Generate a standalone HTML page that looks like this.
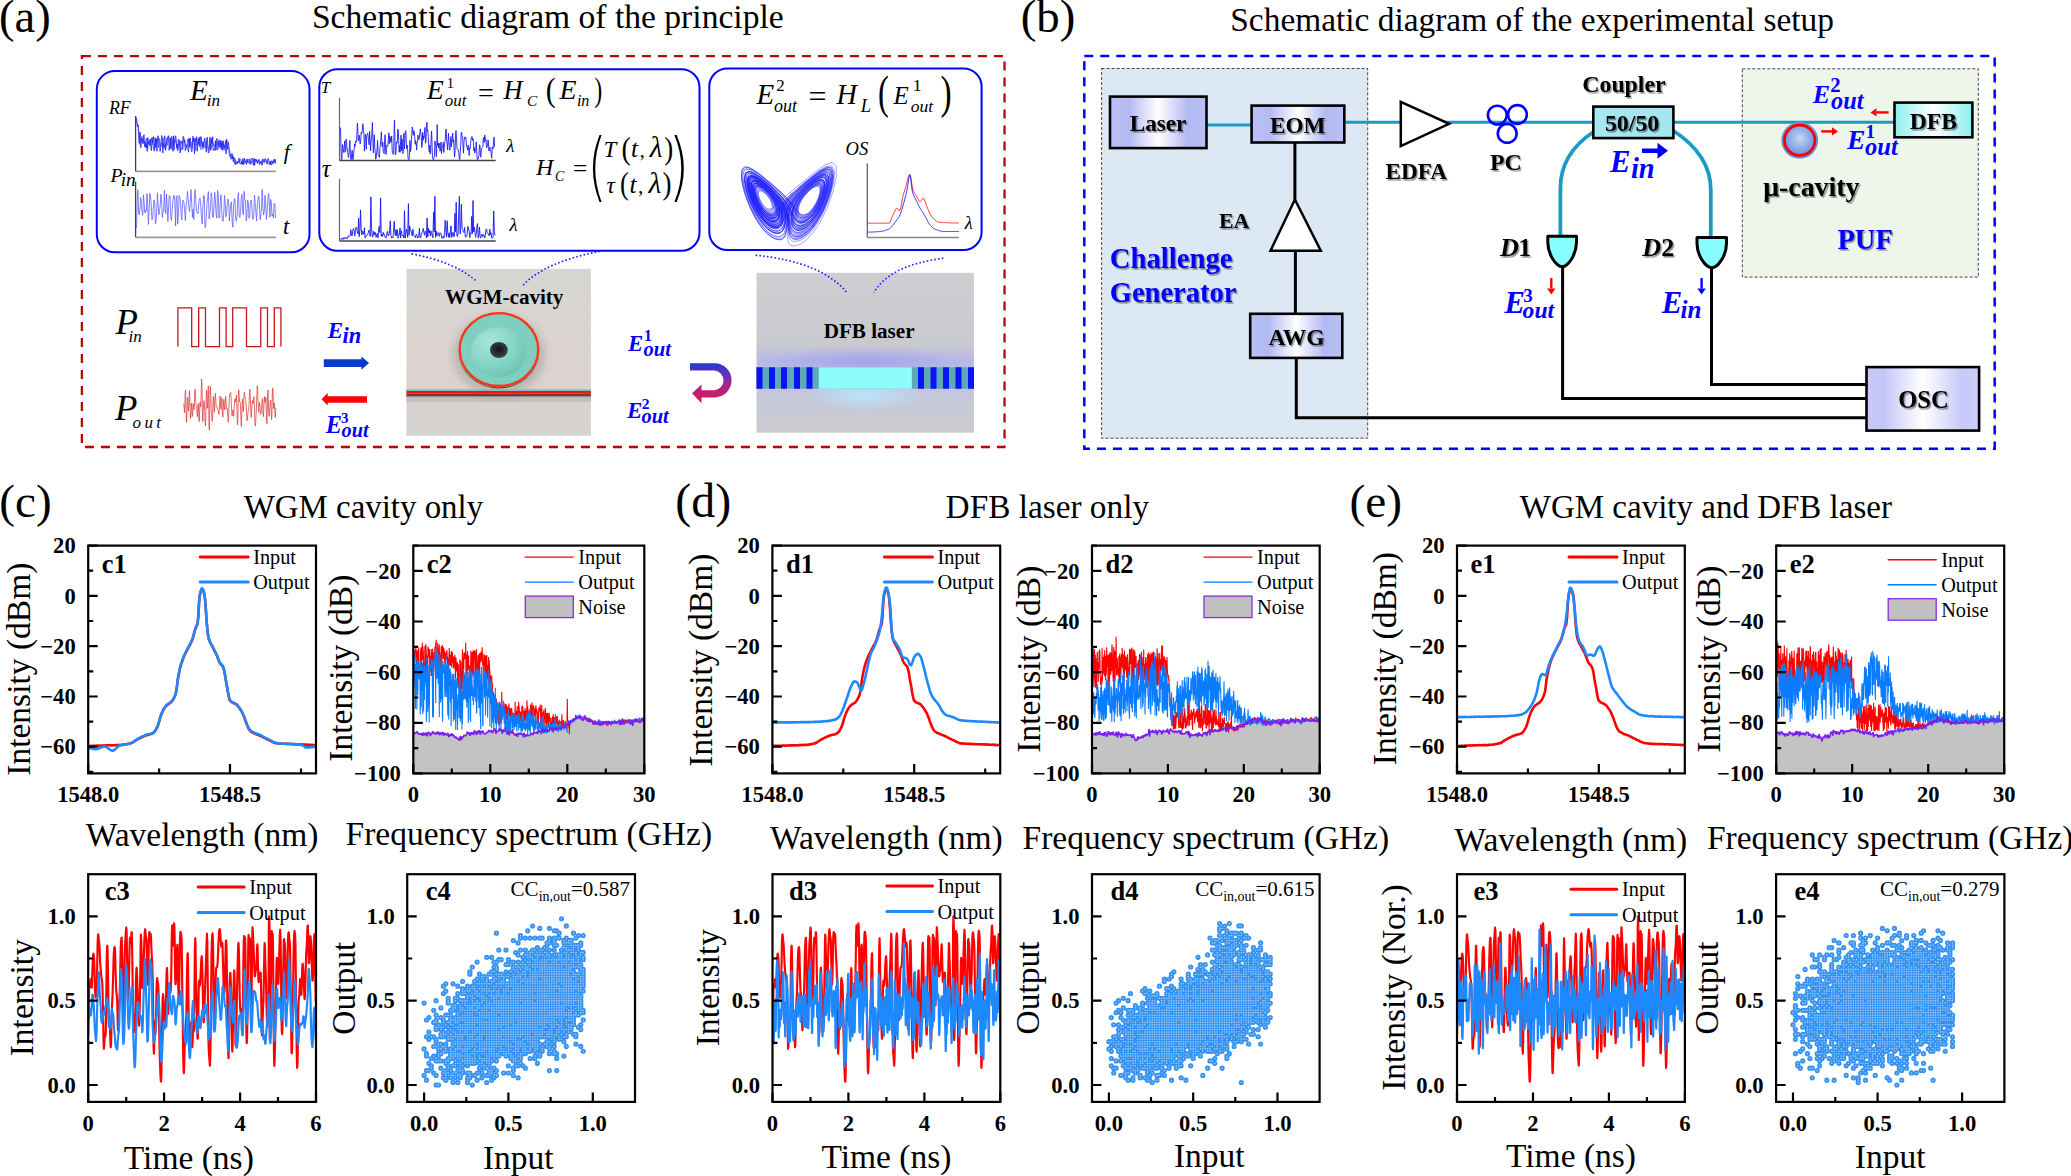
<!DOCTYPE html>
<html><head><meta charset="utf-8"><title>figure</title>
<style>html,body{margin:0;padding:0;background:#fff;}svg{display:block;}</style></head>
<body><svg width="2071" height="1176" viewBox="0 0 2071 1176" font-family='"Liberation Serif", serif'>
<defs><clipPath id="clc1"><rect x="88.2" y="545.6" width="227.8" height="227.8"/></clipPath>
<clipPath id="cld1"><rect x="772.4" y="545.6" width="227.8" height="227.8"/></clipPath>
<clipPath id="cle1"><rect x="1457" y="545.6" width="227.8" height="227.8"/></clipPath>
<clipPath id="clc2"><rect x="413.3" y="545.6" width="231" height="227.8"/></clipPath>
<clipPath id="cld2"><rect x="1092" y="545.6" width="227.7" height="227.8"/></clipPath>
<clipPath id="cle2"><rect x="1776.2" y="545.6" width="228" height="227.8"/></clipPath>
<clipPath id="clc3"><rect x="88.2" y="874.2" width="227.8" height="227.7"/></clipPath>
<clipPath id="cld3"><rect x="772.5" y="874.2" width="227.8" height="227.7"/></clipPath>
<clipPath id="cle3"><rect x="1457" y="874.2" width="227.9" height="227.7"/></clipPath>
<path id="spc4" d="M424.1 1075.4h0m0-26.5h0m0-45.8h0m2.4 77.1h0m0-9.6h0m0-14.5h0m0-2.4h0m0-16.9h0m0-16.8h0m2.4 50.6h0m0-7.3h0m0-24h0m0-7.3h0m0-14.4h0m2.4 50.6h0m0-2.4h0m0-7.3h0m0-21.7h0m2.4 36.2h0m0-16.9h0m0-9.6h0m0-9.7h0m0-14.4h0m0-12.1h0m2.4 74.7h0m0-9.6h0m0-14.5h0m0-19.2h0m0-2.4h0m0-9.7h0m0-2.4h0m0-4.8h0m0-2.4h0m0-4.8h0m0-14.5h0m2.4 84.3h0m0-24.1h0m0-4.8h0m0-2.4h0m0-4.8h0m0-4.8h0m0-16.9h0m0-2.4h0m2.4 43.4h0m0-7.3h0m0-7.2h0m0-4.8h0m0-4.8h0m0-7.3h0m0-2.4h0m0-4.8h0m0-2.4h0m0-9.6h0m0-9.7h0m2.5 69.9h0m0-4.8h0m0-36.2h0m0-2.4h0m0-2.4h0m0-4.8h0m0-4.8h0m0-2.4h0m0-26.5h0m0-7.3h0m2.4 94h0m0-2.4h0m0-2.4h0m0-2.4h0m0-2.4h0m0-7.3h0m0-2.4h0m0-9.6h0m0-2.4h0m0-2.4h0m0-2.4h0m0-9.7h0m0-9.6h0m0-9.6h0m0-24.1h0m0-7.3h0m2.4 89.2h0m0-4.8h0m0-2.4h0m0-4.9h0m0-2.4h0m0-19.2h0m0-2.5h0m0-4.8h0m0-4.8h0m0-4.8h0m0-7.2h0m0-12.1h0m0-2.4h0m0-2.4h0m2.4 79.5h0m0-7.2h0m0-12.1h0m0-2.4h0m0-2.4h0m0-2.4h0m0-2.4h0m0-9.6h0m0-2.5h0m0-2.4h0m0-4.8h0m0-4.8h0m0-2.4h0m0-2.4h0m0-2.4h0m0-2.4h0m0-4.9h0m2.4 72.3h0m0-9.6h0m0-7.2h0m0-7.3h0m0-2.4h0m0-2.4h0m0-2.4h0m0-7.2h0m0-4.8h0m0-2.5h0m0-4.8h0m0-7.2h0m0-4.8h0m0-9.7h0m0-2.4h0m0-2.4h0m0-21.7h0m2.4 94h0m0-12h0m0-2.5h0m0-7.2h0m0-2.4h0m0-2.4h0m0-2.4h0m0-4.8h0m0-2.4h0m0-4.9h0m0-2.4h0m0-2.4h0m0-4.8h0m0-4.8h0m0-2.4h0m0-2.4h0m0-9.7h0m0-2.4h0m0-4.8h0m0-2.4h0m2.4 84.3h0m0-7.2h0m0-4.8h0m0-7.3h0m0-4.8h0m0-2.4h0m0-2.4h0m0-4.8h0m0-2.4h0m0-2.4h0m0-2.4h0m0-2.4h0m0-2.5h0m0-2.4h0m0-4.8h0m0-2.4h0m0-4.8h0m0-2.4h0m0-2.4h0m0-2.4h0m0-2.5h0m0-14.4h0m0-4.8h0m0-7.3h0m2.4 91.6h0m0-2.4h0m0-4.8h0m0-2.4h0m0-2.4h0m0-2.5h0m0-7.2h0m0-2.4h0m0-4.8h0m0-2.4h0m0-2.4h0m0-2.4h0m0-2.4h0m0-2.5h0m0-2.4h0m0-2.4h0m0-2.4h0m0-2.4h0m0-2.4h0m0-4.8h0m0-2.4h0m0-7.3h0m0-2.4h0m0-2.4h0m0-4.8h0m2.4 72.3h0m0-2.4h0m0-4.8h0m0-4.9h0m0-4.8h0m0-4.8h0m0-2.4h0m0-4.8h0m0-2.4h0m0-2.4h0m0-2.5h0m0-2.4h0m0-4.8h0m0-2.4h0m0-2.4h0m0-4.8h0m0-2.4h0m0-2.4h0m0-4.9h0m0-2.4h0m0-7.2h0m0-7.2h0m0-2.4h0m0-2.4h0m0-7.3h0m2.5 81.9h0m0-2.4h0m0-2.4h0m0-2.4h0m0-2.4h0m0-2.4h0m0-2.4h0m0-2.4h0m0-2.4h0m0-2.4h0m0-7.3h0m0-2.4h0m0-2.4h0m0-2.4h0m0-2.4h0m0-2.4h0m0-2.4h0m0-2.4h0m0-2.4h0m0-2.5h0m0-2.4h0m0-4.8h0m0-2.4h0m0-2.4h0m0-7.2h0m0-2.4h0m2.4 91.5h0m0-2.4h0m0-2.4h0m0-4.8h0m0-7.2h0m0-2.5h0m0-2.4h0m0-2.4h0m0-2.4h0m0-2.4h0m0-2.4h0m0-2.4h0m0-2.4h0m0-2.4h0m0-2.4h0m0-2.4h0m0-2.5h0m0-2.4h0m0-2.4h0m0-2.4h0m0-2.4h0m0-2.4h0m0-2.4h0m0-2.4h0m0-2.4h0m0-2.4h0m0-2.5h0m0-2.4h0m0-2.4h0m0-2.4h0m0-4.8h0m0-2.4h0m0-2.4h0m0-4.8h0m0-2.4h0m0-2.5h0m2.4 91.6h0m0-2.4h0m0-2.4h0m0-9.7h0m0-2.4h0m0-2.4h0m0-2.4h0m0-2.4h0m0-4.8h0m0-2.4h0m0-2.4h0m0-2.4h0m0-2.4h0m0-2.5h0m0-2.4h0m0-4.8h0m0-2.4h0m0-2.4h0m0-2.4h0m0-2.4h0m0-2.4h0m0-2.4h0m0-2.5h0m0-2.4h0m0-2.4h0m0-2.4h0m0-9.6h0m0-4.8h0m0-2.4h0m0-14.5h0m0-2.4h0m2.4 113.2h0m0-21.7h0m0-2.4h0m0-2.4h0m0-4.8h0m0-2.4h0m0-4.8h0m0-2.4h0m0-2.4h0m0-2.4h0m0-2.5h0m0-2.4h0m0-2.4h0m0-2.4h0m0-2.4h0m0-2.4h0m0-2.4h0m0-2.4h0m0-2.4h0m0-2.4h0m0-2.5h0m0-2.4h0m0-2.4h0m0-2.4h0m0-2.4h0m0-2.4h0m0-2.4h0m0-2.4h0m0-7.2h0m0-2.5h0m0-19.2h0m2.4 108.4h0m0-12.1h0m0-2.4h0m0-2.4h0m0-2.4h0m0-2.4h0m0-2.4h0m0-2.4h0m0-4.8h0m0-2.4h0m0-2.4h0m0-4.9h0m0-2.4h0m0-2.4h0m0-2.4h0m0-2.4h0m0-2.4h0m0-2.4h0m0-2.4h0m0-7.3h0m0-4.8h0m0-2.4h0m0-4.8h0m0-4.8h0m0-2.4h0m0-2.4h0m0-2.5h0m0-4.8h0m2.4 98.8h0m0-7.2h0m0-21.7h0m0-9.6h0m0-2.4h0m0-2.5h0m0-4.8h0m0-2.4h0m0-2.4h0m0-4.8h0m0-2.4h0m0-2.4h0m0-4.9h0m0-2.4h0m0-2.4h0m0-2.4h0m0-2.4h0m0-2.4h0m0-4.8h0m0-2.4h0m0-2.4h0m0-7.3h0m0-4.8h0m0-16.9h0m2.4 110.9h0m0-4.8h0m0-4.9h0m0-4.8h0m0-2.4h0m0-4.8h0m0-2.4h0m0-2.4h0m0-2.4h0m0-2.4h0m0-2.4h0m0-2.5h0m0-2.4h0m0-2.4h0m0-2.4h0m0-2.4h0m0-2.4h0m0-2.4h0m0-2.4h0m0-2.4h0m0-2.4h0m0-2.5h0m0-4.8h0m0-2.4h0m0-2.4h0m0-7.2h0m0-2.4h0m0-4.8h0m0-4.9h0m0-9.6h0m2.4 103.6h0m0-4.8h0m0-9.7h0m0-2.4h0m0-2.4h0m0-4.8h0m0-2.4h0m0-2.4h0m0-2.4h0m0-2.4h0m0-2.4h0m0-2.4h0m0-2.5h0m0-2.4h0m0-2.4h0m0-2.4h0m0-2.4h0m0-2.4h0m0-2.4h0m0-2.4h0m0-2.4h0m0-2.4h0m0-2.5h0m0-2.4h0m0-2.4h0m0-4.8h0m0-2.4h0m0-2.4h0m0-2.4h0m0-2.4h0m0-2.4h0m0-2.4h0m0-2.5h0m0-2.4h0m0-4.8h0m0-2.4h0m2.4 91.6h0m0-7.3h0m0-2.4h0m0-7.2h0m0-2.4h0m0-2.4h0m0-2.4h0m0-2.4h0m0-7.3h0m0-2.4h0m0-2.4h0m0-2.4h0m0-2.4h0m0-2.4h0m0-4.8h0m0-2.4h0m0-2.5h0m0-2.4h0m0-2.4h0m0-2.4h0m0-4.8h0m0-2.4h0m0-2.4h0m0-4.8h0m0-2.4h0m0-4.9h0m0-7.2h0m2.4 106h0m0-7.2h0m0-12.1h0m0-2.4h0m0-2.4h0m0-2.4h0m0-7.2h0m0-2.4h0m0-2.4h0m0-2.4h0m0-2.4h0m0-2.5h0m0-2.4h0m0-2.4h0m0-2.4h0m0-2.4h0m0-2.4h0m0-2.4h0m0-4.8h0m0-2.4h0m0-2.5h0m0-2.4h0m0-2.4h0m0-2.4h0m0-2.4h0m0-2.4h0m0-2.4h0m0-4.8h0m0-2.4h0m0-2.4h0m0-2.5h0m0-2.4h0m0-2.4h0m0-2.4h0m0-21.7h0m2.5 118.1h0m0-2.4h0m0-2.4h0m0-4.8h0m0-2.5h0m0-2.4h0m0-2.4h0m0-2.4h0m0-2.4h0m0-2.4h0m0-2.4h0m0-2.4h0m0-2.4h0m0-2.4h0m0-2.4h0m0-2.5h0m0-2.4h0m0-2.4h0m0-2.4h0m0-2.4h0m0-2.4h0m0-2.4h0m0-2.4h0m0-2.4h0m0-2.4h0m0-2.5h0m0-4.8h0m0-2.4h0m0-2.4h0m0-7.2h0m0-4.8h0m0-2.4h0m0-4.9h0m0-9.6h0m2.4 106h0m0-7.2h0m0-2.4h0m0-9.7h0m0-4.8h0m0-2.4h0m0-2.4h0m0-2.4h0m0-2.4h0m0-2.4h0m0-2.4h0m0-2.4h0m0-2.5h0m0-2.4h0m0-2.4h0m0-2.4h0m0-2.4h0m0-2.4h0m0-2.4h0m0-2.4h0m0-2.4h0m0-2.4h0m0-2.5h0m0-2.4h0m0-2.4h0m0-2.4h0m0-2.4h0m0-4.8h0m0-2.4h0m0-2.4h0m0-2.4h0m0-7.3h0m0-2.4h0m0-7.2h0m0-2.4h0m0-14.5h0m2.4 120.5h0m0-2.4h0m0-7.2h0m0-9.7h0m0-2.4h0m0-2.4h0m0-2.4h0m0-2.4h0m0-2.4h0m0-2.4h0m0-2.4h0m0-2.4h0m0-2.5h0m0-2.4h0m0-2.4h0m0-2.4h0m0-2.4h0m0-2.4h0m0-2.4h0m0-2.4h0m0-2.4h0m0-2.4h0m0-2.5h0m0-2.4h0m0-2.4h0m0-2.4h0m0-2.4h0m0-2.4h0m0-2.4h0m0-2.4h0m0-4.8h0m0-2.4h0m0-2.5h0m0-4.8h0m0-2.4h0m0-7.2h0m0-4.8h0m0-4.9h0m2.4 113.3h0m0-4.8h0m0-9.7h0m0-4.8h0m0-2.4h0m0-7.2h0m0-2.4h0m0-2.4h0m0-2.4h0m0-2.5h0m0-2.4h0m0-2.4h0m0-2.4h0m0-2.4h0m0-2.4h0m0-2.4h0m0-2.4h0m0-2.4h0m0-2.4h0m0-2.5h0m0-2.4h0m0-2.4h0m0-2.4h0m0-2.4h0m0-2.4h0m0-2.4h0m0-2.4h0m0-2.4h0m0-2.4h0m0-4.9h0m0-2.4h0m0-4.8h0m0-4.8h0m0-4.8h0m0-2.4h0m0-4.9h0m0-28.9h0m2.4 122.9h0m0-2.4h0m0-2.4h0m0-4.8h0m0-2.4h0m0-2.4h0m0-2.4h0m0-2.5h0m0-2.4h0m0-2.4h0m0-4.8h0m0-2.4h0m0-2.4h0m0-2.4h0m0-2.4h0m0-4.9h0m0-2.4h0m0-2.4h0m0-2.4h0m0-2.4h0m0-2.4h0m0-4.8h0m0-2.4h0m0-2.4h0m0-2.4h0m0-4.9h0m0-7.2h0m0-2.4h0m0-14.5h0m0-9.6h0m2.4 101.2h0m0-2.4h0m0-2.4h0m0-2.4h0m0-2.4h0m0-2.4h0m0-2.5h0m0-2.4h0m0-2.4h0m0-2.4h0m0-2.4h0m0-2.4h0m0-2.4h0m0-2.4h0m0-2.4h0m0-2.4h0m0-2.5h0m0-2.4h0m0-2.4h0m0-2.4h0m0-2.4h0m0-2.4h0m0-2.4h0m0-2.4h0m0-12.1h0m0-2.4h0m0-4.8h0m0-2.4h0m0-14.5h0m2.4 113.3h0m0-19.3h0m0-2.4h0m0-7.2h0m0-2.4h0m0-2.4h0m0-4.9h0m0-2.4h0m0-2.4h0m0-4.8h0m0-2.4h0m0-2.4h0m0-2.4h0m0-2.4h0m0-2.5h0m0-2.4h0m0-2.4h0m0-2.4h0m0-2.4h0m0-2.4h0m0-2.4h0m0-2.4h0m0-2.4h0m0-2.4h0m0-2.4h0m0-4.9h0m0-2.4h0m0-2.4h0m0-2.4h0m2.4 79.5h0m0-2.4h0m0-2.4h0m0-4.8h0m0-2.4h0m0-2.4h0m0-2.4h0m0-2.5h0m0-2.4h0m0-2.4h0m0-2.4h0m0-2.4h0m0-2.4h0m0-2.4h0m0-2.4h0m0-2.4h0m0-2.4h0m0-2.5h0m0-2.4h0m0-2.4h0m0-2.4h0m0-2.4h0m0-2.4h0m0-2.4h0m0-2.4h0m0-2.4h0m0-2.4h0m0-2.4h0m0-2.5h0m0-2.4h0m0-7.2h0m0-4.8h0m0-7.2h0m0-14.5h0m2.4 122.9h0m0-7.2h0m0-12.1h0m0-2.4h0m0-2.4h0m0-2.4h0m0-2.4h0m0-2.4h0m0-2.4h0m0-2.5h0m0-2.4h0m0-2.4h0m0-2.4h0m0-2.4h0m0-2.4h0m0-2.4h0m0-2.4h0m0-2.4h0m0-2.4h0m0-2.5h0m0-2.4h0m0-2.4h0m0-2.4h0m0-2.4h0m0-2.4h0m0-2.4h0m0-2.4h0m0-4.8h0m0-2.4h0m0-2.5h0m0-2.4h0m0-7.2h0m0-2.4h0m0-9.6h0m0-4.9h0m2.5 98.8h0m0-2.4h0m0-2.4h0m0-7.2h0m0-2.4h0m0-4.8h0m0-2.5h0m0-2.4h0m0-2.4h0m0-2.4h0m0-2.4h0m0-4.8h0m0-2.4h0m0-2.4h0m0-2.4h0m0-2.5h0m0-2.4h0m0-2.4h0m0-2.4h0m0-2.4h0m0-2.4h0m0-2.4h0m0-2.4h0m0-2.4h0m0-2.4h0m0-4.9h0m0-2.4h0m0-2.4h0m0-2.4h0m0-7.2h0m0-9.7h0m2.4 113.3h0m0-4.8h0m0-2.4h0m0-7.3h0m0-2.4h0m0-2.4h0m0-4.8h0m0-4.8h0m0-4.8h0m0-2.4h0m0-2.5h0m0-2.4h0m0-2.4h0m0-2.4h0m0-2.4h0m0-2.4h0m0-2.4h0m0-2.4h0m0-2.4h0m0-2.4h0m0-2.5h0m0-2.4h0m0-2.4h0m0-2.4h0m0-2.4h0m0-2.4h0m0-2.4h0m0-2.4h0m0-2.4h0m0-2.4h0m0-2.4h0m0-2.5h0m0-2.4h0m0-2.4h0m0-2.4h0m0-2.4h0m0-2.4h0m0-4.8h0m0-2.4h0m0-4.9h0m0-21.6h0m2.4 125.3h0m0-4.9h0m0-2.4h0m0-4.8h0m0-2.4h0m0-2.4h0m0-2.4h0m0-2.4h0m0-2.4h0m0-2.4h0m0-2.5h0m0-2.4h0m0-2.4h0m0-2.4h0m0-2.4h0m0-2.4h0m0-4.8h0m0-2.4h0m0-2.4h0m0-2.5h0m0-2.4h0m0-2.4h0m0-2.4h0m0-2.4h0m0-2.4h0m0-2.4h0m0-2.4h0m0-2.4h0m0-2.4h0m0-2.4h0m0-2.5h0m0-2.4h0m0-2.4h0m0-2.4h0m0-2.4h0m0-9.6h0m0-14.5h0m2.4 125.3h0m0-12h0m0-9.7h0m0-4.8h0m0-2.4h0m0-2.4h0m0-2.4h0m0-2.4h0m0-4.9h0m0-2.4h0m0-2.4h0m0-2.4h0m0-2.4h0m0-2.4h0m0-2.4h0m0-2.4h0m0-2.4h0m0-2.4h0m0-2.5h0m0-2.4h0m0-2.4h0m0-2.4h0m0-2.4h0m0-2.4h0m0-2.4h0m0-2.4h0m0-2.4h0m0-2.4h0m0-2.4h0m0-2.5h0m0-2.4h0m0-4.8h0m0-2.4h0m0-2.4h0m0-2.4h0m0-9.7h0m0-7.2h0m0-12h0m2.4 120.4h0m0-4.8h0m0-2.4h0m0-2.4h0m0-7.2h0m0-2.4h0m0-2.4h0m0-4.9h0m0-2.4h0m0-2.4h0m0-2.4h0m0-2.4h0m0-2.4h0m0-2.4h0m0-2.4h0m0-2.4h0m0-2.4h0m0-2.5h0m0-2.4h0m0-2.4h0m0-2.4h0m0-4.8h0m0-2.4h0m0-2.4h0m0-2.4h0m0-2.4h0m0-2.4h0m0-2.5h0m0-2.4h0m0-2.4h0m0-2.4h0m0-2.4h0m0-2.4h0m0-4.8h0m0-4.8h0m0-14.5h0m0-12h0m0-2.5h0m2.4 130.2h0m0-12.1h0m0-2.4h0m0-2.4h0m0-2.4h0m0-2.4h0m0-2.4h0m0-2.4h0m0-4.9h0m0-2.4h0m0-2.4h0m0-2.4h0m0-2.4h0m0-2.4h0m0-2.4h0m0-2.4h0m0-2.4h0m0-2.5h0m0-2.4h0m0-2.4h0m0-2.4h0m0-2.4h0m0-2.4h0m0-2.4h0m0-2.4h0m0-2.4h0m0-2.4h0m0-2.4h0m0-2.5h0m0-4.8h0m0-2.4h0m0-4.8h0m0-2.4h0m0-7.2h0m0-2.5h0m0-4.8h0m2.4 110.9h0m0-14.5h0m0-2.4h0m0-2.4h0m0-2.4h0m0-2.4h0m0-4.8h0m0-2.5h0m0-2.4h0m0-2.4h0m0-2.4h0m0-2.4h0m0-2.4h0m0-2.4h0m0-2.4h0m0-2.4h0m0-2.4h0m0-2.5h0m0-2.4h0m0-2.4h0m0-2.4h0m0-2.4h0m0-2.4h0m0-2.4h0m0-2.4h0m0-2.4h0m0-2.4h0m0-2.4h0m0-2.5h0m0-2.4h0m0-2.4h0m0-2.4h0m0-2.4h0m0-2.4h0m0-2.4h0m0-2.4h0m0-2.4h0m0-2.4h0m0-4.9h0m0-4.8h0m0-4.8h0m0-12h0m2.4 113.2h0m0-4.8h0m0-4.8h0m0-2.4h0m0-2.5h0m0-2.4h0m0-2.4h0m0-2.4h0m0-2.4h0m0-2.4h0m0-2.4h0m0-2.4h0m0-2.4h0m0-2.4h0m0-2.5h0m0-2.4h0m0-2.4h0m0-2.4h0m0-2.4h0m0-2.4h0m0-2.4h0m0-2.4h0m0-2.4h0m0-2.4h0m0-2.4h0m0-2.5h0m0-2.4h0m0-2.4h0m0-2.4h0m0-9.6h0m0-2.4h0m0-4.9h0m0-4.8h0m0-2.4h0m0-24.1h0m2.4 127.7h0m0-7.2h0m0-2.4h0m0-2.4h0m0-2.4h0m0-2.4h0m0-2.4h0m0-2.5h0m0-2.4h0m0-2.4h0m0-2.4h0m0-2.4h0m0-2.4h0m0-2.4h0m0-2.4h0m0-2.4h0m0-2.4h0m0-2.5h0m0-2.4h0m0-2.4h0m0-2.4h0m0-2.4h0m0-2.4h0m0-2.4h0m0-2.4h0m0-2.4h0m0-2.4h0m0-2.4h0m0-2.5h0m0-2.4h0m0-2.4h0m0-2.4h0m0-2.4h0m0-2.4h0m0-2.4h0m0-2.4h0m0-7.3h0m0-4.8h0m0-2.4h0m0-2.4h0m0-14.4h0m2.5 108.4h0m0-2.4h0m0-2.4h0m0-2.4h0m0-2.5h0m0-4.8h0m0-2.4h0m0-2.4h0m0-2.4h0m0-2.4h0m0-2.4h0m0-2.4h0m0-2.4h0m0-2.5h0m0-2.4h0m0-2.4h0m0-2.4h0m0-2.4h0m0-2.4h0m0-2.4h0m0-2.4h0m0-2.4h0m0-2.4h0m0-2.4h0m0-2.5h0m0-2.4h0m0-2.4h0m0-2.4h0m0-2.4h0m0-2.4h0m0-2.4h0m0-4.8h0m0-2.4h0m0-4.9h0m0-2.4h0m0-4.8h0m0-2.4h0m0-24.1h0m2.4 132.5h0m0-2.4h0m0-4.8h0m0-2.4h0m0-2.4h0m0-2.4h0m0-2.4h0m0-2.4h0m0-2.5h0m0-2.4h0m0-2.4h0m0-2.4h0m0-2.4h0m0-2.4h0m0-2.4h0m0-2.4h0m0-2.4h0m0-2.4h0m0-2.5h0m0-2.4h0m0-2.4h0m0-2.4h0m0-2.4h0m0-4.8h0m0-2.4h0m0-4.8h0m0-2.4h0m0-2.5h0m0-2.4h0m0-2.4h0m0-2.4h0m0-2.4h0m0-2.4h0m0-2.4h0m0-2.4h0m0-2.4h0m0-2.4h0m0-2.5h0m0-2.4h0m0-4.8h0m0-4.8h0m0-12h0m2.4 125.2h0m0-9.6h0m0-4.8h0m0-2.4h0m0-2.4h0m0-2.4h0m0-2.4h0m0-2.5h0m0-2.4h0m0-2.4h0m0-2.4h0m0-2.4h0m0-2.4h0m0-2.4h0m0-2.4h0m0-2.4h0m0-2.4h0m0-2.5h0m0-2.4h0m0-2.4h0m0-2.4h0m0-2.4h0m0-2.4h0m0-2.4h0m0-2.4h0m0-2.4h0m0-2.4h0m0-2.4h0m0-2.5h0m0-2.4h0m0-2.4h0m0-2.4h0m0-2.4h0m0-2.4h0m0-2.4h0m0-4.8h0m0-2.4h0m0-2.5h0m0-2.4h0m0-2.4h0m0-2.4h0m0-7.2h0m2.4 108.4h0m0-2.4h0m0-9.6h0m0-7.3h0m0-2.4h0m0-2.4h0m0-2.4h0m0-4.8h0m0-2.4h0m0-2.4h0m0-2.4h0m0-2.4h0m0-2.5h0m0-2.4h0m0-2.4h0m0-2.4h0m0-2.4h0m0-2.4h0m0-2.4h0m0-2.4h0m0-2.4h0m0-2.4h0m0-2.4h0m0-2.5h0m0-2.4h0m0-2.4h0m0-4.8h0m0-2.4h0m0-2.4h0m0-2.4h0m0-2.4h0m0-2.4h0m0-2.5h0m0-7.2h0m0-4.8h0m0-12h0m0-9.7h0m2.4 122.9h0m0-2.4h0m0-2.4h0m0-9.7h0m0-2.4h0m0-2.4h0m0-2.4h0m0-2.4h0m0-2.4h0m0-2.4h0m0-2.4h0m0-2.4h0m0-2.4h0m0-2.5h0m0-2.4h0m0-2.4h0m0-2.4h0m0-2.4h0m0-2.4h0m0-2.4h0m0-2.4h0m0-2.4h0m0-2.4h0m0-2.4h0m0-2.5h0m0-2.4h0m0-2.4h0m0-2.4h0m0-2.4h0m0-2.4h0m0-2.4h0m0-2.4h0m0-2.4h0m0-2.4h0m0-2.5h0m0-2.4h0m0-9.6h0m0-12h0m2.4 106h0m0-7.3h0m0-4.8h0m0-4.8h0m0-2.4h0m0-2.4h0m0-2.4h0m0-2.4h0m0-2.4h0m0-2.5h0m0-2.4h0m0-2.4h0m0-2.4h0m0-2.4h0m0-2.4h0m0-2.4h0m0-2.4h0m0-2.4h0m0-2.4h0m0-2.4h0m0-2.5h0m0-2.4h0m0-2.4h0m0-2.4h0m0-2.4h0m0-2.4h0m0-2.4h0m0-2.4h0m0-2.4h0m0-2.4h0m0-2.5h0m0-2.4h0m0-2.4h0m0-4.8h0m0-4.8h0m2.4 98.8h0m0-2.4h0m0-2.4h0m0-4.9h0m0-2.4h0m0-2.4h0m0-4.8h0m0-4.8h0m0-2.4h0m0-2.4h0m0-2.4h0m0-2.5h0m0-2.4h0m0-2.4h0m0-2.4h0m0-2.4h0m0-2.4h0m0-2.4h0m0-2.4h0m0-2.4h0m0-2.4h0m0-2.4h0m0-2.5h0m0-2.4h0m0-2.4h0m0-2.4h0m0-2.4h0m0-2.4h0m0-2.4h0m0-2.4h0m0-2.4h0m0-2.4h0m0-2.5h0m0-2.4h0m0-4.8h0m0-2.4h0m0-7.2h0m0-2.4h0m2.4 127.7h0m0-16.9h0m0-4.8h0m0-2.4h0m0-4.8h0m0-4.9h0m0-2.4h0m0-2.4h0m0-2.4h0m0-4.8h0m0-2.4h0m0-2.4h0m0-2.4h0m0-2.4h0m0-2.5h0m0-2.4h0m0-2.4h0m0-2.4h0m0-2.4h0m0-2.4h0m0-2.4h0m0-2.4h0m0-2.4h0m0-2.4h0m0-2.4h0m0-2.5h0m0-2.4h0m0-2.4h0m0-2.4h0m0-2.4h0m0-2.4h0m0-2.4h0m0-2.4h0m0-2.4h0m0-2.4h0m0-4.9h0m0-2.4h0m0-2.4h0m0-4.8h0m0-7.2h0m0-2.4h0m0-2.4h0m0-9.7h0m2.4 115.7h0m0-7.3h0m0-2.4h0m0-2.4h0m0-2.4h0m0-2.4h0m0-2.4h0m0-2.4h0m0-2.4h0m0-2.4h0m0-2.4h0m0-2.5h0m0-2.4h0m0-2.4h0m0-2.4h0m0-2.4h0m0-2.4h0m0-2.4h0m0-2.4h0m0-2.4h0m0-2.4h0m0-2.4h0m0-2.5h0m0-2.4h0m0-2.4h0m0-2.4h0m0-2.4h0m0-2.4h0m0-2.4h0m0-2.4h0m0-2.4h0m0-2.4h0m0-2.5h0m0-2.4h0m2.4 94h0m0-2.4h0m0-4.8h0m0-4.8h0m0-2.4h0m0-2.5h0m0-9.6h0m0-2.4h0m0-2.4h0m0-2.4h0m0-2.4h0m0-2.4h0m0-2.5h0m0-2.4h0m0-2.4h0m0-2.4h0m0-2.4h0m0-2.4h0m0-2.4h0m0-2.4h0m0-2.4h0m0-2.4h0m0-2.4h0m0-2.5h0m0-2.4h0m0-2.4h0m0-2.4h0m0-2.4h0m0-2.4h0m0-2.4h0m0-2.4h0m0-2.4h0m0-2.4h0m0-2.5h0m0-2.4h0m0-4.8h0m0-4.8h0m0-4.8h0m0-2.4h0m0-2.4h0m0-2.4h0m0-7.3h0m2.5 139.8h0m0-12.1h0m0-4.8h0m0-21.7h0m0-2.4h0m0-4.8h0m0-2.4h0m0-4.8h0m0-2.4h0m0-2.5h0m0-2.4h0m0-2.4h0m0-2.4h0m0-2.4h0m0-2.4h0m0-2.4h0m0-2.4h0m0-2.4h0m0-4.8h0m0-2.5h0m0-2.4h0m0-2.4h0m0-2.4h0m0-2.4h0m0-2.4h0m0-2.4h0m0-2.4h0m0-2.4h0m0-2.4h0m0-2.5h0m0-2.4h0m0-4.8h0m0-9.6h0m0-7.2h0m0-7.3h0m2.4 108.5h0m0-2.5h0m0-4.8h0m0-2.4h0m0-2.4h0m0-2.4h0m0-4.8h0m0-2.4h0m0-2.4h0m0-2.5h0m0-2.4h0m0-2.4h0m0-2.4h0m0-2.4h0m0-2.4h0m0-2.4h0m0-2.4h0m0-2.4h0m0-2.4h0m0-2.4h0m0-2.5h0m0-4.8h0m0-2.4h0m0-2.4h0m0-2.4h0m0-2.4h0m0-2.4h0m0-2.4h0m0-2.4h0m0-4.9h0m0-2.4h0m0-2.4h0m0-16.8h0m0-4.9h0m2.4 106.1h0m0-4.9h0m0-4.8h0m0-2.4h0m0-2.4h0m0-2.4h0m0-2.4h0m0-2.4h0m0-2.4h0m0-2.5h0m0-2.4h0m0-2.4h0m0-2.4h0m0-4.8h0m0-2.4h0m0-2.4h0m0-2.4h0m0-2.4h0m0-2.4h0m0-4.9h0m0-2.4h0m0-2.4h0m0-2.4h0m0-2.4h0m0-2.4h0m0-2.4h0m0-2.4h0m0-2.4h0m0-2.5h0m0-2.4h0m0-2.4h0m0-2.4h0m0-4.8h0m0-31.3h0m2.4 137.3h0m0-14.4h0m0-4.9h0m0-4.8h0m0-2.4h0m0-12h0m0-2.4h0m0-2.5h0m0-2.4h0m0-2.4h0m0-2.4h0m0-2.4h0m0-2.4h0m0-2.4h0m0-2.4h0m0-2.4h0m0-2.4h0m0-2.4h0m0-2.5h0m0-2.4h0m0-2.4h0m0-2.4h0m0-2.4h0m0-2.4h0m0-2.4h0m0-2.4h0m0-4.8h0m0-2.5h0m0-2.4h0m0-7.2h0m0-4.8h0m0-4.8h0m0-2.4h0m2.4 106h0m0-9.7h0m0-7.2h0m0-4.8h0m0-2.4h0m0-2.4h0m0-4.8h0m0-2.5h0m0-7.2h0m0-2.4h0m0-2.4h0m0-2.4h0m0-2.4h0m0-2.4h0m0-2.4h0m0-2.4h0m0-2.5h0m0-2.4h0m0-2.4h0m0-2.4h0m0-2.4h0m0-2.4h0m0-2.4h0m0-2.4h0m0-2.4h0m0-2.4h0m0-2.5h0m0-2.4h0m0-2.4h0m0-2.4h0m0-2.4h0m0-2.4h0m0-2.4h0m0-4.8h0m0-4.8h0m0-12.1h0m2.4 106h0m0-2.4h0m0-2.4h0m0-2.4h0m0-4.8h0m0-2.4h0m0-2.4h0m0-2.5h0m0-2.4h0m0-4.8h0m0-2.4h0m0-2.4h0m0-2.4h0m0-2.4h0m0-2.4h0m0-2.4h0m0-2.4h0m0-2.5h0m0-2.4h0m0-2.4h0m0-2.4h0m0-2.4h0m0-2.4h0m0-2.4h0m0-2.4h0m0-2.4h0m0-2.4h0m0-4.9h0m0-2.4h0m0-2.4h0m0-4.8h0m0-7.2h0m0-2.4h0m2.4 89.1h0m0-2.4h0m0-2.4h0m0-4.8h0m0-2.4h0m0-2.4h0m0-2.5h0m0-2.4h0m0-2.4h0m0-2.4h0m0-2.4h0m0-2.4h0m0-2.4h0m0-2.4h0m0-2.4h0m0-2.4h0m0-2.4h0m0-2.5h0m0-2.4h0m0-2.4h0m0-2.4h0m0-2.4h0m0-4.8h0m0-2.4h0m0-2.4h0m0-2.4h0m0-2.5h0m0-2.4h0m0-7.2h0m0-2.4h0m0-4.8h0m0-2.4h0m0-2.4h0m2.4 93.9h0m0-9.6h0m0-2.4h0m0-2.4h0m0-2.4h0m0-2.4h0m0-4.9h0m0-4.8h0m0-2.4h0m0-2.4h0m0-2.4h0m0-2.4h0m0-2.4h0m0-2.4h0m0-2.4h0m0-2.5h0m0-2.4h0m0-2.4h0m0-4.8h0m0-2.4h0m0-2.4h0m0-4.8h0m0-2.4h0m0-2.5h0m0-2.4h0m0-2.4h0m0-4.8h0m0-2.4h0m0-2.4h0m0-2.4h0m0-12.1h0m2.4 110.9h0m0-7.3h0m0-2.4h0m0-19.2h0m0-2.5h0m0-7.2h0m0-4.8h0m0-2.4h0m0-2.4h0m0-2.4h0m0-4.8h0m0-2.5h0m0-2.4h0m0-2.4h0m0-2.4h0m0-2.4h0m0-2.4h0m0-7.2h0m0-4.9h0m0-7.2h0m0-2.4h0m0-7.2h0m0-7.2h0m2.5 89.1h0m0-12h0m0-4.9h0m0-2.4h0m0-2.4h0m0-2.4h0m0-2.4h0m0-2.4h0m0-2.4h0m0-2.4h0m0-2.4h0m0-2.4h0m0-2.5h0m0-2.4h0m0-4.8h0m0-12h0m0-2.4h0m0-2.5h0m0-2.4h0m0-9.6h0m0-2.4h0m0-2.4h0m0-9.7h0m2.4 110.9h0m0-16.9h0m0-4.8h0m0-12.1h0m0-2.4h0m0-2.4h0m0-2.4h0m0-2.4h0m0-2.4h0m0-2.4h0m0-2.4h0m0-4.8h0m0-2.4h0m0-2.5h0m0-2.4h0m0-2.4h0m0-2.4h0m0-2.4h0m0-4.8h0m0-2.4h0m0-2.4h0m0-2.4h0m0-9.7h0m0-2.4h0m0-7.2h0m0-2.4h0m2.4 108.4h0m0-31.3h0m0-7.3h0m0-2.4h0m0-19.2h0m0-4.9h0m0-2.4h0m0-2.4h0m0-2.4h0m0-2.4h0m0-2.4h0m0-2.4h0m0-2.4h0m0-9.7h0m0-2.4h0m0-4.8h0m0-16.9h0"/>
<path id="spd4" d="M1108.9 1048.9h0m0-7.2h0m2.4 24.1h0m0-7.3h0m0-7.2h0m0-4.8h0m0-4.8h0m0-24.1h0m2.4 55.4h0m0-4.8h0m0-26.5h0m0-4.9h0m0-12h0m2.4 43.4h0m0-7.3h0m0-14.4h0m0-2.4h0m0-4.8h0m0-2.5h0m0-24.1h0m0-9.6h0m2.4 48.2h0m0-2.4h0m0-4.8h0m0-9.7h0m0-4.8h0m0-4.8h0m0-14.5h0m0-9.6h0m2.4 74.7h0m0-14.5h0m0-4.8h0m0-9.6h0m0-2.4h0m0-4.8h0m0-12.1h0m0-9.6h0m0-4.9h0m2.4 53.1h0m0-9.7h0m0-2.4h0m0-2.4h0m0-2.4h0m0-7.2h0m0-2.4h0m0-7.3h0m0-4.8h0m0-7.2h0m0-12.1h0m0-9.6h0m2.4 79.5h0m0-2.4h0m0-2.4h0m0-4.8h0m0-2.4h0m0-4.9h0m0-4.8h0m0-2.4h0m0-4.8h0m0-2.4h0m0-4.8h0m0-7.3h0m0-2.4h0m0-2.4h0m0-7.2h0m2.4 57.8h0m0-7.2h0m0-4.8h0m0-7.3h0m0-4.8h0m0-2.4h0m0-2.4h0m0-2.4h0m0-2.4h0m0-2.4h0m0-2.4h0m0-2.4h0m0-2.5h0m0-2.4h0m0-2.4h0m0-4.8h0m0-4.8h0m0-2.4h0m0-4.8h0m0-4.9h0m0-9.6h0m2.4 67.5h0m0-2.4h0m0-4.9h0m0-4.8h0m0-2.4h0m0-4.8h0m0-2.4h0m0-4.8h0m0-2.4h0m0-2.5h0m0-2.4h0m0-2.4h0m0-2.4h0m0-2.4h0m0-7.2h0m0-9.7h0m0-16.8h0m2.4 86.7h0m0-2.4h0m0-7.2h0m0-4.8h0m0-2.5h0m0-2.4h0m0-2.4h0m0-2.4h0m0-2.4h0m0-2.4h0m0-4.8h0m0-2.4h0m0-2.4h0m0-2.4h0m0-2.5h0m0-2.4h0m0-2.4h0m0-2.4h0m0-2.4h0m0-2.4h0m0-7.2h0m0-4.9h0m0-2.4h0m2.5 62.7h0m0-2.4h0m0-4.8h0m0-2.5h0m0-2.4h0m0-2.4h0m0-2.4h0m0-2.4h0m0-2.4h0m0-7.2h0m0-7.3h0m0-7.2h0m0-4.8h0m0-2.4h0m0-4.8h0m0-2.4h0m0-7.3h0m0-2.4h0m2.4 65.1h0m0-2.4h0m0-9.7h0m0-2.4h0m0-2.4h0m0-4.8h0m0-2.4h0m0-2.4h0m0-2.4h0m0-2.4h0m0-4.9h0m0-2.4h0m0-2.4h0m0-2.4h0m0-2.4h0m0-4.8h0m0-4.8h0m2.4 62.6h0m0-2.4h0m0-9.6h0m0-2.5h0m0-2.4h0m0-4.8h0m0-4.8h0m0-2.4h0m0-2.4h0m0-2.4h0m0-2.4h0m0-2.4h0m0-2.5h0m0-2.4h0m0-4.8h0m0-2.4h0m0-2.4h0m0-7.2h0m0-2.4h0m0-2.5h0m0-2.4h0m0-2.4h0m2.4 60.3h0m0-4.9h0m0-2.4h0m0-2.4h0m0-2.4h0m0-2.4h0m0-2.4h0m0-2.4h0m0-2.4h0m0-2.4h0m0-2.4h0m0-2.4h0m0-2.5h0m0-2.4h0m0-4.8h0m0-2.4h0m0-2.4h0m0-2.4h0m0-2.4h0m0-2.4h0m0-2.4h0m0-2.5h0m0-7.2h0m0-2.4h0m0-12h0m2.4 86.7h0m0-9.6h0m0-2.4h0m0-4.9h0m0-4.8h0m0-4.8h0m0-2.4h0m0-2.4h0m0-2.4h0m0-2.4h0m0-2.4h0m0-2.5h0m0-2.4h0m0-2.4h0m0-2.4h0m0-4.8h0m0-2.4h0m0-7.2h0m0-2.5h0m0-2.4h0m0-16.8h0m0-4.8h0m2.4 91.5h0m0-2.4h0m0-4.8h0m0-2.4h0m0-2.4h0m0-2.4h0m0-2.5h0m0-2.4h0m0-2.4h0m0-2.4h0m0-4.8h0m0-2.4h0m0-2.4h0m0-2.4h0m0-2.4h0m0-2.4h0m0-2.5h0m0-2.4h0m0-2.4h0m0-2.4h0m0-2.4h0m0-4.8h0m0-2.4h0m0-2.4h0m0-2.4h0m0-2.5h0m0-2.4h0m0-7.2h0m0-4.8h0m0-4.8h0m2.4 86.7h0m0-4.8h0m0-7.2h0m0-2.4h0m0-2.5h0m0-7.2h0m0-2.4h0m0-2.4h0m0-4.8h0m0-2.4h0m0-2.4h0m0-2.4h0m0-2.5h0m0-2.4h0m0-2.4h0m0-2.4h0m0-2.4h0m0-2.4h0m0-2.4h0m0-2.4h0m0-2.4h0m0-2.4h0m0-4.9h0m0-2.4h0m0-2.4h0m0-2.4h0m0-12h0m2.4 91.5h0m0-9.6h0m0-7.2h0m0-2.5h0m0-4.8h0m0-7.2h0m0-2.4h0m0-2.4h0m0-4.8h0m0-2.4h0m0-2.5h0m0-2.4h0m0-2.4h0m0-2.4h0m0-2.4h0m0-2.4h0m0-2.4h0m0-2.4h0m0-2.4h0m0-2.4h0m0-2.5h0m0-2.4h0m0-2.4h0m0-2.4h0m0-2.4h0m0-2.4h0m0-4.8h0m2.4 72.3h0m0-4.9h0m0-2.4h0m0-4.8h0m0-2.4h0m0-2.4h0m0-4.8h0m0-2.4h0m0-2.4h0m0-2.4h0m0-2.5h0m0-2.4h0m0-2.4h0m0-2.4h0m0-2.4h0m0-2.4h0m0-2.4h0m0-2.4h0m0-2.4h0m0-2.4h0m0-4.9h0m0-2.4h0m0-2.4h0m0-2.4h0m0-2.4h0m0-4.8h0m2.4 84.3h0m0-4.8h0m0-7.2h0m0-7.3h0m0-2.4h0m0-2.4h0m0-2.4h0m0-2.4h0m0-2.4h0m0-2.4h0m0-2.4h0m0-2.4h0m0-2.4h0m0-2.5h0m0-2.4h0m0-2.4h0m0-2.4h0m0-2.4h0m0-2.4h0m0-2.4h0m0-2.4h0m0-2.4h0m0-2.4h0m0-2.5h0m0-2.4h0m0-2.4h0m0-2.4h0m0-9.6h0m0-2.4h0m2.4 81.9h0m0-12.1h0m0-4.8h0m0-2.4h0m0-2.4h0m0-4.8h0m0-2.4h0m0-2.4h0m0-2.4h0m0-2.4h0m0-2.5h0m0-2.4h0m0-2.4h0m0-2.4h0m0-2.4h0m0-2.4h0m0-2.4h0m0-2.4h0m0-2.4h0m0-2.4h0m0-2.5h0m0-2.4h0m0-2.4h0m0-9.6h0m0-12.1h0m2.4 86.8h0m0-4.8h0m0-2.4h0m0-2.5h0m0-2.4h0m0-2.4h0m0-2.4h0m0-2.4h0m0-2.4h0m0-2.4h0m0-2.4h0m0-2.4h0m0-2.4h0m0-2.4h0m0-2.5h0m0-2.4h0m0-2.4h0m0-2.4h0m0-2.4h0m0-2.4h0m0-2.4h0m0-2.4h0m0-2.4h0m0-2.4h0m0-2.5h0m0-2.4h0m0-4.8h0m0-2.4h0m0-2.4h0m0-2.4h0m2.5 77.1h0m0-4.8h0m0-9.7h0m0-2.4h0m0-2.4h0m0-2.4h0m0-2.4h0m0-2.4h0m0-2.4h0m0-2.4h0m0-2.4h0m0-2.4h0m0-2.5h0m0-2.4h0m0-2.4h0m0-2.4h0m0-2.4h0m0-2.4h0m0-2.4h0m0-2.4h0m0-2.4h0m0-2.4h0m0-2.5h0m0-2.4h0m0-4.8h0m0-2.4h0m0-2.4h0m0-2.4h0m0-16.9h0m0-2.4h0m2.4 84.3h0m0-2.4h0m0-2.4h0m0-2.4h0m0-2.4h0m0-2.4h0m0-2.4h0m0-2.4h0m0-2.4h0m0-2.4h0m0-2.4h0m0-2.5h0m0-2.4h0m0-2.4h0m0-2.4h0m0-2.4h0m0-2.4h0m0-2.4h0m0-2.4h0m0-2.4h0m0-2.4h0m0-2.5h0m0-2.4h0m0-2.4h0m0-2.4h0m0-7.2h0m0-4.8h0m0-4.8h0m2.4 79.5h0m0-2.4h0m0-7.3h0m0-2.4h0m0-2.4h0m0-2.4h0m0-2.4h0m0-2.4h0m0-2.4h0m0-2.4h0m0-2.4h0m0-2.5h0m0-2.4h0m0-2.4h0m0-2.4h0m0-2.4h0m0-2.4h0m0-2.4h0m0-2.4h0m0-2.4h0m0-2.4h0m0-2.5h0m0-2.4h0m0-2.4h0m0-2.4h0m0-2.4h0m0-2.4h0m0-2.4h0m0-2.4h0m0-2.4h0m0-4.8h0m0-9.7h0m2.4 101.2h0m0-16.9h0m0-4.8h0m0-2.4h0m0-2.4h0m0-7.2h0m0-2.4h0m0-2.4h0m0-2.4h0m0-2.5h0m0-2.4h0m0-2.4h0m0-2.4h0m0-2.4h0m0-2.4h0m0-2.4h0m0-2.4h0m0-2.4h0m0-2.4h0m0-4.9h0m0-2.4h0m0-2.4h0m0-2.4h0m0-2.4h0m0-2.4h0m0-2.4h0m0-4.8h0m0-4.9h0m0-9.6h0m0-2.4h0m2.4 89.1h0m0-2.4h0m0-4.8h0m0-2.4h0m0-2.4h0m0-2.4h0m0-2.4h0m0-2.4h0m0-2.4h0m0-2.4h0m0-2.5h0m0-2.4h0m0-2.4h0m0-2.4h0m0-2.4h0m0-2.4h0m0-2.4h0m0-2.4h0m0-2.4h0m0-2.4h0m0-2.5h0m0-2.4h0m0-2.4h0m0-2.4h0m0-2.4h0m0-2.4h0m0-4.8h0m0-2.4h0m0-4.8h0m0-16.9h0m2.4 96.4h0m0-2.4h0m0-2.5h0m0-9.6h0m0-2.4h0m0-2.4h0m0-2.4h0m0-4.8h0m0-2.4h0m0-2.5h0m0-2.4h0m0-2.4h0m0-2.4h0m0-2.4h0m0-2.4h0m0-2.4h0m0-2.4h0m0-2.4h0m0-2.4h0m0-2.5h0m0-2.4h0m0-2.4h0m0-2.4h0m0-2.4h0m0-2.4h0m0-2.4h0m0-2.4h0m2.4 69.9h0m0-2.5h0m0-2.4h0m0-4.8h0m0-2.4h0m0-4.8h0m0-2.4h0m0-2.4h0m0-2.4h0m0-2.4h0m0-2.5h0m0-2.4h0m0-2.4h0m0-2.4h0m0-2.4h0m0-2.4h0m0-4.8h0m0-2.4h0m0-2.4h0m0-2.5h0m0-2.4h0m0-2.4h0m0-4.8h0m0-2.4h0m0-2.4h0m0-2.4h0m0-2.4h0m0-2.4h0m2.4 86.7h0m0-12h0m0-4.9h0m0-4.8h0m0-4.8h0m0-2.4h0m0-2.4h0m0-2.4h0m0-2.4h0m0-2.4h0m0-2.5h0m0-2.4h0m0-2.4h0m0-2.4h0m0-2.4h0m0-2.4h0m0-2.4h0m0-2.4h0m0-2.4h0m0-2.4h0m0-2.5h0m0-2.4h0m0-2.4h0m0-2.4h0m0-2.4h0m0-2.4h0m0-2.4h0m0-2.4h0m0-2.4h0m0-2.4h0m0-2.4h0m0-2.5h0m0-2.4h0m0-4.8h0m2.4 79.5h0m0-7.2h0m0-2.4h0m0-2.4h0m0-2.4h0m0-2.4h0m0-2.4h0m0-2.5h0m0-2.4h0m0-2.4h0m0-2.4h0m0-2.4h0m0-2.4h0m0-2.4h0m0-2.4h0m0-2.4h0m0-2.4h0m0-2.5h0m0-2.4h0m0-2.4h0m0-2.4h0m0-2.4h0m0-2.4h0m0-2.4h0m0-2.4h0m0-4.8h0m0-2.4h0m0-4.9h0m2.4 96.4h0m0-26.5h0m0-7.2h0m0-2.4h0m0-2.4h0m0-2.4h0m0-2.5h0m0-2.4h0m0-2.4h0m0-2.4h0m0-2.4h0m0-2.4h0m0-2.4h0m0-2.4h0m0-2.4h0m0-2.4h0m0-2.5h0m0-2.4h0m0-2.4h0m0-2.4h0m0-2.4h0m0-2.4h0m0-2.4h0m0-2.4h0m0-2.4h0m0-2.4h0m0-4.9h0m2.4 69.9h0m0-2.4h0m0-12h0m0-2.4h0m0-2.5h0m0-2.4h0m0-2.4h0m0-2.4h0m0-2.4h0m0-2.4h0m0-2.4h0m0-2.4h0m0-2.4h0m0-2.4h0m0-2.5h0m0-2.4h0m0-2.4h0m0-2.4h0m0-2.4h0m0-4.8h0m0-2.4h0m0-2.4h0m0-2.4h0m0-2.4h0m0-2.5h0m0-2.4h0m0-4.8h0m0-2.4h0m0-2.4h0m2.4 91.6h0m0-16.9h0m0-2.4h0m0-2.4h0m0-2.4h0m0-2.4h0m0-2.5h0m0-2.4h0m0-2.4h0m0-2.4h0m0-2.4h0m0-2.4h0m0-2.4h0m0-2.4h0m0-2.4h0m0-2.4h0m0-2.5h0m0-4.8h0m0-2.4h0m0-2.4h0m0-2.4h0m0-4.8h0m0-4.8h0m0-7.3h0m0-2.4h0m0-2.4h0m0-12h0m2.5 91.5h0m0-2.4h0m0-2.4h0m0-2.4h0m0-2.4h0m0-2.4h0m0-2.4h0m0-2.4h0m0-2.4h0m0-2.5h0m0-2.4h0m0-2.4h0m0-2.4h0m0-2.4h0m0-2.4h0m0-2.4h0m0-2.4h0m0-2.4h0m0-2.4h0m0-2.5h0m0-2.4h0m0-2.4h0m0-2.4h0m0-2.4h0m0-4.8h0m0-2.4h0m0-2.4h0m0-2.4h0m0-2.4h0m0-2.5h0m0-4.8h0m2.4 72.3h0m0-2.4h0m0-2.4h0m0-2.4h0m0-2.4h0m0-2.4h0m0-2.4h0m0-2.5h0m0-2.4h0m0-4.8h0m0-2.4h0m0-2.4h0m0-2.4h0m0-4.8h0m0-2.4h0m0-2.5h0m0-2.4h0m0-2.4h0m0-2.4h0m0-2.4h0m0-2.4h0m0-2.4h0m0-2.4h0m0-2.4h0m0-2.4h0m0-2.4h0m0-2.5h0m0-4.8h0m0-2.4h0m0-4.8h0m2.4 77.1h0m0-4.8h0m0-2.4h0m0-2.4h0m0-2.4h0m0-2.5h0m0-2.4h0m0-2.4h0m0-2.4h0m0-2.4h0m0-2.4h0m0-2.4h0m0-2.4h0m0-2.4h0m0-2.4h0m0-2.5h0m0-2.4h0m0-2.4h0m0-2.4h0m0-2.4h0m0-2.4h0m0-2.4h0m0-2.4h0m0-7.2h0m0-9.7h0m0-4.8h0m0-4.8h0m0-12.1h0m2.4 98.8h0m0-7.2h0m0-2.4h0m0-4.8h0m0-2.4h0m0-2.5h0m0-2.4h0m0-2.4h0m0-2.4h0m0-2.4h0m0-2.4h0m0-2.4h0m0-2.4h0m0-2.4h0m0-2.4h0m0-2.5h0m0-2.4h0m0-2.4h0m0-2.4h0m0-2.4h0m0-2.4h0m0-2.4h0m0-2.4h0m0-2.4h0m0-2.4h0m0-2.4h0m0-2.5h0m0-2.4h0m0-2.4h0m0-2.4h0m0-4.8h0m0-9.6h0m2.4 110.8h0m0-24.1h0m0-2.4h0m0-2.4h0m0-2.4h0m0-4.8h0m0-2.5h0m0-2.4h0m0-2.4h0m0-2.4h0m0-2.4h0m0-2.4h0m0-2.4h0m0-2.4h0m0-2.4h0m0-2.4h0m0-2.5h0m0-2.4h0m0-2.4h0m0-2.4h0m0-2.4h0m0-4.8h0m0-2.4h0m0-2.4h0m0-2.4h0m0-2.4h0m0-2.5h0m0-4.8h0m0-2.4h0m0-4.8h0m0-2.4h0m0-2.4h0m2.4 79.5h0m0-2.4h0m0-2.4h0m0-2.4h0m0-2.4h0m0-2.5h0m0-2.4h0m0-2.4h0m0-2.4h0m0-2.4h0m0-2.4h0m0-2.4h0m0-2.4h0m0-2.4h0m0-2.4h0m0-2.5h0m0-2.4h0m0-2.4h0m0-2.4h0m0-2.4h0m0-2.4h0m0-2.4h0m0-2.4h0m0-2.4h0m0-2.4h0m0-2.4h0m0-2.5h0m0-2.4h0m0-2.4h0m0-9.6h0m0-7.2h0m2.4 103.6h0m0-16.9h0m0-2.4h0m0-4.8h0m0-2.4h0m0-7.3h0m0-2.4h0m0-2.4h0m0-2.4h0m0-2.4h0m0-2.4h0m0-2.4h0m0-2.4h0m0-2.4h0m0-2.5h0m0-2.4h0m0-2.4h0m0-2.4h0m0-2.4h0m0-2.4h0m0-2.4h0m0-2.4h0m0-2.4h0m0-2.4h0m0-2.4h0m0-2.5h0m0-2.4h0m0-2.4h0m0-7.2h0m0-19.3h0m2.4 106h0m0-9.6h0m0-2.4h0m0-2.4h0m0-4.8h0m0-2.4h0m0-2.5h0m0-2.4h0m0-2.4h0m0-2.4h0m0-2.4h0m0-2.4h0m0-2.4h0m0-2.4h0m0-2.4h0m0-2.4h0m0-2.5h0m0-2.4h0m0-2.4h0m0-2.4h0m0-2.4h0m0-2.4h0m0-2.4h0m0-2.4h0m0-2.4h0m0-2.4h0m0-2.4h0m0-2.5h0m0-2.4h0m0-4.8h0m0-2.4h0m0-2.4h0m0-36.1h0m2.4 122.8h0m0-9.6h0m0-4.8h0m0-4.8h0m0-2.4h0m0-2.5h0m0-2.4h0m0-2.4h0m0-2.4h0m0-2.4h0m0-2.4h0m0-2.4h0m0-2.4h0m0-2.4h0m0-2.4h0m0-2.5h0m0-2.4h0m0-2.4h0m0-2.4h0m0-2.4h0m0-2.4h0m0-2.4h0m0-2.4h0m0-2.4h0m0-4.8h0m0-2.5h0m0-2.4h0m0-2.4h0m0-4.8h0m0-7.2h0m0-7.3h0m0 19.3h0m0-31.3h0m0-7.2h0m2.4 120.4h0m0-4.8h0m0-9.6h0m0-4.8h0m0-2.4h0m0-2.4h0m0-4.9h0m0-2.4h0m0-2.4h0m0-2.4h0m0-2.4h0m0-2.4h0m0-2.4h0m0-2.4h0m0-2.4h0m0-2.5h0m0-2.4h0m0-2.4h0m0-2.4h0m0-2.4h0m0-2.4h0m0-2.4h0m0-2.4h0m0-2.4h0m0-2.4h0m0-2.4h0m0-2.5h0m0-2.4h0m0-2.4h0m0-7.2h0m0-2.4h0m0-2.4h0m0-2.4h0m0-12.1h0m0-4.8h0m0-7.2h0m0-2.4h0m2.4 113.2h0m0-4.8h0m0-2.4h0m0-2.4h0m0-2.4h0m0-2.4h0m0-2.5h0m0-2.4h0m0-2.4h0m0-2.4h0m0-2.4h0m0-2.4h0m0-2.4h0m0-2.4h0m0-2.4h0m0-2.4h0m0-2.5h0m0-2.4h0m0-2.4h0m0-2.4h0m0-2.4h0m0-2.4h0m0-2.4h0m0-2.4h0m0-2.4h0m0-2.4h0m0-2.4h0m0-2.5h0m0-2.4h0m0-2.4h0m0-2.4h0m0-2.4h0m0-4.8h0m0-2.4h0m0-14.5h0m0 14.5h0m0-7.3h0m0-2.4h0m0-2.4h0m0-4.8h0m0-7.2h0m0-4.8h0m2.4 110.8h0m0-7.2h0m0-7.3h0m0-2.4h0m0-4.8h0m0-2.4h0m0-2.4h0m0-2.4h0m0-2.4h0m0-2.4h0m0-2.4h0m0-2.5h0m0-2.4h0m0-2.4h0m0-2.4h0m0-2.4h0m0-2.4h0m0-2.4h0m0-2.4h0m0-2.4h0m0-2.4h0m0-2.4h0m0-2.5h0m0-2.4h0m0-2.4h0m0-2.4h0m0-4.8h0m0-2.4h0m0-7.2h0m0-2.5h0m0-2.4h0m0-9.6h0m0-2.4h0m0-2.4h0m0-9.7h0m0-4.8h0m0-2.4h0m0-4.8h0m2.5 144.6h0m0-16.9h0m0-4.8h0m0-2.4h0m0-2.4h0m0-2.4h0m0-2.5h0m0-2.4h0m0-2.4h0m0-2.4h0m0-2.4h0m0-2.4h0m0-2.4h0m0-2.4h0m0-2.4h0m0-2.4h0m0-2.5h0m0-2.4h0m0-2.4h0m0-2.4h0m0-2.4h0m0-2.4h0m0-2.4h0m0-2.4h0m0-2.4h0m0-2.4h0m0-2.4h0m0-2.5h0m0-4.8h0m0-2.4h0m0-2.4h0m0-2.4h0m0-4.8h0m0-4.8h0m0-2.5h0m0-2.4h0m0-2.4h0m0-4.8h0m0-4.8h0m0-7.2h0m0-12.1h0m2.4 118.1h0m0-9.7h0m0-4.8h0m0-2.4h0m0-2.4h0m0-2.4h0m0-2.4h0m0-2.4h0m0-2.4h0m0-2.4h0m0-2.5h0m0-2.4h0m0-2.4h0m0-2.4h0m0-2.4h0m0-2.4h0m0-2.4h0m0-2.4h0m0-2.4h0m0-2.4h0m0-2.4h0m0-2.5h0m0-2.4h0m0-2.4h0m0-2.4h0m0-2.4h0m0 0h0m0-2.4h0m0-2.4h0m0-2.4h0m0-2.4h0m0-2.4h0m0-4.9h0m0-2.4h0m0-4.8h0m0-4.8h0m0-9.6h0m0-2.5h0m0-9.6h0m2.4 132.5h0m0-2.4h0m0-7.2h0m0-2.4h0m0-4.8h0m0-2.4h0m0-2.5h0m0-4.8h0m0-2.4h0m0-2.4h0m0-2.4h0m0-2.4h0m0-2.4h0m0-2.4h0m0-2.4h0m0-2.5h0m0-2.4h0m0-2.4h0m0-2.4h0m0-2.4h0m0-2.4h0m0-2.4h0m0-2.4h0m0-2.4h0m0-2.4h0m0-2.4h0m0-2.5h0m0-2.4h0m0-7.2h0m0-2.4h0m0-2.4h0m0-2.4h0m0-2.4h0m0-2.4h0m0-4.9h0m0-2.4h0m0-2.4h0m0-2.4h0m0-4.8h0m0-4.8h0m0-2.4h0m0-2.4h0m0-4.9h0m0-2.4h0m2.4 122.9h0m0-19.3h0m0-2.4h0m0-2.4h0m0-2.4h0m0-2.4h0m0-2.4h0m0-2.4h0m0-2.4h0m0-2.4h0m0-2.5h0m0-2.4h0m0-2.4h0m0-2.4h0m0-2.4h0m0-2.4h0m0-2.4h0m0-2.4h0m0-2.4h0m0-2.4h0m0-2.4h0m0-2.5h0m0-2.4h0m0-2.4h0m0 0h0m0-2.4h0m0-4.8h0m0-2.4h0m0-2.4h0m0-2.4h0m0-2.4h0m0-2.5h0m0-2.4h0m0-2.4h0m0-4.8h0m0-2.4h0m0-2.4h0m0-4.8h0m0-2.4h0m0-2.4h0m0-2.5h0m0-12h0m2.4 115.7h0m0-2.5h0m0-4.8h0m0-2.4h0m0-2.4h0m0-4.8h0m0-2.4h0m0-2.4h0m0-2.4h0m0-2.5h0m0-2.4h0m0-2.4h0m0-2.4h0m0-2.4h0m0-2.4h0m0-2.4h0m0-2.4h0m0-2.4h0m0-2.4h0m0-2.4h0m0-2.5h0m0-2.4h0m0-2.4h0m0-2.4h0m0-2.4h0m0-2.4h0m0-2.4h0m0-2.4h0m0-2.4h0m0-2.4h0m0-2.5h0m0-4.8h0m0-2.4h0m0 0h0m0-2.4h0m0-2.4h0m0-2.4h0m0-2.4h0m0-4.8h0m0-4.9h0m0-2.4h0m2.4 113.3h0m0-4.8h0m0-9.7h0m0-2.4h0m0-2.4h0m0-2.4h0m0-2.4h0m0-2.4h0m0-2.4h0m0-2.4h0m0-2.5h0m0-2.4h0m0-2.4h0m0-2.4h0m0-2.4h0m0-2.4h0m0-2.4h0m0-2.4h0m0-2.4h0m0-2.4h0m0-2.4h0m0-2.5h0m0-2.4h0m0-2.4h0m0-2.4h0m0-2.4h0m0-2.4h0m0-2.4h0m0-2.4h0m0-2.4h0m0-12.1h0m0-2.4h0m0-4.8h0m0-2.4h0m0 0h0m0-2.4h0m0-2.4h0m0-7.3h0m2.4 108.5h0m0-4.9h0m0-4.8h0m0-4.8h0m0-2.4h0m0-2.4h0m0-4.8h0m0-4.9h0m0-2.4h0m0-2.4h0m0-2.4h0m0-2.4h0m0-2.4h0m0-2.4h0m0-2.4h0m0-2.4h0m0-2.4h0m0-2.4h0m0-2.5h0m0-2.4h0m0-4.8h0m0-2.4h0m0-2.4h0m0-2.4h0m0-2.4h0m0-4.8h0m0-19.3h0m0-2.4h0m0-2.4h0m0-7.3h0m2.4 103.6h0m0-2.4h0m0-7.2h0m0-2.4h0m0-2.4h0m0-2.4h0m0-2.4h0m0-2.4h0m0-2.5h0m0-2.4h0m0-2.4h0m0-2.4h0m0-2.4h0m0-2.4h0m0-2.4h0m0-2.4h0m0-2.4h0m0-2.4h0m0-2.4h0m0-2.5h0m0-2.4h0m0-2.4h0m0-2.4h0m0-2.4h0m0-2.4h0m0-2.4h0m0-2.4h0m0-4.8h0m0-4.9h0m0-4.8h0m0-2.4h0m0 14.5h0m0-7.3h0m0-4.8h0m0-2.4h0m0-16.9h0m0-9.6h0m2.4 156.6h0m0-40.9h0m0-2.4h0m0-2.5h0m0-2.4h0m0-4.8h0m0-2.4h0m0-4.8h0m0-2.4h0m0-2.4h0m0-4.9h0m0-2.4h0m0-2.4h0m0-2.4h0m0-2.4h0m0-2.4h0m0-2.4h0m0-2.4h0m0-2.4h0m0-2.4h0m0-2.4h0m0-2.5h0m0-2.4h0m0-2.4h0m0-2.4h0m0-2.4h0m0-2.4h0m0-7.2h0m0-7.3h0m0-2.4h0m0-4.8h0m0-2.4h0m0-2.4h0m0-2.4h0m0-4.8h0m0-4.9h0m0-2.4h0m0-7.2h0m2.4 113.3h0m0-4.9h0m0-7.2h0m0-7.2h0m0-2.4h0m0-2.4h0m0-2.5h0m0-2.4h0m0-2.4h0m0-2.4h0m0-2.4h0m0-2.4h0m0-2.4h0m0-2.4h0m0-2.4h0m0-2.4h0m0-2.4h0m0-2.5h0m0-2.4h0m0-2.4h0m0-4.8h0m0-2.4h0m0-2.4h0m0-2.4h0m0-12.1h0m0-4.8h0m0-2.4h0m0-12h0m2.4 101.2h0m0-7.3h0m0-2.4h0m0-4.8h0m0-2.4h0m0-2.4h0m0-2.4h0m0-2.4h0m0-2.5h0m0-2.4h0m0-2.4h0m0-2.4h0m0-2.4h0m0-2.4h0m0-2.4h0m0-2.4h0m0-2.4h0m0-2.4h0m0-2.4h0m0-2.5h0m0-2.4h0m0-2.4h0m0-4.8h0m0-2.4h0m0-2.4h0m0-2.4h0m0-4.8h0m0-2.5h0m0-16.8h0m0-7.2h0m0-2.5h0m2.5 108.5h0m0-16.9h0m0-4.8h0m0-2.4h0m0-2.4h0m0-2.4h0m0-2.5h0m0-2.4h0m0-2.4h0m0-2.4h0m0-2.4h0m0-2.4h0m0-2.4h0m0-2.4h0m0-2.4h0m0-2.4h0m0-2.4h0m0-2.5h0m0-2.4h0m0-2.4h0m0-2.4h0m0-7.2h0m0-2.4h0m0-2.4h0m0-2.4h0m0-2.5h0m0-2.4h0m0-2.4h0m0-2.4h0m0-16.8h0m0 38.5h0m2.4 57.8h0m0-12h0m0-2.4h0m0-2.4h0m0-2.4h0m0-2.5h0m0-2.4h0m0-2.4h0m0-2.4h0m0-2.4h0m0-2.4h0m0-2.4h0m0-2.4h0m0-2.4h0m0-2.4h0m0-2.4h0m0-2.5h0m0-2.4h0m0-2.4h0m0-2.4h0m0-4.8h0m0-2.4h0m0-2.4h0m0-2.4h0m0-12.1h0m2.4 79.5h0m0-4.8h0m0-7.2h0m0-7.2h0m0-2.5h0m0-2.4h0m0-4.8h0m0-2.4h0m0-2.4h0m0-4.8h0m0-2.4h0m0-2.4h0m0-4.9h0m0-2.4h0m0-2.4h0m0-2.4h0m0-4.8h0m0-2.4h0m0-2.4h0m0-2.4h0m0-2.4h0m0-2.5h0m0-2.4h0m0-2.4h0m0-4.8h0m0-4.8h0m2.4 69.9h0m0-4.9h0m0-2.4h0m0-4.8h0m0-2.4h0m0-2.4h0m0-2.4h0m0-2.4h0m0-2.4h0m0-2.4h0m0-2.4h0m0-2.5h0m0-2.4h0m0-2.4h0m0-4.8h0m0-2.4h0m0-2.4h0m0-2.4h0m0-2.4h0m0-4.9h0m0-2.4h0m2.4 77.1h0m0-7.2h0m0-7.2h0m0-4.8h0m0-2.4h0m0-2.5h0m0-2.4h0m0-2.4h0m0-7.2h0m0-2.4h0m0-2.4h0m0-2.4h0m0-2.4h0m0-2.4h0m0-2.5h0m0-2.4h0m0-2.4h0m0-2.4h0m0-2.4h0m0-2.4h0m0-2.4h0m0-2.4h0m0-4.8h0m0-2.5h0m0-4.8h0m0-2.4h0m0-4.8h0m2.4 94h0m0-19.3h0m0-7.2h0m0-2.4h0m0-2.5h0m0-9.6h0m0-4.8h0m0-2.4h0m0-4.8h0m0-2.4h0m0-2.5h0m0-2.4h0m0-4.8h0m0-2.4h0m0-2.4h0m0-2.4h0m0-12.1h0m0-9.6h0m0-2.4h0m0-4.8h0m2.4 79.5h0m0-2.4h0m0-2.4h0m0-2.4h0m0-7.3h0m0-2.4h0m0-2.4h0m0-2.4h0m0-4.8h0m0-2.4h0m0-2.4h0m0-2.4h0m0-2.5h0m0-2.4h0m0-7.2h0m0-7.2h0m0-2.4h0m0-7.3h0m2.4 67.5h0m0-4.8h0m0-4.8h0m0-4.9h0m0-4.8h0m0-2.4h0m0-2.4h0m0-2.4h0m0-2.4h0m0-2.4h0m0-2.4h0m0-2.4h0m0-4.9h0m0-2.4h0m0-2.4h0m0-2.4h0m0-4.8h0m0-2.4h0m0-7.2h0m0-4.9h0m0-2.4h0m0-2.4h0m2.4 67.5h0m0-2.4h0m0-9.7h0m0-4.8h0m0-2.4h0m0-4.8h0m0-2.4h0m0-4.8h0m0-2.4h0m0-2.5h0m0-2.4h0m0-9.6h0m0-2.4h0m0-7.2h0m0-4.9h0m2.4 57.9h0m0-14.5h0m0-7.2h0m0-2.4h0m0-9.7h0m0-4.8h0m0-4.8h0m0-9.6h0m0-2.5h0m0-2.4h0m0-2.4h0"/>
<path id="spe4" d="M1793 1024.8h0m0-12.1h0m2.4 41h0m0-14.4h0m0-4.9h0m0-4.8h0m0-9.6h0m0-4.8h0m0-4.9h0m0-2.4h0m0-2.4h0m0-7.2h0m0-4.8h0m2.4 72.3h0m0-2.5h0m0-28.9h0m0-16.8h0m0-7.3h0m0-21.6h0m0-4.9h0m0-7.2h0m2.5 91.6h0m0-16.9h0m0-55.4h0m0-9.7h0m2.4 74.7h0m0-12h0m0-7.2h0m0-4.9h0m0-2.4h0m0-7.2h0m0-7.2h0m0-2.4h0m0-7.3h0m0-7.2h0m0-4.8h0m0-12.1h0m2.4 48.2h0m0-12h0m0-12.1h0m0-7.2h0m0-7.2h0m0-9.7h0m0-2.4h0m0-14.4h0m2.4 84.3h0m0-9.6h0m0-12.1h0m0-2.4h0m0-2.4h0m0-4.8h0m0-2.4h0m0-9.7h0m0-12h0m0-2.4h0m0-2.4h0m0-2.4h0m0-7.3h0m0-2.4h0m0-2.4h0m2.4 89.2h0m0-9.7h0m0-12h0m0-7.2h0m0-2.5h0m0-4.8h0m0-2.4h0m0-7.2h0m0-4.8h0m0-2.4h0m0-2.5h0m0-2.4h0m0-2.4h0m0-14.4h0m0-9.7h0m2.4 94h0m0-9.6h0m0-28.9h0m0-2.5h0m0-4.8h0m0-2.4h0m0-4.8h0m0-2.4h0m0-4.8h0m0-4.9h0m0-2.4h0m0-9.6h0m0-4.8h0m0-2.4h0m0-2.4h0m0-4.9h0m0-7.2h0m0-12h0m0-12.1h0m2.5 84.4h0m0-7.3h0m0-4.8h0m0-7.2h0m0-2.4h0m0-2.4h0m0-2.5h0m0-4.8h0m0-4.8h0m0-7.2h0m0-2.4h0m0-2.4h0m0-4.9h0m0-4.8h0m0-14.4h0m0-7.3h0m2.4 110.9h0m0-12.1h0m0-4.8h0m0-9.6h0m0-7.3h0m0-2.4h0m0-2.4h0m0-2.4h0m0-2.4h0m0-4.8h0m0-2.4h0m0-2.4h0m0-2.4h0m0-29h0m0-4.8h0m0-2.4h0m0-19.3h0m2.4 106.1h0m0-4.9h0m0-7.2h0m0-4.8h0m0-2.4h0m0-7.2h0m0-9.7h0m0-2.4h0m0-2.4h0m0-2.4h0m0-2.4h0m0-2.4h0m0-2.4h0m0-7.3h0m0-4.8h0m0-2.4h0m0-4.8h0m0-4.8h0m0-2.4h0m0-2.5h0m0-2.4h0m0-2.4h0m0-9.6h0m0-4.8h0m0-2.4h0m0-9.7h0m2.4 103.6h0m0-4.8h0m0-7.2h0m0-2.4h0m0-2.4h0m0-2.4h0m0-7.3h0m0-2.4h0m0-2.4h0m0-4.8h0m0-2.4h0m0-2.4h0m0-2.4h0m0-4.9h0m0-4.8h0m0-2.4h0m0-2.4h0m0-2.4h0m0-4.8h0m0-4.8h0m0-2.5h0m0-2.4h0m0-7.2h0m0-2.4h0m0-2.4h0m2.4 84.3h0m0-7.2h0m0-7.2h0m0-2.4h0m0-4.9h0m0-2.4h0m0-2.4h0m0-2.4h0m0-2.4h0m0-2.4h0m0-2.4h0m0-2.4h0m0-2.4h0m0-4.9h0m0-2.4h0m0-4.8h0m0-2.4h0m0-2.4h0m0-4.8h0m0-2.4h0m0-4.9h0m0-9.6h0m0-2.4h0m0-2.4h0m0-12.1h0m0-2.4h0m2.4 122.9h0m0-28.9h0m0-2.4h0m0-2.4h0m0-19.3h0m0-7.2h0m0-2.4h0m0-2.4h0m0-2.5h0m0-2.4h0m0-4.8h0m0-7.2h0m0-4.8h0m0-2.4h0m0-2.4h0m0-2.5h0m0-4.8h0m0-2.4h0m0-4.8h0m0-19.3h0m2.4 103.6h0m0-21.7h0m0-2.4h0m0-2.4h0m0-2.4h0m0-7.2h0m0-2.4h0m0-2.4h0m0-2.4h0m0-2.5h0m0-2.4h0m0-2.4h0m0-4.8h0m0-2.4h0m0-2.4h0m0-7.2h0m0-2.4h0m0-7.3h0m0-7.2h0m0-26.5h0m2.5 115.6h0m0-12h0m0-7.2h0m0-2.4h0m0-4.9h0m0-7.2h0m0-4.8h0m0-2.4h0m0-2.4h0m0-2.4h0m0-2.4h0m0-2.5h0m0-7.2h0m0-2.4h0m0-2.4h0m0-2.4h0m0-2.4h0m0-2.4h0m0-2.4h0m0-2.4h0m0-9.7h0m0-2.4h0m0-4.8h0m0-2.4h0m0-2.4h0m0-2.4h0m0-9.7h0m0-7.2h0m2.4 132.5h0m0-19.3h0m0-2.4h0m0-2.4h0m0-4.8h0m0-2.4h0m0-14.5h0m0-2.4h0m0-2.4h0m0-2.4h0m0-2.4h0m0-4.8h0m0-2.4h0m0-2.4h0m0-2.5h0m0-2.4h0m0-2.4h0m0-2.4h0m0-2.4h0m0-4.8h0m0-2.4h0m0-2.4h0m0-2.4h0m0-2.4h0m0-2.5h0m0-2.4h0m0-4.8h0m0-2.4h0m0-4.8h0m0-12.1h0m0-19.2h0m2.4 118h0m0-9.6h0m0-2.4h0m0-7.2h0m0-4.9h0m0-2.4h0m0-2.4h0m0-2.4h0m0-2.4h0m0-2.4h0m0-4.8h0m0-2.4h0m0-2.5h0m0-2.4h0m0-2.4h0m0-2.4h0m0-2.4h0m0-2.4h0m0-2.4h0m0-2.4h0m0-7.2h0m0-4.9h0m0-2.4h0m0-2.4h0m0-2.4h0m0-2.4h0m0-2.4h0m0-12.1h0m2.4 103.6h0m0-9.6h0m0-2.4h0m0-4.8h0m0-2.4h0m0-2.4h0m0-4.9h0m0-2.4h0m0-2.4h0m0-2.4h0m0-2.4h0m0-2.4h0m0-2.4h0m0-2.4h0m0-2.4h0m0-2.4h0m0-2.5h0m0-2.4h0m0-2.4h0m0-2.4h0m0-4.8h0m0-2.4h0m0-2.4h0m0-4.8h0m0-4.9h0m0-2.4h0m0-2.4h0m0-2.4h0m0-2.4h0m0-7.2h0m0-2.4h0m0-9.7h0m0-4.8h0m0-2.4h0m0-7.2h0m2.4 115.6h0m0-2.4h0m0-4.8h0m0-2.4h0m0-7.2h0m0-4.9h0m0-2.4h0m0-2.4h0m0-2.4h0m0-4.8h0m0-2.4h0m0-2.4h0m0-2.4h0m0-2.4h0m0-2.5h0m0-2.4h0m0-2.4h0m0-2.4h0m0-2.4h0m0-4.8h0m0-4.8h0m0-2.4h0m0-2.4h0m0-2.5h0m0-2.4h0m0-2.4h0m0-2.4h0m0-2.4h0m0-2.4h0m0-4.8h0m2.4 89.1h0m0-2.4h0m0-2.4h0m0-2.4h0m0-4.8h0m0-2.4h0m0-7.3h0m0-2.4h0m0-7.2h0m0-2.4h0m0-2.4h0m0-2.4h0m0-2.4h0m0-2.4h0m0-2.5h0m0-2.4h0m0-2.4h0m0-2.4h0m0-2.4h0m0-2.4h0m0-2.4h0m0-2.4h0m0-2.4h0m0-4.8h0m0-2.5h0m0-2.4h0m0-2.4h0m0-4.8h0m0-2.4h0m0-2.4h0m0-2.4h0m0-2.4h0m0-2.4h0m0-2.5h0m0-14.4h0m2.5 127.7h0m0-9.6h0m0-14.5h0m0-4.8h0m0-4.8h0m0-2.4h0m0-2.5h0m0-2.4h0m0-2.4h0m0-2.4h0m0-2.4h0m0-2.4h0m0-2.4h0m0-4.8h0m0-2.4h0m0-2.5h0m0-2.4h0m0-2.4h0m0-2.4h0m0-2.4h0m0-2.4h0m0-2.4h0m0-2.4h0m0-2.4h0m0-2.4h0m0-2.4h0m0-2.5h0m0-2.4h0m0-4.8h0m0-2.4h0m0-2.4h0m0-4.8h0m0-4.8h0m0-7.3h0m0-21.7h0m2.4 127.7h0m0-9.6h0m0-12h0m0-2.4h0m0-2.5h0m0-2.4h0m0-2.4h0m0-2.4h0m0-2.4h0m0-2.4h0m0-2.4h0m0-2.4h0m0-2.4h0m0-2.4h0m0-2.5h0m0-2.4h0m0-2.4h0m0-2.4h0m0-2.4h0m0-2.4h0m0-2.4h0m0-2.4h0m0-2.4h0m0-2.4h0m0-2.4h0m0-2.5h0m0-2.4h0m0-2.4h0m0-4.8h0m0-4.8h0m0-2.4h0m0-7.3h0m0-2.4h0m0-2.4h0m0-2.4h0m2.4 103.6h0m0-2.4h0m0-12h0m0-2.4h0m0-2.4h0m0-4.9h0m0-2.4h0m0-2.4h0m0-2.4h0m0-2.4h0m0-4.8h0m0-2.4h0m0-2.4h0m0-2.5h0m0-2.4h0m0-2.4h0m0-2.4h0m0-2.4h0m0-2.4h0m0-2.4h0m0-2.4h0m0-2.4h0m0-2.4h0m0-2.4h0m0-2.5h0m0-2.4h0m0-2.4h0m0-2.4h0m0-7.2h0m0-2.4h0m0-4.8h0m0-2.5h0m0-9.6h0m0-9.6h0m2.4 134.9h0m0-9.6h0m0-7.3h0m0-4.8h0m0-2.4h0m0-2.4h0m0-2.4h0m0-7.2h0m0-2.4h0m0-2.5h0m0-2.4h0m0-2.4h0m0-2.4h0m0-2.4h0m0-2.4h0m0-2.4h0m0-2.4h0m0-2.4h0m0-2.4h0m0-2.5h0m0-2.4h0m0-2.4h0m0-2.4h0m0-2.4h0m0-2.4h0m0-2.4h0m0-4.8h0m0-2.4h0m0-2.4h0m0-2.5h0m0-2.4h0m0-2.4h0m0-2.4h0m0-2.4h0m0-2.4h0m0-2.4h0m0-2.4h0m0-2.4h0m0-7.3h0m0-14.4h0m0-2.4h0m0-7.3h0m2.4 130.2h0m0-7.3h0m0-2.4h0m0-2.4h0m0-7.2h0m0-2.4h0m0-2.4h0m0-2.4h0m0-4.9h0m0-4.8h0m0-2.4h0m0-2.4h0m0-2.4h0m0-2.4h0m0-2.4h0m0-2.4h0m0-2.5h0m0-2.4h0m0-2.4h0m0-2.4h0m0-2.4h0m0-2.4h0m0-2.4h0m0-2.4h0m0-2.4h0m0-2.4h0m0-2.4h0m0-2.5h0m0-2.4h0m0-4.8h0m0-2.4h0m0-2.4h0m0-4.8h0m0-4.8h0m0-9.7h0m0-2.4h0m0-2.4h0m2.4 132.5h0m0-2.4h0m0-2.4h0m0-19.3h0m0-12h0m0-2.4h0m0-4.8h0m0-2.5h0m0-2.4h0m0-2.4h0m0-2.4h0m0-2.4h0m0-2.4h0m0-2.4h0m0-2.4h0m0-2.4h0m0-2.4h0m0-2.5h0m0-2.4h0m0-2.4h0m0-2.4h0m0-2.4h0m0-2.4h0m0-2.4h0m0-2.4h0m0-2.4h0m0-2.4h0m0-2.4h0m0-2.5h0m0-2.4h0m0-2.4h0m0-2.4h0m0-2.4h0m0-7.2h0m0-4.8h0m0-2.5h0m0-4.8h0m0-2.4h0m0-2.4h0m2.5 120.5h0m0-9.7h0m0-4.8h0m0-2.4h0m0-4.8h0m0-4.8h0m0-2.4h0m0-2.4h0m0-2.4h0m0-2.5h0m0-2.4h0m0-2.4h0m0-2.4h0m0-2.4h0m0-4.8h0m0-2.4h0m0-2.4h0m0-2.4h0m0-2.5h0m0-2.4h0m0-2.4h0m0-2.4h0m0-2.4h0m0-2.4h0m0-2.4h0m0-2.4h0m0-2.4h0m0-2.4h0m0-2.4h0m0-2.5h0m0-2.4h0m0-2.4h0m0-2.4h0m0-2.4h0m0-2.4h0m0-2.4h0m0-4.8h0m0-4.9h0m0-2.4h0m0-2.4h0m0-2.4h0m0-4.8h0m0-4.8h0m0-7.2h0m0-4.9h0m2.4 137.4h0m0-7.3h0m0-4.8h0m0-2.4h0m0-4.8h0m0-4.8h0m0-2.4h0m0-4.8h0m0-2.5h0m0-2.4h0m0-2.4h0m0-2.4h0m0-2.4h0m0-2.4h0m0-4.8h0m0-2.4h0m0-2.4h0m0-2.5h0m0-2.4h0m0-2.4h0m0-2.4h0m0-2.4h0m0-2.4h0m0-2.4h0m0-2.4h0m0-2.4h0m0-2.4h0m0-2.4h0m0-2.5h0m0-2.4h0m0-2.4h0m0-2.4h0m0-2.4h0m0-2.4h0m0-2.4h0m0-2.4h0m0-7.3h0m0-9.6h0m0-2.4h0m0-4.8h0m0-2.4h0m0-2.4h0m2.4 139.7h0m0-7.2h0m0-4.8h0m0-4.9h0m0-7.2h0m0-2.4h0m0-4.8h0m0-2.4h0m0-2.4h0m0-2.4h0m0-2.4h0m0-2.5h0m0-2.4h0m0-2.4h0m0-2.4h0m0-2.4h0m0-2.4h0m0-2.4h0m0-2.4h0m0-2.4h0m0-2.4h0m0-2.5h0m0-2.4h0m0-2.4h0m0-2.4h0m0-2.4h0m0-4.8h0m0-2.4h0m0-2.4h0m0-2.4h0m0-2.4h0m0-2.5h0m0-2.4h0m0-2.4h0m0-2.4h0m0-2.4h0m0-2.4h0m0-2.4h0m0-2.4h0m0-9.7h0m0-16.8h0m0-4.8h0m2.4 130.1h0m0-2.4h0m0-2.5h0m0-7.2h0m0-2.4h0m0-2.4h0m0-2.4h0m0-2.4h0m0-4.8h0m0-2.4h0m0-2.5h0m0-2.4h0m0-2.4h0m0-2.4h0m0-2.4h0m0-2.4h0m0-2.4h0m0-2.4h0m0-2.4h0m0-2.4h0m0-2.5h0m0-2.4h0m0-2.4h0m0-2.4h0m0-2.4h0m0-2.4h0m0-2.4h0m0-2.4h0m0-2.4h0m0-2.4h0m0-2.4h0m0-2.5h0m0-2.4h0m0-2.4h0m0-2.4h0m0-2.4h0m0-2.4h0m0-7.2h0m0-4.9h0m0-2.4h0m0-4.8h0m2.4 113.3h0m0-7.3h0m0-9.6h0m0-2.4h0m0-4.8h0m0-2.4h0m0-2.4h0m0-2.5h0m0-2.4h0m0-2.4h0m0-2.4h0m0-2.4h0m0-4.8h0m0-2.4h0m0-2.4h0m0-2.4h0m0-2.5h0m0-2.4h0m0-2.4h0m0-2.4h0m0-2.4h0m0-2.4h0m0-2.4h0m0-2.4h0m0-2.4h0m0-2.4h0m0-2.4h0m0-2.5h0m0-2.4h0m0-2.4h0m0-2.4h0m0-2.4h0m0-2.4h0m0-2.4h0m0-4.8h0m0-2.4h0m0-2.5h0m0-2.4h0m0-24.1h0m2.4 127.7h0m0-4.8h0m0-2.4h0m0-2.4h0m0-2.4h0m0-12h0m0-2.5h0m0-2.4h0m0-4.8h0m0-2.4h0m0-2.4h0m0-2.4h0m0-2.4h0m0-2.4h0m0-2.4h0m0-2.5h0m0-2.4h0m0-2.4h0m0-2.4h0m0-2.4h0m0-2.4h0m0-2.4h0m0-2.4h0m0-2.4h0m0-2.4h0m0-2.4h0m0-2.5h0m0-2.4h0m0-4.8h0m0-2.4h0m0-2.4h0m0-4.8h0m0-2.4h0m0-4.9h0m0-2.4h0m0-2.4h0m0-2.4h0m0-4.8h0m2.5 125.3h0m0-12.1h0m0-2.4h0m0-7.2h0m0-2.4h0m0-2.4h0m0-7.2h0m0-2.4h0m0-4.9h0m0-2.4h0m0-2.4h0m0-4.8h0m0-2.4h0m0-2.4h0m0-2.4h0m0-2.4h0m0-2.5h0m0-2.4h0m0-2.4h0m0-2.4h0m0-2.4h0m0-2.4h0m0-2.4h0m0-2.4h0m0-2.4h0m0-2.4h0m0-2.4h0m0-2.5h0m0-2.4h0m0-2.4h0m0-2.4h0m0-2.4h0m0-2.4h0m0-2.4h0m0-7.2h0m0-2.5h0m0-2.4h0m0-2.4h0m0-2.4h0m0-2.4h0m0-9.6h0m2.4 120.4h0m0-4.8h0m0-2.4h0m0-4.8h0m0-4.8h0m0-2.4h0m0-2.4h0m0-2.4h0m0-2.5h0m0-2.4h0m0-2.4h0m0-2.4h0m0-2.4h0m0-2.4h0m0-2.4h0m0-2.4h0m0-2.4h0m0-2.4h0m0-2.5h0m0-2.4h0m0-2.4h0m0-2.4h0m0-2.4h0m0-2.4h0m0-2.4h0m0-2.4h0m0-2.4h0m0-2.4h0m0-2.4h0m0-2.5h0m0-2.4h0m0-2.4h0m0-2.4h0m0-2.4h0m0-2.4h0m0-14.5h0m0-2.4h0m0-2.4h0m0-4.8h0m0-2.4h0m0-9.6h0m2.4 108.4h0m0-2.4h0m0-2.4h0m0-2.4h0m0-2.5h0m0-4.8h0m0-2.4h0m0-2.4h0m0-2.4h0m0-2.4h0m0-2.4h0m0-2.4h0m0-2.4h0m0-2.5h0m0-2.4h0m0-2.4h0m0-2.4h0m0-2.4h0m0-2.4h0m0-2.4h0m0-2.4h0m0-2.4h0m0-2.4h0m0-2.4h0m0-2.5h0m0-2.4h0m0-2.4h0m0-2.4h0m0-4.8h0m0-2.4h0m0-2.4h0m0-2.4h0m0-2.4h0m0-2.5h0m0-2.4h0m0-2.4h0m0-4.8h0m2.4 113.3h0m0-4.9h0m0-2.4h0m0-4.8h0m0-4.8h0m0-4.8h0m0-2.4h0m0-2.4h0m0-2.5h0m0-2.4h0m0-2.4h0m0-4.8h0m0-2.4h0m0-2.4h0m0-2.4h0m0-2.4h0m0-2.4h0m0-2.5h0m0-2.4h0m0-2.4h0m0-2.4h0m0-2.4h0m0-2.4h0m0-2.4h0m0-2.4h0m0-2.4h0m0-2.4h0m0-2.4h0m0-2.5h0m0-2.4h0m0-2.4h0m0-2.4h0m0-2.4h0m0-2.4h0m0-4.8h0m0-7.3h0m0-2.4h0m0-2.4h0m0-4.8h0m0-7.2h0m0-16.9h0m2.4 122.9h0m0-2.4h0m0-2.4h0m0-2.4h0m0-2.4h0m0-4.9h0m0-2.4h0m0-2.4h0m0-2.4h0m0-2.4h0m0-2.4h0m0-2.4h0m0-2.4h0m0-2.4h0m0-2.4h0m0-2.5h0m0-2.4h0m0-2.4h0m0-2.4h0m0-2.4h0m0-2.4h0m0-2.4h0m0-2.4h0m0-2.4h0m0-2.4h0m0-2.4h0m0-2.5h0m0-2.4h0m0-4.8h0m0-7.2h0m0-2.4h0m0-2.4h0m0-2.4h0m0-4.9h0m0-2.4h0m0-2.4h0m0-2.4h0m2.4 125.3h0m0-26.5h0m0-4.8h0m0-2.4h0m0-2.4h0m0-2.4h0m0-2.5h0m0-2.4h0m0-2.4h0m0-4.8h0m0-2.4h0m0-2.4h0m0-2.4h0m0-2.4h0m0-2.4h0m0-2.5h0m0-2.4h0m0-2.4h0m0-2.4h0m0-2.4h0m0-2.4h0m0-2.4h0m0-2.4h0m0-2.4h0m0-2.4h0m0-2.4h0m0-2.5h0m0-2.4h0m0-2.4h0m0-2.4h0m0-2.4h0m0-2.4h0m0-2.4h0m0-2.4h0m0-2.4h0m0-4.9h0m0-2.4h0m0-2.4h0m0-2.4h0m0-2.4h0m0-2.4h0m0-7.2h0m0-12.1h0m2.4 149.4h0m0-19.3h0m0-2.4h0m0-2.4h0m0-7.2h0m0-4.8h0m0-2.4h0m0-4.9h0m0-2.4h0m0-2.4h0m0-2.4h0m0-2.4h0m0-2.4h0m0-2.4h0m0-2.4h0m0-2.4h0m0-2.4h0m0-2.5h0m0-2.4h0m0-2.4h0m0-2.4h0m0-2.4h0m0-2.4h0m0-2.4h0m0-2.4h0m0-2.4h0m0-2.4h0m0-2.4h0m0-2.5h0m0-2.4h0m0-2.4h0m0-2.4h0m0-2.4h0m0-2.4h0m0-2.4h0m0-2.4h0m0-2.4h0m0-2.4h0m0-9.7h0m0-2.4h0m0-9.6h0m2.5 120.4h0m0-4.8h0m0-2.4h0m0-7.2h0m0-4.8h0m0-2.4h0m0-2.4h0m0-2.5h0m0-2.4h0m0-2.4h0m0-4.8h0m0-2.4h0m0-2.4h0m0-2.4h0m0-2.4h0m0-2.4h0m0-2.5h0m0-2.4h0m0-2.4h0m0-2.4h0m0-2.4h0m0-2.4h0m0-2.4h0m0-2.4h0m0-2.4h0m0-2.4h0m0-2.4h0m0-2.5h0m0-2.4h0m0-2.4h0m0-2.4h0m0-2.4h0m0-4.8h0m0-2.4h0m0-2.4h0m0-12.1h0m0-2.4h0m0-7.2h0m0-7.2h0m2.4 113.2h0m0-2.4h0m0-2.4h0m0-2.4h0m0-2.4h0m0-2.4h0m0-2.5h0m0-2.4h0m0-2.4h0m0-2.4h0m0-2.4h0m0-2.4h0m0-2.4h0m0-2.4h0m0-2.4h0m0-2.4h0m0-2.5h0m0-2.4h0m0-2.4h0m0-2.4h0m0-2.4h0m0-2.4h0m0-2.4h0m0-2.4h0m0-2.4h0m0-2.4h0m0-2.4h0m0-2.5h0m0-2.4h0m0-2.4h0m0-2.4h0m0-2.4h0m0-2.4h0m0-2.4h0m0-2.4h0m0-2.4h0m0-2.4h0m0-2.5h0m0-4.8h0m0-2.4h0m0-9.6h0m0-9.7h0m0-7.2h0m2.4 156.6h0m0-12h0m0-9.7h0m0-4.8h0m0-9.6h0m0-2.4h0m0-4.8h0m0-4.9h0m0-2.4h0m0-2.4h0m0-2.4h0m0-2.4h0m0-2.4h0m0-4.8h0m0-2.4h0m0-2.4h0m0-2.5h0m0-2.4h0m0-2.4h0m0-2.4h0m0-2.4h0m0-2.4h0m0-2.4h0m0-2.4h0m0-2.4h0m0-2.4h0m0-2.4h0m0-2.5h0m0-2.4h0m0-4.8h0m0-2.4h0m0-2.4h0m0-2.4h0m0-2.4h0m0-4.8h0m0-2.5h0m0-2.4h0m0-2.4h0m0-7.2h0m2.4 118.1h0m0-2.4h0m0-4.9h0m0-14.4h0m0-2.4h0m0-2.4h0m0-2.4h0m0-2.5h0m0-2.4h0m0-2.4h0m0-2.4h0m0-2.4h0m0-2.4h0m0-2.4h0m0-2.4h0m0-2.4h0m0-2.4h0m0-2.5h0m0-2.4h0m0-2.4h0m0-2.4h0m0-2.4h0m0-2.4h0m0-2.4h0m0-2.4h0m0-2.4h0m0-2.4h0m0-2.4h0m0-2.5h0m0-2.4h0m0-2.4h0m0-2.4h0m0-2.4h0m0-2.4h0m0-2.4h0m0-2.4h0m0-2.4h0m0-2.4h0m0-2.5h0m0-2.4h0m0-9.6h0m0-4.8h0m0-9.7h0m0-2.4h0m2.4 147h0m0-9.6h0m0-2.4h0m0-4.9h0m0-9.6h0m0-2.4h0m0-2.4h0m0-4.8h0m0-2.4h0m0-2.4h0m0-2.5h0m0-2.4h0m0-2.4h0m0-2.4h0m0-2.4h0m0-2.4h0m0-4.8h0m0-2.4h0m0-2.4h0m0-2.5h0m0-2.4h0m0-2.4h0m0-2.4h0m0-2.4h0m0-2.4h0m0-2.4h0m0-2.4h0m0-2.4h0m0-2.4h0m0-2.4h0m0-2.5h0m0-2.4h0m0-2.4h0m0-2.4h0m0-2.4h0m0-2.4h0m0-2.4h0m0-2.4h0m0-2.4h0m0-2.4h0m0-2.5h0m0-2.4h0m0-4.8h0m0-7.2h0m0-7.2h0m2.4 118h0m0-4.8h0m0-4.8h0m0-2.4h0m0-2.4h0m0-2.4h0m0-2.4h0m0-2.5h0m0-2.4h0m0-2.4h0m0-2.4h0m0-2.4h0m0-2.4h0m0-2.4h0m0-2.4h0m0-2.4h0m0-2.4h0m0-2.5h0m0-2.4h0m0-2.4h0m0-2.4h0m0-2.4h0m0-2.4h0m0-2.4h0m0-2.4h0m0-2.4h0m0-2.4h0m0-2.4h0m0-2.5h0m0-2.4h0m0-2.4h0m0-2.4h0m0-4.8h0m0-2.4h0m0-2.4h0m0-2.4h0m0-4.9h0m0-9.6h0m2.5 115.7h0m0-4.9h0m0-4.8h0m0-4.8h0m0-2.4h0m0-2.4h0m0-2.4h0m0-2.4h0m0-4.8h0m0-4.9h0m0-2.4h0m0-4.8h0m0-2.4h0m0-2.4h0m0-2.4h0m0-2.4h0m0-2.4h0m0-2.5h0m0-2.4h0m0-2.4h0m0-2.4h0m0-2.4h0m0-2.4h0m0-2.4h0m0-2.4h0m0-2.4h0m0-2.4h0m0-2.4h0m0-2.5h0m0-2.4h0m0-2.4h0m0-2.4h0m0-2.4h0m0-2.4h0m0-2.4h0m0-2.4h0m0-4.8h0m0-4.9h0m0-2.4h0m0-4.8h0m0-14.4h0m0-2.5h0m2.4 118.1h0m0-2.4h0m0-2.4h0m0-4.8h0m0-4.8h0m0-2.5h0m0-2.4h0m0-2.4h0m0-2.4h0m0-2.4h0m0-2.4h0m0-2.4h0m0-2.4h0m0-2.4h0m0-2.4h0m0-2.5h0m0-2.4h0m0-2.4h0m0-2.4h0m0-2.4h0m0-2.4h0m0-2.4h0m0-2.4h0m0-2.4h0m0-2.4h0m0-2.4h0m0-2.5h0m0-2.4h0m0-2.4h0m0-2.4h0m0-2.4h0m0-2.4h0m0-2.4h0m0-2.4h0m0-2.4h0m0-2.4h0m0-2.5h0m0-2.4h0m0-2.4h0m0-4.8h0m0-2.4h0m2.4 122.9h0m0-21.7h0m0-4.8h0m0-4.8h0m0-2.4h0m0-2.5h0m0-2.4h0m0-2.4h0m0-2.4h0m0-2.4h0m0-2.4h0m0-2.4h0m0-2.4h0m0-2.4h0m0-2.4h0m0-2.5h0m0-2.4h0m0-2.4h0m0-2.4h0m0-2.4h0m0-2.4h0m0-2.4h0m0-2.4h0m0-2.4h0m0-4.8h0m0-2.5h0m0-4.8h0m0-2.4h0m0-2.4h0m0-2.4h0m0-2.4h0m0-2.4h0m0-2.4h0m0-9.7h0m0-2.4h0m0-2.4h0m0-7.2h0m0-2.4h0m2.4 115.6h0m0-12h0m0-2.4h0m0-4.8h0m0-4.9h0m0-2.4h0m0-2.4h0m0-2.4h0m0-2.4h0m0-2.4h0m0-2.4h0m0-2.4h0m0-2.4h0m0-2.5h0m0-2.4h0m0-2.4h0m0-2.4h0m0-2.4h0m0-2.4h0m0-2.4h0m0-2.4h0m0-2.4h0m0-2.4h0m0-2.4h0m0-2.5h0m0-2.4h0m0-2.4h0m0-2.4h0m0-2.4h0m0-2.4h0m0-2.4h0m0-2.4h0m0-2.4h0m0-2.4h0m0-2.5h0m0-4.8h0m0-2.4h0m0-4.8h0m0-4.8h0m0-2.4h0m0-7.3h0m2.4 137.4h0m0-9.7h0m0-9.6h0m0-2.4h0m0-2.4h0m0-19.3h0m0-2.4h0m0-2.4h0m0-2.4h0m0-2.4h0m0-2.4h0m0-2.4h0m0-2.5h0m0-2.4h0m0-4.8h0m0-2.4h0m0-2.4h0m0-2.4h0m0-2.4h0m0-2.4h0m0-2.4h0m0-2.4h0m0-2.5h0m0-2.4h0m0-2.4h0m0-2.4h0m0-2.4h0m0-2.4h0m0-2.4h0m0-2.4h0m0-2.4h0m0-4.9h0m0-4.8h0m0-2.4h0m0-2.4h0m0-2.4h0m0-2.4h0m0-4.8h0m0-2.4h0m2.4 110.8h0m0-7.2h0m0-7.3h0m0-2.4h0m0-4.8h0m0-4.8h0m0-2.4h0m0-2.4h0m0-2.4h0m0-2.4h0m0-2.5h0m0-2.4h0m0-4.8h0m0-2.4h0m0-2.4h0m0-2.4h0m0-2.4h0m0-2.4h0m0-2.4h0m0-2.4h0m0-2.5h0m0-2.4h0m0-2.4h0m0-2.4h0m0-2.4h0m0-2.4h0m0-2.4h0m0-2.4h0m0-4.8h0m0-2.5h0m0-4.8h0m0-2.4h0m0-2.4h0m0-2.4h0m2.5 120.5h0m0-26.5h0m0-2.4h0m0-2.4h0m0-7.3h0m0-2.4h0m0-2.4h0m0-2.4h0m0-2.4h0m0-2.4h0m0-2.4h0m0-2.4h0m0-2.5h0m0-2.4h0m0-2.4h0m0-2.4h0m0-2.4h0m0-2.4h0m0-2.4h0m0-2.4h0m0-2.4h0m0-2.4h0m0-2.4h0m0-4.9h0m0-2.4h0m0-2.4h0m0-2.4h0m0-2.4h0m0-4.8h0m0-2.4h0m0-2.4h0m0-2.5h0m0-2.4h0m0-2.4h0m0-2.4h0m0-2.4h0m0-2.4h0m0-2.4h0m0-7.2h0m0-7.3h0m2.4 137.4h0m0-7.3h0m0-9.6h0m0-12h0m0-7.3h0m0-4.8h0m0-2.4h0m0-2.4h0m0-4.8h0m0-2.4h0m0-4.9h0m0-2.4h0m0-2.4h0m0-2.4h0m0-2.4h0m0-2.4h0m0-2.4h0m0-2.4h0m0-2.4h0m0-2.4h0m0-2.4h0m0-2.5h0m0-2.4h0m0-4.8h0m0-2.4h0m0-2.4h0m0-2.4h0m0-4.8h0m0-2.4h0m0-2.5h0m0-2.4h0m0-2.4h0m0-2.4h0m0-2.4h0m0-21.7h0m2.4 106h0m0-2.4h0m0-2.4h0m0-2.4h0m0-2.4h0m0-2.4h0m0-2.4h0m0-2.4h0m0-2.4h0m0-2.4h0m0-2.5h0m0-4.8h0m0-4.8h0m0-2.4h0m0-2.4h0m0-4.8h0m0-2.4h0m0-2.4h0m0-2.5h0m0-2.4h0m0-2.4h0m0-2.4h0m0-2.4h0m0-2.4h0m0-2.4h0m0-2.4h0m0-4.8h0m0-2.5h0m0-2.4h0m0-2.4h0m0-4.8h0m0-2.4h0m0-7.2h0m2.4 106h0m0-7.2h0m0-2.4h0m0-4.9h0m0-2.4h0m0-2.4h0m0-2.4h0m0-4.8h0m0-2.4h0m0-2.4h0m0-2.4h0m0-2.5h0m0-2.4h0m0-2.4h0m0-2.4h0m0-2.4h0m0-2.4h0m0-2.4h0m0-2.4h0m0-2.4h0m0-2.4h0m0-2.4h0m0-2.5h0m0-2.4h0m0-4.8h0m0-2.4h0m0-2.4h0m0-7.2h0m0-2.4h0m0-2.5h0m0-4.8h0m0-12h0m2.4 122.9h0m0-16.9h0m0-4.8h0m0-2.4h0m0-2.4h0m0-2.4h0m0-2.5h0m0-2.4h0m0-2.4h0m0-2.4h0m0-2.4h0m0-2.4h0m0-2.4h0m0-2.4h0m0-2.4h0m0-2.4h0m0-2.5h0m0-2.4h0m0-4.8h0m0-2.4h0m0-2.4h0m0-2.4h0m0-2.4h0m0-2.4h0m0-2.4h0m0-2.4h0m0-4.9h0m0-2.4h0m0-2.4h0m0-2.4h0m0-2.4h0m0-2.4h0m0-2.4h0m0-2.4h0m0-2.4h0m0-4.9h0m0-7.2h0m0-7.2h0m2.4 134.9h0m0-28.9h0m0-9.6h0m0-7.3h0m0-2.4h0m0-2.4h0m0-7.2h0m0-2.4h0m0-2.4h0m0-2.4h0m0-2.5h0m0-2.4h0m0-4.8h0m0-2.4h0m0-2.4h0m0-2.4h0m0-2.4h0m0-2.4h0m0-2.4h0m0-2.4h0m0-2.5h0m0-2.4h0m0-2.4h0m0-2.4h0m0-2.4h0m0-2.4h0m0-2.4h0m0-2.4h0m0-2.4h0m0-2.4h0m0-4.9h0m0-4.8h0m0-4.8h0m0-4.8h0m0-4.8h0m2.4 106h0m0-2.4h0m0-4.8h0m0-4.9h0m0-4.8h0m0-4.8h0m0-2.4h0m0-2.4h0m0-2.4h0m0-2.4h0m0-2.5h0m0-2.4h0m0-4.8h0m0-2.4h0m0-2.4h0m0-2.4h0m0-2.4h0m0-2.4h0m0-2.4h0m0-2.4h0m0-2.5h0m0-2.4h0m0-2.4h0m0-2.4h0m0-4.8h0m0-9.6h0m0-7.3h0m0-2.4h0m0-4.8h0m2.5 98.8h0m0-9.6h0m0-9.7h0m0-2.4h0m0-2.4h0m0-2.4h0m0-4.8h0m0-2.4h0m0-2.5h0m0-2.4h0m0-2.4h0m0-2.4h0m0-2.4h0m0-2.4h0m0-2.4h0m0-2.4h0m0-2.4h0m0-4.8h0m0-7.3h0m0-2.4h0m0-2.4h0m0-2.4h0m0-2.4h0m0-4.8h0m0-7.3h0m0-4.8h0m0-2.4h0m0-4.8h0m0-2.4h0m0-7.2h0m0-7.3h0m2.4 113.3h0m0-2.4h0m0-2.4h0m0-7.3h0m0-2.4h0m0-2.4h0m0-2.4h0m0-4.8h0m0-2.4h0m0-2.4h0m0-2.5h0m0-2.4h0m0-2.4h0m0-2.4h0m0-2.4h0m0-7.2h0m0-2.4h0m0-2.4h0m0-2.4h0m0-4.9h0m0-2.4h0m0-4.8h0m0-7.2h0m0-2.4h0m0-2.4h0m0-4.9h0m0-12h0m0-7.2h0m2.4 103.6h0m0-9.7h0m0-2.4h0m0-7.2h0m0-4.8h0m0-2.4h0m0-2.4h0m0-4.9h0m0-2.4h0m0-2.4h0m0-2.4h0m0-2.4h0m0-7.2h0m0-4.8h0m0-2.5h0m0-2.4h0m0-2.4h0m0-2.4h0m0-2.4h0m0-2.4h0m0-2.4h0m0-4.8h0m0-16.9h0m0-16.9h0m2.4 118.1h0m0-7.2h0m0-4.8h0m0-7.3h0m0-7.2h0m0-4.8h0m0-2.4h0m0-2.4h0m0-4.9h0m0-2.4h0m0-4.8h0m0-12h0m0-2.4h0m0-2.5h0m0-2.4h0m0-2.4h0m0-2.4h0m0-2.4h0m0-2.4h0m0-2.4h0m0-2.4h0m0-2.4h0m0-4.9h0m0-4.8h0m2.4 77.1h0m0-4.8h0m0-4.8h0m0-4.8h0m0-2.4h0m0-4.9h0m0-2.4h0m0-2.4h0m0-7.2h0m0-2.4h0m0-2.4h0m0-4.8h0m0-7.3h0m0-4.8h0m0-2.4h0m0-4.8h0m0-7.2h0m0-2.5h0m0-2.4h0m0-9.6h0m0-2.4h0m0-4.8h0m2.4 86.7h0m0-4.8h0m0-4.8h0m0-2.4h0m0-4.9h0m0-7.2h0m0-4.8h0m0-2.4h0m0-2.4h0m0-4.8h0m0-2.4h0m0-4.9h0m0-2.4h0m0-2.4h0m0-7.2h0m0-2.4h0m0-7.3h0m0-7.2h0m0-2.4h0m0-2.4h0m2.5 96.4h0m0-4.8h0m0-4.9h0m0-12h0m0-4.8h0m0-2.4h0m0-2.4h0m0-14.5h0m0-2.4h0m0-2.4h0m0-2.4h0m0-4.8h0m0-2.5h0m0-2.4h0m0-2.4h0m0-2.4h0m0-4.8h0m0-4.8h0m0-9.7h0m0-12h0m0-2.4h0m0-2.4h0"/>
<linearGradient id="gBox" x1="0" x2="1" y1="0" y2="0"><stop offset="0" stop-color="#b9c0f5"/><stop offset="0.2" stop-color="#b3baf3"/><stop offset="0.5" stop-color="#ffffff"/><stop offset="0.8" stop-color="#b3baf3"/><stop offset="1" stop-color="#b9c0f5"/></linearGradient>
<linearGradient id="gOsc" x1="0" x2="1" y1="0" y2="0"><stop offset="0" stop-color="#c9c9f9"/><stop offset="0.15" stop-color="#c4c6f8"/><stop offset="0.5" stop-color="#ffffff"/><stop offset="0.85" stop-color="#c6c8f9"/><stop offset="1" stop-color="#cfcffa"/></linearGradient>
<linearGradient id="gDfb" x1="0" x2="1" y1="0" y2="0"><stop offset="0" stop-color="#8ceeee"/><stop offset="0.5" stop-color="#ffffff"/><stop offset="1" stop-color="#8ceeee"/></linearGradient>
<radialGradient id="gCav" cx="0.5" cy="0.45" r="0.55"><stop offset="0" stop-color="#c5d6f4"/><stop offset="1" stop-color="#5b84d6"/></radialGradient>
<filter id="sh" x="-10%" y="-20%" width="130%" height="150%"><feDropShadow dx="1.4" dy="1.6" stdDeviation="0.7" flood-color="#000" flood-opacity="0.45"/></filter>
<linearGradient id="gU" x1="0" x2="0" y1="0" y2="1"><stop offset="0" stop-color="#1f3ad6"/><stop offset="0.5" stop-color="#9a2a9a"/><stop offset="1" stop-color="#f0104a"/></linearGradient>
<linearGradient id="gWgm" x1="0" x2="0" y1="0" y2="1"><stop offset="0" stop-color="#d6d6d2"/><stop offset="0.6" stop-color="#dcd3d1"/><stop offset="1" stop-color="#d4d3d0"/></linearGradient>
<radialGradient id="gDisk" cx="0.45" cy="0.4" r="0.6"><stop offset="0" stop-color="#a8e8dc"/><stop offset="0.7" stop-color="#6cc6b8"/><stop offset="1" stop-color="#4aa898"/></radialGradient>
<radialGradient id="gDisk2" cx="0.35" cy="0.3" r="0.75"><stop offset="0" stop-color="#a8e6da"/><stop offset="0.6" stop-color="#86d4c6"/><stop offset="1" stop-color="#6cc4b4"/></radialGradient>
<radialGradient id="gHole" cx="0.5" cy="0.45" r="0.55"><stop offset="0" stop-color="#111"/><stop offset="1" stop-color="#3a4a48"/></radialGradient>
<linearGradient id="gDfbImg" x1="0" x2="0" y1="0" y2="1"><stop offset="0" stop-color="#cfcfd2"/><stop offset="0.45" stop-color="#c9c9d0"/><stop offset="0.55" stop-color="#b9b9e6"/><stop offset="0.7" stop-color="#c2c6dc"/><stop offset="1" stop-color="#cccccf"/></linearGradient>
<radialGradient id="gGlow" cx="0.5" cy="0.5" r="0.5"><stop offset="0" stop-color="#b8e8ff" stop-opacity="0.9"/><stop offset="1" stop-color="#b8e8ff" stop-opacity="0"/></radialGradient>
<radialGradient id="gGlowP" cx="0.5" cy="0.5" r="0.5"><stop offset="0" stop-color="#9d9df0" stop-opacity="0.75"/><stop offset="1" stop-color="#9d9df0" stop-opacity="0"/></radialGradient>
<filter id="blur2"><feGaussianBlur stdDeviation="2"/></filter>
<filter id="blur3" x="-30%" y="-30%" width="160%" height="160%"><feGaussianBlur stdDeviation="4"/></filter></defs>
<rect width="2071" height="1176" fill="#fff"/>
<text x="-1.0" y="31.8" font-size="46.6">(a)</text>
<text x="311.9" y="27.9" font-size="33.6">Schematic diagram of the principle</text>
<rect x="81.9" y="56.2" width="922.6" height="390.8" fill="none" stroke="#c00000" stroke-width="2.3" stroke-dasharray="9 7"/>
<rect x="96.8" y="71.1" width="212.7" height="181.1" rx="18" fill="none" stroke="#0000ff" stroke-width="2"/>
<rect x="319.3" y="69.3" width="380.2" height="181.5" rx="18" fill="none" stroke="#0000ff" stroke-width="2"/>
<rect x="709.3" y="68.4" width="272.3" height="181.6" rx="18" fill="none" stroke="#0000ff" stroke-width="2"/>
<text x="189.9" y="100.0" font-size="29.3" font-style="italic">E</text>
<text x="206.7" y="105.9" font-size="17.1" font-style="italic">in</text>
<text x="108.9" y="114.4" font-size="17.8" font-style="italic">RF</text>
<path d="M135.6 116V171.4" stroke="#444" stroke-width="1.3"/><path d="M135.6 171.4H275.8" stroke="#999" stroke-width="1.8"/>
<path d="M136.5 117.5l0.5 5.1 0.6 4.4 0.5-2.2 0.5 4.1 0.6 14.3 0.5-11.3 0.6 0.8 0.5 15 0.5-5.6 0.6-4.3 0.5 2.8 0.5 3 0.6-6.8 0.5-2.2 0.6 12 0.5-1.9 0.5-2.6 0.6 5.8 0.5-4.6 0.5 8 0.6-13.7 0.5 6.6 0.5-1 0.6-2.1 0.5 4.5 0.6-6.4 0.5 10.3 0.5 1.1 0.6-13.3 0.5 6.1 0.5-3.4 0.6-3.5 0.5 14.7 0.5-8.4 0.6-5.1 0.5 9.5 0.6-8.5 0.5 12.6 0.5-12.3 0.6-3.3 0.5 3 0.5 2.6 0.6 2.3 0.5 7.8 0.6-3.7 0.5-6.4 0.5-5.8 0.6 2.5 0.5 15.1 0.5-9.6 0.6 4.1 0.5-11.4 0.5-0.4 0.6 14.6 0.5-4.6 0.6-5 0.5 0.1 0.5-4.1 0.6 1.5 0.5-2.6 0.5 14.7 0.6-6.7 0.5-6.1 0.5 11 0.6-9.8 0.5-2.4 0.6 9.7 0.5 5.3 0.5-15.6 0.6 14 0.5-11.1 0.5-1.7 0.6-1.3 0.5 4.9 0.6 7.8 0.5-4.2 0.5 6.5 0.6-11.4 0.5 1.8 0.5-1.1 0.6 13 0.5-0.7 0.5-10.8 0.6 1.8 0.5-2.2 0.6 7.8 0.5-12.7 0.5 0.5 0.6 6 0.5-2.8 0.5 10.8 0.6-1.9 0.5-3.5 0.5 2.1 0.6 0.6 0.5 1.6 0.6 2.6 0.5-14 0.5 8.6 0.6-8.7 0.5 5.4 0.5 6.2 0.6 2 0.5-2.5 0.6-13 0.5 5.8 0.5-3.5 0.6 15.1 0.5-15.4 0.5 1.8 0.6 2 0.5-5.3 0.5 14.6 0.6-4.2 0.5-8.6 0.6 6.1 0.5-7.5 0.5 9.6 0.6-6.9 0.5-3.4 0.5 1.4 0.6 7.9 0.5 1.5 0.5-5.7 0.6 5.8 0.5-5.3 0.6-3.9 0.5 3.3 0.5 1.4 0.6 9.4 0.5-14.4 0.5-0.5 0.6 8.6 0.5 7.2 0.6-1 0.5-3.7 0.5-11.4 0.6 13.3 0.5-2.2 0.5-9.7 0.6 5.8 0.5-7.5 0.5 13.6 0.6-1.5 0.5 1.5 0.6-0.8 0.5-8.8 0.5 9.4 0.6-9.7 0.5-2 0.5 4.5 0.6 2 0.5-3.9 0.5 5.8 0.6 0 0.5-6.6 0.6 6.9 0.5-4.7 0.5 6.8 0.6-8 0.5 9.1 0.5-6.9 0.6 2.5 0.5 2.2 0.6-2.8 0.5-4.7 0.5 13.2 0.6-14.6 0.5 5.1 0.5 4.7 0.6-7.2 0.5 3.1 0.5 10.6 0.6 0.6 0.5-1.1 0.6 4.3 0.5-1 0.5-4.7 0.6 5.1 0.5-2.4 0.5 5.3 0.6-2.7 0.5-1.1 0.5 7 0.6-1.7 0.5 0.4 0.6-1.5 0.5 1.8 0.5-2.7 0.6 1 0.5-4 0.5 3.9 0.6 2 0.5-0.8 0.6 0.8 0.5-2.4 0.5 3 0.6-6.1 0.5 6 0.5-3.9 0.6-2.2 0.5 4.2 0.5-1.3 0.6-0.2 0.5 3.3 0.6-5.5 0.5 3.7 0.5-1.6 0.6 0.9 0.5-0.2 0.5-2.8 0.6 2.9 0.5 2.7 0.5-5.3 0.6-1.2 0.5 0.4 0.6 3 0.5 3.9 0.5-7 0.6 7.1 0.5-3.4 0.5-3.1 0.6 2.3 0.5-1.6 0.6 3.8 0.5-1.3 0.5-1.9 0.6-0.2 0.5 4.5 0.5-0.7 0.6-2.5 0.5-0.2 0.5 2.5 0.6 1.7 0.5-6.5 0.6 0.6 0.5 1.4 0.5 1.1 0.6-3.1 0.5-0.2 0.5 1.2 0.6 1.3 0.5 2.5 0.5-0.9 0.6-4.2 0.5 0.1 0.6 3 0.5 3 0.5 0.3 0.6-3.9 0.5 3.7 0.5 0.3 0.6-3.7 0.5 2.4 0.6-2.7 0.5-1.5 0.5 3 0.6-3.4 0.5 4" fill="none" stroke="#1a1af5" stroke-width="0.9" stroke-opacity="0.9"/>
<path d="M136.5 119.9l0.5 4.5 0.6 1.5 0.5 1 0.5 10 0.6 3.8 0.5 3.9 0.6-4.1 0.5 1.3 0.5-3.5 0.6-2.2 0.5 1.7 0.5 5.6 0.6-4.7 0.5 4.9 0.6-2.2 0.5-0.4 0.5 6.8 0.6-9.8 0.5 4.3 0.5-3.9 0.6 10.1 0.5-5.4 0.5-1.8 0.6-1.8 0.5 5.6 0.6-2.4 0.5-3.4 0.5-1.2 0.6 4.6 0.5 2.4 0.5-0.8 0.6 4.8 0.5 0.1 0.5 0.4 0.6-1.8 0.5-4 0.6 0.6 0.5-1.6 0.5 0 0.6-4.5 0.5 9.6 0.5-7 0.6-2.7 0.5 5.5 0.6 3.2 0.5-3.6 0.5-0.9 0.6 3.8 0.5-6.3 0.5-1.9 0.6 7.3 0.5-0.7 0.5 4.2 0.6-5.7 0.5 4.7 0.6-9.7 0.5 0.2 0.5 7.2 0.6-4.7 0.5-2 0.5 0.8 0.6 3.1 0.5-0.5 0.5 2.9 0.6 4.1 0.5-6.6 0.6-2.3 0.5 5 0.5-7.3 0.6 4.9 0.5-0.9 0.5 0.9 0.6-4.2 0.5 6.3 0.6 0.9 0.5 1.6 0.5 2.6 0.6-7.6 0.5 3.8 0.5-2.6 0.6-2.9 0.5 8.5 0.5-1.8 0.6 2.5 0.5-1.5 0.6 1.2 0.5-9.9 0.5-1.5 0.6 2.4 0.5 2.7 0.5 3.4 0.6-3.1 0.5 0.9 0.5 3.2 0.6-8.7 0.5 7.6 0.6-7.9 0.5 2.5 0.5 6 0.6-0.5 0.5-3.5 0.5-1.3 0.6 6.7 0.5-7 0.6-3 0.5 2.7 0.5-2.9 0.6 10 0.5-8.7 0.5 10.8 0.6-9.6 0.5 1.2 0.5 3.5 0.6-3.5 0.5 0.9 0.6-3.4 0.5 3.6 0.5-4.6 0.6 2.5 0.5 8.6 0.5-7.9 0.6-0.1 0.5 5.1 0.5 2.6 0.6-7.4 0.5 1.1 0.6 4.2 0.5 1 0.5-2.2 0.6-5.5 0.5 0 0.5 7.3 0.6-0.6 0.5 2.4 0.6-1.5 0.5-4.5 0.5-3.6 0.6 9.5 0.5-2.4 0.5-1.5 0.6 1.3 0.5-3.7 0.5-0.5 0.6 2.9 0.5-1.2 0.6 2.9 0.5 2.9 0.5-1.2 0.6-5.7 0.5-0.2 0.5 7 0.6-6.7 0.5 5.1 0.5-8.9 0.6 4.5 0.5 0.8 0.6 3.7 0.5 0.9 0.5-9.1 0.6 5.8 0.5 0.2 0.5-6 0.6 8.6 0.5-3.5 0.6 5.1 0.5-9.8 0.5 4.5 0.6-1.4 0.5 4.8 0.5 0.5 0.6-0.1 0.5-1 0.5 2.9 0.6-0.3 0.5 5.9 0.6-3.1 0.5 1.2 0.5-0.9 0.6 1.1 0.5 6.4 0.5-3.8 0.6 4.8 0.5-0.9 0.5 2.8 0.6-4.8 0.5 4.4 0.6-1 0.5-1.1 0.5 0.8 0.6 0.1 0.5-1.5 0.5 1 0.6-2.2 0.5-1.2 0.6 3.6 0.5-1.1 0.5 2.4 0.6-3.5 0.5 3 0.5 1 0.6-0.5 0.5 0.3 0.5-4.3 0.6 0 0.5 0.4 0.6 0.7 0.5-1.3 0.5 0.2 0.6-0.7 0.5 4.9 0.5-3.1 0.6 1.5 0.5-0.9 0.5 1.5 0.6 0.3 0.5-2.2 0.6 0.8 0.5-2.3 0.5 1 0.6-0.3 0.5 0.4 0.5 0.1 0.6 1.4 0.5-1.3 0.6 0 0.5 2.6 0.5-4.3 0.6 0 0.5 0.3 0.5 4.2 0.6-1.2 0.5 0.5 0.5 1.2 0.6-3.8 0.5 3.6 0.6-3.5 0.5 1.5 0.5 0.8 0.6 0.6 0.5-2.8 0.5 1.2 0.6-2.2 0.5 1.2 0.5 3.5 0.6-0.4 0.5-1.6 0.6 1.1 0.5 0.5 0.5-2.8 0.6 3.2 0.5-2.6 0.5-1.4 0.6 1.8 0.5 0.3 0.6 0.5 0.5-0.1 0.5-3.1 0.6 3 0.5 1.4" fill="none" stroke="#3030ff" stroke-width="0.8" stroke-opacity="0.7"/>
<text x="283.8" y="159.4" font-size="21.8" font-style="italic">f</text>
<text x="110.6" y="181.6" font-size="19.8" font-style="italic">P</text>
<text x="120.7" y="185.9" font-size="19.3" font-style="italic">in</text>
<path d="M135.6 181.6V237.3" stroke="#444" stroke-width="1.3"/><path d="M135.6 237.3H275.8" stroke="#999" stroke-width="1.8"/>
<path d="M136.5 228.2l0.7-25.8 0.7-12.7 0.7 23.5 0.7 1.6 0.7-6.9 0.7-10.5 0.7 5 0.7 10.2 0.7 2.7 0.7-20.4 0.7 8.4 0.7 9.8 0.7-3.1 0.7 1.2 0.7-17.7 0.7 10.9 0.7 20.1 0.7-13.5 0.7-17.7 0.7 2.7 0.7 7.5 0.7 16.5 0.7-1.1 0.7-11.6 0.7-7.4 0.7 3.3 0.7 20.7 0.7-3.5 0.7-12.2 0.7-15.4 0.7 13.6 0.7 8.5 0.7-4.6 0.6-5 0.7-11 0.7 5.3 0.7 17.9 0.7-6.1 0.7-0.2 0.7-21 0.7 20.7 0.7 2.7 0.7-19.6 0.7 11.2 0.7 16.3 0.7-15.1 0.7-10.9 0.7 1.1 0.7 19.8 0.7 4 0.7-7.8 0.7-10.6 0.7-6.3 0.7-0.2 0.7 6.4 0.7 24.1 0.7-29.7 0.7-0.7 0.7 28.6 0.7-10 0.7-18.7 0.7 1.8 0.7 4.9 0.7 14.9 0.7 2.8 0.7-19.2 0.7-0.5 0.7 2.6 0.7 8.9 0.7 9 0.7-14.9 0.7-5.4 0.7-9.1 0.7 7.1 0.7 9.9 0.7 3.4 0.7-9.2 0.7-13 0.7 13 0.7 14.8 0.7-8 0.7 10.2 0.7-23.9 0.7-6.1 0.7 13.8 0.7 8 0.7 1 0.7 1.5 0.7-9.6 0.7-5.5 0.7-0.5 0.7 8.4 0.7 10.9 0.7 6.5 0.7-17.7 0.7-10.9 0.7 0.6 0.7 31.7 0.7-1.9 0.6-9.5 0.7-13.2 0.7-6.4 0.7-5.1 0.7 27.4 0.7-4.5 0.7-6.8 0.7-15 0.7 4.9 0.7 19.7 0.7 0 0.7-11.1 0.7-14 0.7 8.8 0.7 13.4 0.7 3.7 0.7-27.7 0.7 2.1 0.7 25.4 0.7-0.1 0.7-16.5 0.7-6.5 0.7 15.1 0.7 10.4 0.7 1 0.7-8.4 0.7-17.4 0.7 7.2 0.7 14.1 0.7-4.2 0.7-8.8 0.7-4.8 0.7 3.7 0.7 18.5 0.7-9.2 0.7-7.6 0.7-2.6 0.7 20.8 0.7 4.7 0.7-21 0.7-7.8 0.7 2 0.7 18.3 0.7 2.4 0.7-5.7 0.7-19.2 0.7-3.8 0.7 23.1 0.7 1.9 0.7-6 0.7-13.7 0.7-3.4 0.7 16.6 0.7 4 0.7-23.6 0.7 8.5 0.7 0.1 0.7 21 0.7-4.1 0.7-16.6 0.7 1.9 0.7 16 0.7-3 0.7-11.6 0.7-3.5 0.7 4.1 0.6 13.7 0.7 1.6 0.7-5.2 0.7-19.1 0.7 8.4 0.7 8.2 0.7 9.3 0.7-15.8 0.7-5.7 0.7-3.3 0.7 6.4 0.7 17.1 0.7-6.2 0.7-4.5 0.7-19.6 0.7 17.3 0.7 8.2 0.7-4 0.7-15.7 0.7 8.5 0.7 15.7 0.7-6.6 0.7-11.8 0.7-7.5 0.7 6.7 0.7 16.9 0.7-17.9 0.7 2.6 0.7 14 0.7-1.9 0.7 3.9 0.7-14.5 0.7 0.4 0.7 14.3" fill="none" stroke="#5a5aff" stroke-width="0.9" stroke-opacity="0.85"/>
<text x="283.1" y="234.4" font-size="22.7" font-style="italic">t</text>
<text x="426.8" y="99.1" font-size="27.9" font-style="italic">E</text>
<text x="444.8" y="106.0" font-size="16.9" font-style="italic">out</text>
<text x="477.9" y="102.1" font-size="28.0">=</text>
<text x="503.4" y="99.1" font-size="26.4" font-style="italic">H</text>
<text x="527.0" y="106.4" font-size="15.4" font-style="italic">C</text>
<text x="559.4" y="99.1" font-size="27.9" font-style="italic">E</text>
<text x="576.9" y="106.0" font-size="16.1" font-style="italic">in</text>
<text x="446.8" y="87.6" font-size="14.5">1</text>
<text transform="translate(547.00 77.50) scale(0.7453 0.8571)" x="-1.60" y="27.80" font-size="40">(</text>
<text transform="translate(595.20 77.50) scale(0.5769 0.8571)" x="-1.20" y="27.80" font-size="40">)</text>
<text x="320.8" y="92.6" font-size="17.1" font-style="italic">T</text>
<path d="M339.5 97.7V160.5" stroke="#666" stroke-width="1.2"/><path d="M339.5 160.5H495.7" stroke="#444" stroke-width="1.5"/>
<path d="M340.5 127.5l0.5 20.3 0.4 11.7 0.5 0 0.5-14.9 0.4 1.2 0.5 5.3 0.5 1.4 0.5-6.9 0.4-4.7 0.5 11.3 0.5-1.1 0.4-12 0.5 4.7 0.5 5.6 0.4-0.1 0.5 4.9 0.5 3.3 0.5-3.1 0.4-7.8 0.5-6.1 0.5 13.1 0.4 5.9 0.5 0 0.5-6.8 0.4-2.4 0.5 9.2 0.5 0 0.4-5.9 0.5-3.1 0.5-6.5 0.5 2.3 0.4-5.3 0.5 1.4 0.5-0.8 0.4-7.7 0.5-10.8 0.5 8.2 0.4 9.5 0.5-3 0.5-2.5 0.5 5.9 0.4 2.7 0.5-2.8 0.5-8.8 0.4 1.4 0.5-1.3 0.5-7.1 0.4-1.6 0.5 7 0.5 3.8 0.4 16.6 0.5-8.7 0.5-8 0.5 4.5 0.4 10.4 0.5-14.1 0.5-0.9 0.4-1.2 0.5 3.7 0.5 4.1 0.4 3.9 0.5-13.6 0.5 8.2 0.5 11.5 0.4-9 0.5-2.3 0.5-8.1 0.4-9.1 0.5 17.7 0.5 12.9 0.4-10.5 0.5-7.7 0.5 12.5 0.5 5.2 0.4 6.7 0.5-1.3 0.5-6.1 0.4-3 0.5-8.3 0.5 13.8 0.4 0.9 0.5 1.8 0.5 0.4 0.4-9.8 0.5-2.7 0.5-6.6 0.5-6.5 0.4 12.1 0.5 2.9 0.5-4.6 0.4 8.7 0.5 1.8 0.5 0.9 0.4-12.8 0.5-6.1 0.5 15.4 0.5 4.4 0.4-5.2 0.5-4.2 0.5 1.2 0.4-1 0.5-6.7 0.5-5.9 0.4 11.2 0.5-7.7 0.5 1.9 0.4 3.9 0.5 0.4 0.5-6.3 0.5 14.3 0.4 2.4 0.5 1.6 0.5-0.5 0.4-18.2 0.5-15.6 0.5 21.1 0.4 13.7 0.5-1.9 0.5-11.1 0.5 1.4 0.4-0.7 0.5-13.5 0.5 1.3 0.4 10 0.5 11.8 0.5-6.6 0.4 6.7 0.5-11 0.5-6.2 0.4 15.5 0.5-11.5 0.5 7.4 0.5 7.1 0.4-15.3 0.5-5 0.5 15.9 0.4-6 0.5-11.9 0.5-0.7 0.4 9.4 0.5 8.6 0.5-3.5 0.5 5.9 0.4 8.1 0.5 0.4 0.5 0 0.4-4.1 0.5-15 0.5 11.2 0.4-2.3 0.5-7.9 0.5-9.2 0.4-5.2 0.5 3.6 0.5 4.7 0.5-4.6 0.4 0.4 0.5 5.3 0.5 7.9 0.4-3.6 0.5 1.3 0.5 8.1 0.4-6.8 0.5-0.7 0.5-7.5 0.5 3.3 0.4 1.3 0.5-1.8 0.5-5 0.4-4.1 0.5 3.8 0.5 4.7 0.4 10.2 0.5-2.4 0.5-12.7 0.5 7.8 0.4-4.1 0.5 1.6 0.5-7.1 0.4-3.2 0.5 15.8 0.5-1.7 0.4-14.2 0.5-5.1 0.5 9 0.4-1.2 0.5 6.6 0.5 11.2 0.5 4.3 0.4-7 0.5 9 0.5-1 0.4-15.1 0.5-7 0.5 15.5 0.4 9.5 0.5 3.5 0.5 0 0.5-1.8 0.4-1.2 0.5-15.3 0.5 2 0.4 2.8 0.5 10.8 0.5-12.5 0.4-19.8 0.5 21.2 0.5-2.6 0.4 5 0.5-4.9 0.5 2.7 0.5 5.3 0.4-4.5 0.5-4.7 0.5 11.5 0.4-2.9 0.5-5 0.5 0 0.4-3.3 0.5 10.2 0.5-5.4 0.5-4 0.4-3.1 0.5-9 0.5-2 0.4 9 0.5 6.1 0.5 5.8 0.4-7.2 0.5-9.3 0.5 9.3 0.4 4.8 0.5 2.7 0.5-7.5 0.5-6.2 0.4 10.3 0.5-6.7 0.5 0.4 0.4-7.4 0.5 9.6 0.5-3.1 0.4 10.4 0.5 7 0.5-6.7 0.5-16.7 0.4-3 0.5 6.6 0.5 11.4 0.4 1.1 0.5-0.3 0.5 0.4 0.4 3.2 0.5 5.1 0.5 1.4 0.4-6.7 0.5-7 0.5-13.1 0.5-0.4 0.4 4.8 0.5-0.2 0.5 10.3 0.4 5.9 0.5-10.9 0.5-4.5 0.4-0.9 0.5 1.7 0.5-0.9 0.5 6.2 0.4 3 0.5 1.2 0.5 2.1 0.4-5.1 0.5 3.2 0.5 7.3 0.4-7.7 0.5 0.9 0.5-5.5 0.5-4.1 0.4-1.9 0.5-0.7 0.5 4 0.4-2.1 0.5 2.5 0.5 10 0.4-3.2 0.5 5.4 0.5-2.1 0.4-1.3 0.5-7.9 0.5 9.5 0.5 8.2 0.4 0 0.5-0.2 0.5-3.1 0.4-0.8 0.5-10.6 0.5 0.4 0.4 10.9 0.5 1.2 0.5-8.1 0.5-1.3 0.4-0.4 0.5-0.8 0.5-8.3 0.4-1.1 0.5 5.3 0.5-7.7 0.4 1.6 0.5 4.5 0.5-0.7 0.4 7.7 0.5-1.2 0.5-0.4 0.5-6.7 0.4 2 0.5 9.3 0.5-0.9 0.4-3 0.5 3.6 0.5 0 0.4 2.2 0.5 5.3 0.5-11.2 0.5 1.4 0.4 0.6 0.5-7.9 0.5-4.1 0.4 9.7 0.5 0.4" fill="none" stroke="#1414f0" stroke-width="0.85"/>
<text x="506.3" y="152.4" font-size="18.9" font-style="italic">λ</text>
<text x="321.8" y="176.7" font-size="24.6" font-style="italic">τ</text>
<path d="M339.5 178.8V241" stroke="#666" stroke-width="1.2"/><path d="M339.5 241H495.7" stroke="#444" stroke-width="1.5"/>
<path d="M340.5 239.4l0.6-0.9 0.7 1 0.6-1 0.7-0.8 0.6 1.7 0.7-2 0.6 0.6 0.7 0.6 0.6-1.2 0.7 1.4 0.6-1 0.7-2.1 0.6 0.9 0.7-0.8 0.6 0 0.6-6.1 0.7 5.1 0.6 1.1 0.7-4.9 0.6-2.6 0.7 2 0.6 5.6 0.7-4.5 0.6-4.4 0.7 1 0.6 3.4 0.7 2.5 0.6-15.9 0.6 18.6 0.7-6.5 0.6-20.3 0.7 18.3 0.6 6.8 0.7-3.9 0.6 0.9 0.7 2.3 0.6-6.5 0.7 10.3 0.6-1.3 0.7-0.7 0.6-1.2 0.7-0.2 0.6-2.1 0.6-2.5 0.7 1.5 0.6 4.9 0.7-39.6 0.6 31.7 0.7 7.4 0.6 1.2 0.7-6.1 0.6 4.1 0.7-3.1 0.6 0.6 0.7 4.6 0.6-2.2 0.6-1.7 0.7 4.5 0.6-8.6 0.7-3.1 0.6 6.4 0.7-34.7 0.6 38.4 0.7-2.1 0.6 2.4 0.7-4.2 0.6 2.4 0.7-0.5 0.6 3.1 0.7 0 0.6 0.3 0.6-5.5 0.7-0.8 0.6 4.5 0.7-1 0.6-4.1 0.7-9.9 0.6 14.6 0.7 2.6 0.6-0.9 0.7 0.8 0.6-5.7 0.7-10.9 0.6 10.8 0.6 3.3 0.7-5.9 0.6 6 0.7-5.9 0.6 8.5 0.7-2.9 0.6-0.1 0.7-7.2 0.6 9.9 0.7-7.3 0.6 3.7 0.7 1.6 0.6-0.7 0.7 2.8 0.6-27.3 0.6 27.4 0.7-5.4 0.6-3.6 0.7 3.9 0.6 4.3 0.7-33.7 0.6 31.7 0.7-9.3 0.6 4.5 0.7 0 0.6 2.9 0.7 2.4 0.6-6.5 0.6 5.6 0.7 1 0.6 0.9 0.7 0.9 0.6-3.4 0.7 0.4 0.6 3.3 0.7-1 0.6 0.2 0.7-8.8 0.6 9.3 0.7 0.2 0.6-3.7 0.7-1.5 0.6-0.8 0.6-3.5 0.7 3.8 0.6 3 0.7-4 0.6 0 0.7 6.7 0.6-19.9 0.7 18.7 0.6-8.5 0.7 4.7 0.6-2.7 0.7 5.7 0.6-4.8 0.6 1.7 0.7 3.3 0.6 1.7 0.7-25.5 0.6 19.6 0.7-35.6 0.6 41.1 0.7-6.3 0.6 4.9 0.7-0.6 0.6-2.9 0.7 1 0.6 2.9 0.7-3.7 0.6 0.9 0.6 1.2 0.7 3.7 0.6-0.9 0.7-1.5 0.6 2 0.7-5.6 0.6-12.2 0.7 10.6 0.6 6.2 0.7-16.3 0.6 11.8 0.7 4.6 0.6-4.4 0.6 4.8 0.7-6.1 0.6-5.6 0.7 11.5 0.6-1.2 0.7-3.9 0.6 3.5 0.7 1 0.6-23.3 0.7 18.2 0.6-29.5 0.7 32.9 0.6 1.6 0.7-5 0.6-22 0.6-13.3 0.7 37.6 0.6-4.9 0.7-24.8 0.6 23 0.7 2.2 0.6 1.9 0.7 1.2 0.6-5.1 0.7 9.4 0.6 0.3 0.7-0.5 0.6-2.9 0.6-7.5 0.7 2.5 0.6 2.3 0.7 6.6 0.6-4.9 0.7 0.8 0.6-17.1 0.7 17.1 0.6-33.1 0.7 31.4 0.6-4.7 0.7 5 0.6 5.1 0.7-4.1 0.6-6.9 0.6-2.7 0.7 14.6 0.6-3 0.7-8.2 0.6 9.6 0.7 1.3 0.6-3.2 0.7-0.3 0.6 2.2 0.7-2.3 0.6 1.1 0.7 2.7 0.6-2.4 0.6-6.3 0.7-0.2 0.6 3.2 0.7 1.4 0.6 0.1 0.7 1.9 0.6-6.7 0.7 5.5 0.6-1.8 0.7 5.4 0.6 0 0.7-1.5 0.6-25.7 0.7 20.5 0.6 4" fill="none" stroke="#1414f0" stroke-width="0.9"/>
<text x="509.4" y="230.5" font-size="18.6" font-style="italic">λ</text>
<text x="536.1" y="174.7" font-size="24.1" font-style="italic">H</text>
<text x="555.0" y="180.8" font-size="13.8" font-style="italic">C</text>
<text x="573.0" y="177.3" font-size="25.5">=</text>
<text x="603.5" y="157.4" font-size="23.1" font-style="italic">T</text>
<text x="631.1" y="157.4" font-size="25.4" font-style="italic">t</text>
<text x="639.7" y="157.4" font-size="20.0">,</text>
<text x="649.7" y="157.4" font-size="29.2" font-style="italic">λ</text>
<text x="606.6" y="192.7" font-size="23.2" font-style="italic">τ</text>
<text x="629.5" y="192.7" font-size="25.4" font-style="italic">t</text>
<text x="638.0" y="192.7" font-size="21.3">,</text>
<text x="648.4" y="192.7" font-size="29.4" font-style="italic">λ</text>
<text transform="translate(592.70 135.30) scale(1.2297 1.8575)" x="-4.20" y="30.40" font-size="40" font-family="DejaVu Sans" font-weight="200">(</text>
<text transform="translate(674.00 135.30) scale(1.3378 1.8575)" x="-4.20" y="30.40" font-size="40" font-family="DejaVu Sans" font-weight="200">)</text>
<text transform="translate(622.70 137.30) scale(0.6981 0.7665)" x="-1.60" y="27.80" font-size="40">(</text>
<text transform="translate(665.00 137.30) scale(0.6731 0.7665)" x="-1.20" y="27.80" font-size="40">)</text>
<text transform="translate(621.00 173.00) scale(0.6604 0.7692)" x="-1.60" y="27.80" font-size="40">(</text>
<text transform="translate(663.30 173.00) scale(0.6731 0.7692)" x="-1.20" y="27.80" font-size="40">)</text>
<text x="756.5" y="104.0" font-size="29.0" font-style="italic">E</text>
<text x="773.9" y="111.6" font-size="18.0" font-style="italic">out</text>
<text x="808.4" y="106.9" font-size="32.0">=</text>
<text x="836.6" y="104.0" font-size="28.4" font-style="italic">H</text>
<text x="860.8" y="111.6" font-size="18.5" font-style="italic">L</text>
<text x="893.4" y="104.0" font-size="24.9" font-style="italic">E</text>
<text x="910.8" y="111.6" font-size="17.5" font-style="italic">out</text>
<text x="776.2" y="90.8" font-size="17.0">2</text>
<text x="912.8" y="90.8" font-size="17.7">1</text>
<text transform="translate(879.30 75.10) scale(0.8113 1.1703)" x="-1.60" y="27.80" font-size="40">(</text>
<text transform="translate(941.60 75.10) scale(0.8365 1.1703)" x="-1.20" y="27.80" font-size="40">)</text>
<path d="M793.1 192.5l-4.4 4.2-3.4 3.4-2.6 3-2 2.6-1.7 2.3-1.5 1.9-1.3 1.6-1.4 1.2-1.5 0.8-1.6 0.4-1.8-0.2-2-0.8-2.2-1.6-2.2-2.2-2.3-3-2.2-3.7-1.8-4-1.3-4-0.5-3.5 0.4-2.5 1.1-1.4 1.9-0.1 2.5 1 2.6 1.8 2.6 2.3 2.5 2.6 2.1 2.7 1.8 2.7 1.3 2.6 1 2.4 0.5 2.3 0.3 2.1-0.2 1.8-0.4 1.6-0.7 1.3-1 0.9-1.3 0.5-1.6 0.1-1.8-0.6-2.2-1.3-2.3-2.1-2.5-2.9-2.5-3.8-2.2-4.3-1.7-4.6-1-4.3-0.1-3.4 0.9-2.2 1.8-0.7 2.5 0.7 2.9 1.7 3 2.4 2.8 2.8 2.5 2.9 2.1 2.9 1.7 2.8 1.2 2.7 0.8 2.5 0.4 2.3 0.1 2.1-0.2 1.9-0.5 1.6-0.8 1.4-1.1 0.9-1.4 0.6-1.7 0-2.1-0.7-2.3-1.4-2.6-2.3-2.8-3.2-2.7-4.2-2.5-5-2-5.3-1.1-4.9-0.1-3.9 1.1-2.3 2.1-0.6 2.9 0.9 3.3 2.1 3.4 2.7 3.1 3.2 2.8 3.2 2.3 3.1 1.8 3 1.3 2.9 0.8 2.6 0.5 2.5 0.2 2.3-0.1 2-0.5 1.9-0.7 1.5-1 1.3-1.2 0.9-1.6 0.4-2-0.1-2.3-0.9-2.6-1.7-2.9-2.7-3.2-4-3.1-5-2.8-5.9-2.2-6.2-1-5.6 0.2-4.2 1.6-2.2 2.8-0.1 3.5 1.6 3.9 2.8 3.9 3.3 3.4 3.6 3 3.5 2.4 3.4 1.8 3.2 1.4 3 0.9 2.8 0.5 2.6 0.2 2.4 0 2.2-0.3 2-0.5 1.8-0.8 1.6-1 1.3-1.3 1-1.7 0.5-2 0.1-2.3-0.7-2.8-1.5-3.3-2.7-3.5-4.1-3.7-5.5-3.6-6.9-3-7.6-1.8-7.4-0.3-5.8 1.5-3.3 3.1-0.6 4.2 1.7 4.7 3.3 4.6 3.9 4.3 4.1 3.5 4 3 3.7 2.2 3.5 1.7 3.2 1.2 3 0.9 2.8 0.5 2.6 0.4 2.5 0.1 2.3 0 2.1-0.1 2-0.3 1.9-0.3 1.7-0.5 1.6-0.6 1.4-0.8 1.3-1 1.1-1.2 0.9-1.5 0.5-2 0.2-2.4-0.4-2.9-1.3-3.5-2.4-4.2-4-4.6-6-5-8.4-4.7-10.3-3.6-11.2-1.7-10 0.9-6.5 3.6-2 5.5 2 6.4 4.4 6.5 5.2 5.9 5.3 4.9 4.7 4 4.3 3.1 3.8 2.4 3.3 1.8 3.1 1.5 2.7 1.2 2.5 1 2.3 1.1 2 1 1.8 1.2 1.5 1.3 1.1 1.6 0.8 1.9 0.3 2.2-0.4 2.6-1.1 2.9-2.2 3.2-3.3 3.4-4.6 3.4-5.9 2.9-6.7 2.1-6.8 0.7-5.8-0.8-3.9-2.2-1.5-3.5 0.7-4.1 2.4-4.3 3.4-4 3.7-3.6 3.8-2.9 3.7-2.4 3.4-1.7 3.3-1.3 3-0.9 2.8-0.5 2.6-0.2 2.4-0.1 2.3 0.2 2.1 0.4 1.9 0.6 1.8 0.8 1.5 1 1.3 1.3 1 1.5 0.6 2 0.2 2.3-0.4 2.9-1.4 3.3-2.4 3.8-3.9 4.1-5.7 4.2-7.4 3.7-8.7 2.7-8.9 0.9-7.5-1.1-4.8-3.1-1.3-4.6 1.6-5.4 3.5-5.3 4.4-4.9 4.5-4.2 4.4-3.4 4-2.7 3.7-2 3.3-1.5 3.1-1.2 2.9-0.8 2.7-0.7 2.5-0.5 2.3-0.4 2.2-0.5 2-0.4 1.9-0.5 1.7-0.6 1.6-0.8 1.5-0.8 1.2-1.1 1.1-1.3 0.8-1.7 0.5-2.1 0-2.5-0.6-3.1-1.6-3.7-2.8-4.2-4.5-4.8-6.7-4.8-8.8-4.4-10.6-3.1-10.8-0.9-8.9 1.7-5.1 4.1-0.7 5.8 2.8 6.4 4.6 6.3 5.3 5.5 5 4.6 4.6 3.7 4.1 2.8 3.6 2.2 3.3 1.6 3 1.4 2.7 1.1 2.5 1 2.2 0.9 2 1.1 1.8 1.1 1.5 1.4 1.2 1.5 0.8 1.9 0.3 2.2-0.3 2.6-1.1 2.9-2.1 3.3-3.3 3.5-4.7 3.5-6 3.2-6.9 2.2-7.2 0.9-6.2-0.6-4.3-2.3-1.7-3.5 0.6-4.3 2.5-4.5 3.4-4.2 3.9-3.7 3.9-3.1 3.8-2.4 3.5-1.9 3.3-1.4 3-0.9 2.9-0.6 2.7-0.3 2.5-0.1 2.3 0 2.1 0.3 2 0.4 1.9 0.6 1.6 0.7 1.5 1 1.3 1.3 1 1.5 0.7 1.9 0.2 2.3-0.4 2.8-1.1 3.4-2.3 3.9-3.8 4.3-5.6 4.4-7.5 4.2-9.2 3.1-9.7 1.5-8.6-0.8-5.8-3.1-2-4.8 1.4-5.6 3.7-5.8 4.6-5.3 4.8-4.6 4.6-3.7 4.1-2.9 3.8-2.2 3.4-1.7 3.2-1.3 2.8-1 2.7-0.8 2.5-0.7 2.3-0.7 2.1-0.7 1.9-0.8 1.7-1 1.6-1.1 1.3-1.3 1-1.6 0.6-2 0.2-2.4-0.5-2.9-1.4-3.4-2.5-3.8-4-4.2-5.7-4.2-7.5-3.7-8.8-2.7-9-0.9-7.5 1.2-4.8 3.3-1.2 4.6 1.7 5.4 3.6 5.4 4.4 5 4.6 4.2 4.4 3.4 4 2.6 3.6 2 3.4 1.6 3.1 1.1 2.9 0.8 2.7 0.7 2.4 0.5 2.4 0.5 2.1 0.5 2 0.5 1.9 0.6 1.7 0.7 1.6 0.8 1.3 1 1.2 1.2 1 1.5 0.7 1.9 0.2 2.3-0.3 2.8-1.1 3.4-2.2 4-3.7 4.5-5.5 4.7-7.8 4.6-9.7 3.6-10.7 1.9-9.7-0.5-6.7-3.1-2.6-5 1.3-6.1 3.9-6.2 4.9-5.8 5.2-4.9 4.7-4 4.3-3.2 3.8-2.4 3.5-1.8 3.1-1.5 2.9-1.1 2.6-1 2.4-0.9 2.1-1 2-1 1.7-1.1 1.4-1.3 1.2-1.6 0.7-1.9 0.3-2.3-0.4-2.6-1.1-3.1-2.3-3.4-3.5-3.7-4.9-3.6-6.4-3.3-7.3-2.3-7.6-0.9-6.4 0.9-4.3 2.5-1.6 3.8 0.9 4.5 2.7 4.7 3.7 4.3 4.1 3.9 4 3.1 3.8 2.5 3.6 1.9 3.3 1.3 3.1 1 2.9 0.7 2.6 0.3 2.5 0.2 2.4 0.1 2.2-0.1 2-0.3 1.9-0.3 1.8-0.5 1.6-0.7 1.5-0.8 1.3-1 1.1-1.3 0.8-1.6 0.6-1.9 0-2.5-0.5-3-1.3-3.6-2.6-4.2-4.3-4.6-6.3-4.9-8.5-4.5-10.3-3.3-10.9-1.3-9.3 1.3-5.7 3.8-1.4 5.6 2.3 6.3 4.5 6.3 5.2 5.7 5.1 4.7 4.6 3.8 4.2 3 3.7 2.2 3.4 1.8 3 1.3 2.7 1.2 2.5 1 2.3 0.9 2.1 1 1.8 1.1 1.5 1.3 1.3 1.5 0.9 1.8 0.4 2.2-0.2 2.5-0.9 2.9-1.9 3.2-3 3.5-4.4 3.6-5.8 3.2-6.8 2.5-7.3 1.2-6.5-0.3-4.8-2-2.3-3.3 0.2-4.2 2.2-4.5 3.3-4.3 3.9-3.8 3.9-3.3 3.8-2.6 3.6-2 3.3-1.4 3.2-1 2.9-0.7 2.7-0.4 2.5-0.2 2.4 0.1 2.2 0.2 2 0.3 1.9 0.6 1.7 0.7 1.5 0.9 1.4 1.1 1.1 1.4 0.8 1.8 0.4 2.1-0.1 2.7-0.9 3.1-1.8 3.7-3.2 4.2-4.9 4.5-6.8 4.4-8.7 3.6-9.9 2.2-9.3 0.1-7.1-2.3-3.5-4.2 0.3-5.5 2.9-5.9 4.5-5.6 4.8-4.9 4.8-4 4.3-3.3 3.9-2.4 3.5-1.9 3.3-1.5 3-1.1 2.7-0.9 2.5-0.7 2.4-0.8 2.1-0.7 2-0.8 1.8-0.9 1.6-1.1 1.3-1.4 1-1.6 0.7-1.9 0.2-2.4-0.4-2.8-1.3-3.3-2.4-3.8-3.8-4.1-5.6-4.1-7.2-3.7-8.6-2.7-8.8-0.9-7.5 1-4.8 3-1.5 4.5 1.5 5.3 3.4 5.3 4.3 4.9 4.5 4.1 4.3 3.5 4 2.6 3.7 2.1 3.4 1.5 3.1 1.1 2.9 0.8 2.7 0.6 2.5 0.5 2.3 0.5 2.2 0.4 2.1 0.4 1.9 0.4 1.8 0.5 1.6 0.6 1.5 0.7 1.3 0.9 1.2 1.1 1 1.4 0.7 1.7 0.4 2.2-0.2 2.6-0.8 3.3-1.7 3.8-3.2 4.5-5 4.9-7.2 5-9.5 4.3-11.1 2.8-11.1 0.5-8.6-2.3-4.3-4.7 0.1-6.1 3.4-6.7 5.1-6.3 5.4-5.5 5-4.5 4.6-3.6 4-2.7 3.5-2.1 3.2-1.7 2.9-1.3 2.6-1.1 2.4-1.1 2.1-1 1.8-1.2 1.6-1.3 1.3-1.5 0.9-1.7 0.4-2.1-0.1-2.5-0.9-2.7-1.8-3.1-2.9-3.4-4.2-3.3-5.4-3-6.3-2.3-6.7-1.2-6.1 0.3-4.4 1.8-2.2 3.1 0.1 3.9 1.9 4.1 3 4.1 3.6 3.6 3.8 3.1 3.6 2.5 3.5 1.9 3.3 1.4 3 1 2.9 0.6 2.6 0.2 2.5 0.1 2.3-0.2 2.1-0.4 1.9-0.6 1.8-0.8 1.5-1 1.3-1.4 0.9-1.6 0.6-2 0.1-2.4-0.6-2.9-1.6-3.4-2.7-3.8-4.1-4-5.9-4-7.4-3.4-8.5-2.2-8.4-0.5-6.7 1.5-3.9 3.4-0.8 4.6 2 5.2 3.6 5.1 4.3 4.6 4.4 3.9 4.2 3.2 3.9 2.4 3.6 1.9 3.3 1.4 3 1 2.9 0.7 2.6 0.5 2.5 0.4 2.3 0.4 2.2 0.2 2 0.3 1.9 0.3 1.8 0.3 1.7 0.3 1.5 0.5 1.4 0.5 1.3 0.6 1.2 0.9 1.1 1 0.8 1.3 0.7 1.6 0.4 2-0.1 2.6-0.7 3.1-1.5 3.9-2.9 4.5-4.7 5.1-7 5.5-9.7 5-11.9 3.6-12.4 1.2-10.4-1.8-5.9-4.6-0.7-6.5 3.3-7.2 5.4-7 5.8-6.1 5.4-5 4.7-4 4.1-3 3.6-2.4 3.2-1.8 2.8-1.5 2.4-1.3 2.2-1.3 2-1.2 1.6-1.4 1.2-1.5 0.9-1.7 0.4-2-0.2-2.2-0.8-2.6-1.8-2.7-2.6-2.9-3.7-2.8-4.7-2.4-5.3-1.8-5.4-0.8-4.7 0.4-3.5 1.5-1.8 2.6 0 3.1 1.5 3.5 2.5 3.4 3 3.1 3.2 2.6 3.3 2.2 3.2 1.6 2.9 1.2 2.9 0.8 2.6 0.4 2.4 0 2.3-0.2 2-0.5 1.8-0.8 1.5-1 1.2-1.3 0.9-1.7 0.3-2-0.2-2.4-0.9-2.7-1.9-3.1-2.9-3.2-4.2-3.2-5.4-2.9-6.2-2.1-6.4-1-5.7 0.4-4.2 1.9-1.9 3 0.2 3.7 1.9 4.1 3 3.9 3.5 3.5 3.6 3 3.6 2.4 3.4 1.8 3.2 1.3 3 0.9 2.8 0.5 2.7 0.3 2.4-0.1 2.2-0.2 2.1-0.5 1.8-0.7 1.7-0.9 1.4-1.3 1.1-1.5 0.7-1.8 0.3-2.3-0.4-2.6-1.1-3.2-2.2-3.5-3.6-3.9-5.1-3.8-6.7-3.5-7.8-2.5-8.1-1.1-7 0.8-4.7 2.6-1.8 4.1 1 4.8 2.9 4.9 4 4.7 4.2 4 4.2 3.3 3.9 2.6 3.7 2 3.4 1.5 3.1 1 2.9 0.8 2.7 0.5 2.5 0.3 2.4 0.2 2.2 0.1 2.1 0 2 0 1.8 0 1.7-0.2 1.6-0.1 1.5-0.2 1.4-0.3 1.3-0.3 1.3-0.5 1.1-0.5 1-0.7 0.9-0.9 0.8-1.2 0.6-1.4 0.4-1.8 0-2.3-0.4-2.9-1.2-3.6-2.3-4.4-3.9-5.2-6.2-5.7-9-5.7-11.9-4.8-13.7-2.7-12.8 0.5-8.9 3.8-3 6.4 2.3 7.7 5.3 7.7 6.2 6.9 5.9 5.8 5.2 4.7 4.3 3.5 3.7 2.8 3.2 2.1 2.7 1.8 2.5 1.5 2 1.3 1.8 1.4 1.4 1.4 1.1 1.5 0.6 1.8 0.1 1.9-0.5 2.2-1.2 2.3-2 2.4-2.8 2.4-3.5 2.2-4.1 1.7-4.4 1-4.1 0.1-3.3-0.8-2.1-1.7-0.8-2.3 0.5-2.8 1.6-2.8 2.2-2.7 2.7-2.5 2.8-2 2.8-1.7 2.8-1.2 2.6-0.8 2.4-0.4 2.3-0.1 2.1 0.2 1.8 0.6 1.6 0.8 1.2 1.1 0.9 1.4 0.4 1.7-0.1 2.1-0.7 2.3-1.5 2.5-2.4 2.6-3.3 2.6-4.1 2.4-4.8 1.7-5 0.9-4.5-0.1-3.4-1.2-2-2.2-0.4-2.8 1.1-3.2 2-3.1 2.7-3 3-2.6 3.1-2.1 3.1-1.6 2.9-1.2 2.7-0.8 2.6-0.4 2.4-0.1 2.1 0.3 2 0.5 1.7 0.8 1.4 1.1 1 1.4 0.7 1.7 0.1 2.1-0.5 2.4-1.2 2.7-2.2 2.9-3.2 3-4.3 2.8-5.3 2.3-5.7 1.5-5.6 0.4-4.6-0.9-3-2.1-1-3.1 0.7-3.5 2.2-3.7 2.9-3.5 3.3-3 3.4-2.6 3.3-2 3.2-1.5 3-1 2.8-0.7 2.6-0.3 2.5 0 2.2 0.3 2 0.5 1.8 0.8 1.6 1.1 1.2 1.3 0.9 1.7 0.4 2-0.1 2.4-0.9 2.8-1.8 3.2-2.9 3.4-4.2 3.4-5.6 3.2-6.6 2.4-7 1.3-6.4-0.2-4.7-1.8-2.3-3.2 0-4 2-4.3 3.1-4.3 3.7-3.8 3.9-3.1 3.7-2.6 3.6-2 3.3-1.4 3.1-1.1 2.9-0.6 2.7-0.4 2.5-0.1 2.3 0.1 2.2 0.3 2 0.4 1.9 0.7 1.6 0.8 1.4 1.1 1.2 1.4 0.9 1.7 0.5 2.1 0 2.5-0.7 3-1.6 3.5-2.9 4-4.5 4.3-6.3 4.2-8 3.5-9.2 2.3-8.9 0.4-7-1.8-3.9-3.8-0.3-5 2.4-5.6 4-5.4 4.6-4.8 4.6-4 4.3-3.2 3.9-2.5 3.6-1.9 3.3-1.4 3-1.1 2.8-0.8 2.6-0.7 2.5-0.5 2.2-0.6 2.1-0.5 2-0.6 1.7-0.7 1.7-0.8 1.4-1.1 1.2-1.2 1-1.5 0.7-1.9 0.3-2.3-0.3-2.8-1.2-3.4-2.2-3.9-3.7-4.4-5.5-4.7-7.6-4.3-9.5-3.5-10.2-1.6-9.2 0.6-6.3 3-2.4 4.9 1.3 5.8 3.8 6.1 4.8 5.5 4.9 4.8 4.7 3.9 4.2 3 3.8 2.3 3.5 1.8 3.1 1.4 2.9 1.1 2.7 0.9 2.4 0.8 2.2 0.8 2.1 0.9 1.8 1 1.6 1.1 1.4 1.4 1 1.6 0.6 2 0.2 2.4-0.5 2.8-1.4 3.2-2.5 3.7-3.8 3.9-5.5 3.9-7.1 3.4-8.1 2.3-8.1 0.7-6.8-1.2-4.1-3.1-1.2-4.3 1.6-4.9 3.3-5 4.1-4.6 4.3-3.9 4.1-3.2 3.9-2.5 3.6-1.9 3.3-1.4 3.1-1 2.9-0.7 2.7-0.5 2.5-0.3 2.3-0.2 2.2-0.2 2.1-0.1 1.9 0 1.8-0.1 1.7 0 1.6 0 1.5 0 1.4 0.1 1.3 0 1.2 0 1.2 0.1 1.1 0 1 0.1 0.9 0.1 0.9 0.2 0.9 0.1 0.8 0.3 0.7 0.3 0.7 0.3 0.6 0.5 0.5 0.6 0.5 0.8 0.4 1.1 0.3 1.3 0.2 1.8-0.2 2.2-0.6 2.9-1.2 3.7-2.3 4.5-4 5.5-6.4 6.4-9.7 6.5-13.3 5.8-16 3.5-15.5-0.1-10.9-4.3-3.6-7.4 2.9-8.9 6.4-8.8 7.1-7.9 6.5-6.5 5.2-5.1 4.3-3.9 3.4-3 2.7-2.3 2.4-1.9 1.9-1.5 1.5-1.5 1.2-1.3 0.8-1.4 0.4-1.5 0-1.5-0.5-1.7-1-1.6-1.5-1.6-1.9-1.5-2.4-1.3-2.5-0.9-2.6-0.4-2.3 0.1-1.8 0.6-1.1 1-0.5 1.5 0.3 1.7 1 1.7 1.3 1.7 1.7 1.6 1.9 1.3 2 1.1 2 0.8 1.8 0.5 1.8 0.2 1.6-0.1 1.3-0.4 1.2-0.7 0.8-0.9 0.4-1.1 0.1-1.3-0.4-1.5-0.8-1.6-1.4-1.7-2-1.6-2.3-1.5-2.8-1.1-2.8-0.7-2.7-0.2-2.2 0.4-1.6 1-0.8 1.5 0.1 1.7 0.7 1.9 1.3 1.9 1.8 1.8 1.9 1.5 2.1 1.3 2.1 0.9 2.1 0.7 1.9 0.3 1.7 0 1.6-0.2 1.3-0.6 1.1-0.8 0.7-1 0.3-1.3-0.1-1.5-0.6-1.7-1.2-1.8-1.8-1.8-2.3-1.7-2.7-1.5-3.1-1-3.1-0.5-2.7 0.1-2.2 0.7-1.3 1.3-0.4 1.8 0.4 2 1.2 2.1 1.7 2 2 1.8 2.2 1.5 2.2 1.2 2.2 0.9 2.1 0.5 2 0.2 1.8-0.1 1.5-0.3 1.3-0.7 1-1 0.7-1.2 0.2-1.4-0.2-1.7-0.9-1.8-1.4-2-2-1.9-2.7-1.8-3.1-1.5-3.4-1-3.3-0.4-2.9 0.3-2.1 1-1.2 1.6-0.2 2.1 0.8 2.2 1.5 2.3 2 2.1 2.2 1.8 2.4 1.6 2.4 1.2 2.3 0.8 2.2 0.5 2.1 0.1 1.8-0.1 1.6-0.5 1.4-0.7 1-1.1 0.7-1.3 0.2-1.5-0.3-1.8-0.9-2-1.6-2.1-2.2-2.2-2.9-1.9-3.5-1.7-3.8-1.1-3.6-0.3-3.2 0.4-2.3 1.1-1.2 1.9 0 2.2 0.9 2.5 1.8 2.5 2.2 2.3 2.4 2 2.6 1.6 2.6 1.2 2.4 0.9 2.4 0.5 2.1 0.2 2-0.2 1.7-0.5 1.5-0.7 1.1-1.1 0.8-1.3 0.4-1.6-0.2-1.9-0.8-2.1-1.5-2.3-2.3-2.3-3-2.3-3.7-1.9-4.2-1.4-4.2-0.6-3.7 0.2-2.8 1.2-1.5 1.9-0.3 2.5 0.9 2.7 1.9 2.7 2.3 2.6 2.7 2.3 2.8 1.8 2.7 1.4 2.7 1 2.5 0.7 2.3 0.3 2.2-0.1 1.9-0.4 1.7-0.6 1.4-1 1-1.2 0.7-1.6 0.2-1.8-0.5-2.1-1.1-2.4-1.9-2.6-2.8-2.5-3.6-2.4-4.4-2-4.8-1.3-4.7-0.4-3.8 0.7-2.7 1.7-1.1 2.4 0.4 3 1.6 3.1 2.3 3 2.8 2.7 3 2.3 3 1.8 3 1.4 2.7 0.9 2.7 0.6 2.4 0.2 2.2-0.1 2-0.5 1.8-0.7 1.4-1 1.2-1.2 0.8-1.6 0.3-2-0.3-2.2-1-2.6-1.9-2.8-2.9-2.9-3.9-2.8-4.8-2.4-5.5-1.6-5.5-0.7-4.7 0.5-3.3 1.8-1.6 2.7 0.3 3.3 1.7 3.5 2.6 3.4 3.1 3.1 3.3 2.6 3.3 2.1 3.2 1.6 3 1.2 2.8 0.7 2.6 0.4 2.5 0 2.2-0.2 2-0.5 1.8-0.8 1.6-1.1 1.2-1.3 0.8-1.7 0.4-2-0.2-2.4-0.9-2.8-1.9-3.1-2.9-3.3-4.2-3.2-5.5-3-6.3-2.2-6.6-1.1-5.9 0.4-4.3 1.9-2.1 3 0.2 3.9 1.9 4.1 3.1 4 3.5 3.6 3.8 3.1 3.6 2.4 3.5 1.9 3.2 1.3 3 1 2.9 0.5 2.6 0.3 2.5 0 2.2-0.2 2.1-0.4 1.9-0.6 1.7-0.9 1.5-1.1 1.2-1.4 0.9-1.7 0.5-2.1 0-2.5-0.8-3-1.8-3.4-2.9-3.8-4.5-4.1-6.2-3.8-7.6-3.2-8.5-1.8-8-0.1-6.1 2-3.2 3.6-0.1 4.7 2.4 5.1 3.7 5 4.3 4.5 4.4 3.7 4.1 3 3.8 2.3 3.5 1.7 3.3 1.3 3 0.9 2.8 0.6 2.6 0.5 2.4 0.4 2.3 0.2 2.1 0.2 2.1 0.2 1.8 0.2 1.8 0.2 1.7 0.2 1.5 0.3 1.4 0.3 1.4 0.5 1.2 0.5 1.2 0.6 1 0.8 0.9 1.1 0.7 1.3 0.5 1.6 0.3 2.1-0.2 2.7-0.8 3.2-1.7 4-3.1 4.8-5.1 5.4-7.7 5.7-10.4 5.2-12.9 3.6-13.2 1-10.6-2.3-5.6-5.3 0.1-7.1 4.1-7.7 5.9-7.2 6.1-6.2 5.4-5 4.7-4 4-3 3.4-2.4 3-1.9 2.6-1.5 2.3-1.4 2-1.3 1.7-1.3 1.3-1.5 0.9-1.6 0.5-1.9-0.1-2.1-0.7-2.3-1.5-2.4-2.3-2.6-3.1-2.5-4-2.1-4.5-1.6-4.7-0.9-4.2 0.2-3.2 1.2-1.8 2-0.3 2.7 1 3 1.9 3 2.6 2.8 2.8 2.4 3 2 2.9 1.6 2.8 1.1 2.7 0.7 2.5 0.4 2.3 0 2-0.3 1.9-0.6 1.6-0.8 1.2-1.2 0.9-1.5 0.5-1.8-0.1-2.1-0.7-2.4-1.6-2.6-2.4-2.8-3.5-2.8-4.5-2.5-5.1-1.9-5.3-1-4.9 0.1-3.8 1.3-2.1 2.3-0.3 3.1 1.1 3.4 2.3 3.4 2.9 3.1 3.2 2.7 3.3 2.3 3.1 1.7 3 1.3 2.9 0.8 2.6 0.4 2.5 0.2 2.3-0.2 2-0.5 1.8-0.7 1.6-1 1.2-1.3 0.9-1.6 0.4-2-0.1-2.3-0.9-2.7-1.7-3-2.8-3.1-4-3.2-5.2-2.9-6-2.2-6.4-1.1-5.7 0.3-4.3 1.6-2.2 2.9 0 3.7 1.7 3.9 2.8 3.9 3.5 3.6 3.6 3 3.6 2.4 3.4 1.8 3.2 1.4 3 0.9 2.8 0.6 2.6 0.2 2.4 0 2.3-0.3 2-0.5 1.9-0.7 1.6-0.9 1.4-1.3 1.1-1.5 0.7-1.9 0.2-2.3-0.4-2.7-1.3-3.1-2.4-3.6-3.6-3.8-5.3-3.8-6.7-3.3-7.7-2.3-7.9-0.8-6.6 1-4.3 2.7-1.4 4.1 1.2 4.8 3 4.8 3.9 4.5 4.2 3.9 4.1 3.2 3.9 2.5 3.6 1.8 3.3 1.4 3.1 1 2.9 0.7 2.7 0.4 2.5 0.3 2.3 0.1 2.2 0.1 2.1-0.1 1.9-0.1 1.8-0.3 1.7-0.3 1.6-0.4 1.4-0.5 1.4-0.6 1.2-0.8 1-1 0.9-1.3 0.7-1.6 0.4-2.1-0.1-2.5-0.6-3.1-1.6-3.9-2.8-4.5-4.7-5.1-6.9-5.3-9.6-5-11.8-3.6-12.3-1.3-10.4 1.8-5.9 4.5-0.7 6.5 3.2 7.1 5.3 6.9 5.8 6.1 5.4 5 4.7 4 4.1 3 3.6 2.4 3.2 1.8 2.8 1.5 2.5 1.3 2.2 1.2 2 1.2 1.6 1.4 1.3 1.5 1 1.7 0.4 1.9-0.1 2.3-0.8 2.5-1.6 2.8-2.6 2.9-3.6 2.8-4.6 2.6-5.3 1.9-5.6 0.9-5-0.2-3.7-1.4-2-2.5-0.2-3.2 1.3-3.5 2.5-3.5 3-3.2 3.3-2.7 3.3-2.2 3.2-1.8 3-1.2 2.9-0.8 2.7-0.5 2.5-0.1 2.3 0.1 2 0.5 1.9 0.7 1.6 1 1.3 1.2 1 1.6 0.5 1.9 0 2.3-0.8 2.7-1.6 3-2.6 3.3-3.9 3.3-5.1 3.1-6.2 2.4-6.6 1.4-6.2 0-4.8-1.4-2.7-2.8-0.4-3.7 1.6-4.1 2.8-4.1 3.5-3.7 3.7-3.2 3.7-2.6 3.5-2 3.3-1.5 3.1-1.1 2.8-0.6 2.7-0.4 2.5 0 2.4 0.1 2.1 0.4 2 0.5 1.7 0.8 1.6 1.1 1.3 1.3 1 1.6 0.6 2 0.1 2.4-0.6 2.8-1.5 3.3-2.6 3.8-4 4-5.7 3.9-7.3 3.4-8.4 2.3-8.3 0.5-6.7-1.3-4.1-3.3-0.8-4.4 1.7-5.2 3.5-5 4.2-4.6 4.4-4 4.2-3.1 3.9-2.5 3.6-1.9 3.3-1.4 3.1-1 2.8-0.7 2.7-0.5 2.5-0.4 2.3-0.3 2.2-0.2 2-0.2 1.9-0.2 1.8-0.2 1.7-0.2 1.6-0.3 1.5-0.3 1.3-0.4 1.3-0.5 1.1-0.6 1.1-0.8 0.9-1 0.8-1.3 0.6-1.5 0.3-2.1-0.1-2.5-0.7-3.1-1.5-3.9-2.9-4.7-4.7-5.3-7.1-5.6-10-5.4-12.5-4-13.3-1.4-11.3 1.8-6.5 4.8-0.8 6.8 3.6 7.7 5.7 7.3 6.1 6.4 5.6 5.2 4.8 4.1 4.1 3.2 3.5 2.5 3 1.9 2.7 1.6 2.4 1.4 2 1.3 1.8 1.3 1.3 1.5 1.1 1.6 0.5 1.8 0.1 2-0.6 2.3-1.3 2.4-2.2 2.6-3 2.5-3.8 2.3-4.5 1.7-4.7 1-4.3 0.1-3.5-1-2.1-1.9-0.6-2.6 0.7-3 1.8-3 2.5-2.9 2.8-2.5 3-2.1 3-1.7 2.8-1.2 2.7-0.8 2.5-0.4 2.4-0.1 2.1 0.2 1.9 0.5 1.6 0.8 1.4 1.1 1 1.4 0.6 1.8 0 2-0.6 2.4-1.3 2.6-2.3 2.8-3.2 2.8-4.3 2.6-5 2.1-5.4 1.2-5.1 0.2-4.1-1-2.6-2.2-0.7-2.9 0.9-3.4 2-3.4 2.9-3.3 3.1-2.8 3.3-2.4 3.2-1.8 3.1-1.4 2.8-0.9 2.8-0.6 2.5-0.2 2.3 0.1 2.1 0.4 1.9 0.7 1.6 0.9 1.4 1.2 1 1.5 0.6 1.9 0 2.2-0.6 2.6-1.5 2.9-2.5 3.2-3.7 3.2-4.8 3.1-5.9 2.4-6.4 1.5-6.1 0.2-4.9-1.3-2.8-2.6-0.7-3.5 1.3-4 2.6-3.9 3.4-3.7 3.6-3.2 3.6-2.6 3.5-2.1 3.3-1.5 3-1 2.9-0.7 2.7-0.3 2.5-0.1 2.3 0.2 2.1 0.4 2 0.6 1.7 0.9 1.5 1.1 1.2 1.4 0.8 1.7 0.5 2.1-0.1 2.6-0.9 2.9-1.9 3.4-3 3.8-4.6 3.9-6.1 3.6-7.5 2.9-8.1 1.5-7.5-0.1-5.5-2.1-2.7-3.6 0.2-4.6 2.3-4.9 3.7-4.8 4.2-4.2 4.2-3.5 4-2.8 3.7-2.2 3.5-1.6 3.2-1.2 2.9-0.8 2.8-0.6 2.6-0.3 2.4-0.3 2.3-0.1 2.1 0 2 0 1.9 0.1 1.7 0.2 1.7 0.2 1.5 0.3 1.4 0.4 1.4 0.4 1.2 0.6 1.1 0.7 1 1 0.8 1.2 0.7 1.5 0.4 1.9 0 2.3-0.5 3-1.3 3.7-2.4 4.4-4.2 5.1-6.4 5.6-9.2 5.5-11.8 4.4-13.2 2.1-11.9-0.8-7.9-4.1-2.2-6.4 2.6-7.4 5.3-7.4 6-6.7 5.7-5.5 5-4.4 4.3-3.4 3.7-2.6 3.2-2 2.8-1.7 2.4-1.4 2.2-1.3 1.8-1.3 1.6-1.4 1.1-1.5 0.8-1.7 0.2-2-0.3-2.2-1.1-2.4-1.8-2.6-2.7-2.6-3.7-2.5-4.3-2-4.8-1.4-4.7-0.4-4 0.6-2.7 1.6-1.2 2.4 0.3 3 1.5 3.1 2.3 3 2.8 2.8 3 2.3 3 1.8 3 1.4 2.8 1 2.6 0.6 2.5 0.2 2.2-0.1 2-0.3 1.8-0.7 1.5-1 1.2-1.3 0.8-1.5 0.4-1.9-0.3-2.3-0.9-2.5-1.8-2.8-2.8-2.9-3.8-2.8-4.8-2.5-5.4-1.8-5.6-0.8-4.9 0.5-3.5 1.6-1.7 2.6 0.1 3.3 1.6 3.6 2.6 3.5 3.1 3.1 3.3 2.7 3.3 2.1 3.2 1.7 3 1.2 2.9 0.7 2.6 0.4 2.5 0.1 2.3-0.2 2-0.5 1.8-0.7 1.6-1 1.3-1.3 0.9-1.7 0.5-1.9-0.1-2.4-0.8-2.7-1.7-3-2.8-3.3-4.1-3.4-5.2-3-6.3-2.4-6.7-1.3-6.2 0.1-4.6 1.7-2.5 2.9-0.1 3.8 1.7 4.2 3 4.1 3.5 3.7 3.8 3.1 3.6 2.6 3.5 1.9 3.3 1.5 3.1 1 2.9 0.6 2.6 0.3 2.5 0.1 2.3-0.2 2.2-0.3 1.9-0.6 1.8-0.8 1.5-1 1.3-1.3 1-1.6 0.6-2 0.2-2.4-0.6-2.8-1.4-3.4-2.6-3.7-4-4.1-5.7-3.9-7.3-3.5-8.4-2.4-8.5-0.6-6.9 1.3-4.2 3.2-1 4.5 1.7 5.2 3.5 5.1 4.3 4.7 4.4 4 4.2 3.2 4 2.5 3.6 1.9 3.3 1.4 3.1 1.1 2.8 0.7 2.7 0.6 2.5 0.4 2.3 0.3 2.2 0.3 2 0.2 2 0.3 1.7 0.3 1.7 0.3 1.6 0.4 1.4 0.5 1.3 0.7 1.2 0.7 1.1 1 0.9 1.2 0.7 1.6 0.5 1.9 0 2.4-0.5 3-1.3 3.7-2.6 4.4-4.2 5.1-6.5 5.4-9.1 5.2-11.5 4-12.6 1.9-11.2-1.2-7.1-4-1.8-6.2 2.6-7.2 5.1-7.1 5.9-6.4 5.5-5.2 4.9-4.2 4.3-3.3 3.6-2.5 3.3-2 2.8-1.5 2.6-1.4 2.2-1.2 2-1.3 1.7-1.3 1.3-1.5 0.9-1.6 0.5-2 0-2.2-0.8-2.4-1.6-2.7-2.5-2.9-3.5-2.8-4.4-2.5-5.2-1.9-5.3-0.9-4.9 0.1-3.7 1.4-2.1 2.3-0.3 3.1 1.3 3.4 2.3 3.4 2.9 3.1 3.2 2.7 3.3 2.3 3.1 1.7 3 1.2 2.9 0.8 2.6 0.5 2.5 0.1 2.2-0.2 2.1-0.4 1.8-0.8 1.6-1 1.2-1.3 0.9-1.6 0.4-2-0.1-2.3-0.9-2.7-1.8-3-2.8-3.2-4-3.2-5.2-2.9-6.1-2.1-6.4-1.1-5.7 0.2-4.3 1.7-2.1 2.9 0 3.7 1.7 4 2.9 3.9 3.4 3.5 3.6 3 3.6 2.4 3.4 1.9 3.2 1.3 3 1 2.8 0.5 2.7 0.3 2.4-0.1 2.2-0.2 2.1-0.5 1.9-0.7 1.6-1 1.4-1.2 1.1-1.5 0.7-1.9 0.2-2.3-0.4-2.7-1.3-3.1-2.3-3.6-3.6-3.8-5.2-3.8-6.7-3.3-7.8-2.4-7.9-0.9-6.7 1-4.4 2.7-1.5 4.1 1.2 4.7 3 4.9 3.9 4.5 4.2 3.9 4.1 3.2 3.9 2.6 3.6 1.9 3.3 1.4 3.1 1 2.9 0.7 2.7 0.4 2.5 0.3 2.4 0.2 2.2 0 2 0 2-0.2 1.8-0.2 1.7-0.2 1.6-0.4 1.4-0.4 1.4-0.6 1.2-0.7 1.1-0.9 1-1.1 0.7-1.5 0.6-1.8 0.1-2.3-0.3-2.8-1.1-3.5-2.1-4.1-3.7-4.9-5.8-5.4-8.3-5.3-10.9-4.5-12.6-2.6-11.9 0.2-8.5 3.2-3.3 5.7 1.5 7.1 4.6 7.2 5.7 6.6 5.7 5.6 5.1 4.6 4.5 3.5 3.8 2.7 3.3 2.1 3 1.7 2.6 1.4 2.4 1.2 2 1.3 1.8 1.2 1.4 1.5 1 1.6 0.7 1.9 0 2.1-0.5 2.4-1.3 2.6-2.3 2.8-3.2 2.8-4.2 2.6-5 2.1-5.3 1.2-5.1 0.2-4-1.1-2.5-2.1-0.8-2.9 0.9-3.3 2-3.4 2.8-3.2 3.2-2.8 3.2-2.4 3.2-1.8 3-1.4 2.9-0.9 2.7-0.5 2.5-0.2 2.3 0.1 2.1 0.4 1.9 0.7 1.6 0.9 1.3 1.2 1 1.6 0.5 1.9 0 2.2-0.7 2.6-1.5 2.9-2.6 3.2-3.8 3.2-4.9 2.9-5.9 2.4-6.3 1.3-5.9 0.1-4.6-1.4-2.7-2.7-0.4-3.5 1.4-3.9 2.6-3.9 3.4-3.6 3.6-3.1 3.5-2.6 3.5-1.9 3.2-1.5 3.1-1 2.8-0.6 2.7-0.3 2.4 0 2.3 0.2 2.1 0.4 1.9 0.7 1.7 0.9 1.4 1.2 1.1 1.5 0.8 1.8 0.3 2.3-0.4 2.6-1.1 3.1-2.2 3.5-3.4 3.7-5 3.8-6.5 3.4-7.6 2.5-7.9 1-6.8-0.7-4.7-2.5-1.8-3.9 0.9-4.7 2.8-4.8 3.8-4.5 4.1-4 4.2-3.3 3.9-2.6 3.6-1.9 3.3-1.5 3.2-1 2.9-0.7 2.7-0.5 2.5-0.3 2.4-0.1 2.2 0 2.1 0.1 1.9 0.1 1.8 0.3 1.7 0.3 1.6 0.5 1.5 0.5 1.3 0.7 1.2 0.9 1 1.2 0.8 1.4 0.6 1.8 0.3 2.2-0.3 2.8-1 3.4-2 4.1-3.5 4.7-5.6 5.2-7.9 5.2-10.5 4.4-12 2.7-11.6 0-8.5-3-3.6-5.4 1.1-6.7 4.2-7 5.5-6.5 5.6-5.6 5.1-4.5 4.5-3.5 3.9-2.7 3.4-2.1 3-1.6 2.8-1.4 2.4-1.2 2.2-1.2 1.9-1.2 1.5-1.3 1.3-1.6 0.9-1.7 0.3-2.1-0.2-2.3-0.9-2.6-1.8-2.9-2.8-3-4-3-4.9-2.6-5.7-1.8-5.7-0.8-5.1 0.4-3.7 1.7-1.7 2.7 0.1 3.5 1.7 3.6 2.7 3.6 3.2 3.3 3.4 2.7 3.4 2.2 3.2 1.7 3.1 1.2 2.9 0.8 2.7 0.5 2.5 0.1 2.3-0.2 2.1-0.4 1.9-0.7 1.7-0.9 1.3-1.3 1.1-1.5 0.6-1.9 0.2-2.2-0.6-2.7-1.4-3-2.4-3.3-3.7-3.5-5-3.4-6.2-2.8-7-1.8-6.8-0.4-5.6 1.1-3.4 2.7-1 3.7 1.3 4.3 2.7 4.3 3.6 4.1 3.8 3.4 3.9 2.9 3.6 2.2 3.4 1.7 3.2 1.2 3 0.8 2.8 0.5 2.6 0.2 2.4 0 2.3-0.2 2-0.4 2-0.5 1.7-0.7 1.5-1 1.4-1.2 1-1.5 0.8-1.8 0.3-2.3-0.3-2.7-1-3.3-2.2-3.7-3.5-4.2-5.2-4.3-7.1-4.1-8.8-3.1-9.3-1.6-8.5 0.6-5.9 2.7-2.4 4.4 1 5.4 3.3 5.6 4.4 5.2 4.7 4.6 4.5 3.7 4.1 2.9 3.8 2.2 3.5 1.7 3.2 1.3 2.9 1 2.7 0.7 2.5 0.7 2.4 0.6 2.2 0.5 2 0.7 1.8 0.7 1.7 0.8 1.5 1 1.3 1.2 1.1 1.5 0.7 1.8 0.3 2.3-0.2 2.7-1 3.3-2 3.8-3.5 4.3-5.2 4.5-7.3 4.3-9 3.5-9.9 1.9-9.2-0.4-6.5-2.6-2.8-4.6 0.8-5.6 3.4-5.9 4.6-5.6 4.9-4.7 4.6-4 4.3-3 3.8-2.4 3.5-1.8 3.2-1.4 2.9-1.1 2.7-0.8 2.5-0.8 2.3-0.8 2.2-0.7 1.9-0.9 1.7-1 1.5-1.1 1.3-1.4 0.9-1.8 0.5-2 0-2.5-0.6-3-1.6-3.4-2.9-3.9-4.3-4.1-6.1-4-7.7-3.4-8.6-2.1-8.5-0.4-6.7 1.7-3.7 3.6-0.4 4.7 2.2 5.3 3.8 5.2 4.4 4.6 4.4 3.9 4.2 3.1 3.9 2.5 3.6 1.8 3.3 1.4 3 1 2.8 0.7 2.6 0.6 2.5 0.4 2.3 0.4 2.2 0.3 2 0.4 1.8 0.3 1.8 0.5 1.6 0.5 1.5 0.6 1.3 0.8 1.2 1 1.1 1.2 0.8 1.6 0.5 1.9 0.1 2.4-0.4 2.9-1.2 3.6-2.4 4.2-4 4.8-6.1 5.1-8.6 5-10.8 3.9-11.8 1.8-10.5-0.8-7-3.7-2.2-5.7 2.1-6.7 4.6-6.8 5.5-6.1 5.4-5.2 4.9-4.1 4.2-3.2 3.8-2.5 3.3-1.9 3-1.5 2.7-1.3 2.4-1.1 2.2-1.1 1.9-1.2 1.6-1.3 1.3-1.5 0.9-1.8 0.4-2-0.1-2.4-0.9-2.7-1.7-2.9-2.8-3.2-4-3.1-5.1-2.8-6-2.1-6.1-1.1-5.6 0.3-4.1 1.7-2.1 2.9 0 3.5 1.7 3.9 2.8 3.9 3.4 3.4 3.6 2.9 3.5 2.4 3.4 1.8 3.1 1.3 3 0.9 2.8 0.5 2.6 0.2 2.4 0 2.2-0.3 2-0.6 1.8-0.8 1.6-1 1.3-1.3 0.9-1.7 0.6-2 0-2.4-0.7-2.8-1.6-3.2-2.7-3.6-4.2-3.7-5.6-3.6-6.9-2.9-7.7-1.8-7.3-0.2-5.7 1.6-3.2 3.2-0.5 4.2 1.8 4.7 3.3 4.7 4 4.1 4.1 3.6 3.9 2.9 3.8 2.2 3.4 1.7 3.3 1.2 3 0.8 2.7 0.6 2.7 0.3 2.4 0.1 2.3 0 2.1-0.1 2-0.3 1.9-0.3 1.7-0.5 1.6-0.6 1.4-0.8 1.3-1 1.1-1.2 0.8-1.6 0.6-1.9 0.1-2.4-0.4-2.9-1.3-3.5-2.4-4.2-4-4.7-6.1-5-8.4-4.7-10.4-3.6-11.2-1.6-9.9 0.9-6.5 3.6-1.9 5.5 2 6.5 4.4 6.5 5.3 5.9 5.2 4.9 4.8 4 4.2 3.1 3.8 2.4 3.4 1.8 3 1.4 2.7 1.2 2.5 1.1 2.3 1 2 1.1 1.8 1.2 1.5 1.3 1.1 1.6 0.8 1.9 0.2 2.2-0.4 2.6-1.1 2.9-2.2 3.3-3.4 3.4-4.7 3.3-5.9 2.9-6.7 2-6.7 0.7-5.8-0.9-3.8-2.3-1.4-3.4 0.8-4.2 2.5-4.2 3.3-4 3.8-3.6 3.8-2.9 3.6-2.3 3.5-1.7 3.2-1.3 3-0.8 2.8-0.6 2.6-0.2 2.4 0 2.3 0.2 2.1 0.4 1.9 0.6 1.7 0.8 1.5 1 1.3 1.3 1 1.6 0.6 2 0.1 2.4-0.5 2.9-1.5 3.4-2.6 3.8-4 4.2-5.8 4.1-7.6 3.6-8.7 2.5-8.8 0.7-7.3-1.3-4.4-3.3-1-4.7 1.8-5.3 3.6-5.3 4.5-4.9 4.5-4.1 4.3-3.3 4-2.6 3.6-1.9 3.3-1.5 3.1-1.1 2.9-0.8 2.6-0.6 2.5-0.5 2.4-0.4 2.1-0.5 2-0.4 1.9-0.5 1.7-0.6 1.6-0.6 1.5-0.9 1.2-1 1.1-1.3 0.9-1.6 0.5-2 0.1-2.4-0.5-3-1.4-3.6-2.5-4.2-4.2-4.7-6.3-5-8.6-4.5-10.5-3.4-11-1.4-9.6 1.3-5.9 3.7-1.4 5.7 2.3 6.4 4.5 6.4 5.2 5.7 5.2 4.8 4.7 3.9 4.2 3 3.7 2.3 3.3 1.7 3 1.4 2.8 1.2 2.5 1 2.2 1 2 1.1 1.8 1.1 1.5 1.4 1.2 1.6 0.8 1.8 0.2 2.2-0.3 2.6-1.1 2.9-2.1 3.3-3.3 3.5-4.7 3.4-5.9 3-6.9 2.1-6.9 0.8-6-0.7-4-2.3-1.6-3.5 0.7-4.1 2.4-4.4 3.4-4.1 3.8-3.6 3.9-3 3.7-2.4 3.4-1.8 3.3-1.3 3-0.9 2.9-0.6 2.6-0.3 2.5 0 2.3 0.1 2.1 0.4 1.9 0.5 1.8 0.7 1.6 0.9 1.4 1.1 1.1 1.5 0.8 1.8 0.4 2.1-0.2 2.7-0.9 3.1-1.9 3.7-3.3 4.1-4.9 4.3-6.8 4.1-8.4 3.3-9.3 1.9-8.7-0.2-6.3-2.4-3-4.1 0.5-5.3 2.9-5.6 4.3-5.3 4.6-4.6 4.6-3.8 4.2-3.1 3.8-2.3 3.5-1.8 3.3-1.3 2.9-1 2.8-0.8 2.6-0.6 2.3-0.6 2.3-0.5 2-0.6 1.9-0.6 1.7-0.8 1.6-0.9 1.4-1.1 1.1-1.4 0.9-1.6 0.5-2.1 0.1-2.5-0.7-3-1.5-3.6-2.8-4.2-4.4-4.5-6.4-4.5-8.4-4.1-9.8-2.7-9.9-0.7-8.1 1.6-4.7 3.9-0.7 5.3 2.5 6 4.2 5.8 4.9 5.2 4.9 4.4 4.5 3.5 4 2.7 3.7 2.1 3.3 1.5 3 1.3 2.8 0.9 2.6 0.9 2.3 0.8 2.2 0.8 2 0.8 1.7 1 1.6 1.2 1.3 1.4 0.9 1.7 0.6 2.1 0 2.5-0.6 2.9-1.6 3.4-2.8 3.7-4.2 4-5.9 3.9-7.4 3.3-8.4 2.1-8.1 0.3-6.5-1.6-3.7-3.4-0.5-4.6 2-5.1 3.6-5 4.3-4.5 4.3-3.8 4.2-3.1 3.8-2.4 3.6-1.8 3.3-1.3 3-1 2.8-0.7 2.7-0.5 2.5-0.3 2.3-0.3 2.1-0.2 2.1-0.2 1.9-0.1 1.7-0.2 1.7-0.2 1.6-0.2 1.4-0.3 1.4-0.3 1.3-0.4 1.1-0.6 1.1-0.6 1-0.9 0.8-1 0.7-1.4 0.5-1.7 0.1-2.1-0.2-2.8-1-3.3-1.9-4.2-3.3-4.9-5.5-5.5-8.1-5.8-11-5.2-13.3-3.4-13.3-0.5-10.3 2.8-4.7 5.7 0.8 7.4 4.6 7.8 6.1 7.2 6.1 6.1 5.3 5 4.6 3.8 3.9 3 3.3 2.3 2.9 1.8 2.5 1.6 2.2 1.3 1.9 1.4 1.6 1.4 1.2 1.5 0.7 1.6 0.3 1.9-0.2 2.1-1 2.3-1.6 2.5-2.6 2.4-3.3 2.3-4 1.9-4.4 1.3-4.3 0.5-3.8-0.5-2.6-1.4-1.3-2.1 0.1-2.7 1.3-2.9 2-2.8 2.6-2.6 2.8-2.3 2.9-1.8 2.8-1.3 2.7-1 2.5-0.6 2.4-0.2 2.2 0.1 1.9 0.4 1.7 0.7 1.4 1 1 1.3 0.7 1.6 0.2 1.9-0.5 2.2-1.1 2.5-2 2.7-2.9 2.7-3.9 2.5-4.6 2.1-5.1 1.3-4.9 0.4-4.1-0.8-2.7-1.8-1.1-2.6 0.5-3.1 1.7-3.3 2.5-3.1 3-2.8 3.1-2.4 3.1-1.9 3-1.4 2.9-0.9 2.7-0.6 2.4-0.2 2.3 0 2.1 0.4 1.8 0.7 1.6 0.9 1.3 1.3 0.9 1.5 0.4 1.9-0.1 2.3-0.8 2.5-1.6 2.9-2.7 3-3.7 3-4.9 2.7-5.6 2.1-6 1.1-5.4-0.2-4-1.5-2.2-2.6-0.2-3.4 1.4-3.7 2.6-3.7 3.2-3.4 3.5-2.9 3.4-2.3 3.3-1.8 3.2-1.4 2.9-0.9 2.8-0.5 2.5-0.2 2.4 0.1 2.2 0.4 1.9 0.6 1.8 0.8 1.5 1.2 1.1 1.4 0.9 1.7 0.3 2.1-0.3 2.6-1 2.9-2 3.3-3.2 3.5-4.6 3.5-5.9 3.2-6.9 2.3-7.2 1.1-6.4-0.6-4.5-2.1-1.9-3.5 0.5-4.2 2.3-4.5 3.4-4.3 3.9-3.8 3.9-3.1 3.8-2.5 3.5-1.9 3.3-1.4 3.1-1 2.9-0.6 2.7-0.4 2.5-0.1 2.3 0 2.2 0.3 2 0.4 1.9 0.5 1.7 0.7 1.5 1 1.3 1.2 1 1.4 0.8 1.9 0.3 2.2-0.2 2.7-1 3.3-2.1 3.8-3.5 4.2-5.2 4.5-7.2 4.3-9 3.4-9.8 1.9-9-0.4-6.5-2.7-2.7-4.5 0.8-5.6 3.4-5.9 4.5-5.4 4.9-4.8 4.6-3.9 4.2-3 3.9-2.4 3.5-1.8 3.2-1.3 2.9-1.1 2.7-0.8 2.5-0.8 2.3-0.7 2.1-0.7 2-0.8 1.7-1 1.6-1.1 1.3-1.3 1-1.7 0.6-1.9 0.2-2.4-0.5-2.9-1.3-3.3-2.5-3.9-4-4.1-5.7-4.1-7.4-3.7-8.7-2.6-8.8-0.9-7.5 1.3-4.6 3.1-1.2 4.6 1.6 5.4 3.6 5.3 4.4 4.9 4.5 4.1 4.3 3.4 4 2.6 3.7 2 3.3 1.5 3.1 1.1 2.9 0.8 2.7 0.7 2.5 0.5 2.3 0.4 2.2 0.5 2 0.4 1.9 0.5 1.7 0.5 1.6 0.7 1.5 0.9 1.3 1 1.1 1.3 0.8 1.5 0.6 2 0.1 2.4-0.5 3-1.3 3.6-2.5 4.2-4.2 4.7-6.2 4.9-8.4 4.6-10.4 3.4-11.1 1.5-9.6-1.2-6.1-3.7-1.6-5.5 2.2-6.5 4.4-6.3 5.3-5.8 5.1-4.8 4.7-3.9 4.2-3.1 3.8-2.3 3.3-1.8 3-1.4 2.8-1.1 2.5-1.1 2.3-1 2-1 1.8-1.2 1.5-1.3 1.2-1.5 0.8-1.9 0.3-2.2-0.3-2.5-1.1-2.9-2-3.3-3.3-3.5-4.6-3.4-5.8-3-6.8-2.2-7-1-6.1 0.7-4.2 2.2-1.7 3.4 0.6 4.2 2.3 4.4 3.4 4.1 3.8 3.7 3.8 3 3.7 2.4 3.5 1.9 3.3 1.3 3.1 0.9 2.8 0.6 2.7 0.3 2.4 0.1 2.3-0.2 2.2-0.3 1.9-0.5 1.8-0.6 1.6-0.9 1.4-1.1 1.2-1.5 0.8-1.7 0.5-2.1-0.1-2.6-0.8-3.1-1.8-3.6-3.1-4.1-4.8-4.3-6.5-4.2-8.3-3.4-9.3-2.1-8.9-0.1-6.7 2.1-3.4 4 0.1 5.2 2.7 5.6 4.2 5.4 4.7 4.7 4.6 4 4.2 3.1 3.9 2.4 3.5 1.9 3.3 1.3 3 1.1 2.8 0.8 2.6 0.6 2.4 0.6 2.2 0.6 2.1 0.6 1.9 0.6 1.7 0.8 1.6 0.9 1.3 1.1 1.2 1.4 0.9 1.7 0.5 2.1 0 2.5-0.7 3.1-1.6 3.6-2.8 4.1-4.5 4.5-6.4 4.5-8.4 3.9-9.8 2.7-9.8 0.6-7.9-1.8-4.4-3.9-0.6-5.3 2.6-6 4.3-5.7 4.8-5.2 4.9-4.3 4.4-3.4 4-2.7 3.6-2 3.3-1.5 3.1-1.2 2.8-1 2.5-0.8 2.4-0.8 2.2-0.7 2-0.9 1.7-0.9 1.6-1.2 1.3-1.3 1-1.7 0.7-2 0.1-2.4-0.5-2.8-1.4-3.3-2.5-3.8-4-4-5.6-4-7.3-3.5-8.4-2.4-8.5-0.8-7.1 1.3-4.3 3.1-1.1 4.5 1.7 5.2 3.5 5.2 4.2 4.7 4.4 4 4.3 3.2 3.9 2.6 3.6 1.9 3.4 1.4 3.1 1.1 2.8 0.8 2.7 0.5 2.5 0.4 2.3 0.4 2.2 0.3 2.1 0.2 1.9 0.3 1.8 0.3 1.7 0.4 1.5 0.4 1.4 0.6 1.4 0.6 1.2 0.9 1 1 0.9 1.3 0.6 1.7 0.4 2-0.1 2.6-0.7 3.2-1.7 3.9-2.9 4.5-4.8 5.2-7.2 5.4-9.8 4.9-11.9 3.5-12.3 1-10.1-2-5.6-4.7-0.4-6.6 3.5-7.2 5.4-6.9 5.8-6 5.3-4.9 4.7-3.9 4.1-3 3.6-2.3 3.1-1.8 2.8-1.5 2.5-1.3 2.2-1.2 1.9-1.2 1.6-1.4 1.3-1.5 0.8-1.7 0.5-2-0.2-2.2-0.9-2.6-1.7-2.8-2.7-2.9-3.7-2.8-4.7-2.5-5.4-1.8-5.4-0.8-4.9 0.3-3.6 1.6-1.8 2.5 0 3.3 1.5 3.5 2.5 3.4 3.1 3.2 3.3 2.6 3.2 2.2 3.2 1.7 3 1.2 2.9 0.7 2.6 0.4 2.5 0.1 2.2-0.2 2.1-0.4 1.8-0.8 1.6-1 1.2-1.3 0.9-1.7 0.5-1.9-0.2-2.4-0.8-2.7-1.7-3-2.9-3.3-4-3.3-5.3-3-6.3-2.3-6.5-1.2-6 0.3-4.5 1.7-2.3 2.9 0 3.8 1.7 4.1 3 4 3.5 3.6 3.7 3.1 3.6 2.5 3.5 1.9 3.3 1.4 3 1 2.9 0.6 2.6 0.3 2.5 0 2.3-0.2 2.1-0.4 1.9-0.7 1.7-0.8 1.5-1.1 1.2-1.4 0.9-1.7 0.5-2.1-0.1-2.5-0.8-3-1.8-3.4-3-3.8-4.5-4-6.1-3.8-7.6-3.1-8.3-1.8-7.9 0-6 1.9-3.1 3.6-0.1 4.7 2.4 5.1 3.7 5 4.3 4.3 4.3 3.7 4.1 3 3.8 2.2 3.5 1.7 3.2 1.3 3 0.9 2.8 0.6 2.6 0.5 2.5 0.3 2.2 0.2 2.2 0.2 2 0.1 1.9 0.1 1.7 0.2 1.7 0.1 1.6 0.1 1.4 0.2 1.4 0.2 1.2 0.2 1.2 0.3 1.1 0.4 1.1 0.5 0.9 0.7 0.8 0.8 0.8 1 0.5 1.3 0.4 1.7 0.1 2.2-0.3 2.7-0.9 3.4-1.9 4.2-3.4 5-5.5 5.7-8.3 6-11.5 5.5-13.9 3.6-14.1 0.7-10.9-2.9-5-6 0.9-7.8 5-8.1 6.4-7.5 6.2-6.3 5.5-5.1 4.6-4 3.8-3.1 3.2-2.3 2.8-1.9 2.4-1.6 2-1.4 1.7-1.4 1.4-1.4 1-1.5 0.5-1.7 0.1-1.9-0.6-2-1.1-2.2-1.9-2.2-2.6-2.1-3.3-1.9-3.7-1.5-3.8-0.8-3.6 0-2.8 0.8-1.8 1.5-0.7 2.2 0.5 2.4 1.4 2.6 2.1 2.4 2.4 2.2 2.5 1.8 2.7 1.5 2.5 1.1 2.4 0.7 2.3 0.3 2.1 0 1.9-0.3 1.6-0.6 1.4-0.9 1-1.2 0.6-1.4 0.1-1.8-0.4-2-1.1-2.2-1.8-2.4-2.6-2.3-3.4-2.2-4-1.8-4.4-1.1-4.1-0.3-3.5 0.6-2.3 1.6-1.1 2.2 0.3 2.7 1.4 2.8 2.1 2.7 2.6 2.5 2.8 2.1 2.8 1.7 2.8 1.3 2.6 0.9 2.5 0.5 2.3 0.1 2.1-0.2 1.8-0.4 1.6-0.8 1.3-1.1 1-1.3 0.5-1.7 0-2-0.7-2.2-1.3-2.5-2.3-2.6-3.1-2.6-4-2.4-4.7-1.8-4.9-1.1-4.6 0-3.6 1-2.2 2.1-0.6 2.7 0.8 3.1 1.9 3.1 2.7 3 2.9 2.6 3.1 2.2 3 1.7 2.9 1.3 2.8 0.8 2.6 0.5 2.4 0.1 2.2-0.2 1.9-0.5 1.7-0.8 1.5-1 1.1-1.4 0.7-1.7 0.2-2-0.4-2.4-1.2-2.6-2.1-2.9-3.1-2.9-4.2-2.9-5.1-2.3-5.7-1.6-5.5-0.5-4.7 0.8-3.1 2-1.3 2.9 0.6 3.5 2 3.6 2.8 3.5 3.3 3.1 3.4 2.5 3.3 2.1 3.2 1.5 3 1.1 2.8 0.7 2.6 0.3 2.5 0 2.2-0.2 2-0.5 1.8-0.8 1.6-1.1 1.2-1.3 0.9-1.7 0.5-2-0.2-2.4-0.8-2.8-1.8-3.1-2.9-3.4-4.2-3.4-5.5-3.1-6.5-2.4-6.9-1.3-6.3 0.3-4.7 1.8-2.3 3.1 0 3.9 1.9 4.3 3.1 4.2 3.7 3.7 3.8 3.2 3.7 2.6 3.6 1.9 3.3 1.5 3.1 1 2.8 0.6 2.7 0.3 2.5 0.1 2.4-0.1 2.1-0.3 2-0.5 1.8-0.7 1.6-0.9 1.4-1.2 1.2-1.4 0.8-1.8 0.3-2.2-0.1-2.6-1-3.2-1.9-3.6-3.3-4-5-4.2-6.7-4-8.3-3.2-9-1.7-8.4 0.2-6 2.4-2.8 4.1 0.5 5.1 2.9 5.5 4.2 5.2 4.5 4.5 4.5 3.7 4.2 3 3.8 2.3 3.5 1.7 3.2 1.2 3 1 2.7 0.7 2.6 0.6 2.4 0.5 2.2 0.5 2.1 0.4 1.9 0.5 1.8 0.6 1.6 0.7 1.5 0.9 1.3 1 1.2 1.3 0.8 1.6 0.6 2 0 2.5-0.5 3-1.4 3.6-2.6 4.2-4.2 4.6-6.3 4.8-8.5 4.5-10.3 3.2-10.7 1.2-9.2-1.3-5.6-3.8-1.2-5.5 2.3-6.3 4.4-6.3 5.1-5.5 5.1-4.7 4.7-3.8 4.1-2.9 3.7-2.3 3.3-1.7 3.1-1.3 2.7-1.1 2.6-1 2.2-1 2.1-0.9 1.9-1.1 1.5-1.3 1.3-1.4 1-1.8 0.5-2.1-0.1-2.4-0.7-2.9-1.7-3.2-2.9-3.5-4.2-3.6-5.7-3.4-6.8-2.7-7.4-1.6-6.9 0.1-5.2 1.7-2.8 3.2-0.2 4.2 2 4.5 3.2 4.5 3.9 4 4 3.4 3.9 2.7 3.6 2.1 3.4 1.6 3.2 1.1 2.9 0.8 2.8 0.4 2.6 0.3 2.4 0 2.2-0.1 2.1-0.3 1.9-0.4 1.8-0.6 1.6-0.7 1.5-0.9 1.2-1.2 1.1-1.5 0.7-1.8 0.3-2.2-0.2-2.8-1-3.2-2-3.9-3.5-4.4-5.3-4.6-7.3-4.5-9.3-3.6-10.3-2-9.6 0.2-6.9 2.7-2.9 4.7 0.8 5.8 3.5 6.1 4.8 5.7 5 4.9 4.7 4.1 4.3 3.1 3.9 2.5 3.5 1.8 3.2 1.5 2.9 1.1 2.7 0.9 2.4 0.9 2.3 0.8 2 0.9 1.9 1 1.6 1.2 1.3 1.3 1 1.7 0.7 2 0.1 2.4-0.5 2.8-1.4 3.2-2.5 3.7-4 3.8-5.4 3.8-7 3.3-8 2.2-8 0.6-6.6-1.2-3.9-3-1.1-4.3 1.6-4.9 3.3-4.9 4-4.5 4.3-3.9 4.1-3.1 3.9-2.4 3.5-1.9 3.4-1.3 3-1 2.9-0.7 2.6-0.4 2.5-0.3 2.4-0.2 2.2-0.1 2 0 1.9 0 1.8 0.1 1.7 0.1 1.6 0.2 1.5 0.3 1.4 0.3 1.2 0.4 1.2 0.5 1.1 0.6 1 0.8 0.9 1 0.7 1.3 0.5 1.6 0.3 2-0.2 2.6-0.8 3.2-1.6 4-3 4.8-5 5.4-7.5 5.8-10.4 5.4-12.9 3.8-13.6 1.3-11.2-2.1-6-5.2-0.3-7.2 4-7.8 6-7.3 6.1-6.4 5.6-5.2 4.7-4.1 4-3.1 3.4-2.5 3-1.9 2.6-1.6 2.3-1.4 1.9-1.3 1.7-1.4 1.2-1.4 0.9-1.7 0.4-1.8-0.2-2.1-0.7-2.2-1.6-2.4-2.3-2.5-3.1-2.3-3.9-2.1-4.4-1.4-4.3-0.7-3.9 0.3-2.9 1.2-1.6 2.1-0.2 2.5 1 2.9 2 2.9 2.5 2.6 2.7 2.3 2.9 1.9 2.8 1.5 2.7 1 2.6 0.7 2.4 0.2 2.2 0 2-0.3 1.7-0.7 1.5-0.9 1.1-1.3 0.8-1.5 0.2" fill="none" stroke="#2020ff" stroke-width="0.5" stroke-opacity="0.85"/>
<text x="845.5" y="154.5" font-size="18.6" font-style="italic">OS</text>
<path d="M867.3 163.4V237.5" stroke="#555" stroke-width="1.2"/><path d="M867.3 237.5H958.9" stroke="#888" stroke-width="1.5"/>
<path d="M868 223.2l0.8 0 0.7 0 0.8 0 0.8 0 0.7 0 0.8 0 0.7 0 0.8 0 0.8 0 0.7 0 0.8 0 0.8 0 0.7 0 0.8 0 0.8 0 0.7 0 0.8 0 0.7 0 0.8 0 0.8 0 0.7 0 0.8 0 0.8 0 0.7 0 0.8 0 0.8 0 0.7 0 0.8-0.2 0.8-1 0.7-1.7 0.8-2.1 0.7-2 0.8-1.6 0.8-1.7 0.7-1.8 0.8-1.5 0.8-1.2 0.7-0.4 0.8 0.7 0.8 1.3 0.7 1 0.8-0.8 0.7-3 0.8-4.1 0.8-4.3 0.7-3.3 0.8-2.7 0.8-2.5 0.7-2.5 0.8-2.5 0.8-2.9 0.7-3.2 0.8-2.8 0.7-1.8 0.8-0.3 0.8 2.8 0.7 4.9 0.8 4.9 0.8 3.3 0.7 1.7 0.8 1.4 0.8 1.2 0.7 1.1 0.8 1.2 0.8 1.5 0.7 1.7 0.8 1.4 0.7 0.6 0.8-0.5 0.8-1.2 0.7-1.3 0.8-0.8 0.8 0.4 0.7 1.4 0.8 2.1 0.8 2.4 0.7 2.1 0.8 1.7 0.7 1.7 0.8 1.8 0.8 1.7 0.7 1.5 0.8 1.2 0.8 1 0.7 0.8 0.8 0.8 0.8 0.7 0.7 0.7 0.8 0.6 0.7 0.6 0.8 0.4 0.8 0.3 0.7 0.2 0.8 0 0.8 0.1 0.7 0 0.8 0.1 0.8 0 0.7 0.1 0.8 0 0.8 0.1 0.7 0 0.8 0 0.7 0.1 0.8 0 0.8 0 0.7 0.1 0.8 0 0.8 0 0.7 0 0.8 0 0.8 0.1 0.7 0 0.8 0 0.7 0 0.8 0 0.8 0 0.7 0 0.8 0" fill="none" stroke="#ff2020" stroke-width="0.9"/>
<path d="M868 232.1l0.8 0 0.7 0 0.8 0 0.8 0 0.7-0.1 0.8 0 0.7 0 0.8-0.1 0.8 0 0.7-0.1 0.8 0 0.8-0.1 0.7 0 0.8-0.1 0.8-0.1 0.7 0 0.8-0.1 0.7-0.1 0.8-0.2 0.8-0.1 0.7-0.2 0.8-0.2 0.8-0.3 0.7-0.2 0.8-0.3 0.8-0.3 0.7-0.3 0.8-0.4 0.8-0.5 0.7-0.7 0.8-0.9 0.7-0.9 0.8-1 0.8-1 0.7-1.1 0.8-1 0.8-1 0.7-1 0.8-1 0.8-1.1 0.7-1.3 0.8-1.5 0.7-1.9 0.8-2.3 0.8-2.6 0.7-2.8 0.8-2.8 0.8-2.8 0.7-3 0.8-3.1 0.8-3.3 0.7-4.5 0.8-5.4 0.7-4.2 0.8-0.9 0.8 4.1 0.7 6.4 0.8 5.5 0.8 2.6 0.7 1.9 0.8 1.5 0.8 1.5 0.7 1.6 0.8 1.6 0.8 1.6 0.7 1.5 0.8 1.5 0.7 1.4 0.8 1.3 0.8 1.3 0.7 1.1 0.8 1.2 0.8 1.2 0.7 1.2 0.8 1.3 0.8 1.5 0.7 1.5 0.8 1.6 0.7 1.4 0.8 1.3 0.8 1.1 0.7 0.8 0.8 0.7 0.8 0.7 0.7 0.6 0.8 0.6 0.8 0.4 0.7 0.5 0.8 0.3 0.7 0.3 0.8 0.3 0.8 0.2 0.7 0.3 0.8 0.2 0.8 0.2 0.7 0.2 0.8 0.1 0.8 0.1 0.7 0.1 0.8 0 0.8 0 0.7 0 0.8 0 0.7 0 0.8 0 0.8 0 0.7 0 0.8 0 0.8 0 0.7 0 0.8 0 0.8 0 0.7 0 0.8 0 0.7 0 0.8 0 0.8 0 0.7 0 0.8 0" fill="none" stroke="#2020ff" stroke-width="0.9"/>
<text x="964.8" y="228.6" font-size="18.4" font-style="italic">λ</text>
<rect x="406.4" y="268.8" width="184.5" height="167" fill="url(#gWgm)"/>
<ellipse cx="499" cy="355" rx="46" ry="40" fill="#a09a98" opacity="0.55" filter="url(#blur3)"/>
<ellipse cx="498.9" cy="351.2" rx="40.2" ry="37.2" fill="#3a3a3a"/>
<ellipse cx="498.9" cy="349.9" rx="40.7" ry="37.6" fill="#7fcfc0"/>
<ellipse cx="498.9" cy="349.6" rx="39.3" ry="36.4" fill="none" stroke="#ff3510" stroke-width="2.3"/>
<ellipse cx="498.5" cy="352.2" rx="27.6" ry="25" fill="url(#gDisk2)"/>
<ellipse cx="498.9" cy="350" rx="8.9" ry="8" fill="url(#gHole)"/>
<path d="M406.4 390.2H590.9" stroke="#7fbfb8" stroke-width="2"/><path d="M406.4 392.3H590.9" stroke="#ff1010" stroke-width="2.4"/><path d="M406.4 395H590.9" stroke="#8a3030" stroke-width="3"/><path d="M406.4 397H590.9" stroke="#6aa8a0" stroke-width="1"/><path d="M406.4 400H590.9" stroke="#a09898" stroke-width="4" opacity="0.35"/>
<text x="445.1" y="304.0" font-size="21.1" font-weight="bold">WGM-cavity</text>
<rect x="756.5" y="272.8" width="217.4" height="159.9" fill="url(#gDfbImg)"/>
<ellipse cx="865" cy="362" rx="110" ry="16" fill="url(#gGlowP)"/>
<ellipse cx="865" cy="395" rx="60" ry="16" fill="url(#gGlow)"/>
<rect x="756.5" y="367.3" width="217.4" height="21.4" fill="#5fa8b8"/>
<rect x="818.8" y="367.3" width="93" height="21.4" fill="#8ffcfc"/>
<path d="M756.5 367.3h6v21.4h-6zM769 367.3h6v21.4h-6zM781 367.3h6v21.4h-6zM794 367.3h6v21.4h-6zM806.5 367.3h6v21.4h-6zM918 367.3h6v21.4h-6zM930.5 367.3h6v21.4h-6zM943 367.3h6v21.4h-6zM955.5 367.3h6v21.4h-6zM968 367.3h6v21.4h-6z" fill="#0a14f5"/>
<text x="823.7" y="338.2" font-size="21.1" font-weight="bold">DFB laser</text>
<path d="M411.4 253.8Q455 262 476.7 281.4" fill="none" stroke="#1a1aff" stroke-width="1.6" stroke-dasharray="1.6 2.2"/>
<path d="M600 251.3Q545 262 523.1 285.1" fill="none" stroke="#1a1aff" stroke-width="1.6" stroke-dasharray="1.6 2.2"/>
<path d="M755.5 255.2Q822 262 846.8 292.6" fill="none" stroke="#1a1aff" stroke-width="1.6" stroke-dasharray="1.6 2.2"/>
<path d="M943.4 258.3Q890 265 873.8 292.6" fill="none" stroke="#1a1aff" stroke-width="1.6" stroke-dasharray="1.6 2.2"/>
<text x="115.5" y="333.9" font-size="36.7" font-style="italic">P</text>
<text x="128.5" y="342.3" font-size="17.0" font-style="italic">in</text>
<text x="114.9" y="419.6" font-size="36.7" font-style="italic">P</text>
<text x="132.6" y="428.0" font-size="17.0" font-style="italic" letter-spacing="3.3">out</text>
<path d="M177.9 346.6H177.9V307.8H191.7V346.6H198.7V307.8H205.5V346.6H219.5V307.8H226.1V346.6H232.7V307.8H246.5V346.6H260.8V307.8H267.5V346.6H274.3V307.8H280.9V346.6" fill="none" stroke="#c41818" stroke-width="1.3"/>
<path d="M183.8 403.4l0.4 4.8 0.3 4.3 0.4-7 0.3-12.9 0.4-2.7 0.3 13.3 0.4 16.3 0.3 3 0.4-11.5 0.4-12.3 0.3-1.3 0.4 8 0.3 5.8 0.4-4.2 0.3-10.4 0.4-5.9 0.3 5.7 0.4 13.2 0.3 8.8 0.4-3 0.4-9 0.3-3.2 0.4 6.4 0.3 6.9 0.4-1.8 0.3-7.8 0.4-3.3 0.3 4 0.4 2 0.4-7.4 0.3-10.8 0.4-2.3 0.3 7.3 0.4 7.4 0.3 1.6 0.4 0.9 0.3 5.5 0.4 4.9 0.4-3.6 0.3-8.6 0.4-0.9 0.3 9.8 0.4 8.3 0.3-4.4 0.4-11.2 0.3-3.9 0.4 4.7 0.4-0.7 0.3-13.5 0.4-13.7 0.3 3.6 0.4 19.9 0.3 17.8 0.4 1.4 0.3-10.2 0.4-9.1 0.3-1.8 0.4 3.9 0.4 7.8 0.3 9.7 0.4 3.9 0.3-9.2 0.4-17.4 0.3-9 0.4 7.3 0.3 10.8 0.4-3.3 0.4-14.7 0.3-4.6 0.4 17.3 0.3 23.1 0.4 3.8 0.3-19 0.4-21 0.3-3.8 0.4 10.9 0.4 11.3 0.3 5.7 0.4 4 0.3 3.3 0.4-3.4 0.3-11.7 0.4-10.1 0.3 1.7 0.4 9.8 0.3 4.5 0.4-6.8 0.4-9.9 0.3-2 0.4 6.1 0.3 6.1 0.4 1.4 0.3-0.5 0.4 1 0.3 1.7 0.4 0.6 0.4 1 0.3 2.6 0.4 0.8 0.3-5.2 0.4-9 0.3-4.1 0.4 5 0.3 7.7 0.4 0.7 0.4-6.9 0.3-4.8 0.4 5 0.3 10.4 0.4 4 0.3-6.6 0.4-9.3 0.3-1.9 0.4 5.9 0.3 4.7 0.4-3.2 0.4-7.4 0.3-2.9 0.4 4.4 0.3 6.3 0.4 2 0.3-0.8 0.4 2.3 0.3 6.7 0.4 4.9 0.4-3.3 0.3-10.4 0.4-9.9 0.3-4 0.4-0.3 0.3-0.9 0.4-0.9 0.3 3.4 0.4 8.7 0.4 8.6 0.3 2.5 0.4-3.3 0.3-2.5 0.4 2.5 0.3 4.1 0.4-1 0.3-7.3 0.4-7.5 0.4-1.8 0.3 2.8 0.4 0.7 0.3-4 0.4-3.1 0.3 5.5 0.4 13.6 0.3 10.5 0.4-3.3 0.3-15.2 0.4-14.1 0.4-2.5 0.3 6.6 0.4 5.6 0.3 0 0.4 0.4 0.3 7.8 0.4 11.9 0.3 4.4 0.4-8.5 0.4-13.3 0.3-5.5 0.4 5.4 0.3 6.9 0.4-1.5 0.3-9.3 0.4-8 0.3-0.6 0.4 4.2 0.4 3.1 0.3 0.7 0.4 2.1 0.3 6.5 0.4 7.9 0.3 4.3 0.4-1.5 0.3-4.3 0.4-3 0.3-1.4 0.4-2.9 0.4-6.7 0.3-8.2 0.4-3.8 0.3 4.8 0.4 11.3 0.3 10.2 0.4 2 0.3-6.1 0.4-7.9 0.4-3 0.3 1.9 0.4 1.3 0.3-2.9 0.4-4 0.3 1.5 0.4 9.5 0.3 11.9 0.4 6.5 0.4-1.6 0.3-6.7 0.4-7.9 0.3-9 0.4-9.5 0.3-5.7 0.4 3.3 0.3 11.2 0.4 10.3 0.3 1.7 0.4-5.4 0.4-4.4 0.3 1.6 0.4 5.4 0.3 4 0.4 1 0.3-1.6 0.4-4.3 0.3-6.2 0.4-3.7 0.4 3.9 0.3 9.2 0.4 4.9 0.3-5.5 0.4-10.2 0.3-4.3 0.4 3.4 0.3 2.5 0.4-3.2 0.4-1.9 0.3 8.4 0.4 13.8 0.3 4.2 0.4-12.2 0.3-16.8 0.4-4.8 0.3 9.6 0.4 12.3 0.4 4.5 0.3-2.8 0.4-4.8 0.3-4.8 0.4-4 0.3 1.5 0.4 9.1 0.3 9 0.4-3.1 0.3-15.4 0.4-13.2 0.4 1.9 0.3 12 0.4 6.9 0.3-3.1 0.4-2.7 0.3 6.1 0.4 8.6 0.3-0.6 0.4-8.9" fill="none" stroke="#d82828" stroke-width="0.8" stroke-opacity="0.85"/>
<text x="327.4" y="337.7" font-size="23.5" font-style="italic" font-weight="bold" fill="#0000ff">E</text>
<text x="342.6" y="342.6" font-size="22.4" font-style="italic" font-weight="bold" fill="#0000ff">in</text>
<text x="325.7" y="432.7" font-size="24.4" font-style="italic" font-weight="bold" fill="#0000ff">E</text>
<text x="341.5" y="437.1" font-size="20.3" font-style="italic" font-weight="bold" fill="#0000ff">out</text>
<text x="628.0" y="350.7" font-size="22.8" font-style="italic" font-weight="bold" fill="#0000ff">E</text>
<text x="643.5" y="355.9" font-size="20.5" font-style="italic" font-weight="bold" fill="#0000ff">out</text>
<text x="626.9" y="418.2" font-size="23.0" font-style="italic" font-weight="bold" fill="#0000ff">E</text>
<text x="641.5" y="423.4" font-size="20.4" font-style="italic" font-weight="bold" fill="#0000ff">out</text>
<text x="341.0" y="422.7" font-size="15.0" font-weight="bold" fill="#0000ff">3</text>
<text x="644.1" y="341.4" font-size="15.8" font-weight="bold" fill="#0000ff">1</text>
<text x="641.7" y="408.8" font-size="15.6" font-weight="bold" fill="#0000ff">2</text>
<path d="M323.8 359.2H361.4V356.4L369.1 363.1L361.4 369.7V367H323.8Z" fill="#0a3cc8"/>
<path d="M367 396.2H327.7V392.9L321.6 399.3L327.7 405.6V402.8H367Z" fill="#ff0000"/>
<path d="M690 363.2H714.5A17.1 17.1 0 0 1 714.5 397.4H701.5V403.2L692.1 393.3L701.5 384.5V390.3H714.5A10 10 0 0 0 714.5 370.4H690Z" fill="url(#gU)"/>
<text x="1020.7" y="31.6" font-size="46.8">(b)</text>
<text x="1230.3" y="31.0" font-size="33.4">Schematic diagram of the experimental setup</text>
<rect x="1101.6" y="68.5" width="266.1" height="369.7" fill="#dde8f5" stroke="#444" stroke-width="1" stroke-dasharray="3 2"/>
<rect x="1742.3" y="68.8" width="236" height="208.3" fill="#eef5ea" stroke="#444" stroke-width="1" stroke-dasharray="3 2"/>
<rect x="1084.3" y="55.9" width="910.4" height="392.8" fill="none" stroke="#0000ff" stroke-width="2.5" stroke-dasharray="9 7"/>
<path d="M1206.5 125.1H1251.6" fill="none" stroke="#1b9ac6" stroke-width="3"/>
<path d="M1344.3 122.3H1593.3" fill="none" stroke="#1b9ac6" stroke-width="3"/>
<path d="M1673.4 122.2H1894.5" fill="none" stroke="#1b9ac6" stroke-width="3"/>
<path d="M1594 131.5C1572 146 1560.4 164 1560.4 188V236.3" fill="none" stroke="#1b9ac6" stroke-width="3.8"/>
<path d="M1673 130.5C1697 146 1710.8 165 1710.8 190V237.5" fill="none" stroke="#1b9ac6" stroke-width="3.8"/>
<path d="M1294.9 142.5V199.5" fill="none" stroke="#000" stroke-width="3"/>
<path d="M1295.4 251V313.8" fill="none" stroke="#000" stroke-width="3"/>
<path d="M1296.3 357.9V417.7H1866.5" fill="none" stroke="#000" stroke-width="3"/>
<path d="M1562.6 266.7V398.4H1866.5" fill="none" stroke="#000" stroke-width="3"/>
<path d="M1711.5 267.8V384.4H1866.5" fill="none" stroke="#000" stroke-width="3"/>
<rect x="1110" y="96.6" width="96.5" height="51.5" fill="url(#gBox)" stroke="#000" stroke-width="2.6"/>
<rect x="1251.6" y="105.6" width="92.7" height="36.9" fill="url(#gBox)" stroke="#000" stroke-width="2.6"/>
<rect x="1250.2" y="313.8" width="92.1" height="44.1" fill="url(#gBox)" stroke="#000" stroke-width="2.6"/>
<rect x="1866.5" y="367.1" width="112.6" height="63.5" fill="url(#gOsc)" stroke="#000" stroke-width="2.6"/>
<rect x="1593.3" y="106.6" width="80.1" height="31.5" fill="#a6e6f0" stroke="#000" stroke-width="2.6"/>
<rect x="1894.5" y="102.6" width="77.9" height="34.7" fill="url(#gDfb)" stroke="#000" stroke-width="2.6"/>
<path d="M1294.9 199.5L1320.8 250.8H1270.5Z" fill="#fff" stroke="#000" stroke-width="2.5" stroke-linejoin="miter"/>
<path d="M1400.8 101.8L1449.1 123.8L1400.8 146.1Z" fill="#fff" stroke="#000" stroke-width="2.5"/>
<g fill="none" stroke="#0000ff" stroke-width="2.6"><circle cx="1497.3" cy="115.1" r="9.4"/><circle cx="1517.4" cy="114.5" r="9.4"/><circle cx="1507.2" cy="133.4" r="9.4"/></g>
<path d="M1547.8 236.3H1576.5V242.3C1576.5 254.3 1568.2 266.7 1562.2 266.7C1556.2 266.7 1547.8 254.3 1547.8 242.3Z" fill="#88ffff" stroke="#000" stroke-width="3" stroke-linejoin="round"/>
<path d="M1697 237.5H1726.5V243.5C1726.5 255.5 1717.8 267.8 1711.8 267.8C1705.8 267.8 1697 255.5 1697 243.5Z" fill="#88ffff" stroke="#000" stroke-width="3" stroke-linejoin="round"/>
<circle cx="1799.7" cy="140.2" r="18.4" fill="url(#gCav)"/>
<circle cx="1799.7" cy="140.2" r="15.2" fill="none" stroke="#ff0000" stroke-width="2.8"/>
<path d="M1821.2 131.4L1832 131.4" stroke="#ff0000" stroke-width="2.4"/><path d="M1838 131.4L1832 135.6L1832 127.2Z" fill="#ff0000"/>
<path d="M1888.7 112.4L1876.5 112.4" stroke="#ff0000" stroke-width="2.4"/><path d="M1870.5 112.4L1876.5 108.2L1876.5 116.6Z" fill="#ff0000"/>
<path d="M1551.3 278.1L1551.3 288.5" stroke="#ff0000" stroke-width="2.4"/><path d="M1551.3 294.5L1547.1 288.5L1555.5 288.5Z" fill="#ff0000"/>
<path d="M1701.6 278.1L1701.6 288.5" stroke="#0000ff" stroke-width="2.4"/><path d="M1701.6 294.5L1697.4 288.5L1705.8 288.5Z" fill="#0000ff"/>
<path d="M1642 148.4H1657.5V142.7L1668 150.7L1657.5 158.7V153H1642Z" fill="#0000ff"/>
<text x="1129.7" y="131.4" font-size="23.2" font-weight="bold" filter="url(#sh)">Laser</text>
<text x="1270.0" y="133.1" font-size="23.2" font-weight="bold" filter="url(#sh)">EOM</text>
<text x="1219.0" y="227.5" font-size="21.9" font-weight="bold" filter="url(#sh)">EA</text>
<text x="1268.5" y="344.5" font-size="23.5" font-weight="bold" filter="url(#sh)">AWG</text>
<text x="1109.8" y="267.7" font-size="28.7" font-weight="bold" fill="#0000ff" filter="url(#sh)">Challenge</text>
<text x="1109.8" y="301.6" font-size="28.5" font-weight="bold" fill="#0000ff" filter="url(#sh)">Generator</text>
<text x="1385.6" y="178.7" font-size="23.2" font-weight="bold" filter="url(#sh)">EDFA</text>
<text x="1490.0" y="169.5" font-size="23.8" font-weight="bold" filter="url(#sh)">PC</text>
<text x="1582.3" y="92.1" font-size="23.8" font-weight="bold" filter="url(#sh)">Coupler</text>
<text x="1604.9" y="131.2" font-size="23.9" font-weight="bold" filter="url(#sh)">50/50</text>
<text x="1909.8" y="128.5" font-size="23.6" font-weight="bold" filter="url(#sh)">DFB</text>
<text x="1763.2" y="196.0" font-size="27.9" font-weight="bold" filter="url(#sh)">μ-cavity</text>
<text x="1837.4" y="248.8" font-size="28.6" font-weight="bold" fill="#0000ff" filter="url(#sh)">PUF</text>
<text x="1898.3" y="407.7" font-size="24.5" font-weight="bold" filter="url(#sh)">OSC</text>
<text x="1499.9" y="256.3" font-size="26.0" font-style="italic" font-weight="bold" filter="url(#sh)">D</text>
<text x="1518.2" y="256.3" font-size="26.0" font-weight="bold" filter="url(#sh)">1</text>
<text x="1642.3" y="256.3" font-size="26.0" font-style="italic" font-weight="bold" filter="url(#sh)">D</text>
<text x="1661.3" y="256.3" font-size="26.0" font-weight="bold" filter="url(#sh)">2</text>
<text x="1610.1" y="171.8" font-size="30.7" font-style="italic" font-weight="bold" fill="#0000ff">E</text>
<text x="1630.9" y="177.6" font-size="28.5" font-style="italic" font-weight="bold" fill="#0000ff">in</text>
<text x="1504.5" y="312.6" font-size="30.7" font-style="italic" font-weight="bold" fill="#0000ff">E</text>
<text x="1522.6" y="318.3" font-size="23.6" font-style="italic" font-weight="bold" fill="#0000ff">out</text>
<text x="1661.8" y="312.6" font-size="30.7" font-style="italic" font-weight="bold" fill="#0000ff">E</text>
<text x="1680.6" y="318.3" font-size="25.2" font-style="italic" font-weight="bold" fill="#0000ff">in</text>
<text x="1812.7" y="103.4" font-size="26.1" font-style="italic" font-weight="bold" fill="#0000ff">E</text>
<text x="1831.1" y="108.9" font-size="24.3" font-style="italic" font-weight="bold" fill="#0000ff">out</text>
<text x="1846.9" y="149.0" font-size="27.7" font-style="italic" font-weight="bold" fill="#0000ff">E</text>
<text x="1865.1" y="154.9" font-size="24.5" font-style="italic" font-weight="bold" fill="#0000ff">out</text>
<text x="1523.2" y="302.2" font-size="19.1" font-weight="bold" fill="#0000ff">3</text>
<text x="1830.2" y="92.3" font-size="20.8" font-weight="bold" fill="#0000ff">2</text>
<text x="1865.5" y="138.2" font-size="19.2" font-weight="bold" fill="#0000ff">1</text>
<g clip-path="url(#clc1)" fill="none" stroke-width="2.6" stroke-linejoin="round">
<path d="M88 746.1l0.8 0 0.7 0 0.8-0.2 0.7 0.1 0.8 0 0.8-0.2 0.7 0.1 0.8 0 0.7-0.1 0.8 0 0.8 0 0.7-0.2 0.8 0.1 0.7-0.1 0.8 0.1 0.8-0.1 0.7-0.1 0.8 0 0.7 0 0.8 0 0.8-0.1 0.7 0.2 0.8-0.1 0.8-0.4 0.7 0.1 0.8 0.1 0.7 0 0.8 0 0.8 0 0.7 0.2 0.8-0.4 0.7 0.1 0.8 0.2 0.8-0.1 0.7-0.1 0.8-0.1 0.7-0.1 0.8 0.1 0.8 0 0.7-0.2 0.8 0.1 0.7 0 0.8-0.1 0.8 0 0.7 0 0.8-0.1 0.7-0.2 0.8 0 0.8 0 0.7-0.2 0.8-0.3 0.7 0 0.8-0.3 0.8 0 0.7-0.4 0.8 0 0.7-0.3 0.8-0.5 0.8-0.3 0.7-0.4 0.8-0.5 0.7-0.7 0.8-0.5 0.8-0.3 0.7-0.5 0.8-0.3 0.8-0.4 0.7-0.6 0.8-0.2 0.7-0.3 0.8-0.5 0.8-0.4 0.7-0.2 0.8-0.4 0.7-0.3 0.8-0.4 0.8-0.3 0.7-0.1 0.8-0.2 0.7-0.1 0.8-0.2 0.8-0.4 0.7-0.2 0.8-0.1 0.7-0.3 0.8-0.7 0.8-0.7 0.7-0.9 0.8-1.2 0.7-1.3 0.8-1.5 0.8-1.9 0.7-2.4 0.8-2.5 0.7-3 0.8-2.2 0.8-2 0.7-1.7 0.8-1.4 0.7-1.4 0.8-1 0.8-1.2 0.7-0.8 0.8-0.6 0.8-0.6 0.7-0.6 0.8-0.6 0.7-0.2 0.8-0.8 0.8-0.8 0.7-0.9 0.8-1.1 0.7-1.3 0.8-1.7 0.8-2.1 0.7-3 0.8-5.5 0.7-6.1 0.8-4.2 0.8-3.8 0.7-3.7 0.8-3.1 0.7-2.1 0.8-2 0.8-2.3 0.7-1.9 0.8-1.5 0.7-1.8 0.8-1.4 0.8-1.4 0.7-1.4 0.8-1.6 0.7-1.3 0.8-1.5 0.8-1.5 0.7-1.5 0.8-1.8 0.7-2.2 0.8-3 0.8-2.9 0.7-2.4 0.8-2.1 0.7-1.4 0.8-1.9 0.8-7.2 0.7-13.4 0.8-7.8 0.8-3.4 0.7-2.5 0.8-0.7 0.7 0.6 0.8 2 0.8 2.9 0.7 5.3 0.8 10.3 0.7 10.9 0.8 8.9 0.8 6.3 0.7 3 0.8 2.2 0.7 1.6 0.8 1.3 0.8 1.3 0.7 1.5 0.8 1.6 0.7 1.6 0.8 1.3 0.8 1.4 0.7 1.6 0.8 1.8 0.7 2.2 0.8 2.1 0.8 1.7 0.7 0.9 0.8 1.1 0.7 0.7 0.8 0.9 0.8 1.6 0.7 2.6 0.8 3.9 0.7 4.6 0.8 4.4 0.8 4.5 0.7 4.2 0.8 4.1 0.7 3.3 0.8 1.6 0.8 0.6 0.7 0.7 0.8 0.4 0.8 0.5 0.7 0.3 0.8-0.1 0.7 0.7 0.8 0.3 0.8 1 0.7 0.7 0.8 1 0.7 0.9 0.8 1.4 0.8 1.2 0.7 0.9 0.8 1.6 0.7 1.6 0.8 1.9 0.8 1.9 0.7 2.4 0.8 1.8 0.7 2.1 0.8 1.9 0.8 1.6 0.7 1.5 0.8 1 0.7 0.8 0.8 0.4 0.8 0.5 0.7 0.5 0.8 0.3 0.7 0.4 0.8 0.3 0.8 0.4 0.7 0.2 0.8 0.3 0.7 0.2 0.8 0.3 0.8 0.3 0.7 0.5 0.8 0.2 0.8 0.4 0.7 0.5 0.8 0.4 0.7 0.3 0.8 0.3 0.8 0.6 0.7 0.4 0.8 0.2 0.7 0.5 0.8 0.2 0.8 0.4 0.7 0.5 0.8 0.3 0.7 0.4 0.8 0.2 0.8 0.7 0.7 0 0.8 0.2 0.7 0.4 0.8 0 0.8 0.2 0.7 0 0.8 0.1 0.7 0.1 0.8-0.1 0.8 0.2 0.7 0 0.8 0 0.7 0.1 0.8 0.1 0.8-0.1 0.7 0 0.8 0.2 0.7-0.2 0.8 0.1 0.8 0.1 0.7-0.1 0.8 0.2 0.7 0 0.8 0.1 0.8-0.2 0.7 0.1 0.8 0.1 0.8-0.2 0.7 0.5 0.8-0.3 0.7 0 0.8 0.2 0.8-0.1 0.7-0.1 0.8 0.3 0.7 0 0.8-0.1 0.8 0.1 0.7 0.1 0.8-0.1 0.7 0.1 0.8 0.1 0.8-0.1 0.7 0 0.8 0.1 0.7 0 0.8 0.2 0.8 0 0.7 0.1 0.8-0.1 0.7 0.1 0.8-0.1 0.8 0.2 0.7 0.1 0.8-0.1" stroke="#ff0000"/>
<path d="M88 747.4l0.8 0.4 0.7 0.3 0.8 0.1 0.7 0.2 0.8 0.2 0.8 0.2 0.7 0.1 0.8 0.1 0.7-0.1 0.8 0.3 0.8-0.2 0.7 0 0.8-0.2 0.7-0.3 0.8-0.2 0.8-0.4 0.7-0.4 0.8-0.3 0.7-0.2 0.8-0.3 0.8-0.2 0.7 0.1 0.8 0.1 0.8 0.2 0.7 0.6 0.8 0.5 0.7 0.5 0.8 0.6 0.8 0.6 0.7 0.5 0.8 0.3 0.7 0.1 0.8 0.1 0.8-0.3 0.7-0.7 0.8-0.6 0.7-0.7 0.8-0.9 0.8-0.8 0.7-0.5 0.8-0.4 0.7-0.2 0.8-0.4 0.8-0.1 0.7-0.2 0.8-0.2 0.7 0 0.8-0.1 0.8-0.2 0.7 0.1 0.8-0.2 0.7-0.2 0.8-0.1 0.8-0.2 0.7-0.3 0.8-0.1 0.7-0.3 0.8-0.6 0.8-0.3 0.7-0.5 0.8-0.5 0.7-0.7 0.8-0.5 0.8-0.4 0.7-0.6 0.8-0.3 0.8-0.5 0.7-0.3 0.8-0.5 0.7-0.3 0.8-0.4 0.8-0.5 0.7-0.3 0.8-0.2 0.7-0.3 0.8-0.5 0.8-0.1 0.7-0.2 0.8-0.2 0.7-0.3 0.8 0.1 0.8-0.4 0.7-0.1 0.8-0.2 0.7-0.6 0.8-0.3 0.8-0.8 0.7-0.8 0.8-1 0.7-1.2 0.8-1.7 0.8-1.8 0.7-2.3 0.8-2.5 0.7-2.8 0.8-2.5 0.8-2 0.7-1.7 0.8-1.5 0.7-1.5 0.8-1.2 0.8-1.1 0.7-0.9 0.8-0.7 0.8-0.6 0.7-0.4 0.8-0.4 0.7-0.6 0.8-0.7 0.8-0.6 0.7-1 0.8-0.9 0.7-1.4 0.8-1.7 0.8-2 0.7-2.7 0.8-5.5 0.7-6.2 0.8-4.4 0.8-3.7 0.7-3.6 0.8-2.9 0.7-2.6 0.8-2.3 0.8-2 0.7-2 0.8-1.7 0.7-1.7 0.8-1.5 0.8-1.6 0.7-1.4 0.8-1.3 0.7-1.5 0.8-1.3 0.8-1.4 0.7-1.5 0.8-1.9 0.7-2.2 0.8-2.9 0.8-3 0.7-2.7 0.8-2 0.7-1.4 0.8-1.8 0.8-7.2 0.7-13.6 0.8-8 0.8-3.5 0.7-2.2 0.8-0.9 0.7 0.9 0.8 2 0.8 3 0.7 5.4 0.8 10.7 0.7 11.1 0.8 8.7 0.8 6.2 0.7 2.6 0.8 2.2 0.7 1.7 0.8 1.4 0.8 1.3 0.7 1.5 0.8 1.5 0.7 1.4 0.8 1.5 0.8 1.4 0.7 1.7 0.8 1.7 0.7 2.3 0.8 2.2 0.8 1.6 0.7 1.1 0.8 0.8 0.7 0.8 0.8 1 0.8 1.4 0.7 2.6 0.8 4 0.7 4.8 0.8 4.5 0.8 4.2 0.7 4.3 0.8 4.1 0.7 3.2 0.8 1.5 0.8 0.8 0.7 0.5 0.8 0.4 0.8 0.3 0.7 0.5 0.8 0.3 0.7 0.3 0.8 0.6 0.8 0.5 0.7 1.1 0.8 0.7 0.7 1.2 0.8 1.1 0.8 1 0.7 1.4 0.8 1.5 0.7 1.6 0.8 1.8 0.8 2.1 0.7 2 0.8 2 0.7 2 0.8 1.9 0.8 1.5 0.7 1.5 0.8 1 0.7 0.6 0.8 0.7 0.8 0.5 0.7 0.4 0.8 0.2 0.7 0.4 0.8 0.2 0.8 0.3 0.7 0.3 0.8 0.1 0.7 0.4 0.8 0.2 0.8 0.4 0.7 0.3 0.8 0.4 0.8 0.4 0.7 0.6 0.8 0.5 0.7 0.3 0.8 0.5 0.8 0.3 0.7 0.3 0.8 0.6 0.7 0.4 0.8 0.3 0.8 0.4 0.7 0.4 0.8 0.3 0.7 0.3 0.8 0.5 0.8 0.4 0.7 0.3 0.8 0.3 0.7 0.3 0.8 0 0.8 0.2 0.7 0.1 0.8 0.1 0.7 0.1 0.8 0 0.8 0.1 0.7 0.2 0.8 0 0.7-0.1 0.8 0.1 0.8 0.1 0.7 0 0.8 0 0.7 0.2 0.8-0.2 0.8 0.1 0.7 0 0.8 0 0.7 0.2 0.8 0 0.8-0.1 0.7 0.2 0.8-0.1 0.8 0 0.7 0.1 0.8 0.2 0.7 0 0.8 0.1 0.8 0.1 0.7 0.1 0.8 0 0.7 0.3 0.8 0 0.8 0.3 0.7 0.5 0.8 0.4 0.7 0.6 0.8 0.6 0.8 0 0.7 0 0.8 0 0.7 0 0.8 0 0.8-0.1 0.7 0 0.8-0.2 0.7 0.2 0.8-0.3 0.8-0.2 0.7 0 0.8-0.2" stroke="#1e88ff"/>
</g>
<path d="M88.2 773.4v-9.5M230 773.4v-9.5M159.1 773.4v-5M301 773.4v-5M88.2 545.6h9.5M88.2 595.9h9.5M88.2 646.2h9.5M88.2 696.5h9.5M88.2 746.7h9.5M88.2 570.7h5M88.2 621h5M88.2 671.3h5M88.2 721.6h5M88.2 771.9h5" stroke="#000" stroke-width="2.2" fill="none"/>
<rect x="88.2" y="545.6" width="227.8" height="227.8" fill="none" stroke="#000" stroke-width="2.2"/>
<text x="88.2" y="802.4" font-size="22.6" font-weight="bold" text-anchor="middle">1548.0</text>
<text x="230" y="802.4" font-size="22.6" font-weight="bold" text-anchor="middle">1548.5</text>
<text x="75.7" y="553.2" font-size="22.6" font-weight="bold" text-anchor="end">20</text>
<text x="75.7" y="603.5" font-size="22.6" font-weight="bold" text-anchor="end">0</text>
<text x="75.7" y="653.8" font-size="22.6" font-weight="bold" text-anchor="end">−20</text>
<text x="75.7" y="704.1" font-size="22.6" font-weight="bold" text-anchor="end">−40</text>
<text x="75.7" y="754.3" font-size="22.6" font-weight="bold" text-anchor="end">−60</text>
<path d="M200.2 557.1H248.2" stroke="#ff0000" stroke-width="3" stroke-linecap="round"/>
<text x="253.2" y="564.3" font-size="20.3">Input</text>
<path d="M200.2 582.1H248.2" stroke="#1e88ff" stroke-width="3" stroke-linecap="round"/>
<text x="253.2" y="589.3" font-size="20.3">Output</text>
<text x="101.7" y="572.8" font-size="26.5" font-weight="bold">c1</text>
<text x="202.1" y="845.5" font-size="33.5" text-anchor="middle">Wavelength (nm)</text>
<g clip-path="url(#cld1)" fill="none" stroke-width="2.6" stroke-linejoin="round">
<path d="M772.2 746.3l0.8-0.5 0.7 0.3 0.8-0.2 0.7 0 0.8 0 0.8-0.2 0.7 0.1 0.8-0.1 0.7 0.4 0.8-0.3 0.8-0.1 0.7 0 0.8-0.1 0.7-0.1 0.8 0.1 0.8 0 0.7-0.1 0.8 0.1 0.7-0.1 0.8 0 0.8 0.1 0.7-0.1 0.8-0.1 0.8 0 0.7 0 0.8 0.1 0.7-0.2 0.8 0 0.8 0.1 0.7-0.2 0.8 0 0.7 0.1 0.8 0 0.8-0.1 0.7 0 0.8-0.3 0.7 0.3 0.8-0.2 0.8-0.1 0.7 0.2 0.8 0 0.7-0.2 0.8-0.1 0.8 0.1 0.7-0.1 0.8 0.1 0.7-0.1 0.8-0.2 0.8 0 0.7-0.3 0.8-0.2 0.7 0 0.8-0.2 0.8-0.2 0.7-0.3 0.8 0 0.7-0.6 0.8 0 0.8-0.4 0.7-0.7 0.8-0.4 0.7-0.6 0.8-0.3 0.8-0.7 0.7-0.4 0.8-0.2 0.8-0.4 0.7-0.7 0.8-0.2 0.7-0.3 0.8-0.5 0.8-0.1 0.7-0.6 0.8-0.2 0.7-0.5 0.8 0 0.8-0.4 0.7-0.2 0.8-0.3 0.7 0.1 0.8-0.2 0.8-0.2 0.7-0.2 0.8-0.4 0.7-0.5 0.8-0.5 0.8-0.7 0.7-0.8 0.8-1.5 0.7-1.2 0.8-1.4 0.8-1.9 0.7-2.4 0.8-2.8 0.7-2.6 0.8-2.3 0.8-1.9 0.7-1.6 0.8-1.6 0.7-1.4 0.8-1.1 0.8-1.1 0.7-0.7 0.8-0.9 0.8-0.4 0.7-0.6 0.8-0.4 0.7-0.5 0.8-0.4 0.8-0.9 0.7-1 0.8-1.4 0.7-1.2 0.8-1.7 0.8-1.9 0.7-3.3 0.8-5.2 0.7-6 0.8-4.6 0.8-3.8 0.7-3.5 0.8-2.8 0.7-2.4 0.8-2.1 0.8-2.2 0.7-1.7 0.8-1.8 0.7-1.4 0.8-1.6 0.8-1.4 0.7-1.7 0.8-1.4 0.7-1.5 0.8-1.1 0.8-1.5 0.7-1.7 0.8-1.8 0.7-2.2 0.8-2.9 0.8-3 0.7-2.5 0.8-1.8 0.7-1.6 0.8-2 0.8-7.1 0.7-13.5 0.8-7.7 0.8-3.3 0.7-2.4 0.8-0.9 0.7 0.7 0.8 2 0.8 2.7 0.7 5.4 0.8 10.2 0.7 11.1 0.8 8.7 0.8 6.6 0.7 2.8 0.8 2.2 0.7 1.5 0.8 1.4 0.8 1.4 0.7 1.4 0.8 1.7 0.7 1.1 0.8 1.7 0.8 1.4 0.7 1.6 0.8 1.9 0.7 2.2 0.8 2.2 0.8 1.5 0.7 1.2 0.8 0.7 0.7 0.8 0.8 1.1 0.8 1.3 0.7 2.7 0.8 3.9 0.7 4.8 0.8 4.3 0.8 4 0.7 4.6 0.8 4.3 0.7 3.1 0.8 1.6 0.8 0.7 0.7 0.7 0.8 0.2 0.8 0.5 0.7 0.2 0.8 0.3 0.7 0.4 0.8 0.5 0.8 0.8 0.7 0.9 0.8 0.8 0.7 1.1 0.8 1.2 0.8 1.1 0.7 1.2 0.8 1.4 0.7 1.6 0.8 2.1 0.8 1.8 0.7 2.3 0.8 2 0.7 2.1 0.8 1.8 0.8 1.6 0.7 1.5 0.8 1 0.7 0.8 0.8 0.5 0.8 0.5 0.7 0.4 0.8 0.3 0.7 0.4 0.8 0.1 0.8 0.5 0.7 0.2 0.8 0.5 0.7 0.3 0.8 0 0.8 0.5 0.7 0.3 0.8 0.3 0.8 0.5 0.7 0.3 0.8 0.3 0.7 0.6 0.8 0.4 0.8 0.4 0.7 0.2 0.8 0.6 0.7 0.3 0.8 0.2 0.8 0.4 0.7 0.4 0.8 0.4 0.7 0.6 0.8 0.2 0.8 0.2 0.7 0.3 0.8 0.3 0.7 0.5 0.8-0.1 0.8 0.1 0.7 0.1 0.8 0 0.7 0.3 0.8-0.3 0.8 0.2 0.7 0 0.8 0.1 0.7-0.1 0.8 0.3 0.8-0.1 0.7 0 0.8-0.1 0.7 0.1 0.8 0.1 0.8 0.1 0.7 0 0.8 0.1 0.7 0 0.8-0.1 0.8 0.1 0.7 0 0.8 0 0.8 0.1 0.7 0.1 0.8-0.1 0.7-0.1 0.8 0.2 0.8 0.1 0.7-0.2 0.8 0.1 0.7 0 0.8 0.2 0.8-0.3 0.7 0.3 0.8 0.1 0.7-0.2 0.8 0.3 0.8-0.1 0.7 0 0.8 0.1 0.7-0.2 0.8 0.2 0.8 0.2 0.7-0.2 0.8 0.3 0.7-0.1 0.8 0.1 0.8-0.1 0.7-0.1 0.8 0.2" stroke="#ff0000"/>
<path d="M772.2 722.6l0.8-0.4 0.7 0.3 0.8 0 0.7 0.1 0.8-0.1 0.8 0.1 0.7-0.1 0.8-0.1 0.7 0.1 0.8 0 0.8-0.1 0.7 0 0.8 0.1 0.7 0 0.8-0.1 0.8 0 0.7-0.1 0.8 0.2 0.7-0.1 0.8 0.1 0.8-0.1 0.7 0.1 0.8 0 0.8-0.1 0.7 0.1 0.8-0.3 0.7 0.2 0.8-0.2 0.8 0.1 0.7 0.1 0.8-0.1 0.7-0.1 0.8 0 0.8 0 0.7 0.1 0.8 0 0.7-0.1 0.8-0.1 0.8 0.1 0.7-0.1 0.8 0 0.7 0 0.8 0.1 0.8-0.1 0.7 0 0.8 0 0.7-0.1 0.8 0.1 0.8 0 0.7-0.1 0.8 0 0.7 0 0.8 0 0.8 0 0.7-0.1 0.8 0 0.7 0 0.8-0.2 0.8 0 0.7 0 0.8 0 0.7-0.1 0.8-0.1 0.8 0.1 0.7 0 0.8-0.1 0.8-0.3 0.7 0.1 0.8-0.1 0.7-0.1 0.8 0 0.8 0.1 0.7-0.2 0.8-0.1 0.7 0 0.8-0.2 0.8-0.1 0.7-0.2 0.8-0.1 0.7-0.1 0.8-0.4 0.8-0.2 0.7 0 0.8-0.3 0.7-0.6 0.8-0.6 0.8-0.6 0.7-0.9 0.8-0.9 0.7-1.1 0.8-1.7 0.8-1.7 0.7-1.9 0.8-1.8 0.7-2.1 0.8-2.4 0.8-2.2 0.7-2.2 0.8-2.1 0.7-2.2 0.8-2.4 0.8-2.4 0.7-1.8 0.8-1.7 0.8-1.6 0.7-1.3 0.8-1.4 0.7-0.3 0.8 0.1 0.8 0.3 0.7 0.3 0.8 0.7 0.7 1.5 0.8 1.8 0.8 1.6 0.7 2 0.8 1 0.7-0.9 0.8-2.6 0.8-2.7 0.7-2.7 0.8-2.9 0.7-3.5 0.8-3.4 0.8-3.7 0.7-3.6 0.8-3.4 0.7-3.3 0.8-2.9 0.8-2.3 0.7-1.3 0.8-1.5 0.7-1.4 0.8-1.6 0.8-1.7 0.7-1.7 0.8-2 0.7-2.1 0.8-2.4 0.8-2.3 0.7-2.6 0.8-3.6 0.7-4.3 0.8-6.7 0.8-7.6 0.7-9.7 0.8-6.3 0.8-3.3 0.7-2.3 0.8-1 0.7 0.8 0.8 2.4 0.8 3.2 0.7 4.3 0.8 7.1 0.7 9.3 0.8 15.5 0.8 6.9 0.7 2.3 0.8 1.1 0.7 0.8 0.8 1.2 0.8 1.3 0.7 1.3 0.8 1.2 0.7 0.9 0.8 1.6 0.8 1.5 0.7 2.4 0.8 2.3 0.7 1.8 0.8 0.7 0.8 0.3 0.7 0.1 0.8 0.2 0.7 0.3 0.8 0.3 0.8 1 0.7 1.5 0.8 1.7 0.7 1.7 0.8 0.9 0.8-0.4 0.7-1.8 0.8-2.3 0.7-2.4 0.8-1.5 0.8-1.2 0.7-0.8 0.8-0.6 0.8-0.4 0.7 0 0.8 0.6 0.7 0.9 0.8 0.9 0.8 1.8 0.7 2.6 0.8 2.9 0.7 2.8 0.8 2.9 0.8 3.1 0.7 3.2 0.8 3.2 0.7 2.9 0.8 2.7 0.8 2.8 0.7 2.6 0.8 2.6 0.7 1.6 0.8 1.8 0.8 1.2 0.7 1.2 0.8 1 0.7 1 0.8 0.9 0.8 0.8 0.7 1 0.8 0.9 0.7 1.3 0.8 1.1 0.8 1.4 0.7 1.4 0.8 1.3 0.7 1.3 0.8 0.7 0.8 1.1 0.7 0.9 0.8 0.3 0.8 0.4 0.7 0.5 0.8 0.2 0.7 0.1 0.8 0.3 0.8 0.2 0.7 0.2 0.8 0.2 0.7 0.2 0.8 0.2 0.8 0.4 0.7 0.3 0.8 0.5 0.7 0.3 0.8 0.3 0.8 0.5 0.7 0.3 0.8 0.2 0.7 0.3 0.8 0.1 0.8 0.1 0.7 0.1 0.8 0.1 0.7 0.1 0.8-0.2 0.8 0.3 0.7-0.1 0.8 0.2 0.7 0.1 0.8 0 0.8 0.1 0.7 0 0.8-0.2 0.7 0.2 0.8 0.2 0.8 0.1 0.7-0.1 0.8-0.1 0.7 0.3 0.8-0.3 0.8 0.3 0.7 0 0.8 0 0.8 0 0.7 0.1 0.8 0.1 0.7-0.1 0.8 0 0.8 0.2 0.7 0 0.8 0 0.7 0 0.8 0.2 0.8-0.1 0.7 0 0.8 0.1 0.7 0 0.8 0.1 0.8-0.1 0.7 0.1 0.8 0.1 0.7 0.1 0.8 0 0.8 0 0.7 0.1 0.8 0 0.7 0.1 0.8-0.1 0.8 0 0.7 0.1 0.8-0.2" stroke="#1e88ff"/>
</g>
<path d="M772.4 773.4v-9.5M914.2 773.4v-9.5M843.3 773.4v-5M985.2 773.4v-5M772.4 545.6h9.5M772.4 595.9h9.5M772.4 646.2h9.5M772.4 696.5h9.5M772.4 746.7h9.5M772.4 570.7h5M772.4 621h5M772.4 671.3h5M772.4 721.6h5M772.4 771.9h5" stroke="#000" stroke-width="2.2" fill="none"/>
<rect x="772.4" y="545.6" width="227.8" height="227.8" fill="none" stroke="#000" stroke-width="2.2"/>
<text x="772.4" y="802.4" font-size="22.6" font-weight="bold" text-anchor="middle">1548.0</text>
<text x="914.2" y="802.4" font-size="22.6" font-weight="bold" text-anchor="middle">1548.5</text>
<text x="759.9" y="553.2" font-size="22.6" font-weight="bold" text-anchor="end">20</text>
<text x="759.9" y="603.5" font-size="22.6" font-weight="bold" text-anchor="end">0</text>
<text x="759.9" y="653.8" font-size="22.6" font-weight="bold" text-anchor="end">−20</text>
<text x="759.9" y="704.1" font-size="22.6" font-weight="bold" text-anchor="end">−40</text>
<text x="759.9" y="754.3" font-size="22.6" font-weight="bold" text-anchor="end">−60</text>
<path d="M884.4 557.1H932.4" stroke="#ff0000" stroke-width="3" stroke-linecap="round"/>
<text x="937.4" y="564.3" font-size="20.3">Input</text>
<path d="M884.4 582.1H932.4" stroke="#1e88ff" stroke-width="3" stroke-linecap="round"/>
<text x="937.4" y="589.3" font-size="20.3">Output</text>
<text x="785.9" y="572.8" font-size="26.5" font-weight="bold">d1</text>
<text x="886.3" y="849.3" font-size="33.5" text-anchor="middle">Wavelength (nm)</text>
<g clip-path="url(#cle1)" fill="none" stroke-width="2.6" stroke-linejoin="round">
<path d="M1456.8 746l0.8-0.1 0.7 0.1 0.8 0 0.7 0.1 0.8-0.2 0.8-0.1 0.7 0 0.8 0.1 0.7 0.1 0.8-0.2 0.8-0.2 0.7 0 0.8 0.2 0.7-0.1 0.8-0.3 0.8 0.2 0.7-0.2 0.8 0.1 0.7 0 0.8-0.1 0.8 0.1 0.7-0.1 0.8-0.1 0.8 0.1 0.7 0 0.8-0.2 0.7 0.1 0.8-0.1 0.8 0.1 0.7-0.2 0.8 0.2 0.7-0.1 0.8 0 0.8-0.1 0.7 0 0.8 0 0.7-0.1 0.8 0.1 0.8-0.1 0.7 0.2 0.8-0.1 0.7-0.3 0.8 0.2 0.8-0.2 0.7 0 0.8 0 0.7-0.3 0.8 0.1 0.8-0.2 0.7 0 0.8-0.3 0.7 0 0.8-0.3 0.8-0.1 0.7-0.3 0.8 0.1 0.7-0.4 0.8-0.1 0.8-0.6 0.7-0.5 0.8-0.5 0.7-0.6 0.8-0.5 0.8-0.3 0.7-0.6 0.8-0.3 0.8-0.5 0.7-0.3 0.8-0.5 0.7-0.3 0.8-0.4 0.8-0.4 0.7-0.4 0.8-0.2 0.7-0.5 0.8-0.3 0.8-0.2 0.7 0 0.8-0.3 0.7-0.2 0.8-0.2 0.8-0.1 0.7-0.4 0.8-0.3 0.7-0.1 0.8-0.7 0.8-0.7 0.7-1 0.8-1.2 0.7-1.3 0.8-1.3 0.8-2.1 0.7-2.4 0.8-2.7 0.7-2.5 0.8-2.4 0.8-2 0.7-1.7 0.8-1.4 0.7-1.4 0.8-1.2 0.8-1 0.7-0.9 0.8-0.6 0.8-0.4 0.7-0.6 0.8-0.7 0.7-0.2 0.8-0.8 0.8-0.9 0.7-0.7 0.8-1.2 0.7-1.4 0.8-1.7 0.8-2.1 0.7-2.8 0.8-5.5 0.7-6.1 0.8-4.3 0.8-3.7 0.7-3.8 0.8-2.8 0.7-2.5 0.8-2.3 0.8-1.9 0.7-1.8 0.8-1.6 0.7-1.7 0.8-1.5 0.8-1.3 0.7-1.5 0.8-1.5 0.7-1.4 0.8-1.4 0.8-1.3 0.7-1.7 0.8-1.8 0.7-2.2 0.8-3 0.8-2.9 0.7-2.6 0.8-2 0.7-1.2 0.8-2.1 0.8-7.3 0.7-13.1 0.8-7.9 0.8-3.6 0.7-2.1 0.8-1.1 0.7 0.6 0.8 2.1 0.8 2.9 0.7 5.5 0.8 9.9 0.7 11.2 0.8 8.7 0.8 6.6 0.7 2.8 0.8 2.2 0.7 1.7 0.8 1.3 0.8 1.1 0.7 1.5 0.8 1.7 0.7 1.3 0.8 1.5 0.8 1.3 0.7 2 0.8 1.7 0.7 2 0.8 2.3 0.8 1.7 0.7 0.7 0.8 1.1 0.7 0.8 0.8 1.1 0.8 1.3 0.7 2.5 0.8 4 0.7 4.9 0.8 4.5 0.8 3.8 0.7 4.4 0.8 4.7 0.7 2.8 0.8 1.6 0.8 0.8 0.7 0.6 0.8 0.5 0.8 0.3 0.7 0.2 0.8 0.4 0.7 0.4 0.8 0.7 0.8 0.5 0.7 0.7 0.8 0.9 0.7 1.3 0.8 0.9 0.8 1 0.7 1.4 0.8 1.5 0.7 1.8 0.8 1.7 0.8 2.2 0.7 2.1 0.8 1.9 0.7 2.1 0.8 2.1 0.8 1.6 0.7 1.4 0.8 1 0.7 0.8 0.8 0.4 0.8 0.5 0.7 0.3 0.8 0.5 0.7 0.3 0.8 0.6 0.8 0 0.7 0.4 0.8 0.3 0.7 0.1 0.8 0.5 0.8 0 0.7 0.5 0.8 0.5 0.8 0.1 0.7 0.5 0.8 0.6 0.7 0.3 0.8 0.3 0.8 0.4 0.7 0.4 0.8 0.5 0.7 0.3 0.8 0.3 0.8 0.3 0.7 0.4 0.8 0.6 0.7 0.2 0.8 0.4 0.8 0.3 0.7 0.2 0.8 0.3 0.7 0.3 0.8 0.1 0.8 0 0.7 0 0.8 0.2 0.7 0 0.8 0.1 0.8 0 0.7 0.1 0.8 0.1 0.7 0.1 0.8 0 0.8 0.1 0.7 0 0.8-0.1 0.7 0.1 0.8 0 0.8 0 0.7 0.1 0.8 0.1 0.7-0.2 0.8-0.1 0.8 0.4 0.7-0.1 0.8 0.1 0.8-0.2 0.7 0.3 0.8-0.1 0.7 0 0.8 0 0.8 0 0.7 0 0.8 0.1 0.7-0.1 0.8 0.3 0.8-0.1 0.7 0 0.8 0.1 0.7-0.2 0.8 0.3 0.8-0.1 0.7 0.1 0.8 0.1 0.7-0.1 0.8 0.2 0.8-0.1 0.7 0 0.8 0 0.7 0.2 0.8 0.1 0.8-0.1 0.7-0.1 0.8 0.3" stroke="#ff0000"/>
<path d="M1456.8 716.9l0.8 0.1 0.7 0.1 0.8-0.1 0.7 0.1 0.8 0 0.8-0.2 0.7 0.2 0.8-0.2 0.7 0.3 0.8-0.2 0.8-0.1 0.7 0.1 0.8 0 0.7 0 0.8 0 0.8 0 0.7 0 0.8 0 0.7-0.1 0.8-0.1 0.8-0.1 0.7 0.2 0.8 0 0.8 0 0.7-0.1 0.8 0 0.7-0.1 0.8 0 0.8-0.1 0.7 0.2 0.8-0.1 0.7 0 0.8 0 0.8 0 0.7-0.1 0.8 0.2 0.7-0.1 0.8 0 0.8-0.1 0.7-0.1 0.8 0 0.7 0.1 0.8 0 0.8-0.1 0.7 0.2 0.8-0.2 0.7 0.1 0.8-0.1 0.8-0.1 0.7 0.1 0.8 0 0.7-0.2 0.8 0.2 0.8 0 0.7-0.1 0.8 0 0.7-0.2 0.8 0.1 0.8-0.1 0.7 0.1 0.8-0.1 0.7 0.1 0.8-0.1 0.8-0.1 0.7 0.1 0.8 0 0.8-0.1 0.7-0.2 0.8 0 0.7 0 0.8-0.1 0.8 0 0.7-0.1 0.8 0.1 0.7-0.1 0.8-0.1 0.8-0.2 0.7 0 0.8-0.1 0.7-0.2 0.8 0.1 0.8-0.3 0.7-0.2 0.8 0 0.7-0.1 0.8-0.3 0.8-0.4 0.7-0.3 0.8-0.7 0.7-0.3 0.8-0.5 0.8-0.8 0.7-0.7 0.8-1.1 0.7-0.9 0.8-0.9 0.8-1.3 0.7-1 0.8-1.3 0.7-1.5 0.8-1.5 0.8-1.7 0.7-2.1 0.8-2.3 0.8-2.7 0.7-3.1 0.8-3.8 0.7-4.1 0.8-2.7 0.8-2 0.7-1.7 0.8-0.8 0.7 0 0.8 0.3 0.8 0.4 0.7 0.3 0.8-0.1 0.7-1.6 0.8-2.8 0.8-3 0.7-2.5 0.8-1.9 0.7-2.2 0.8-1.8 0.8-1.7 0.7-1.6 0.8-1.5 0.7-1.6 0.8-1.5 0.8-1.5 0.7-1.4 0.8-1.5 0.7-1.6 0.8-1.6 0.8-1.4 0.7-1.2 0.8-1.6 0.7-1.7 0.8-2.1 0.8-2.9 0.7-3 0.8-3.5 0.7-4.3 0.8-5.7 0.8-6.3 0.7-8.1 0.8-7.7 0.8-4 0.7-2.5 0.8 0.2 0.7 1.8 0.8 3 0.8 3.8 0.7 6.2 0.8 6.7 0.7 7.8 0.8 8.2 0.8 5.8 0.7 4.2 0.8 3.2 0.7 2.5 0.8 1.6 0.8 1.1 0.7 1 0.8 1 0.7 1.1 0.8 1.8 0.8 1.7 0.7 2 0.8 1.7 0.7 1.1 0.8 0.2 0.8-0.1 0.7-0.4 0.8-0.2 0.7-0.1 0.8 0.3 0.8 0.2 0.7 0.4 0.8 0.3 0.7-0.4 0.8-1.3 0.8-1.7 0.7-1.8 0.8-1.4 0.7-1.2 0.8-1.2 0.8-0.4 0.7 0.7 0.8 1.6 0.8 1.8 0.7 1.9 0.8 2.8 0.7 2.9 0.8 3 0.8 2.7 0.7 3.2 0.8 3.1 0.7 2.9 0.8 3.1 0.8 3 0.7 2.8 0.8 2.8 0.7 2.1 0.8 1.4 0.8 1.1 0.7 1.2 0.8 1.1 0.7 0.8 0.8 1 0.8 0.9 0.7 1.1 0.8 1.1 0.7 0.8 0.8 1.2 0.8 1 0.7 0.9 0.8 0.9 0.7 1.1 0.8 0.9 0.8 0.8 0.7 1 0.8 0.9 0.7 0.8 0.8 0.6 0.8 0.6 0.7 0.7 0.8 0.5 0.8 0.3 0.7 0.6 0.8 0.4 0.7 0.3 0.8 0.3 0.8 0.6 0.7 0.6 0.8 0.3 0.7 0.6 0.8 0.5 0.8 0.5 0.7 0.3 0.8 0.3 0.7 0.1 0.8 0.2 0.8 0.2 0.7 0.2 0.8 0 0.7 0.1 0.8 0.3 0.8 0 0.7 0 0.8 0 0.7 0.2 0.8 0.1 0.8 0.1 0.7 0 0.8-0.2 0.7 0.2 0.8 0 0.8 0 0.7 0.3 0.8-0.2 0.7 0.1 0.8 0 0.8 0.1 0.7 0 0.8 0 0.7 0 0.8 0 0.8 0 0.7 0.1 0.8 0 0.8 0 0.7 0 0.8-0.1 0.7 0.2 0.8 0 0.8 0.2 0.7-0.2 0.8 0 0.7-0.1 0.8 0.1 0.8 0.1 0.7 0 0.8-0.1 0.7 0.1 0.8 0.1 0.8 0 0.7 0 0.8 0 0.7-0.1 0.8 0 0.8 0.1 0.7 0.1 0.8 0 0.7-0.1 0.8 0.1 0.8 0 0.7 0 0.8-0.1" stroke="#1e88ff"/>
</g>
<path d="M1457 773.4v-9.5M1598.8 773.4v-9.5M1527.9 773.4v-5M1669.8 773.4v-5M1457 545.6h9.5M1457 595.9h9.5M1457 646.2h9.5M1457 696.5h9.5M1457 746.7h9.5M1457 570.7h5M1457 621h5M1457 671.3h5M1457 721.6h5M1457 771.9h5" stroke="#000" stroke-width="2.2" fill="none"/>
<rect x="1457" y="545.6" width="227.8" height="227.8" fill="none" stroke="#000" stroke-width="2.2"/>
<text x="1457" y="802.4" font-size="22.6" font-weight="bold" text-anchor="middle">1548.0</text>
<text x="1598.8" y="802.4" font-size="22.6" font-weight="bold" text-anchor="middle">1548.5</text>
<text x="1444.5" y="553.2" font-size="22.6" font-weight="bold" text-anchor="end">20</text>
<text x="1444.5" y="603.5" font-size="22.6" font-weight="bold" text-anchor="end">0</text>
<text x="1444.5" y="653.8" font-size="22.6" font-weight="bold" text-anchor="end">−20</text>
<text x="1444.5" y="704.1" font-size="22.6" font-weight="bold" text-anchor="end">−40</text>
<text x="1444.5" y="754.3" font-size="22.6" font-weight="bold" text-anchor="end">−60</text>
<path d="M1569 557.1H1617" stroke="#ff0000" stroke-width="3" stroke-linecap="round"/>
<text x="1622" y="564.3" font-size="20.3">Input</text>
<path d="M1569 582.1H1617" stroke="#1e88ff" stroke-width="3" stroke-linecap="round"/>
<text x="1622" y="589.3" font-size="20.3">Output</text>
<text x="1470.5" y="572.8" font-size="26.5" font-weight="bold">e1</text>
<text x="1570.9" y="850.5" font-size="33.5" text-anchor="middle">Wavelength (nm)</text>
<g clip-path="url(#clc2)" fill="none" stroke-linejoin="bevel">
<path d="M413.3 734.4l0.6-0.5 0.5 0.1 0.6-1.4 0.5 0.8 0.6-0.5 0.5-1 0.6 0 0.5 0.6 0.6 1.3 0.5 0.4 0.6 0.1 0.5-0.6 0.6-0.4 0.5 1.3 0.6 0.3 0.5-2 0.6 3 0.5-2.3 0.6-0.8 0.5 2 0.6 0.2 0.5-0.4 0.6-2 0.5 1.1 0.6 2.5 0.5-2 0.6-2 0.5 0.1 0.6 0.5 0.5 1.1 0.6 2.2 0.5-2.8 0.6 0.5 0.5-0.4 0.6-2.1 0.5 1.9 0.6-0.2 0.5-0.5 0.6 1.2 0.6 0.6 0.5 0 0.6-2.1 0.5 0.3 0.6 1.4 0.5-2.3 0.6 1.3 0.5 2.1 0.6-2.7 0.5 1 0.6 1.6 0.5-2.6 0.6 1.2 0.5 0 0.6-1.4 0.5 3.9 0.6-1.3 0.5-1 0.6-0.8 0.5 1.4 0.6 0.6 0.5 0.2 0.6-1.2 0.5-0.9 0.6 3.1 0.5 1 0.6-2.4 0.5 0.3 0.6 0.9 0.5-2 0.6-0.1 0.5 2 0.6-0.2 0.5-1.1 0.6 1.5 0.5 1.9 0.6-1.4 0.6 1.6 0.5-1.2 0.6 1.6 0.5 0.1 0.6-0.5 0.5 1.4 0.6 0.7 0.5 0.1 0.6-4.1 0.5 0.5 0.6 3.3 0.5-1 0.6-2.6 0.5 1.3 0.6-1.2 0.5-1.5 0.6 0.6 0.5 0.1 0.6 0.1 0.5-0.9 0.6-1 0.5-2.2 0.6 0.9 0.5 1.7 0.6-1.7 0.5 1.1 0.6 2.1 0.5-2 0.6-1.6 0.5 2.2 0.6-2.3 0.5 1.7 0.6-0.6 0.5 1.7 0.6-4.7 0.5 2.2 0.6-0.8 0.5 1.9 0.6 1.4 0.6-3.9 0.5 2.6 0.6-3.3 0.5 2.4 0.6-2.5 0.5 3.2 0.6 1.3 0.5-3.5 0.6 1 0.5-0.2 0.6-1.5 0.5 2.6 0.6 0.5 0.5-0.3 0.6 0.7 0.5 0.1 0.6-0.8 0.5-0.5 0.6-0.8 0.5 0.9 0.6-1.5 0.5-1.3 0.6 1.3 0.5-1 0.6 1.8 0.5-1.7 0.6-0.3 0.5 1.6 0.6 1.2 0.5-1.9 0.6-0.3 0.5-2 0.6 2.5 0.5-2.8 0.6 5.5 0.5-2.9 0.6 0.2 0.6-0.1 0.5 0.1 0.6-0.7 0.5-2.3 0.6 2.4 0.5-1.9 0.6 1.8 0.5-0.3 0.6 3.3 0.5-3.4 0.6-0.7 0.5 2.3 0.6-0.7 0.5 0.3 0.6-4.2 0.5 4.4 0.6-0.2 0.5 3 0.6-1.3 0.5-2.3 0.6 2.3 0.5 2.2 0.6-3.1 0.5-0.4 0.6 0 0.5 0.1 0.6 1.6 0.5-4.5 0.6 4.8 0.5-1.2 0.6 2.5 0.5-0.7 0.6 1.3 0.5-2.3 0.6 1 0.5 1 0.6 1.5 0.5-3.4 0.6-0.3 0.6 0.1 0.5 1.4 0.6-1 0.5-0.1 0.6 0.6 0.5-1.1 0.6 2.3 0.5-0.4 0.6 2.5 0.5-4.9 0.6 4 0.5-1.4 0.6-0.5 0.5 1.8 0.6-1.1 0.5-1.1 0.6 1 0.5 0.2 0.6-0.1 0.5 0.4 0.6-0.8 0.5-0.8 0.6-0.3 0.5-0.9 0.6 1.3 0.5 0.6 0.6-2 0.5 0.4 0.6-1.1 0.5 0.9 0.6-0.7 0.5 0 0.6-0.6 0.5 2.1 0.6-1.4 0.5-0.6 0.6-2.3 0.6 2.2 0.5-0.9 0.6 0.7 0.5 2.4 0.6-4.8 0.5 0.6 0.6-1 0.5 3.4 0.6-2.5 0.5 0 0.6 2.4 0.5-2.9 0.6 1.4 0.5-1.5 0.6 2.9 0.5-1.2 0.6-0.2 0.5 1 0.6-2.2 0.5-1.8 0.6 1.8 0.5-1 0.6-1.2 0.5 1.2 0.6 1.3 0.5 2 0.6-3.2 0.5 0.9 0.6 0.2 0.5-1.7 0.6 0.2 0.5 2.8 0.6-2.5 0.5 0.7 0.6-1.7 0.5 1.2 0.6-1.4 0.5 2 0.6-0.7 0.6-0.1 0.5-0.8 0.6-0.2 0.5-2.3 0.6 2.7 0.5-1.8 0.6 1.4 0.5 0.1 0.6-1.5 0.5 1 0.6-2.7 0.5 1 0.6-0.6 0.5-1.7 0.6-1.9 0.5 2.5 0.6 1.6 0.5-2.5 0.6-0.9 0.5-1.9 0.6 1.3 0.5 0.8 0.6-2.8 0.5-0.6 0.6 1.4 0.5-1 0.6-0.5 0.5-3.4 0.6 4 0.5-0.6 0.6-0.5 0.5-1.1 0.6 1.4 0.5-1 0.6-0.5 0.5-1.5 0.6 3 0.6 0.3 0.5 0.1 0.6 2.1 0.5-0.7 0.6-1.7 0.5 0.3 0.6-3.2 0.5 2.1 0.6 0.9 0.5-0.8 0.6 3.1 0.5 0.2 0.6 0.4 0.5-0.6 0.6-3 0.5 3.6 0.6 0.7 0.5-0.7 0.6-0.9 0.5 0.7 0.6-0.3 0.5 3.1 0.6-0.3 0.5-0.6 0.6-0.4 0.5-1.7 0.6 3.7 0.5-2.6 0.6 1.2 0.5-1.1 0.6 1.8 0.5 1 0.6-3.5 0.5 1.3 0.6 3.1 0.5-3.6 0.6 2.4 0.5-1.3 0.6 0 0.6 1.8 0.5-3.3 0.6 2.3 0.5-3 0.6 1.7 0.5-0.1 0.6 0.4 0.5-2.4 0.6 4 0.5-0.3 0.6-0.2 0.5-2.6 0.6 0.1 0.5 1.3 0.6-0.3 0.5 2.6 0.6-4.4 0.5 2.3 0.6-0.5 0.5 0.5 0.6-1.3 0.5 1.1 0.6-0.5 0.5 0 0.6 0.8 0.5 0.1 0.6-1.4 0.5-0.1 0.6-0.5 0.5-1 0.6 3.6 0.5 0.8 0.6-2 0.5-2.4 0.6 1.8 0.5 2.4 0.6-4.8 0.6 1.5 0.5 2.7 0.6-1 0.5-1.3 0.6 0.9 0.5-0.7 0.6-0.9 0.5 0.6 0.6-1.9 0.5 2.1 0.6-2.4 0.5 2.9 0.6 0.7 0.5 1.3 0.6-1.8 0.5-1.4 0.6-1.2 0.5 6 0.6-4.7 0.5 1.2 0.6-2.4 0.5 1.7 0.6-1.2 0.5-2.1 0.6 2.3 0.5 0.3 0.6-1.6 0.5 0.9 0.6 0.6 0.5 1.9 0.6-1.8 0.5 1.8 0.6-2.6 0.5-0.6 0.6 0.7 0.5-2.5 0.6 4 0.5-2.2 0.6 0.5V773.4H413.3Z" fill="#c3c3c3" stroke="none"/>
<path d="M413.3 652.1l0.3 0.7 0.2 7.6 0.3 5.4 0.2-6.4 0.3 8.5 0.2-17.9 0.3 1.5 0.3 0 0.2 1 0.3-6.7 0.2 14.2 0.3 1.5 0.2 8.5 0.3-19.6 0.3 11.2 0.2 1.2 0.3-7.9 0.2-4.6 0.3 11.5 0.2-11.4 0.3-2.7 0.3 25.7 0.2 0.8 0.3-2.1 0.2 2.8 0.3-6.2 0.2 5.1 0.3-20.7 0.3-4.8 0.2 28.9 0.3-30.3 0.2 29.9 0.3-21.8 0.2-0.2 0.3-12.4 0.3 17.6 0.2-13.8 0.3 6.3 0.2-2 0.3 17 0.2 9.5 0.3-4.9 0.3-4.9 0.2 9.9 0.3-31.3 0.2 28.1 0.3-20.6 0.2 3.6 0.3-12.8 0.3 7.5 0.2 20.4 0.3-3.3 0.2-3.3 0.3-9.8 0.2 6.2 0.3 8.7 0.3-24 0.2 1.5 0.3 0.5 0.2 5.1 0.3 3.7 0.2-7.3 0.3-1.1 0.3 27.3 0.2-14.2 0.3-5.7 0.2 7.1 0.3 8.1 0.2-12.8 0.3-9.6 0.3 26.9 0.2-9.9 0.3 5.4 0.2-13.8 0.3-9 0.2 25.6 0.3-4.7 0.3 4.5 0.2-2.9 0.3-19.2 0.2 7.3 0.3 0.5 0.2-4.5 0.3-8.9 0.3 22.8 0.2 6.7 0.3-33.4 0.2 8.2 0.3-10.9 0.2 38.5 0.3-3.4 0.3-20.4 0.2 21.5 0.3-10.6 0.2-22.6 0.3 11.2 0.2 3.3 0.3 15.5 0.3-15.1 0.2-9.1 0.3-4 0.2 28.3 0.3-21.1 0.2 14.5 0.3-11 0.3 17.8 0.2-18.1 0.3 3.2 0.2-12 0.3 29 0.2 0.3 0.3-22.2 0.3-8.2 0.2 1.2 0.3 1 0.2 0.8 0.3 10.9 0.2-10.8 0.3 0.6 0.3 10.1 0.2-8.5 0.3 11.7 0.2 1.1 0.3 10.5 0.2-21.1 0.3 8.5 0.3-6.7 0.2 5.1 0.3-1.8 0.2-7.5 0.3 2 0.2 7.9 0.3-3.6 0.2 15.7 0.3 6.3 0.3-5.4 0.2-14.5 0.3 11.9 0.2-13.3 0.3-9.3 0.2 10.7 0.3 6.5 0.3-5.6 0.2-5.1 0.3 11.2 0.2-0.7 0.3-2.9 0.2-10.9 0.3 16.3 0.3-6.4 0.2 2 0.3-11.1 0.2 5 0.3 0.8 0.2-1.7 0.3 12.4 0.3-11.5 0.2 11.7 0.3-6.3 0.2-1 0.3-4 0.2-2.6 0.3 12.8 0.3 11.1 0.2-4.6 0.3-16.4 0.2 4.4 0.3 8.8 0.2 0.6 0.3-2.7 0.3-6.4 0.2 2.9 0.3 23 0.2-24.4 0.3 1 0.2 9.6 0.3 10.7 0.3-2.4 0.2 7.9 0.3 1.4 0.2-32.1 0.3 0 0.2 37 0.3-32.4 0.3-3.1 0.2 10.2 0.3 10.4 0.2 7 0.3-19.7 0.2 24.1 0.3-43.9 0.3 11.4 0.2 21.3 0.3-24.2 0.2 2.4 0.3 10.3 0.2-17.9 0.3 3.8 0.3-4.2 0.2 6.7 0.3-2.4 0.2-1.4 0.3-0.9 0.2-11.6 0.3 38.9 0.3-27.9 0.2 9.7 0.3-0.3 0.2 8.7 0.3 2 0.2-22.8 0.3 6.9 0.3 11 0.2 0.7 0.3-14 0.2 11.8 0.3-2 0.2 12.6 0.3-12.5 0.3 0.9 0.2 2.4 0.3 5 0.2-4 0.3-19.1 0.2 22.7 0.3 5.3 0.3-5.8 0.2-12.7 0.3-8.4 0.2 21 0.3-12.9 0.2 16.7 0.3-26.5 0.3 2.8 0.2 21.4 0.3-20.6 0.2-3.3 0.3 2.5 0.2 3.8 0.3-6.3 0.3 21.2 0.2-19.7 0.3 28.3 0.2-24.7 0.3-0.1 0.2-6.4 0.3 29.8 0.3-15.4 0.2 12.5 0.3 6.6 0.2-21.1 0.3-6.3 0.2 9.8 0.3 5.5 0.3-1.6 0.2-15.2 0.3 20 0.2 0.5 0.3-21.3 0.2 9.3 0.3-9.4 0.3 8 0.2 1.4 0.3-10.8 0.2 1.5 0.3 7.2 0.2-5.8 0.3-7.1 0.3 18 0.2-8.4 0.3-3 0.2 8.2 0.3 19.9 0.2-14.5 0.3-8.6 0.3 6.4 0.2-10 0.3-0.4 0.2 23.6 0.3-19.8 0.2 17.7 0.3-17.5 0.3-2.9 0.2 26.7 0.3-20.2 0.2-7.4 0.3 11.3 0.2 3.9 0.3 9.1 0.3-9.7 0.2-4.4 0.3 7.2 0.2-15.4 0.3 32.7 0.2-29.9 0.3 4.6 0.3 7.2 0.2-1.1 0.3 16.8 0.2-4.7 0.3-7.7 0.2 9.1 0.3-0.9 0.3 0.6 0.2-7.8 0.3 7.8 0.2 5.4 0.3-5.5 0.2 12.2 0.3 8.1 0.3-12.1 0.2 6.9 0.3 9.2 0.2-12.1 0.3 0.6 0.2 14.1 0.3-15.5 0.3 5.2 0.2-5.2 0.3 28.4 0.2-22.3 0.3 21.3 0.2-24 0.3 9.6 0.3 13.3 0.2 0.3 0.3-12.9 0.2-3.4 0.3-0.3 0.2 5.3 0.3-1.8 0.3 16.2 0.2-5 0.3 5.9 0.2-4 0.3-17.2 0.2 10.3 0.3-11.5 0.3 20.2 0.2-19.4 0.3 7.5 0.2-0.6 0.3 12.5 0.2-31.4 0.3 14.5 0.3 4.8 0.2-2.4 0.3 1.3 0.2 6.4 0.3-7.8 0.2 2.6 0.3-1.3 0.3-6.9 0.2 7.5 0.3 3.4 0.2 6.9 0.3-5.5 0.2-6.5 0.3-5.1 0.3 12.5 0.2 7.3 0.3-10.4 0.2-8.5 0.3 17 0.2-9.9 0.3-4.4 0.3 18.5 0.2-18.1 0.3-1.3 0.2 2.8 0.3 5 0.2-10.8 0.3 4.5 0.3 6.5 0.2 2.2 0.3-8.4 0.2 0.5 0.3 8 0.2-8.8 0.3 9.7 0.3-7.8 0.2 10.8 0.3-12.6 0.2 11.1 0.3 2.3 0.2 2.4 0.3-11.4 0.3 2 0.2 5.3 0.3-1.3 0.2-0.4 0.3 4.8 0.2 2.9 0.3-12.7 0.3 2 0.2-13.6 0.3 20 0.2-8.9 0.3 0.2 0.2 0.7 0.3 4.9 0.2-7.9 0.3 9.1 0.3-13.8 0.2 17.3 0.3-4.6 0.2 5.1 0.3-7.4 0.2-2.4 0.3-11.8 0.3 8.7 0.2-4 0.3 15.5 0.2-9.4 0.3-1.7 0.2 6.5 0.3 3.1 0.3-2.6 0.2-6.3 0.3 10 0.2 3.2 0.3-17.8 0.2-0.6 0.3-0.9 0.3 0.5 0.2 2.8 0.3 7.3 0.2-3.6 0.3-2 0.2 11.7 0.3-8.4 0.3 6.8 0.2-6.8 0.3-4.6 0.2-1.3 0.3 10.5 0.2-1.1 0.3 4.1 0.3-10.9 0.2 15.5 0.3-9.6 0.2-16.4 0.3 8.5 0.2 8 0.3-10.5 0.3 14.4 0.2 1.9 0.3-11.7 0.2 0.3 0.3 7.9 0.2-6.3 0.3 2.2 0.3 4.9 0.2-8.9 0.3 6.7 0.2-13.2 0.3 1.5 0.2 19.4 0.3-5 0.3-1.1 0.2-10.3 0.3-6.5 0.2 8.5 0.3 6.7 0.2 8.7 0.3-3.5 0.3-17.5 0.2 2.1 0.3 7.5 0.2-7.8 0.3 2.9 0.2 6.1 0.3-7.3 0.3 4.6 0.2 7.3 0.3-12.5 0.2-3 0.3 8 0.2-4.1 0.3-0.1 0.3 5.7 0.2 6.9 0.3-3.9 0.2 7 0.3-2.1 0.2-11.1 0.3 11.6 0.3-14.6 0.2-1.3 0.3 1.8 0.2 1.1 0.3-2.3 0.2 3.7 0.3-7 0.3 17.3 0.2 2.2 0.3-15.2 0.2 8.1 0.3-6.6 0.2-5.4 0.3 15.2 0.3-6.2 0.2 7.5 0.3-6.6 0.2-0.7 0.3-2.4 0.2 3.5 0.3-5.5 0.3 9.5 0.2-3.2 0.3 1.7 0.2 8.8 0.3-12.6 0.2-6.1 0.3 15.7 0.3-9.3 0.2 1 0.3-2.3 0.2 13.4 0.3-2.7 0.2-7.1 0.3-3.7 0.3 1.5 0.2 2.5 0.3 8.6 0.2-2.5 0.3-5.2 0.2-5 0.3 2 0.3 7.3 0.2-3.2 0.3 1.8 0.2-3.3 0.3 9.5 0.2-3.2 0.3-1.5 0.3 2.5 0.2 0.9 0.3-7.8 0.2 1.5 0.3 5.1 0.2-7.6 0.3 7.5 0.3-10 0.2 2.1 0.3 7.1 0.2-3.2 0.3 6.2 0.2-3 0.3-6.6 0.3 7.4 0.2-1.7 0.3-5.3 0.2 8.9 0.3-2.8 0.2-0.6 0.3-6.5 0.3 2 0.2 5.4 0.3-7.8 0.2 7.2 0.3 1.1 0.2-1.5 0.3 2.9 0.3-3.5 0.2 1.8 0.3-3.8 0.2-0.2 0.3 4.7 0.2 2.2 0.3-1.8 0.3-0.8 0.2-2.8 0.3 6 0.2-0.8 0.3-5.7 0.2 4.6 0.3-11.2 0.3 10.4 0.2 1.3 0.3 0.4 0.2-2.6 0.3-1.8 0.2-1.9 0.3 5.7 0.3-1.9 0.2 1.1 0.3 0 0.2 0.1 0.3-2.8 0.2-1.6 0.3 3.5 0.3 1.9 0.2-2.7 0.3 1.8 0.2-1.5 0.3 0 0.2 2.1 0.3-26.8 0.3 25.1 0.2 0.4 0.3 0.3 0.2-0.4 0.3-0.8 0.2 4 0.3-2.1 0.3 8.7 0.2-12.9 0 0.2 0.8 0.1 0.8-1.2 0.8 0.8 0.8-1.4 0.7 1.1 0.8-2.3 0.8 1.5 0.8-1.4 0.8-1.1 0.8-1 0.8 0.4 0.7 0 0.8-0.4 0.8 0.5 0.8-0.5 0.8 0.5 0.8 0.3 0.8 2.8 0.7-3.6 0.8 2.1 0.8 1.1 0.8-2.1 0.8 1.4 0.8 1.8 0.8-0.4 0.8-0.7 0.7 1.1 0.8-1.4 0.8 1.7 0.8 3.3 0.8-4 0.8 3.3 0.8 1.2 0.7-1.7 0.8-1.6 0.8 2.6 0.8-0.9 0.8-2 0.8-0.5 0.8 0.7 0.7 1.8 0.8-0.8 0.8-1.2 0.8 1.6 0.8-1.1 0.8 0.9 0.8 2.8 0.7-1.8 0.8-2 0.8 1.5 0.8 0.6 0.8-2.1 0.8 1.5 0.8-2.3 0.8 2.3 0.7-1.6 0.8 1.3 0.8-2 0.8 1.9 0.8-0.9 0.8 0.6 0.8-1.2 0.7 0.5 0.8-0.9 0.8 0.8 0.8 0.3 0.8-2 0.8 0.8 0.8-1.1 0.7 2.6 0.8-3 0.8 1.7 0.8 0.3 0.8 1 0.8 0.2 0.8-2 0.7-0.7 0.8 0.7 0.8-0.7 0.8 2.1 0.8-1.6 0.8 0.4 0.8-2 0.8 3.1 0.7-0.1 0.8-1.6 0.8-0.1 0.8 0.4 0.8-0.7 0.8-0.4 0.8 1.1 0.7-2.8 0.8 3.6 0.8-2.6 0.8 4.2" stroke="#ff0000" stroke-width="1.1"/>
<path d="M413.3 640.9l0.3 40.4 0.2-0.3 0.3-20.6 0.2 10.1 0.3-16 0.2 32.9 0.3-2.1 0.3 23.4 0.2-44.4 0.3 0.2 0.2 0 0.3-2.2 0.2 24.1 0.3 23.1 0.3-49.2 0.2-2.6 0.3 37.5 0.2-8.5 0.3-25.2 0.2 14.3 0.3-14.6 0.3 17.5 0.2 0.3 0.3-11.9 0.2 12.3 0.3-2.2 0.2 37.3 0.3-53 0.3 47.9 0.2-41.5 0.3 38.3 0.2-41 0.3 17.8 0.2 7.6 0.3-11.1 0.3-16.5 0.2 51.3 0.3-37.8 0.2-2.7 0.3 37.6 0.2-19 0.3-27.6 0.3 35.2 0.2-33.9 0.3 7.8 0.2 8.3 0.3-6.5 0.2-4.9 0.3 15.4 0.3-18.1 0.2 53.8 0.3-64.3 0.2 13.1 0.3 18.7 0.2-15.8 0.3 38.7 0.3-42.7 0.2-4.5 0.3 42.4 0.2-35.1 0.3-1.4 0.2 51.6 0.3-36.1 0.3-16 0.2-3.9 0.3 3.8 0.2-1.1 0.3-2.7 0.2-7.1 0.3 0.3 0.3 5.6 0.2-3.2 0.3 5.2 0.2 3.1 0.3 46.8 0.2-26.8 0.3-32 0.3 58.9 0.2-56.2 0.3 0.2 0.2-1.4 0.3-0.5 0.2 6.5 0.3-4.9 0.3-8.7 0.2-4.9 0.3 55.4 0.2-43.8 0.3-5.9 0.2-1.3 0.3 26.5 0.3-0.5 0.2-11.7 0.3-15.1 0.2 17.5 0.3-15.8 0.2 31.3 0.3-20.7 0.3 11.1 0.2-5 0.3 47.4 0.2-61.9 0.3 43.4 0.2-17.8 0.3-14.2 0.3 36 0.2-5.9 0.3-39.8 0.2 42.2 0.3-39.4 0.2 38.6 0.3-34.8 0.3 54.5 0.2 4 0.3-60.9 0.2 9.3 0.3-5.3 0.2 8.7 0.3-8.9 0.3 7.7 0.2-8.8 0.3 24 0.2 9.4 0.3-6.7 0.2-29.2 0.3 6.1 0.3-12.1 0.2 41.9 0.3-16.9 0.2 8.4 0.3-23.3 0.2 16.6 0.3 11.4 0.3 22.3 0.2-51.4 0.3-1.1 0.2 24.5 0.3 31.9 0.2-49.2 0.3 2.6 0.3-3.5 0.2 17 0.3-17.8 0.2 30.7 0.3 3.5 0.2-31.3 0.3 54.8 0.3-31.6 0.2-14.1 0.3 18.3 0.2-14.2 0.3-10.5 0.2 13.4 0.3-8 0.2 0.4 0.3 41 0.3-47.2 0.2 0.5 0.3 33.7 0.2 11.7 0.3-30.1 0.2 20.1 0.3-30.4 0.3 24.8 0.2 26 0.3-16.5 0.2-35.4 0.3 6.2 0.2 26.2 0.3-8.9 0.3-0.7 0.2 29.2 0.3-25.9 0.2-9.6 0.3 8.7 0.2 3.2 0.3-22.4 0.3 34 0.2-35.5 0.3-7.2 0.2 9.5 0.3-8.6 0.2 45.5 0.3-7.9 0.3 5.1 0.2-24.7 0.3 20.1 0.2-25 0.3 40.2 0.2-37.6 0.3 31.9 0.3-20.6 0.2-18.5 0.3 15.5 0.2-31.3 0.3 29.8 0.2-24.8 0.3 25 0.3-6.3 0.2-12.5 0.3-8.2 0.2 26.7 0.3-17.7 0.2-5.5 0.3 25.6 0.3-11 0.2-12.2 0.3 29.5 0.2-37.8 0.3 33.5 0.2-18.1 0.3-12.7 0.3 14.9 0.2 35.9 0.3-45.7 0.2 42.5 0.3-27.1 0.2-20.4 0.3 25.3 0.3-30.6 0.2 12.1 0.3 4.8 0.2 38 0.3-45.3 0.2-0.9 0.3-4.7 0.3 24.7 0.2-23.8 0.3 21.8 0.2-7.7 0.3 6 0.2 8.8 0.3-12.1 0.3 16.2 0.2-6.2 0.3-23.1 0.2-4.6 0.3 6.9 0.2 19.2 0.3-26.9 0.3 23.9 0.2-8.2 0.3 15.7 0.2-18.2 0.3-14.1 0.2 43.9 0.3-2.1 0.3-31.8 0.2-2.6 0.3 2.2 0.2-11.1 0.3 7 0.2 26.3 0.3-30.3 0.3 37.2 0.2-24.5 0.3 4.1 0.2-16.7 0.3 26.5 0.2 17.9 0.3 0 0.3 13.9 0.2-55.2 0.3 14.9 0.2-22.2 0.3 11.4 0.2 25.4 0.3-7.4 0.3-11.6 0.2 40.2 0.3 1.5 0.2-60.1 0.3 4.4 0.2 15.7 0.3-14.9 0.3 11.4 0.2 14.6 0.3-1.7 0.2-25 0.3 9.6 0.2 35.3 0.3-35 0.3 13.2 0.2-20.7 0.3 5.7 0.2 17.2 0.3-18.3 0.2 20.3 0.3 19.5 0.3-20.8 0.2-7.5 0.3 2.5 0.2 5.5 0.3-27.7 0.2 17.8 0.3 10.7 0.3-11 0.2 39.6 0.3-34.7 0.2-9.7 0.3 22.1 0.2-25 0.3 6.7 0.3 7.4 0.2 34.8 0.3-38.1 0.2 2.7 0.3 24.4 0.2-5.2 0.3 10.7 0.3-26.7 0.2 0 0.3 34.6 0.2-12.9 0.3-3.5 0.2-19.7 0.3 5.8 0.3 17.6 0.2-30.2 0.3 13.7 0.2 15.2 0.3-6.1 0.2 20 0.3-24.1 0.3-4.9 0.2 22.2 0.3-5.9 0.2-14.9 0.3 2.4 0.2-3.1 0.3 8 0.3-5 0.2 3.3 0.3 20.6 0.2-24.8 0.3-2.8 0.2 7.6 0.3 1 0.3-3.1 0.2 9.2 0.3 14.9 0.2-25.5 0.3-1.8 0.2 9.2 0.3-4 0.3-3.2 0.2 13.8 0.3-10.2 0.2-1.3 0.3-1.8 0.2-5.6 0.3 6 0.3 17.1 0.2-5.8 0.3-8.2 0.2 14.5 0.3 4.3 0.2-6.2 0.3-7.8 0.3 2.6 0.2-4.2 0.3 16.6 0.2-10 0.3 7.1 0.2-8 0.3 14.4 0.3-8 0.2 3.9 0.3-20.2 0.2 20.8 0.3 1 0.2-9.5 0.3 11.8 0.3-8.9 0.2-6.8 0.3-1.3 0.2 0.4 0.3 16 0.2-2.7 0.3-12.9 0.3 1.1 0.2-0.1 0.3-3.3 0.2 0.3 0.3 13.9 0.2-7.7 0.3 7.3 0.3-14.5 0.2-0.6 0.3 1.2 0.2 3.9 0.3 11.9 0.2-7.9 0.3-3.5 0.3 8.5 0.2-12.6 0.3 2.6 0.2 1.3 0.3 2.3 0.2 6.2 0.3-10.9 0.3 12.8 0.2 2.9 0.3-12 0.2-5 0.3 4.7 0.2 0.6 0.3-6 0.3 5.9 0.2 10.5 0.3-12.6 0.2 5.6 0.3-1.2 0.2-9.5 0.3 15.3 0.3-8.6 0.2 0.1 0.3 5.5 0.2 8.6 0.3-11.9 0.2 9.1 0.3-14.2 0.3 5.5 0.2 2.6 0.3 6.4 0.2-8.9 0.3-7 0.2 3.2 0.3-2.7 0.3 13 0.2-5.3 0.3-2.1 0.2 6.5 0.3 2.4 0.2-4.1 0.3-4 0.3 9 0.2-5.2 0.3-3.7 0.2 6.7 0.3-14.3 0.2 8.3 0.3-8.5 0.3 8.8 0.2 11.1 0.3-20.7 0.2-2.2 0.3 3.6 0.2 3.1 0.3 12.2 0.2-2.5 0.3-9 0.3-10 0.2 21.2 0.3 4.1 0.2-18.3 0.3 1.9 0.2-3.7 0.3 9.1 0.3-3.8 0.2-3.1 0.3 10.4 0.2-5.9 0.3 0.9 0.2-5.7 0.3 12.6 0.3-20 0.2 25 0.3-2.3 0.2-10.6 0.3 2.3 0.2 7.5 0.3-10.8 0.3-5 0.2 15 0.3-13.7 0.2 3.1 0.3 3.5 0.2 0.4 0.3-2.1 0.3 8.5 0.2-6.8 0.3-4.1 0.2 4.9 0.3 10.6 0.2-1.7 0.3-11.1 0.3 8.1 0.2-3.9 0.3 2.5 0.2-5.7 0.3 6.3 0.2-4.9 0.3 5.1 0.3 0 0.2 0.8 0.3-7 0.2-5.2 0.3 15.3 0.2-4.2 0.3 4.7 0.3-16.5 0.2 11.5 0.3 5.2 0.2-0.3 0.3-16.3 0.2 13 0.3-1.9 0.3 5.4 0.2-4.1 0.3-2.4 0.2-2.1 0.3 4.7 0.2 1 0.3-4.2 0.3 7.2 0.2-1.7 0.3-3 0.2-1.8 0.3-1.3 0.2 7.6 0.3-6.6 0.3 4.6 0.2-5.5 0.3 0 0.2 0.3 0.3-1.9 0.2 4 0.3-5 0.3 6.1 0.2-4.8 0.3 2 0.2 2.9 0.3-1.3 0.2-4 0.3 2.5 0.3 5 0.2-4.2 0.3 3.4 0.2-0.2 0.3-7 0.2 4.4 0.3-2.5 0.3 6.9 0.2 0.2 0.3-7.7 0.2 3.9 0.3-1.8 0.2-0.4 0.3-6.8 0.3 8.8 0.2 1 0.3-15.4 0.2 11.9 0.3-0.8 0.2 4.5 0.3 0.8 0.3-3.4 0.2-1.1 0.3 1.2 0.2-3 0.3 1 0.2 4.5 0.3 1.7 0.3 0.1 0.2-3.4 0.3-1.6 0.2-3.2 0.3 5.7 0.2-1.1 0.3-3.4 0.3 3.2 0.2 1.8 0.3 1.3 0.2-6.8 0.3-2.4 0.2 9.1 0.3-3.9 0.3 1.9 0.2 0.2 0.3-3 0.2 1 0.3-0.3 0.2-0.4 0.3-0.6 0.3 4.2 0.2-6.6 0.3 4.8 0.2-0.8 0.3 0.9 0.2 0.2 0.3-0.3 0.3-0.5 0.2-4.3 0.3 5.1 0.2-2.2 0.3 4.4 0.2-4.6 0.3 6.7 0-10.3 0.8 0 0.8-1.7 0.7 1.5 0.8-1.2 0.8-0.4 0.8 1.3 0.7-0.3 0.8-2.6 0.8 2.5 0.8-2 0.8-1.1 0.7-2.1 0.8 2.4 0.8-0.7 0.8-3.4 0.7 3.6 0.8 1.4 0.8-1.8 0.8-0.3 0.8-0.2 0.7 1.4 0.8-2.1 0.8 1.2 0.8 1.2 0.7 1.6 0.8-0.8 0.8 1.6 0.8-1.7 0.8-0.8 0.7 1.1 0.8 1.6 0.8 0.2 0.8 1.4 0.7-0.4 0.8-1.7 0.8 0.4 0.8 1.4 0.8 0.7 0.7 0 0.8-3.8 0.8 0.6 0.8 2.3 0.7-0.1 0.8 3 0.8-4.6 0.8 2.8 0.8-2 0.7 0.6 0.8-0.1 0.8 0.5 0.8 0.7 0.7-0.8 0.8-1.8 0.8 3 0.8-1.8 0.8 1.4 0.7 0.8 0.8-2.6 0.8 0.2 0.8 0 0.7-1.9 0.8 2.8 0.8-0.6 0.8-0.7 0.8-0.2 0.7-0.4 0.8-1.3 0.8 4 0.8-3.2 0.7-0.8 0.8-0.9 0.8 2.9 0.8 2.7 0.8-0.7 0.7-3 0.8 2.1 0.8 0.8 0.8-1.9 0.7-1.3 0.8 0.1 0.8-0.4 0.8 2.2 0.8-0.9 0.7-1.5 0.8 1.6 0.8-1.7 0.8 1.6 0.7-0.1 0.8-1.4 0.8 0.6 0.8 2.4 0.8-4.7 0.7 0.3 0.8 1.4 0.8 0 0.8-0.6 0.7-0.1 0.8-0.8 0.8 1.8" stroke="#0a7cff" stroke-width="1.1"/>
<path d="M413.3 734.4l0.6-0.5 0.5 0.1 0.6-1.4 0.5 0.8 0.6-0.5 0.5-1 0.6 0 0.5 0.6 0.6 1.3 0.5 0.4 0.6 0.1 0.5-0.6 0.6-0.4 0.5 1.3 0.6 0.3 0.5-2 0.6 3 0.5-2.3 0.6-0.8 0.5 2 0.6 0.2 0.5-0.4 0.6-2 0.5 1.1 0.6 2.5 0.5-2 0.6-2 0.5 0.1 0.6 0.5 0.5 1.1 0.6 2.2 0.5-2.8 0.6 0.5 0.5-0.4 0.6-2.1 0.5 1.9 0.6-0.2 0.5-0.5 0.6 1.2 0.6 0.6 0.5 0 0.6-2.1 0.5 0.3 0.6 1.4 0.5-2.3 0.6 1.3 0.5 2.1 0.6-2.7 0.5 1 0.6 1.6 0.5-2.6 0.6 1.2 0.5 0 0.6-1.4 0.5 3.9 0.6-1.3 0.5-1 0.6-0.8 0.5 1.4 0.6 0.6 0.5 0.2 0.6-1.2 0.5-0.9 0.6 3.1 0.5 1 0.6-2.4 0.5 0.3 0.6 0.9 0.5-2 0.6-0.1 0.5 2 0.6-0.2 0.5-1.1 0.6 1.5 0.5 1.9 0.6-1.4 0.6 1.6 0.5-1.2 0.6 1.6 0.5 0.1 0.6-0.5 0.5 1.4 0.6 0.7 0.5 0.1 0.6-4.1 0.5 0.5 0.6 3.3 0.5-1 0.6-2.6 0.5 1.3 0.6-1.2 0.5-1.5 0.6 0.6 0.5 0.1 0.6 0.1 0.5-0.9 0.6-1 0.5-2.2 0.6 0.9 0.5 1.7 0.6-1.7 0.5 1.1 0.6 2.1 0.5-2 0.6-1.6 0.5 2.2 0.6-2.3 0.5 1.7 0.6-0.6 0.5 1.7 0.6-4.7 0.5 2.2 0.6-0.8 0.5 1.9 0.6 1.4 0.6-3.9 0.5 2.6 0.6-3.3 0.5 2.4 0.6-2.5 0.5 3.2 0.6 1.3 0.5-3.5 0.6 1 0.5-0.2 0.6-1.5 0.5 2.6 0.6 0.5 0.5-0.3 0.6 0.7 0.5 0.1 0.6-0.8 0.5-0.5 0.6-0.8 0.5 0.9 0.6-1.5 0.5-1.3 0.6 1.3 0.5-1 0.6 1.8 0.5-1.7 0.6-0.3 0.5 1.6 0.6 1.2 0.5-1.9 0.6-0.3 0.5-2 0.6 2.5 0.5-2.8 0.6 5.5 0.5-2.9 0.6 0.2 0.6-0.1 0.5 0.1 0.6-0.7 0.5-2.3 0.6 2.4 0.5-1.9 0.6 1.8 0.5-0.3 0.6 3.3 0.5-3.4 0.6-0.7 0.5 2.3 0.6-0.7 0.5 0.3 0.6-4.2 0.5 4.4 0.6-0.2 0.5 3 0.6-1.3 0.5-2.3 0.6 2.3 0.5 2.2 0.6-3.1 0.5-0.4 0.6 0 0.5 0.1 0.6 1.6 0.5-4.5 0.6 4.8 0.5-1.2 0.6 2.5 0.5-0.7 0.6 1.3 0.5-2.3 0.6 1 0.5 1 0.6 1.5 0.5-3.4 0.6-0.3 0.6 0.1 0.5 1.4 0.6-1 0.5-0.1 0.6 0.6 0.5-1.1 0.6 2.3 0.5-0.4 0.6 2.5 0.5-4.9 0.6 4 0.5-1.4 0.6-0.5 0.5 1.8 0.6-1.1 0.5-1.1 0.6 1 0.5 0.2 0.6-0.1 0.5 0.4 0.6-0.8 0.5-0.8 0.6-0.3 0.5-0.9 0.6 1.3 0.5 0.6 0.6-2 0.5 0.4 0.6-1.1 0.5 0.9 0.6-0.7 0.5 0 0.6-0.6 0.5 2.1 0.6-1.4 0.5-0.6 0.6-2.3 0.6 2.2 0.5-0.9 0.6 0.7 0.5 2.4 0.6-4.8 0.5 0.6 0.6-1 0.5 3.4 0.6-2.5 0.5 0 0.6 2.4 0.5-2.9 0.6 1.4 0.5-1.5 0.6 2.9 0.5-1.2 0.6-0.2 0.5 1 0.6-2.2 0.5-1.8 0.6 1.8 0.5-1 0.6-1.2 0.5 1.2 0.6 1.3 0.5 2 0.6-3.2 0.5 0.9 0.6 0.2 0.5-1.7 0.6 0.2 0.5 2.8 0.6-2.5 0.5 0.7 0.6-1.7 0.5 1.2 0.6-1.4 0.5 2 0.6-0.7 0.6-0.1 0.5-0.8 0.6-0.2 0.5-2.3 0.6 2.7 0.5-1.8 0.6 1.4 0.5 0.1 0.6-1.5 0.5 1 0.6-2.7 0.5 1 0.6-0.6 0.5-1.7 0.6-1.9 0.5 2.5 0.6 1.6 0.5-2.5 0.6-0.9 0.5-1.9 0.6 1.3 0.5 0.8 0.6-2.8 0.5-0.6 0.6 1.4 0.5-1 0.6-0.5 0.5-3.4 0.6 4 0.5-0.6 0.6-0.5 0.5-1.1 0.6 1.4 0.5-1 0.6-0.5 0.5-1.5 0.6 3 0.6 0.3 0.5 0.1 0.6 2.1 0.5-0.7 0.6-1.7 0.5 0.3 0.6-3.2 0.5 2.1 0.6 0.9 0.5-0.8 0.6 3.1 0.5 0.2 0.6 0.4 0.5-0.6 0.6-3 0.5 3.6 0.6 0.7 0.5-0.7 0.6-0.9 0.5 0.7 0.6-0.3 0.5 3.1 0.6-0.3 0.5-0.6 0.6-0.4 0.5-1.7 0.6 3.7 0.5-2.6 0.6 1.2 0.5-1.1 0.6 1.8 0.5 1 0.6-3.5 0.5 1.3 0.6 3.1 0.5-3.6 0.6 2.4 0.5-1.3 0.6 0 0.6 1.8 0.5-3.3 0.6 2.3 0.5-3 0.6 1.7 0.5-0.1 0.6 0.4 0.5-2.4 0.6 4 0.5-0.3 0.6-0.2 0.5-2.6 0.6 0.1 0.5 1.3 0.6-0.3 0.5 2.6 0.6-4.4 0.5 2.3 0.6-0.5 0.5 0.5 0.6-1.3 0.5 1.1 0.6-0.5 0.5 0 0.6 0.8 0.5 0.1 0.6-1.4 0.5-0.1 0.6-0.5 0.5-1 0.6 3.6 0.5 0.8 0.6-2 0.5-2.4 0.6 1.8 0.5 2.4 0.6-4.8 0.6 1.5 0.5 2.7 0.6-1 0.5-1.3 0.6 0.9 0.5-0.7 0.6-0.9 0.5 0.6 0.6-1.9 0.5 2.1 0.6-2.4 0.5 2.9 0.6 0.7 0.5 1.3 0.6-1.8 0.5-1.4 0.6-1.2 0.5 6 0.6-4.7 0.5 1.2 0.6-2.4 0.5 1.7 0.6-1.2 0.5-2.1 0.6 2.3 0.5 0.3 0.6-1.6 0.5 0.9 0.6 0.6 0.5 1.9 0.6-1.8 0.5 1.8 0.6-2.6 0.5-0.6 0.6 0.7 0.5-2.5 0.6 4 0.5-2.2 0.6 0.5" stroke="#7a1ff0" stroke-width="1.6"/>
</g>
<path d="M413.3 773.4v-9.5M490.3 773.4v-9.5M567.3 773.4v-9.5M644.3 773.4v-9.5M451.8 773.4v-5M528.8 773.4v-5M605.8 773.4v-5M413.3 570.9h9.5M413.3 621.5h9.5M413.3 672.2h9.5M413.3 722.8h9.5M413.3 773.4h9.5M413.3 545.6h5M413.3 596.2h5M413.3 646.8h5M413.3 697.5h5M413.3 748.1h5" stroke="#000" stroke-width="2.2" fill="none"/>
<rect x="413.3" y="545.6" width="231" height="227.8" fill="none" stroke="#000" stroke-width="2.2"/>
<text x="413.3" y="802.4" font-size="22.6" font-weight="bold" text-anchor="middle">0</text>
<text x="490.3" y="802.4" font-size="22.6" font-weight="bold" text-anchor="middle">10</text>
<text x="567.3" y="802.4" font-size="22.6" font-weight="bold" text-anchor="middle">20</text>
<text x="644.3" y="802.4" font-size="22.6" font-weight="bold" text-anchor="middle">30</text>
<text x="400.8" y="578.5" font-size="22.6" font-weight="bold" text-anchor="end">−20</text>
<text x="400.8" y="629.1" font-size="22.6" font-weight="bold" text-anchor="end">−40</text>
<text x="400.8" y="679.8" font-size="22.6" font-weight="bold" text-anchor="end">−60</text>
<text x="400.8" y="730.4" font-size="22.6" font-weight="bold" text-anchor="end">−80</text>
<text x="400.8" y="781" font-size="22.6" font-weight="bold" text-anchor="end">−100</text>
<path d="M525.3 557.1H573.3" stroke="#ff0000" stroke-width="1.4" stroke-linecap="round"/>
<text x="578.3" y="564.3" font-size="20.3">Input</text>
<path d="M525.3 582.1H573.3" stroke="#0a7cff" stroke-width="1.4" stroke-linecap="round"/>
<text x="578.3" y="589.3" font-size="20.3">Output</text>
<rect x="525.3" y="596.1" width="48" height="21.5" fill="#c0c0c0" stroke="#8a2be2" stroke-width="1.3"/>
<text x="578.3" y="614.3" font-size="20.3">Noise</text>
<text x="426.8" y="572.8" font-size="26.5" font-weight="bold">c2</text>
<text x="528.8" y="845" font-size="33.5" text-anchor="middle">Frequency spectrum (GHz)</text>
<g clip-path="url(#cld2)" fill="none" stroke-linejoin="bevel">
<path d="M1092 731.8l0.5 1.4 0.6 2.1 0.5-1.4 0.6 0.3 0.5-0.2 0.6-1.1 0.5 2.6 0.5-3.1 0.6 2.9 0.5-1.3 0.6-1.5 0.5 0.3 0.6 1.9 0.5-3.4 0.6 1.9 0.5 1.9 0.5-1.4 0.6 1.2 0.5-1.8 0.6 2.5 0.5-2.5 0.6 3.1 0.5-4 0.5 1.2 0.6-1.5 0.5 2.9 0.6 1.9 0.5-1 0.6-1.6 0.5-3 0.5 1.9 0.6-1 0.5 3 0.6-0.4 0.5-0.3 0.6-2.1 0.5 2.4 0.6-0.4 0.5-2.6 0.5 3.5 0.6-1.2 0.5 1.8 0.6-1.5 0.5-1.5 0.6-0.5 0.5 3.6 0.5 1.6 0.6-4.3 0.5-1.5 0.6 3.3 0.5-1.4 0.6 0.4 0.5 3 0.5 0.7 0.6-3.6 0.5-0.8 0.6 2.9 0.5-1.6 0.6 0.8 0.5 0.3 0.5 0.5 0.6-3.3 0.5 1.7 0.6 0.4 0.5 0.5 0.6-1.2 0.5 1.4 0.6-0.9 0.5 1.4 0.5-1.5 0.6 1 0.5-1.1 0.6 3.1 0.5-1 0.6 1 0.5-3.5 0.5 3.5 0.6-0.3 0.5 2.7 0.6-0.6 0.5 1.5 0.6-1.8 0.5 1.2 0.5-3.8 0.6 3.1 0.5-2.9 0.6 1.4 0.5-1.2 0.6 1.7 0.5-1.5 0.6-0.1 0.5 0.6 0.5-2.1 0.6 2.6 0.5-2.2 0.6-0.2 0.5-0.7 0.6 1.5 0.5-2.8 0.5 1.9 0.6-0.7 0.5 0.2 0.6-1 0.5-1.4 0.6-3.7 0.5 7.7 0.5-5.1 0.6 0 0.5-0.9 0.6 1.6 0.5-0.3 0.6-1.9 0.5 2.2 0.6-0.1 0.5 0.2 0.5-0.7 0.6-2 0.5 3.7 0.6-2.9 0.5 4.7 0.6-3.9 0.5 1.2 0.5-2.4 0.6 0.5 0.5 0 0.6 0.3 0.5 0.2 0.6 3.3 0.5-3.3 0.5 2.2 0.6-3.4 0.5 2.3 0.6-1 0.5 0.7 0.6-0.9 0.5-0.2 0.6-0.5 0.5 2.4 0.5-4 0.6 3.6 0.5-1.3 0.6 3.5 0.5-4.2 0.6-1.1 0.5-0.3 0.5 1 0.6 0.2 0.5 1.7 0.6-0.3 0.5-0.2 0.6-0.3 0.5 1.8 0.5-0.9 0.6-1.1 0.5 0.6 0.6 0.5 0.5 1.1 0.6-1.4 0.5 0.2 0.5-1.7 0.6 2.2 0.5-1.2 0.6 3.3 0.5-4.2 0.6 4.5 0.5-1.7 0.6 0.5 0.5 0.4 0.5-0.2 0.6 0.4 0.5-0.8 0.6-0.1 0.5-1.2 0.6 0 0.5-0.6 0.5 1.9 0.6 1.8 0.5-4.2 0.6 2.5 0.5 4.4 0.6-4.5 0.5 1.4 0.5 0.9 0.6-0.1 0.5-0.8 0.6 1.3 0.5-1.4 0.6 0.7 0.5 0.1 0.6-0.8 0.5 0.3 0.5-1.7 0.6 1.6 0.5 2.1 0.6-1.5 0.5-2.5 0.6-0.3 0.5 3.3 0.5-2.2 0.6 1.4 0.5-0.5 0.6 1.5 0.5 0 0.6-2.1 0.5-0.9 0.5-0.6 0.6 1.7 0.5-1.1 0.6-0.7 0.5 0.2 0.6 3.5 0.5-2.6 0.6-1.8 0.5-0.9 0.5 1.9 0.6-2.9 0.5 5.3 0.6-6 0.5 2.5 0.6-1.1 0.5 1.3 0.5 0.3 0.6-1.3 0.5-0.5 0.6 1.6 0.5-2.8 0.6 1.7 0.5-0.8 0.5 1.1 0.6-0.1 0.5-0.9 0.6 1.8 0.5-2.9 0.6 2.7 0.5-2.5 0.6 2.2 0.5-1.4 0.5 0.7 0.6-2.8 0.5-0.7 0.6 2.9 0.5-1.3 0.6 0.3 0.5-0.8 0.5-0.5 0.6-1.1 0.5 2.4 0.6 2.5 0.5-3.5 0.6 1.4 0.5-0.4 0.5-2 0.6-0.4 0.5 1.9 0.6-1.7 0.5 1.1 0.6-0.6 0.5 1.3 0.6-2.1 0.5 2.6 0.5-1 0.6-1.2 0.5 2.6 0.6-2 0.5-0.1 0.6-0.6 0.5-1.4 0.5 5.1 0.6-4.6 0.5 0.6 0.6-1.4 0.5 0.4 0.6 1.6 0.5-0.4 0.5 0.4 0.6-3.4 0.5 2.3 0.6-1.6 0.5 0.6 0.6 2.2 0.5-2.6 0.5-0.5 0.6-2.6 0.5 2.1 0.6 1 0.5-1.1 0.6-2.1 0.5 0 0.6-0.2 0.5-0.5 0.5 1.8 0.6-2.6 0.5 0.5 0.6 3.1 0.5-2.3 0.6-3 0.5 2.4 0.5-0.6 0.6-0.8 0.5 0 0.6 0.4 0.5-0.6 0.6 2 0.5 1.1 0.5-1.9 0.6 0.3 0.5-1.4 0.6-1.4 0.5 2.4 0.6-0.4 0.5-1 0.6 1.4 0.5 0.3 0.5 2.4 0.6-0.5 0.5 0.6 0.6-0.4 0.5-1.8 0.6 0.7 0.5 1.1 0.5 3.2 0.6-3.8 0.5 0 0.6 2.4 0.5-1.8 0.6 0.5 0.5-1.3 0.5 3.8 0.6-1.2 0.5-3.6 0.6 3.3 0.5-0.4 0.6-0.5 0.5-1 0.6-1.5 0.5 1.9 0.5-1.5 0.6 0.7 0.5 1.4 0.6-3.1 0.5 0.8 0.6 1.9 0.5-0.3 0.5 1.2 0.6 1 0.5-2.3 0.6-1.8 0.5 5.6 0.6-3.2 0.5-3.8 0.5 0.5 0.6 3.6 0.5-0.4 0.6-3 0.5 3.4 0.6-1.4 0.5 1.1 0.6-1.9 0.5 0.3 0.5-2.3 0.6 4 0.5 0.8 0.6-1.8 0.5-0.9 0.6 0.8 0.5-4 0.5 4.2 0.6-0.4 0.5-1.6 0.6-1.2 0.5 2.1 0.6-0.7 0.5 2.7 0.5-0.4 0.6-1.8 0.5-0.7 0.6 0.2 0.5 0.1 0.6-0.5 0.5 1.2 0.5 0.4 0.6-0.1 0.5 1.4 0.6-0.9 0.5 0.1 0.6-2 0.5-2.7 0.6 2.4 0.5-1.8 0.5 4 0.6-0.7 0.5-0.4 0.6-1.9 0.5-1.2 0.6 1.4 0.5 0.7 0.5 0.3 0.6 1.1 0.5-1.6 0.6 0.1 0.5 0.5 0.6 1.3 0.5-1.5 0.5 0.4 0.6 0.9 0.5-2.8 0.6 1.8 0.5-1.1 0.6 2.5 0.5-1 0.6 0.4 0.5 0.4 0.5-1.7 0.6 0.5 0.5 1.3 0.6-0.8 0.5-1 0.6 0.1 0.5-2.7V773.4H1092Z" fill="#c3c3c3" stroke="none"/>
<path d="M1092 648l0.3 20.7 0.2 12.8 0.3-19.7 0.2-15.9 0.3 6.9 0.2 7.4 0.3 27 0.2-3.7 0.3-4.4 0.2-30 0.3 10.8 0.2 3.5 0.3-8.6 0.2 33 0.3-29.6 0.3 14.9 0.2 2.3 0.3 14.1 0.2-12.3 0.3-21.4 0.2-3.9 0.3 21.7 0.2-3.4 0.3-4.4 0.2 16.2 0.3-19.5 0.2 6.9 0.3-17.1 0.2-1.5 0.3-1.2 0.3 3.4 0.2 21.5 0.3 4.5 0.2 5.6 0.3 0.2 0.2-6.1 0.3 0.2 0.2-2 0.3 7 0.2-35.6 0.3 32.5 0.2-20.2 0.3 0.3 0.3 11.7 0.2-15.7 0.3 17.2 0.2-3.2 0.3-16.3 0.2 21.5 0.3-25.8 0.2 26.2 0.3-15.1 0.2-5 0.3 23.9 0.2-24.6 0.3 19.2 0.2-2.9 0.3-24.8 0.3 12.2 0.2 7.2 0.3-5 0.2-6.3 0.3 24.4 0.2 5.4 0.3-30.1 0.2 11.8 0.3-2.7 0.2-10.4 0.3 28.5 0.2-11.5 0.3-7.8 0.2-10.8 0.3 12.7 0.3 10 0.2-18.7 0.3-3.2 0.2 18.4 0.3-18.7 0.2-8.1 0.3 8.8 0.2 16.7 0.3-4 0.2 9.5 0.3 6.5 0.2-24.5 0.3-10.6 0.2 40.1 0.3-20.9 0.3-7.9 0.2-7.4 0.3 30.1 0.2-29.7 0.3 14 0.2 3.1 0.3-31.6 0.2 19.8 0.3 19 0.2-14.4 0.3 12.5 0.2-15.6 0.3 16.8 0.3-5.3 0.2 1.3 0.3-0.4 0.2 5.9 0.3-20.4 0.2 27.3 0.3-16.7 0.2-10.1 0.3-2.8 0.2 33.6 0.3-19.2 0.2 11.9 0.3-4.9 0.2-18.2 0.3 0.6 0.3-3.4 0.2 13.3 0.3-19.2 0.2 6.9 0.3 6.7 0.2 7.5 0.3-14.9 0.2 28.1 0.3 5.3 0.2-7.5 0.3 4.3 0.2-34.1 0.3 23.4 0.2-16.8 0.3-1.5 0.3 14.6 0.2-8.9 0.3 4.7 0.2-9 0.3 9.9 0.2 11 0.3-18.6 0.2 3.1 0.3-8 0.2 21.9 0.3 8.4 0.2-8.4 0.3-9 0.2 16.8 0.3-23.5 0.3 6.9 0.2-18.7 0.3 26.3 0.2-15.7 0.3-9.6 0.2 4.9 0.3 9.5 0.2-13.6 0.3 0.9 0.2-3.8 0.3 35 0.2-22.5 0.3 18.2 0.3 6.8 0.2-36.3 0.3 7.9 0.2-5.2 0.3 3.3 0.2 31.9 0.3-37 0.2 12 0.3 6 0.2-16.3 0.3 5.2 0.2-0.4 0.3 11.6 0.2-0.2 0.3-11.5 0.3 29.8 0.2-1.1 0.3-21.2 0.2 8 0.3 6.8 0.2-0.3 0.3-11.6 0.2-6.3 0.3 2.8 0.2 16.9 0.3-19.8 0.2-0.1 0.3 8.9 0.2-15.1 0.3 22.6 0.3-18.2 0.2-3 0.3 22.3 0.2 12.8 0.3-7.3 0.2-31.3 0.3 25.2 0.2 14.3 0.3-27.2 0.2 25.8 0.3-28.4 0.2-4.3 0.3 5 0.2 2.9 0.3-15.4 0.3 29.9 0.2-9.1 0.3-6.4 0.2 1.9 0.3 13.7 0.2-6.5 0.3-11.2 0.2-5 0.3 8.9 0.2 20.8 0.3-23.9 0.2 14.9 0.3 2.7 0.3-21 0.2-2.6 0.3-2.8 0.2 32.6 0.3-8.1 0.2-25.8 0.3 0.2 0.2 21.9 0.3-1.8 0.2 13.5 0.3-12 0.2-19.9 0.3 10.4 0.2-6.4 0.3 17 0.3-23.1 0.2 21.3 0.3-19.4 0.2 7 0.3 28.3 0.2-22.8 0.3-14.3 0.2 1.4 0.3 21.8 0.2-18.5 0.3-5.7 0.2 19.1 0.3-2.9 0.2-2.7 0.3-6.1 0.3 14.9 0.2-7.2 0.3-10.5 0.2 18.9 0.3-14.9 0.2 20.4 0.3 4.2 0.2-26.6 0.3 25.5 0.2-35.3 0.3 7 0.2 30.6 0.3-21.3 0.2-11.4 0.3 10.8 0.3 0.8 0.2 20 0.3-19.9 0.2 1.5 0.3-13.4 0.2 21.4 0.3 6.3 0.2 4.6 0.3-26.2 0.2 11.3 0.3-3.2 0.2-8.8 0.3-12.7 0.3 17 0.2 8.4 0.3-25.7 0.2 36.1 0.3-24.2 0.2 8.2 0.3 11.3 0.2-6.3 0.3-14.8 0.2 4.1 0.3-1.7 0.2-0.7 0.3 3.1 0.2 7.2 0.3 13.3 0.3-21 0.2 23.2 0.3 3.7 0.2-15.9 0.3-0.6 0.2-13.4 0.3 12 0.2 1.8 0.3 7 0.2-0.7 0.3 3.7 0.2-5.7 0.3 6.1 0.2-0.3 0.3 4.6 0.3 9.3 0.2 9.5 0.3-7.1 0.2 11.3 0.3 5.9 0.2-10 0.3 10.1 0.2 4 0.3 2.7 0.2 3.4 0.3 1.2 0.2-2.4 0.3-7.4 0.2-4 0.3 13.4 0.3 4 0.2-14.7 0.3 11 0.2-10.1 0.3 8.1 0.2 5.5 0.3-8.8 0.2-0.1 0.3-5.2 0.2 13.5 0.3-4.6 0.2-1.7 0.3-10 0.3 4.3 0.2 0 0.3-4.1 0.2 4.3 0.3 0.7 0.2-4.7 0.3-6.5 0.2 13.7 0.3 5.6 0.2 2.5 0.3-10.4 0.2 1.6 0.3 1.2 0.2-8.5 0.3 15.9 0.3-10.5 0.2-3.7 0.3-1.5 0.2 13.7 0.3 1.4 0.2 1 0.3-6 0.2 2.6 0.3 5.2 0.2-20.9 0.3 7.3 0.2 8.4 0.3-4.3 0.2 8 0.3-12.2 0.3 6 0.2-7.6 0.3-6.4 0.2 6.8 0.3 3.2 0.2 10.2 0.3-11.1 0.2 7 0.3 2.7 0.2-4.9 0.3 0.2 0.2 2.3 0.3-10 0.2 3.8 0.3 1 0.3 6.7 0.2-21.5 0.3 8.3 0.2 6.4 0.3-18 0.2 12.2 0.3 12 0.2-11.4 0.3-0.3 0.2 4.4 0.3 1.5 0.2-0.8 0.3-9 0.3 0.5 0.2 7.3 0.3-5.6 0.2 12.6 0.3-1.5 0.2 6.7 0.3-17 0.2-1.6 0.3 4.1 0.2-6.9 0.3 0.6 0.2 3.4 0.3 1.5 0.2 9.2 0.3-5.1 0.3 0 0.2 0.7 0.3-5.1 0.2-2 0.3 5.3 0.2-6.2 0.3 0 0.2 6 0.3-8.6 0.2 13.6 0.3-1.2 0.2 1.3 0.3-0.5 0.2-13.2 0.3 15.2 0.3 4.5 0.2-1.2 0.3-15.2 0.2-5.9 0.3 17.2 0.2 0.3 0.3 4.9 0.2-14.6 0.3 14.2 0.2-8.9 0.3-10.7 0.2-3 0.3 15.9 0.2 1.5 0.3 8.6 0.3-12.8 0.2 1.1 0.3 5.7 0.2-14.9 0.3 0.9 0.2 7.8 0.3-4.6 0.2-3 0.3 12.7 0.2-0.4 0.3-19.9 0.2 13.2 0.3-10.9 0.3 22.5 0.2-7.7 0.3 7.7 0.2-6.5 0.3-3.6 0.2-13.5 0.3-2.3 0.2 22.7 0.3-11.1 0.2 1 0.3 1.6 0.2-7 0.3 21.1 0.2-7.9 0.3-12 0.3 8.9 0.2 2.9 0.3-0.4 0.2-16.7 0.3 15.3 0.2-6.7 0.3 14.8 0.2 0.5 0.3 2.1 0.2-14.9 0.3 14.7 0.2-12.3 0.3-4.7 0.2-4.1 0.3 17.5 0.3-17.1 0.2 11.4 0.3-12.9 0.2 3.3 0.3 4.6 0.2 5.7 0.3 1.1 0.2-2.2 0.3 3.7 0.2-16.1 0.3 8 0.2-1.2 0.3 7.6 0.2 0.9 0.3-2.7 0.3 0.1 0.2 2.6 0.3-5.7 0.2 4.3 0.3 3.7 0.2-9.6 0.3-5.5 0.2 13.4 0.3 2.1 0.2 2.8 0.3-1.8 0.2 1.7 0.3-18.3 0.2 19.3 0.3-7.5 0.3 5.6 0.2-2.3 0.3-3.9 0.2 5.8 0.3-11.4 0.2 3.3 0.3-1.9 0.2 5 0.3 3 0.2 0.3 0.3-7.4 0.2 2.2 0.3-4.9 0.3 6.8 0.2-0.9 0.3 0.4 0.2 0.2 0.3 8.2 0.2-0.5 0.3-3.3 0.2 0.7 0.3-5.7 0.2 0.9 0.3 3.5 0.2 2.7 0.3-7 0.2-1.4 0.3-0.9 0.3 8.5 0.2 3.5 0.3-9.4 0.2 5.6 0.3-0.4 0.2-4.3 0.3 4.2 0.2-0.6 0.3-2.1 0.2-3.6 0.3 4.5 0.2 1.1 0.3-16.3 0.2 14.3 0.3 3.8 0.3-2.6 0.2 2.2 0.3-0.8 0.2-1.5 0.3 3.3 0.2 0.1 0.3-1.3 0.2-1.6 0.3 3.8 0.2-0.3 0.3-2.2 0.2 2.2 0.3-0.5 0.2-1.4 0.3-1.3 0.3 3 0.2-1.7 0-1.4 0.8-0.7 0.8-1.8 0.7 3.5 0.8-2.8 0.8-2.1 0.7 1.7 0.8 0.2 0.8 1.7 0.8-1.1 0.7-2.9 0.8 0.6 0.8-1.1 0.8-2 0.7 2.7 0.8-2.4 0.8 0.9 0.8-0.6 0.7 0.1 0.8-1.1 0.8-0.2 0.7 0.4 0.8 0 0.8-2.4 0.8-1.2 0.7 3.3 0.8-2 0.8 5.2 0.8-4.2 0.7-1.3 0.8 0.4 0.8 1.7 0.7 1.9 0.8-1.2 0.8 0.2 0.8-1.4 0.7 1.6 0.8-0.6 0.8 0.7 0.8 1.8 0.7-3.7 0.8 1.4 0.8 0.6 0.8-0.2 0.7 1.4 0.8-0.7 0.8 0.3 0.7-3 0.8 4.4 0.8-2.6 0.8-0.3 0.7 0.7 0.8 2.6 0.8-1.8 0.8-2.5 0.7-0.5 0.8 2.9 0.8 0.5 0.7-1 0.8 0.5 0.8-1.6 0.8 1.4 0.7-0.5 0.8-0.3 0.8-0.4 0.8 0.4 0.7 3 0.8-2.1 0.8 0.2 0.8-0.9 0.7-0.8 0.8-2.6 0.8 3.4 0.7-1 0.8 0.8 0.8-1.7 0.8 2.4 0.7-4.1 0.8 2.7 0.8-1.1 0.8 0.3 0.7-0.5 0.8 1.2 0.8 0.7 0.7-1 0.8 1.2 0.8-2.2 0.8-0.1 0.7 0.9 0.8 1.5 0.8-1.3 0.8-0.2 0.7 1.2 0.8-1.1 0.8 0.2 0.8-1.1 0.7-0.7 0.8-0.9 0.8 1.5 0.7 1.9 0.8 0.4 0.8-2.6 0.8-1.4 0.7 0.3 0.8 2.7 0.8-1.7 0.8-0.5 0.7 4.2 0.8-1.9" stroke="#ff0000" stroke-width="1.1"/>
<path d="M1092 710l0.3-9.6 0.2 19 0.3-26.4 0.2 12.9 0.3 7.9 0.2 0.1 0.3-21.6 0.2 10.4 0.3 0.4 0.2-0.3 0.3 15.1 0.2-5.1 0.3-14.8 0.2 7.1 0.3-8.9 0.3 8.1 0.2-9.1 0.3-2 0.2 5 0.3-14.1 0.2 0.8 0.3 9.3 0.2-7.8 0.3 24.2 0.2-20.6 0.3 8.1 0.2 0.2 0.3 22.9 0.2-4.5 0.3-19.3 0.3 14 0.2-4.8 0.3-11 0.2-8.3 0.3 24 0.2 7.4 0.3-36.2 0.2 36.6 0.3 1 0.2-6 0.3 0.5 0.2-20 0.3 1.5 0.2-5.3 0.3 26.8 0.3 3.4 0.2-1.8 0.3-5.9 0.2-23.2 0.3-1.7 0.2 2.6 0.3 10.1 0.2 18.5 0.3-25.8 0.2 11.5 0.3-26.1 0.2 38.5 0.3-35.9 0.2 2.6 0.3 10.1 0.3-14.5 0.2 19.8 0.3 5.1 0.2-21.3 0.3 3.2 0.2 7.2 0.3-1.8 0.2 13.7 0.3-16.5 0.2-7.7 0.3 31.1 0.2-2.3 0.3-0.5 0.2-6.4 0.3 10.3 0.3-27.3 0.2 10.1 0.3 25.4 0.2-14.9 0.3-7 0.2-4.5 0.3 13.7 0.2-12.8 0.3-9.1 0.2 24.1 0.3-31.1 0.2 14.7 0.3 26.9 0.2-41.4 0.3-2.1 0.3 35.6 0.2-12.5 0.3 6.5 0.2-10.3 0.3-1.5 0.2-8.2 0.3 0.7 0.2 11.4 0.3-5 0.2 21.5 0.3-5 0.2-10.6 0.3-20.7 0.3-1.3 0.2 12.7 0.3 9.4 0.2-9.6 0.3 2.7 0.2 17.9 0.3 2.4 0.2 1.6 0.3-38.6 0.2-4.4 0.3 27.2 0.2 20.7 0.3-18.7 0.2-19.7 0.3 0.5 0.3 4.9 0.2 7.5 0.3-20.2 0.2 33.5 0.3-15.7 0.2 21 0.3-31 0.2-11.5 0.3 8.3 0.2 28.9 0.3-19.7 0.2 14 0.3 9.4 0.2-16.8 0.3-1.5 0.3 6.6 0.2-13.7 0.3 11 0.2-18.6 0.3 31.5 0.2-28.7 0.3 22.9 0.2-19.9 0.3 5.9 0.2 5.9 0.3-25.1 0.2 19 0.3 21.6 0.2-1.1 0.3 7.2 0.3-32.4 0.2 11.3 0.3 5.1 0.2 0.8 0.3-13 0.2-16.1 0.3 9.6 0.2 23.8 0.3-36.3 0.2 7 0.3 32.9 0.2 0.4 0.3-34.3 0.2 11.8 0.3-0.6 0.3-8.5 0.2 8.8 0.3 14.5 0.2-35.2 0.3 39.1 0.2 8.7 0.3-8.6 0.2 3.8 0.3-17.1 0.2-19.2 0.3 15.4 0.2 27.6 0.3-32.8 0.2-20.9 0.3 35.8 0.3-35.4 0.2 5.1 0.3 6.6 0.2 20.8 0.3 0.9 0.2-1.6 0.3 3.1 0.2-2.2 0.3-12.6 0.2 11.2 0.3 0.8 0.2-9.7 0.3-30 0.2 26.5 0.3 25.1 0.3-18.8 0.2-17.4 0.3 2.7 0.2-9.3 0.3 25.1 0.2-3.2 0.3 19.6 0.2-33.2 0.3 29.9 0.2-35.8 0.3 2.5 0.2 11.7 0.3 10.4 0.2-9.4 0.3 4 0.3 26.9 0.2-19 0.3-20.3 0.2 21.9 0.3-13.7 0.2-4.5 0.3-6.3 0.2-5.2 0.3 19.7 0.2 0.1 0.3-5.7 0.2 1.9 0.3 13.1 0.2-3.3 0.3 15.7 0.3-5.9 0.2-3.9 0.3-28 0.2-0.5 0.3 12.5 0.2-15.3 0.3 44.4 0.2-43.7 0.3 45.8 0.2-30.4 0.3-8.4 0.2-12.8 0.3 23.3 0.2-25.1 0.3 44.7 0.3-42 0.2 37.6 0.3-9.4 0.2-27.5 0.3 22.4 0.2-17.7 0.3 12.5 0.2 21 0.3-32.3 0.2-17.6 0.3 62.7 0.2-21.4 0.3-1.7 0.2-24.6 0.3 17.7 0.3 19.2 0.2 11.2 0.3-15.3 0.2-11.4 0.3 8.8 0.2 8.4 0.3-4.5 0.2-1.4 0.3-2.4 0.2 12.9 0.3 0.2 0.2-2.8 0.3-42.6 0.2 7.1 0.3 30 0.3-0.8 0.2-31.1 0.3 2.9 0.2 14.8 0.3-3.4 0.2 4.1 0.3-13.1 0.2 2 0.3 33 0.2-46.1 0.3 43.1 0.2 4.4 0.3 0.7 0.2-31.2 0.3 7 0.3 19.2 0.2-41.6 0.3 11.1 0.2 33.1 0.3-15.8 0.2 4.4 0.3-5 0.2-25.7 0.3 41.5 0.2-2.1 0.3-33.5 0.2 27.6 0.3-22.8 0.3 35.5 0.2 2.2 0.3-27 0.2-1.9 0.3-5.4 0.2 8.2 0.3-3.3 0.2 5 0.3-6.3 0.2 20.2 0.3-17.3 0.2 12.6 0.3 0.5 0.2-0.8 0.3 18.7 0.3-1.9 0.2-0.9 0.3-25.2 0.2 20.4 0.3 12.1 0.2-15.6 0.3-4.7 0.2 5.5 0.3 1.3 0.2-12.9 0.3-1.1 0.2 12.2 0.3-0.6 0.2-5.4 0.3 8.3 0.3 2.4 0.2-10.4 0.3-2.6 0.2 14.5 0.3-14.3 0.2 1.1 0.3-6.5 0.2 6.5 0.3-16.1 0.2 7.5 0.3-12.7 0.2 31.1 0.3-12.4 0.2-5.8 0.3-6 0.3 32 0.2-25.9 0.3 23.3 0.2-24 0.3 15.4 0.2-23.8 0.3 26.8 0.2 0.8 0.3-26.9 0.2 10.2 0.3 14.3 0.2 5 0.3-20.1 0.2 22.2 0.3-37.2 0.3 26.2 0.2-17.3 0.3 17.7 0.2-0.3 0.3-10.6 0.2-9.3 0.3 24.1 0.2-31.1 0.3 21.6 0.2-24.3 0.3 19.4 0.2-14.3 0.3 10.6 0.2 6 0.3-6.1 0.3 3.4 0.2 1.4 0.3 1.6 0.2-22 0.3 16.1 0.2 20.8 0.3-24.5 0.2-4 0.3 7 0.2-15.3 0.3 26.9 0.2-4.3 0.3-2.5 0.2 14 0.3-21.2 0.3 11 0.2-2 0.3 1.3 0.2-20.4 0.3-2 0.2 9.7 0.3 6.6 0.2-0.3 0.3-10.9 0.2-0.5 0.3-11.1 0.2 1.1 0.3 10.2 0.2 18 0.3-25 0.3 19.5 0.2-8.9 0.3-14.9 0.2 13.4 0.3 14.4 0.2-24.9 0.3 29.9 0.2-28.4 0.3 21 0.2-5.9 0.3 5 0.2-4 0.3 14.9 0.2-35.5 0.3 16.9 0.3 6.1 0.2-27.5 0.3 44.5 0.2-21.1 0.3-16.1 0.2-1.7 0.3 16.9 0.2 18.3 0.3-20.2 0.2-14.1 0.3 28.3 0.2-2.8 0.3-0.2 0.2-2 0.3-23.7 0.3 31.8 0.2-37.7 0.3 29.8 0.2-27.7 0.3 11.6 0.2 10.2 0.3-2.3 0.2 7.3 0.3-1.2 0.2-13.9 0.3 25 0.2-2.7 0.3-24.9 0.2 24.5 0.3-32.9 0.3 19.4 0.2-20.9 0.3 12.9 0.2 17.9 0.3-15.8 0.2 14.6 0.3 10.9 0.2-35 0.3 35.5 0.2-23.6 0.3-7.2 0.2-17.8 0.3 47 0.2-29.7 0.3 12.2 0.3-24.7 0.2 8.4 0.3 3.6 0.2 0.8 0.3 24.6 0.2-12.2 0.3 19.6 0.2-33.5 0.3 32.9 0.2-16.7 0.3 0.9 0.2-21.6 0.3 39.4 0.2-38.5 0.3 37.4 0.3-18.3 0.2-22.6 0.3 15.5 0.2 17.2 0.3-24.4 0.2 20.8 0.3-19.2 0.2-2.9 0.3 9.3 0.2-7.3 0.3 22.6 0.2-6.9 0.3-21.5 0.2 35.7 0.3-27.3 0.3 16.2 0.2 5 0.3-8.8 0.2-6.4 0.3-10.2 0.2 3.1 0.3 12.4 0.2 22.9 0.3-8.5 0.2-24.5 0.3 1 0.2-0.7 0.3 7.1 0.3-13.6 0.2 9.9 0.3 7.6 0.2-5.6 0.3 20.4 0.2-0.8 0.3 5.8 0.2-3.5 0.3-9.8 0.2 15.7 0.3-11.6 0.2-3.1 0.3 12.1 0.2-4.8 0.3-5.5 0.3-9.9 0.2-11.7 0.3 17.8 0.2 16.7 0.3-5.7 0.2-7.2 0.3-6.6 0.2 6.3 0.3 13 0.2-22.3 0.3 4.2 0.2 23.3 0.3-13.2 0.2 2.4 0.3-18.8 0.3 18.8 0.2-11.2 0.3-10.3 0.2 8.7 0.3-2.3 0.2 17.8 0.3 7.6 0.2-25 0.3-8.1 0.2 5.5 0.3 5.5 0.2 12.5 0.3-14.4 0.2 9.2 0.3 1.4 0.3-8.6 0.2 17.5 0.3-7.7 0.2-12.4 0.3 20.7 0.2-9.4 0.3-3.1 0.2 9.6 0.3-0.1 0.2-22.6 0.3 8.5 0.2 6 0.3 3.3 0.2-8.7 0.3 22.8 0.3-18.5 0.2 12 0.3-15.7 0.2 14.7 0.3 1.1 0.2 2 0.3-4.1 0.2-3.1 0.3 10.3 0.2-15.7 0.3-5.8 0.2 23.3 0.3-10.2 0.2-6.8 0.3 7.9 0.3 4.7 0.2-12.7 0.3 5.2 0.2-6.8 0.3 17.9 0.2-8.6 0.3 9.6 0.2-15.7 0.3 9.3 0.2-9.9 0.3 11.1 0.2 3 0.3 3.3 0.2-8.6 0.3 1.4 0.3-1.1 0.2 0.7 0.3-0.4 0.2 8.1 0.3-11.7 0.2 12.1 0.3-8.9 0.2-8.5 0.3 5.7 0.2 2.5 0.3 0.2 0.2 5 0.3-0.8 0.2 2 0.3 1.7 0.3-0.5 0.2 0.2 0.3-0.6 0.2-4.3 0.3 3.3 0.2-4.6 0.3-8.3 0.2 14.4 0.3-3.9 0.2 2.8 0.3-6.6 0.2 9.3 0.3-5.2 0.2 1.6 0.3-5.9 0.3 8.1 0.2 1.8 0.3-3.7 0.2-3 0.3 0.1 0.2 4.2 0.3 0.5 0.2-6 0.3 5.4 0.2-4.4 0.3 0.6 0.2-0.8 0.3 5.3 0.2-4.6 0.3 2.5 0.3 0.9 0.2-1.9 0.3 1.9 0.2 0.2 0.3-0.2 0.2-2.4 0.3 0.6 0.2 0.5 0.3 2.3 0.2-0.6 0.3 0.3 0.2 1.4 0.3-4.9 0.2-2.5 0.3-0.6 0.3 1.7 0.2 5 0.3 0 0.2-1.3 0.3 1.2 0.2-0.9 0.3-4 0.2 3.6 0.3-4.3 0.2 0.1 0.3 1.9 0.2-7.9 0.3 10.2 0.2-0.4 0.3-1.4 0.3 4.5 0.2-10.5 0.3 8.3 0.2-2.7 0.3-4.1 0.2 10.2 0.3-6.2 0.2 2.7 0.3 1.5 0.2 0.2 0.3-4.7 0.2 6 0.3-4.5 0.2-4.3 0.3 0 0.3 8.9 0.2-1.4 0.3 0.3 0.2 1 0.3-3.5 0 0.4 0.7 0.6 0.8-1.4 0.8-3.4 0.7 1.1 0.8 1.8 0.8-0.2 0.8 1.1 0.7-3 0.8 1.6 0.8 2.4 0.7-3.4 0.8 3 0.8-2.6 0.8 2.7 0.7-0.4 0.8-1.1 0.8-1.9 0.7 0.3 0.8 1.1 0.8-0.1 0.7-0.9 0.8-1.3 0.8 1.9 0.7-0.1 0.8-0.3 0.8 1.3 0.8-0.1 0.7-0.1 0.8 0.7 0.8-1.2 0.7-1.9 0.8 3.9 0.8-1.4 0.8 0.3 0.7-0.3 0.8-0.5 0.8-1.3 0.7 0.1 0.8 1.2 0.8 0.6 0.7 0.4 0.8-0.5 0.8 0.1 0.7-1.2 0.8 4.7 0.8-3.1 0.8 0.7 0.7-2.1 0.8-1.1 0.8-0.1 0.7 2.4 0.8-1.7 0.8-0.3 0.8 1.3 0.7-1.8 0.8 0.4 0.8 2.3 0.7-0.1 0.8-2.2 0.8 0.7 0.7-0.7 0.8 1.8 0.8-1.6 0.8 1.4 0.7-4.9 0.8 6 0.8-0.8 0.7-3.3 0.8-1.8" stroke="#0a7cff" stroke-width="1.1"/>
<path d="M1092 731.8l0.5 1.4 0.6 2.1 0.5-1.4 0.6 0.3 0.5-0.2 0.6-1.1 0.5 2.6 0.5-3.1 0.6 2.9 0.5-1.3 0.6-1.5 0.5 0.3 0.6 1.9 0.5-3.4 0.6 1.9 0.5 1.9 0.5-1.4 0.6 1.2 0.5-1.8 0.6 2.5 0.5-2.5 0.6 3.1 0.5-4 0.5 1.2 0.6-1.5 0.5 2.9 0.6 1.9 0.5-1 0.6-1.6 0.5-3 0.5 1.9 0.6-1 0.5 3 0.6-0.4 0.5-0.3 0.6-2.1 0.5 2.4 0.6-0.4 0.5-2.6 0.5 3.5 0.6-1.2 0.5 1.8 0.6-1.5 0.5-1.5 0.6-0.5 0.5 3.6 0.5 1.6 0.6-4.3 0.5-1.5 0.6 3.3 0.5-1.4 0.6 0.4 0.5 3 0.5 0.7 0.6-3.6 0.5-0.8 0.6 2.9 0.5-1.6 0.6 0.8 0.5 0.3 0.5 0.5 0.6-3.3 0.5 1.7 0.6 0.4 0.5 0.5 0.6-1.2 0.5 1.4 0.6-0.9 0.5 1.4 0.5-1.5 0.6 1 0.5-1.1 0.6 3.1 0.5-1 0.6 1 0.5-3.5 0.5 3.5 0.6-0.3 0.5 2.7 0.6-0.6 0.5 1.5 0.6-1.8 0.5 1.2 0.5-3.8 0.6 3.1 0.5-2.9 0.6 1.4 0.5-1.2 0.6 1.7 0.5-1.5 0.6-0.1 0.5 0.6 0.5-2.1 0.6 2.6 0.5-2.2 0.6-0.2 0.5-0.7 0.6 1.5 0.5-2.8 0.5 1.9 0.6-0.7 0.5 0.2 0.6-1 0.5-1.4 0.6-3.7 0.5 7.7 0.5-5.1 0.6 0 0.5-0.9 0.6 1.6 0.5-0.3 0.6-1.9 0.5 2.2 0.6-0.1 0.5 0.2 0.5-0.7 0.6-2 0.5 3.7 0.6-2.9 0.5 4.7 0.6-3.9 0.5 1.2 0.5-2.4 0.6 0.5 0.5 0 0.6 0.3 0.5 0.2 0.6 3.3 0.5-3.3 0.5 2.2 0.6-3.4 0.5 2.3 0.6-1 0.5 0.7 0.6-0.9 0.5-0.2 0.6-0.5 0.5 2.4 0.5-4 0.6 3.6 0.5-1.3 0.6 3.5 0.5-4.2 0.6-1.1 0.5-0.3 0.5 1 0.6 0.2 0.5 1.7 0.6-0.3 0.5-0.2 0.6-0.3 0.5 1.8 0.5-0.9 0.6-1.1 0.5 0.6 0.6 0.5 0.5 1.1 0.6-1.4 0.5 0.2 0.5-1.7 0.6 2.2 0.5-1.2 0.6 3.3 0.5-4.2 0.6 4.5 0.5-1.7 0.6 0.5 0.5 0.4 0.5-0.2 0.6 0.4 0.5-0.8 0.6-0.1 0.5-1.2 0.6 0 0.5-0.6 0.5 1.9 0.6 1.8 0.5-4.2 0.6 2.5 0.5 4.4 0.6-4.5 0.5 1.4 0.5 0.9 0.6-0.1 0.5-0.8 0.6 1.3 0.5-1.4 0.6 0.7 0.5 0.1 0.6-0.8 0.5 0.3 0.5-1.7 0.6 1.6 0.5 2.1 0.6-1.5 0.5-2.5 0.6-0.3 0.5 3.3 0.5-2.2 0.6 1.4 0.5-0.5 0.6 1.5 0.5 0 0.6-2.1 0.5-0.9 0.5-0.6 0.6 1.7 0.5-1.1 0.6-0.7 0.5 0.2 0.6 3.5 0.5-2.6 0.6-1.8 0.5-0.9 0.5 1.9 0.6-2.9 0.5 5.3 0.6-6 0.5 2.5 0.6-1.1 0.5 1.3 0.5 0.3 0.6-1.3 0.5-0.5 0.6 1.6 0.5-2.8 0.6 1.7 0.5-0.8 0.5 1.1 0.6-0.1 0.5-0.9 0.6 1.8 0.5-2.9 0.6 2.7 0.5-2.5 0.6 2.2 0.5-1.4 0.5 0.7 0.6-2.8 0.5-0.7 0.6 2.9 0.5-1.3 0.6 0.3 0.5-0.8 0.5-0.5 0.6-1.1 0.5 2.4 0.6 2.5 0.5-3.5 0.6 1.4 0.5-0.4 0.5-2 0.6-0.4 0.5 1.9 0.6-1.7 0.5 1.1 0.6-0.6 0.5 1.3 0.6-2.1 0.5 2.6 0.5-1 0.6-1.2 0.5 2.6 0.6-2 0.5-0.1 0.6-0.6 0.5-1.4 0.5 5.1 0.6-4.6 0.5 0.6 0.6-1.4 0.5 0.4 0.6 1.6 0.5-0.4 0.5 0.4 0.6-3.4 0.5 2.3 0.6-1.6 0.5 0.6 0.6 2.2 0.5-2.6 0.5-0.5 0.6-2.6 0.5 2.1 0.6 1 0.5-1.1 0.6-2.1 0.5 0 0.6-0.2 0.5-0.5 0.5 1.8 0.6-2.6 0.5 0.5 0.6 3.1 0.5-2.3 0.6-3 0.5 2.4 0.5-0.6 0.6-0.8 0.5 0 0.6 0.4 0.5-0.6 0.6 2 0.5 1.1 0.5-1.9 0.6 0.3 0.5-1.4 0.6-1.4 0.5 2.4 0.6-0.4 0.5-1 0.6 1.4 0.5 0.3 0.5 2.4 0.6-0.5 0.5 0.6 0.6-0.4 0.5-1.8 0.6 0.7 0.5 1.1 0.5 3.2 0.6-3.8 0.5 0 0.6 2.4 0.5-1.8 0.6 0.5 0.5-1.3 0.5 3.8 0.6-1.2 0.5-3.6 0.6 3.3 0.5-0.4 0.6-0.5 0.5-1 0.6-1.5 0.5 1.9 0.5-1.5 0.6 0.7 0.5 1.4 0.6-3.1 0.5 0.8 0.6 1.9 0.5-0.3 0.5 1.2 0.6 1 0.5-2.3 0.6-1.8 0.5 5.6 0.6-3.2 0.5-3.8 0.5 0.5 0.6 3.6 0.5-0.4 0.6-3 0.5 3.4 0.6-1.4 0.5 1.1 0.6-1.9 0.5 0.3 0.5-2.3 0.6 4 0.5 0.8 0.6-1.8 0.5-0.9 0.6 0.8 0.5-4 0.5 4.2 0.6-0.4 0.5-1.6 0.6-1.2 0.5 2.1 0.6-0.7 0.5 2.7 0.5-0.4 0.6-1.8 0.5-0.7 0.6 0.2 0.5 0.1 0.6-0.5 0.5 1.2 0.5 0.4 0.6-0.1 0.5 1.4 0.6-0.9 0.5 0.1 0.6-2 0.5-2.7 0.6 2.4 0.5-1.8 0.5 4 0.6-0.7 0.5-0.4 0.6-1.9 0.5-1.2 0.6 1.4 0.5 0.7 0.5 0.3 0.6 1.1 0.5-1.6 0.6 0.1 0.5 0.5 0.6 1.3 0.5-1.5 0.5 0.4 0.6 0.9 0.5-2.8 0.6 1.8 0.5-1.1 0.6 2.5 0.5-1 0.6 0.4 0.5 0.4 0.5-1.7 0.6 0.5 0.5 1.3 0.6-0.8 0.5-1 0.6 0.1 0.5-2.7" stroke="#7a1ff0" stroke-width="1.6"/>
</g>
<path d="M1092 773.4v-9.5M1167.9 773.4v-9.5M1243.8 773.4v-9.5M1319.7 773.4v-9.5M1130 773.4v-5M1205.8 773.4v-5M1281.8 773.4v-5M1092 570.9h9.5M1092 621.5h9.5M1092 672.2h9.5M1092 722.8h9.5M1092 773.4h9.5M1092 545.6h5M1092 596.2h5M1092 646.8h5M1092 697.5h5M1092 748.1h5" stroke="#000" stroke-width="2.2" fill="none"/>
<rect x="1092" y="545.6" width="227.7" height="227.8" fill="none" stroke="#000" stroke-width="2.2"/>
<text x="1092" y="802.4" font-size="22.6" font-weight="bold" text-anchor="middle">0</text>
<text x="1167.9" y="802.4" font-size="22.6" font-weight="bold" text-anchor="middle">10</text>
<text x="1243.8" y="802.4" font-size="22.6" font-weight="bold" text-anchor="middle">20</text>
<text x="1319.7" y="802.4" font-size="22.6" font-weight="bold" text-anchor="middle">30</text>
<text x="1079.5" y="578.5" font-size="22.6" font-weight="bold" text-anchor="end">−20</text>
<text x="1079.5" y="629.1" font-size="22.6" font-weight="bold" text-anchor="end">−40</text>
<text x="1079.5" y="679.8" font-size="22.6" font-weight="bold" text-anchor="end">−60</text>
<text x="1079.5" y="730.4" font-size="22.6" font-weight="bold" text-anchor="end">−80</text>
<text x="1079.5" y="781" font-size="22.6" font-weight="bold" text-anchor="end">−100</text>
<path d="M1204 557.1H1252" stroke="#ff0000" stroke-width="1.4" stroke-linecap="round"/>
<text x="1257" y="564.3" font-size="20.3">Input</text>
<path d="M1204 582.1H1252" stroke="#0a7cff" stroke-width="1.4" stroke-linecap="round"/>
<text x="1257" y="589.3" font-size="20.3">Output</text>
<rect x="1204" y="596.1" width="48" height="21.5" fill="#c0c0c0" stroke="#8a2be2" stroke-width="1.3"/>
<text x="1257" y="614.3" font-size="20.3">Noise</text>
<text x="1105.5" y="572.8" font-size="26.5" font-weight="bold">d2</text>
<text x="1205.8" y="849.4" font-size="33.5" text-anchor="middle">Frequency spectrum (GHz)</text>
<g clip-path="url(#cle2)" fill="none" stroke-linejoin="bevel">
<path d="M1776.2 731.6l0.5 1.9 0.6-0.2 0.5-0.8 0.6 0.6 0.5-1.5 0.6 3.7 0.5-2.9 0.6 1.2 0.5-1.7 0.5 0 0.6 0.6 0.5 2 0.6-0.1 0.5-0.9 0.6 0.9 0.5 2 0.6-0.7 0.5-2.4 0.5 1.9 0.6-1 0.5-0.4 0.6 1.9 0.5-1.3 0.6-2.4 0.5-0.1 0.5 1.2 0.6 0 0.5 1.1 0.6-0.4 0.5-1.1 0.6 3.3 0.5-1.6 0.6-0.1 0.5-1.6 0.5 2.6 0.6-4.1 0.5 3.7 0.6-3.9 0.5 2.9 0.6-0.2 0.5-2.1 0.6 4.7 0.5-3.4 0.5-1.4 0.6 3.6 0.5-2.3 0.6 1.9 0.5-2 0.6 1.6 0.5-1.9 0.6 2.1 0.5 0.1 0.5-0.3 0.6 0.9 0.5-3.3 0.6 1.1 0.5-0.8 0.6 0.4 0.5-0.3 0.5 3.5 0.6-2 0.5 0.8 0.6-0.1 0.5 0.1 0.6 2.2 0.5 0 0.6 1.1 0.5-4.5 0.5 1.7 0.6 1.2 0.5-1.2 0.6 1.4 0.5 0.2 0.6-0.7 0.5 0.3 0.6 1.3 0.5 0.8 0.5-1.3 0.6-3.1 0.5 4.3 0.6-1.6 0.5 0.6 0.6 2.1 0.5 1.8 0.6-1.9 0.5-1.5 0.5-1.4 0.6 1.1 0.5 0.6 0.6-3.6 0.5 2 0.6 0 0.5-1 0.6 3 0.5-4.2 0.5 3.8 0.6-2.2 0.5 1.7 0.6-1.6 0.5-2.9 0.6-1.3 0.5 0.7 0.5 0.1 0.6 3.2 0.5-6 0.6 3.2 0.5-1.5 0.6 0 0.5 0 0.6 2.8 0.5-1.8 0.5-1.1 0.6 2.3 0.5-1.7 0.6 0.7 0.5 2.1 0.6-2.8 0.5 0.3 0.6-2.5 0.5 2.3 0.5-1.9 0.6 1.1 0.5-1.3 0.6 4.4 0.5-3.1 0.6 1.2 0.5-1.9 0.6 1.3 0.5-0.5 0.5-0.1 0.6-0.9 0.5 1.5 0.6-1.6 0.5 0.4 0.6 0.2 0.5 0.8 0.5-2.5 0.6 0.8 0.5 0.1 0.6-1.4 0.5 2.3 0.6-1.2 0.5 1 0.6-1.8 0.5 0.6 0.5 1.3 0.6-0.5 0.5-0.1 0.6 1.7 0.5-2.4 0.6 1 0.5 0.6 0.6-1.9 0.5 4 0.5-2.3 0.6 0.8 0.5 0.4 0.6-0.1 0.5 1.3 0.6-2.4 0.5 3.3 0.6-0.3 0.5-0.7 0.5-3 0.6 1.4 0.5-0.1 0.6 2.5 0.5-1.4 0.6-0.6 0.5 1.8 0.6 0.6 0.5-3.3 0.5 3.5 0.6-0.3 0.5 0.5 0.6-1.2 0.5 0.5 0.6-2 0.5 4.9 0.5-1.4 0.6-0.5 0.5 0 0.6-0.3 0.5-0.8 0.6 0.5 0.5 0.1 0.6 2.9 0.5-1.7 0.5-0.7 0.6 2.2 0.5-2.4 0.6 1.6 0.5-1.2 0.6-0.7 0.5 0.7 0.6 1.1 0.5-1.1 0.5-0.4 0.6-0.7 0.5 0.4 0.6-2.6 0.5 1.8 0.6 1.2 0.5 0.2 0.6-4.8 0.5 1.4 0.5 1.9 0.6 0.4 0.5-3.4 0.6 0.7 0.5 0.5 0.6 1.9 0.5-3.5 0.5 1.7 0.6 3.3 0.5-4.4 0.6-0.3 0.5-0.6 0.6 1.2 0.5 0.8 0.6-1.5 0.5 0.5 0.5-0.7 0.6-2.5 0.5 2.5 0.6 1.1 0.5 0.8 0.6-3.9 0.5 1.5 0.6-1.4 0.5 1.2 0.5 1.7 0.6-0.2 0.5-0.9 0.6-1.7 0.5 1.9 0.6-0.8 0.5-0.8 0.6 0.7 0.5-1.1 0.5-0.1 0.6 0.5 0.5 1.7 0.6-2.6 0.5 1.2 0.6 0 0.5-1.3 0.5 0.8 0.6-1.5 0.5 3.8 0.6-4.4 0.5 2.5 0.6-1.4 0.5-0.8 0.6 1.2 0.5 1.3 0.5-1.2 0.6-1.2 0.5 1.7 0.6 0.4 0.5 0.4 0.6-1.9 0.5 0.6 0.6-0.2 0.5-1.9 0.5 1.4 0.6 1.5 0.5-1.3 0.6 0.5 0.5-0.6 0.6 0.3 0.5-2.9 0.6 0.8 0.5-0.9 0.5 4.3 0.6-4.2 0.5 0.6 0.6-1.3 0.5 1.6 0.6-3.2 0.5 0.2 0.6 0.3 0.5 1.1 0.5 0.1 0.6-2.6 0.5 3.5 0.6-3.1 0.5-1.6 0.6 2.6 0.5-3.3 0.5 0.6 0.6 1.8 0.5-1.6 0.6 0.4 0.5 1.7 0.6-6.5 0.5 3.4 0.6-1.8 0.5 0.4 0.5-0.1 0.6 3.6 0.5-2.9 0.6 0.9 0.5 1.4 0.6-1.1 0.5-2.2 0.6 3.9 0.5 1.6 0.5-1.5 0.6-1 0.5-1.1 0.6 1.7 0.5-1.6 0.6-2.1 0.5 3.7 0.6-2 0.5 3.2 0.5-0.9 0.6 1.3 0.5-1.7 0.6 3.5 0.5-3.8 0.6 3 0.5-2.3 0.5 1.6 0.6-0.3 0.5-0.7 0.6 0.4 0.5 0.5 0.6 1.3 0.5-4.1 0.6 1.7 0.5 0.4 0.5-0.3 0.6 1.2 0.5-0.5 0.6-0.1 0.5 0.5 0.6-1.5 0.5 0.1 0.6-0.1 0.5 2 0.5-1 0.6 0.1 0.5 0.6 0.6-3.4 0.5 2.1 0.6-2.5 0.5 0.8 0.6 2.7 0.5-0.5 0.5 0.2 0.6-2 0.5 2.1 0.6-0.8 0.5 1.6 0.6-1.8 0.5-0.4 0.6-0.5 0.5 1.6 0.5 0.6 0.6-0.9 0.5-0.4 0.6 0 0.5-0.2 0.6 0.8 0.5-1.9 0.5 2 0.6 0.7 0.5-1.3 0.6 0.2 0.5 1.4 0.6 0.3 0.5-3.9 0.6 3.2 0.5-3 0.5 1.2 0.6 0.3 0.5-2 0.6-0.7 0.5 6.1 0.6-5.1 0.5 0.4 0.6 0.5 0.5 1.6 0.5-1.7 0.6 1.9 0.5-1.5 0.6-0.3 0.5 0.6 0.6-2.1 0.5-0.5 0.6 2.7 0.5-0.1 0.5-1.8 0.6 0.3 0.5 1.4 0.6-0.6 0.5-2.3 0.6-0.2 0.5 2.9 0.5-1.3 0.6-0.3 0.5 1.7 0.6-0.7 0.5 2 0.6-2.1 0.5 1.4 0.6-3.6 0.5 2.9 0.5 0 0.6 0.2 0.5-0.6 0.6-1.6 0.5 0.8 0.6 1.4 0.5-2.2 0.6 1 0.5-1.6V773.4H1776.2Z" fill="#c3c3c3" stroke="none"/>
<path d="M1776.2 670.3l0.3 19 0.2-19.5 0.3-29.3 0.2 27.7 0.3 8.2 0.2-34 0.3 7 0.2-4.5 0.3 12.4 0.2 11.4 0.3-15.7 0.2 36.4 0.3-14 0.3 16 0.2-0.5 0.3-36.1 0.2 19 0.3-27.1 0.2 12.1 0.3 6.1 0.2-4.8 0.3 3.1 0.2 3.2 0.3 14.5 0.2-14.6 0.3-13.3 0.3 8.4 0.2 15.4 0.3 2.7 0.2-21.3 0.3 24.3 0.2-37.1 0.3 22.9 0.2-8.7 0.3 3 0.2 6 0.3-12.4 0.2 28.4 0.3-21.6 0.3 18.3 0.2-5.2 0.3-27.8 0.2 38.9 0.3-7.4 0.2 12.1 0.3-2 0.2-6.4 0.3 6.1 0.2-7.6 0.3-21.5 0.2 15.9 0.3 14.1 0.2-37.3 0.3 13.1 0.3 12.1 0.2-5.8 0.3 11.7 0.2-22.7 0.3-6.8 0.2 8.8 0.3-12.6 0.2 2.4 0.3 17.3 0.2 16.4 0.3-4 0.2-25.3 0.3 1.5 0.3 17.9 0.2 12.4 0.3-15.2 0.2-23.8 0.3 26.8 0.2-0.8 0.3-7.2 0.2 13.3 0.3-3.8 0.2 5.8 0.3-8.8 0.2 6.5 0.3 6.2 0.3-35 0.2 21 0.3 14.1 0.2-27.1 0.3-2.8 0.2-11.3 0.3 16.8 0.2 0.1 0.3 22.8 0.2-27.5 0.3-12.5 0.2 18.1 0.3 25.9 0.3-6.5 0.2-23.5 0.3 8.9 0.2-9.7 0.3 22.6 0.2-2.2 0.3-8 0.2-25 0.3 19 0.2 19.7 0.3-28.6 0.2 25.1 0.3-33.6 0.3-0.9 0.2 6.6 0.3 20.7 0.2-1.3 0.3-12.9 0.2 19.7 0.3-20.9 0.2 8.4 0.3-9.5 0.2-1.2 0.3-7 0.2 15.4 0.3-14.9 0.3 12.2 0.2-13.3 0.3 40.4 0.2-21.2 0.3-9.8 0.2-4.1 0.3 12.2 0.2-17.1 0.3 26.3 0.2 7.6 0.3-23.8 0.2-2.6 0.3 28.7 0.3-31.3 0.2-9.6 0.3 3.1 0.2 36.8 0.3-6.1 0.2-5.1 0.3 14.5 0.2-29.2 0.3 17.1 0.2 6 0.3-29 0.2 26.6 0.3 4.3 0.2-16 0.3-17.6 0.3 7.8 0.2 17.5 0.3-16.9 0.2 0.8 0.3 6.8 0.2 14.2 0.3-25.4 0.2-3.9 0.3-0.6 0.2 16.3 0.3 8.4 0.2 9.8 0.3-24.9 0.3 16.1 0.2-7.1 0.3 4.8 0.2-7.4 0.3 10.4 0.2-27.2 0.3 20 0.2 7.7 0.3 4.2 0.2-28.2 0.3 2.6 0.2 18.1 0.3-26.5 0.3 34.6 0.2-32.6 0.3 3.4 0.2-6.6 0.3 34.2 0.2-16.3 0.3-1.7 0.2-2.8 0.3 21.5 0.2-1.8 0.3-14.7 0.2 14.2 0.3-18 0.3 3.2 0.2-9.2 0.3 27.5 0.2-17.5 0.3-4.8 0.2-3.7 0.3-5.2 0.2 6.6 0.3-1.7 0.2 22.3 0.3-11.8 0.2-2.7 0.3-12.5 0.3-2.1 0.2 5.2 0.3 10.1 0.2 0.8 0.3-15 0.2 2.5 0.3-3.7 0.2-6.4 0.3 7.2 0.2 17.8 0.3 1.3 0.2-15.8 0.3 29.3 0.3-19.6 0.2-2.3 0.3-4.6 0.2 8 0.3 13.9 0.2 0.2 0.3-20.8 0.2-2.3 0.3 11.5 0.2 14.2 0.3-16.2 0.2 4.5 0.3-24.1 0.3 16.5 0.2 18.3 0.3-0.2 0.2-1 0.3-6.5 0.2-12.4 0.3 25.7 0.2-34.8 0.3-0.4 0.2 1.3 0.3 30.1 0.2-27.3 0.3 12.9 0.3 6.1 0.2-15.6 0.3 13 0.2 2.1 0.3-3.7 0.2-22.7 0.3 9.2 0.2-2.7 0.3 6.5 0.2 8.1 0.3-19.4 0.2 7.4 0.3 27.2 0.2-27.9 0.3-4 0.3 30.7 0.2-1.5 0.3-26.7 0.2 30.5 0.3-11.5 0.2-21 0.3 7.2 0.2-7.5 0.3 32.4 0.2-29.6 0.3 22.2 0.2 1.1 0.3-13.3 0.3 15.2 0.2-18.3 0.3 5.5 0.2 7.4 0.3-21.1 0.2 29.5 0.3-23 0.2-2.4 0.3 9.1 0.2-17.1 0.3 14.6 0.2-10.7 0.3 19.9 0.3 14.1 0.2-23 0.3 2.4 0.2-8.5 0.3 27.2 0.2-23.7 0.3 22.6 0.2-5.7 0.3 8.6 0.2-24.7 0.3 9.4 0.2-12.1 0.3 0.3 0.3 20.7 0.2-18 0.3 12.4 0.2-15.5 0.3-3.9 0.2 32.2 0.3-8.6 0.2-1.8 0.3 7.2 0.2 6.5 0.3-11.1 0.2 8.5 0.3-11.1 0.3 3.5 0.2 18.9 0.3-5.6 0.2-2.5 0.3 12.1 0.2-6 0.3 6.7 0.2 3.6 0.3-4.3 0.2 11 0.3-3.5 0.2 8 0.3-6.6 0.3 14.2 0.2 0 0.3-4.5 0.2 6.5 0.3-23.1 0.2 11.9 0.3-11.8 0.2 10.8 0.3 1 0.2 10.4 0.3-7.6 0.2-4.7 0.3-3.6 0.3 9.9 0.2-11.5 0.3 8.1 0.2 9.1 0.3-26.2 0.2 18.9 0.3-7.3 0.2 11.8 0.3 5.1 0.2-11.2 0.3-8.2 0.2 2.4 0.3-7.7 0.2 16.6 0.3-5.2 0.3 12.3 0.2-8.5 0.3-15.5 0.2 8.6 0.3 9.6 0.2-3.9 0.3 2.9 0.2-7.2 0.3-11.3 0.2 26.6 0.3-15.5 0.2-0.4 0.3-1 0.3 16.7 0.2-23.3 0.3 11.5 0.2 7.7 0.3-14.7 0.2-7.7 0.3 9.4 0.2 2.4 0.3 0.4 0.2 3.9 0.3-16.2 0.2 1.4 0.3 21.1 0.3-21.2 0.2 12.7 0.3-13 0.2 25.5 0.3-15.7 0.2 9.2 0.3-14.2 0.2-0.7 0.3 12.5 0.2-1.2 0.3-10.9 0.2-7.1 0.3 28.2 0.3-0.3 0.2-11 0.3 11.5 0.2-22 0.3-2.5 0.2 20.7 0.3 3 0.2-1 0.3-1.3 0.2-12.1 0.3 11.7 0.2-3 0.3 4.7 0.3-12.3 0.2 13.4 0.3-10 0.2-3.2 0.3-10.2 0.2-2.4 0.3 26.3 0.2-11.5 0.3-10.9 0.2 11.2 0.3-15.6 0.2 18.4 0.3-14.1 0.3-1.6 0.2 4.3 0.3 6.1 0.2-2.8 0.3-3.2 0.2-0.1 0.3 4.1 0.2-5.8 0.3 13.6 0.2-6.3 0.3 14 0.2-16.8 0.3 7.6 0.3-9.2 0.2 16.8 0.3-7.8 0.2-4.4 0.3 2 0.2-12.3 0.3 4 0.2 11.6 0.3-2.5 0.2-12.2 0.3 1.3 0.2 22.4 0.3-12.8 0.3-1.5 0.2 3 0.3-2.3 0.2 3 0.3 7.9 0.2-22.6 0.3 8.7 0.2-8.6 0.3 14.6 0.2-13.8 0.3 14.6 0.2-10.1 0.3 6.9 0.2 4.8 0.3 2.4 0.3-15.2 0.2-4.7 0.3 5.2 0.2 5.1 0.3 1 0.2 6.2 0.3-8.1 0.2 4.5 0.3-2.3 0.2 6.4 0.3-19.3 0.2 15.6 0.3 0.6 0.3-4.5 0.2 12.4 0.3-0.1 0.2-23.5 0.3 24.6 0.2-0.9 0.3-18.2 0.2 3 0.3-5.2 0.2 7.3 0.3 10.8 0.2 0.6 0.3-1.7 0.3-7.1 0.2 7.9 0.3-7.3 0.2 9 0.3-0.2 0.2 0.8 0.3-5.1 0.2-3.1 0.3 2.9 0.2-4.2 0.3 6.7 0.2-3.2 0.3-3.6 0.3 5.8 0.2 3.7 0.3 0.4 0.2-4.6 0.3-1.2 0.2 3.9 0.3 0.7 0.2-5.1 0.3-2 0.2 3.3 0.3-5.9 0.2 6.3 0.3 3.9 0.3 0.4 0.2-1.6 0.3 0.9 0.2-5 0.3 6 0.2-0.6 0.3 0.2 0.2-6.9 0.3 5.9 0.2-1.7 0.3-12.7 0.2 6.2 0.3 8.3 0.3-6.6 0.2 2 0.3 4 0.2-5.8 0.3 4.6 0.2-0.3 0.3-4.1 0.2 6.4 0.3-3.8 0.2 4.2 0.3-1.8 0.2-1.4 0.3-4.9 0.3 0.8 0.2 5.2 0.3 1.1 0.2-4 0.3 4.3 0.2-4.3 0.3 5.6 0.2-0.5 0.3-0.4 0.2-5 0.3 3.6 0.2-0.3 0.3 2.6 0.2-0.4 0.3-1.8 0.3 0.7 0.2-0.3 0.3 1.5 0.2-2.8 0.3-1.2 0.2 0.6 0.3 2 0.2 2.3 0.3-1.9 0.2-3.3 0.3 4.2 0.2-4.6 0.3 3.3 0.3-1.4 0.2 3.6 0.3-9.2 0.2 7.8 0.3 0.1 0.2-3.2 0.3 1.7 0.2 0.1 0.3-3.2 0.2 5.5 0.3-1.5 0.2-2.7 0.3 4.4 0.3-3.9 0.2 1.6 0.3-0.1 0.2-2.4 0.3 1.2 0.2-1.9 0.3 0 0.2 6.1 0.3-5.4 0.2 1.3 0.3 2.4 0.2-1.4 0.3 0.3 0-2.4 0.8 1.7 0.7-0.3 0.8-0.7 0.8-2.1 0.7 0.6 0.8 0.1 0.8-2.5 0.7-0.3 0.8 1.8 0.8-1.5 0.7 1.3 0.8-2.7 0.8 0.7 0.7-0.7 0.8 2.5 0.8-2.1 0.7-0.1 0.8-2.9 0.8 0.8 0.7-0.5 0.8-0.5 0.8 0.1 0.7 2.2 0.8 1.5 0.8-0.3 0.8-1.7 0.7 3 0.8-0.5 0.8-1.4 0.7 1 0.8-0.7 0.8 0.8 0.7-0.9 0.8 2.8 0.8 2 0.7-3.4 0.8-1.8 0.8 1.1 0.7 3.2 0.8-4.3 0.8 2.8 0.7 0.6 0.8-1.5 0.8 0.2 0.7 1.4 0.8-0.1 0.8-0.3 0.7-0.4 0.8-3.7 0.8 3 0.7-3.2 0.8 3.7 0.8-0.7 0.7-1.7 0.8 0.3 0.8 1.2 0.7-0.3 0.8 0.8 0.8-0.7 0.7-2.9 0.8 1.1 0.8 2.2 0.7-5.2 0.8 3.3 0.8 1.7 0.7 2.2 0.8-3.6 0.8-0.4 0.7 0.7 0.8 1.4 0.8-0.2 0.7 0.2 0.8-1.2 0.8 0 0.7 1.1 0.8-0.7 0.8-1.6 0.7 0.3 0.8-0.4 0.8 2.3 0.8-2.2 0.7 1.4 0.8-0.9 0.8 0.2 0.7-1.5 0.8 2.9 0.8-1.2 0.7-0.1 0.8 1.3 0.8 0.6 0.7-2.6 0.8 0.4 0.8-1.1 0.7 0.3 0.8 1.4 0.8 0.6 0.7-3.2 0.8 1.6 0.8 2.4 0.7-1.4 0.8-1.8 0.8-0.5 0.7 0.4 0.8 0.5" stroke="#ff0000" stroke-width="1.1"/>
<path d="M1776.2 718.1l0.3-13 0.2-17.5 0.3-5.3 0.2 37.7 0.3-27.7 0.2 7.5 0.3 1.1 0.2 7.2 0.3 9.5 0.2 0.9 0.3-15.2 0.2-34 0.3 39.1 0.3-19.4 0.2 8.2 0.3-18 0.2 10 0.3-20.9 0.2 12.1 0.3-3.4 0.2 23.9 0.3 15.8 0.2-51.8 0.3 23.1 0.2-4.1 0.3-13 0.2 26.4 0.3-33.7 0.3 31.8 0.2 21 0.3-33.1 0.2-20.1 0.3 44.6 0.2-44.1 0.3 7.9 0.2 8 0.3 3.3 0.2 14.9 0.3-5.4 0.2 15.8 0.3-24.2 0.3-6.6 0.2-10.3 0.3 41.7 0.2-35.2 0.3 36.7 0.2-26.3 0.3 3.9 0.2-12.7 0.3 22.7 0.2-21.3 0.3 27 0.2 6.7 0.3-26.1 0.2 37.8 0.3-53 0.3 9.2 0.2 35.8 0.3-1.8 0.2-25.1 0.3-18.2 0.2 49.9 0.3-27 0.2 5 0.3 6.3 0.2-25.4 0.3-2.1 0.2 6.3 0.3 3.5 0.3 9.7 0.2 11.2 0.3-29.3 0.2-0.5 0.3 13.6 0.2-11.8 0.3 21.4 0.2 4.5 0.3-3.3 0.2-27.2 0.3-4.9 0.2 26.4 0.3-29.8 0.3 5.6 0.2 27.3 0.3-28.4 0.2 17.4 0.3 1.5 0.2 12.2 0.3-35.7 0.2 22.1 0.3-9.8 0.2 0.2 0.3 13.7 0.2-22.7 0.3 1.3 0.2 10.3 0.3 4.5 0.3-9 0.2 12.6 0.3-23 0.2 4.2 0.3 6.3 0.2-11.7 0.3 45.1 0.2-11.9 0.3-15.3 0.2-22.1 0.3 21.7 0.2 7.8 0.3 10.9 0.3-15.8 0.2 26.6 0.3-10.4 0.2-8 0.3-21 0.2 14.7 0.3-3.8 0.2 17 0.3 18.7 0.2-9 0.3-34.7 0.2 48.3 0.3-14.4 0.2 9.6 0.3-40.9 0.3-9 0.2 51.9 0.3-30.7 0.2 32.6 0.3-46.2 0.2 7.6 0.3-4 0.2-14.1 0.3 50 0.2-23.8 0.3 0.8 0.2-12.4 0.3 15.3 0.3-20.2 0.2 5.6 0.3 21.5 0.2 16.6 0.3 0.7 0.2-41.9 0.3 41.1 0.2-29.6 0.3-22.6 0.2 36 0.3 4 0.2-9.3 0.3-24 0.2 12.3 0.3-14.5 0.3 4.3 0.2 40.5 0.3-11.6 0.2 11 0.3-26 0.2-15.4 0.3-2.5 0.2 38.9 0.3-23.7 0.2 13.7 0.3-22.6 0.2 22.6 0.3-3.3 0.3-15.7 0.2-7.3 0.3 6.8 0.2-4.9 0.3 12.3 0.2-14.3 0.3 9.1 0.2-5.9 0.3-1 0.2 2.1 0.3 11.7 0.2 14.2 0.3-9 0.3 14.1 0.2-3.1 0.3 13.6 0.2-21.9 0.3-13.4 0.2-0.1 0.3-2.8 0.2-0.7 0.3 19 0.2-18 0.3 10.5 0.2-14.4 0.3 21.8 0.2-26.7 0.3 24.2 0.3 4.5 0.2 17.3 0.3-17.8 0.2-12.9 0.3 0.4 0.2-15.4 0.3-8.8 0.2 5.9 0.3-4.4 0.2 15.9 0.3-6.4 0.2-10.4 0.3 7.3 0.3 8.5 0.2 8.6 0.3-19.6 0.2 17.2 0.3-5.7 0.2 23.3 0.3-10.8 0.2 12.8 0.3 8.7 0.2-44.8 0.3-0.8 0.2 37.9 0.3-7 0.2-35.4 0.3 2 0.3 2.9 0.2-2.6 0.3 15.8 0.2-1 0.3 9.7 0.2 17.4 0.3 9.4 0.2-49.6 0.3 36.6 0.2-22.2 0.3 4.3 0.2 4.2 0.3-20.4 0.3 5.1 0.2 7.3 0.3-11.7 0.2-0.8 0.3 21.4 0.2-15.4 0.3-2.9 0.2 33.9 0.3-26.8 0.2-4.3 0.3-17.4 0.2 42.6 0.3-5.4 0.3-33.3 0.2 12.5 0.3 2 0.2-0.5 0.3-19.4 0.2 46.8 0.3 2.4 0.2-52.3 0.3 3.8 0.2 25.5 0.3 22.4 0.2-23.9 0.3 31.9 0.2-34.8 0.3-12.6 0.3 18.8 0.2-21.8 0.3 2 0.2 27.5 0.3 12.6 0.2-35.8 0.3 21.3 0.2-27.1 0.3 10.3 0.2-15.5 0.3 2.6 0.2 20.2 0.3-27.8 0.3-1.8 0.2 58 0.3 0.2 0.2-42.8 0.3 28.4 0.2-31.2 0.3 1.6 0.2 42.8 0.3-29.6 0.2 16.6 0.3-29.3 0.2 6.6 0.3-4 0.2-1.2 0.3-3.4 0.3 29 0.2 24.9 0.3-2.1 0.2 1.6 0.3-4.4 0.2-11.1 0.3-6.1 0.2 9.8 0.3 0.8 0.2-12.5 0.3-15.9 0.2 14.4 0.3 21.3 0.3-17.5 0.2 15.1 0.3-24.3 0.2 24 0.3-16 0.2 6.6 0.3 4.1 0.2-14.5 0.3 15.8 0.2-11.4 0.3 6.7 0.2 10.2 0.3-8.1 0.2-4.5 0.3-4.2 0.3 10 0.2-2 0.3 4.4 0.2-9.1 0.3-3.9 0.2-4.7 0.3 1.6 0.2 4.1 0.3 17 0.2 3.6 0.3-22.4 0.2 5.5 0.3 10.3 0.3 4.5 0.2-12.5 0.3 11.8 0.2-9.7 0.3 0.8 0.2-23.6 0.3 23.8 0.2-14.6 0.3-2 0.2 0.2 0.3-7.7 0.2 16.8 0.3-2.3 0.3-17.1 0.2 4.5 0.3-16.4 0.2-1.8 0.3 6.2 0.2-6.6 0.3 28 0.2 3.9 0.3-8.6 0.2-21.2 0.3 2.1 0.2 23.9 0.3 12.2 0.2-13.5 0.3-5.5 0.3-11.6 0.2 0 0.3 27.2 0.2-41.1 0.3 5 0.2 14.2 0.3 14.4 0.2-0.2 0.3-29.5 0.2-4.3 0.3 9.5 0.2-14.7 0.3 37.9 0.3-27.5 0.2-14.5 0.3 9.6 0.2-1.5 0.3 0.7 0.2 4.2 0.3 30 0.2-44.8 0.3 25 0.2-22.3 0.3 21.6 0.2 9.8 0.3-22.4 0.2-6.2 0.3 16.3 0.3-14.9 0.2 33.9 0.3 8.4 0.2-28.7 0.3 5.3 0.2 3.4 0.3-3.8 0.2-18.5 0.3 17.7 0.2-20.6 0.3 8.7 0.2 23 0.3-2.2 0.3-5.8 0.2-16.8 0.3 25.5 0.2-22.4 0.3-4.1 0.2 4.6 0.3-0.1 0.2 20.8 0.3-10.2 0.2 12.7 0.3-8.4 0.2 4.5 0.3 12.3 0.3-8.7 0.2-14.8 0.3-4.2 0.2 27.2 0.3 7.1 0.2-19 0.3-11 0.2-1.7 0.3 32.2 0.2-22.4 0.3-0.1 0.2 3.1 0.3 21.7 0.2-41.9 0.3 38.2 0.3-31.2 0.2-6.4 0.3 38.3 0.2-32.9 0.3 3.9 0.2 9.8 0.3-9.1 0.2 10.9 0.3-10.8 0.2-9 0.3 40.7 0.2-28.9 0.3 14.8 0.3-36.4 0.2 21.1 0.3 0.6 0.2 8 0.3-5.1 0.2-2.9 0.3 2.1 0.2-7.7 0.3 31.8 0.2-4.1 0.3 8.4 0.2-26.9 0.3 3.2 0.2 17.4 0.3-15 0.3 14.3 0.2 7.5 0.3 0.6 0.2-17.8 0.3 20.5 0.2-5.1 0.3 2.3 0.2 6.7 0.3-18.2 0.2-1 0.3 12.4 0.2-5.2 0.3 11.2 0.3-6.3 0.2 0 0.3-4.1 0.2 7.7 0.3-2.1 0.2 5.4 0.3-13 0.2 9 0.3-5.7 0.2 15.4 0.3-4.5 0.2-5.2 0.3-4.6 0.2 5 0.3-1.4 0.3-7.8 0.2 3.5 0.3 4.4 0.2-8.1 0.3 8.6 0.2 4.4 0.3 1.7 0.2-2.1 0.3-3.2 0.2 2.2 0.3-1.3 0.2 1.9 0.3-3 0.3-9.7 0.2 18.5 0.3-16.9 0.2 1.3 0.3 1.1 0.2 6.8 0.3-4.7 0.2 0.5 0.3-1.5 0.2 2.8 0.3-4.9 0.2 16.3 0.3-1.9 0.3-8.2 0.2-6.6 0.3-1.7 0.2 15.2 0.3-15.4 0.2-1.3 0.3 14.3 0.2-0.8 0.3 6.1 0.2-6.8 0.3 0.4 0.2-13.4 0.3 13.1 0.2 7.5 0.3-6.5 0.3-10.1 0.2 9.7 0.3 0.7 0.2-3.9 0.3 9.9 0.2-8.3 0.3-9.5 0.2 0.7 0.3 6 0.2-3.6 0.3 8.3 0.2-12 0.3 14.8 0.3-5.3 0.2-5.5 0.3 5.1 0.2 1.5 0.3-2.1 0.2-0.6 0.3 3.7 0.2-10.5 0.3 3.1 0.2-0.7 0.3 10.7 0.2-9.2 0.3-3 0.2 15.2 0.3-14.5 0.3-5.7 0.2 9.2 0.3 9.3 0.2 3.8 0.3-15.4 0.2 2.6 0.3-1.2 0.2 8 0.3 4.1 0.2-0.7 0.3-8.6 0.2-9.2 0.3 20.5 0.3-19.8 0.2 8.7 0.3-1.8 0.2 7 0.3-10.1 0.2-4.5 0.3 9.3 0.2-4.4 0.3 11.7 0.2-9.2 0.3 1.3 0.2 7.8 0.3 4.6 0.3-16 0.2 6.4 0.3-0.5 0.2-1.3 0.3-8.1 0.2 17 0.3-6.4 0.2 8.8 0.3-9.7 0.2 4.1 0.3-8.4 0.2 10.2 0.3-7.5 0.2 1.3 0.3-5.7 0.3 13.8 0.2-7.2 0.3 2.3 0.2-1 0.3 6.2 0.2-14.5 0.3 10.9 0.2-6.3 0.3-1.4 0.2-4.6 0.3 14.8 0.2-8.4 0.3 2.2 0.3 6.2 0.2-6.8 0.3 5.3 0.2 3.7 0.3-8.8 0.2-1.3 0.3-3.7 0.2 5.1 0.3 4.8 0.2-7.7 0.3 4.2 0.2 4.3 0.3-8.4 0.2 12 0.3-4.5 0.3-4.8 0.2 0.7 0.3 1.8 0.2-3.6 0.3 0.6 0.2 6.3 0.3-6.9 0.2 3.3 0.3 4.4 0.2-7.1 0.3 1.8 0.2-6.1 0.3 5.1 0.3 7.3 0.2 1 0.3-5.1 0.2 4.5 0.3-1.9 0.2-2.1 0.3-0.8 0.2 0.1 0.3-2.5 0.2-4.5 0.3 9.7 0.2-1.9 0.3-7.3 0.2 3 0.3-4.8 0.3 8.1 0.2-1.5 0.3-1.4 0.2 7.6 0.3-6.1 0.2-0.6 0.3 0.5 0.2-3 0.3 2 0.2 5.8 0.3-5.9 0.2 4.3 0.3 3.3 0.3-4.7 0.2-2.1 0.3-4.3 0.2 8.5 0.3 2.6 0.2-6.6 0.3 7.1 0.2-12 0.3 8.1 0.2 0.2 0.3 3.6 0.2 0.6 0.3-8.8 0.3 5.6 0.2-3.9 0.3 5.6 0.2-10.8 0.3 4.5 0.2-0.2 0.3 1.1 0.2-0.4 0.3 2.5 0.2-6.2 0.3 5.7 0.2-4.4 0.3 5.8 0.2 0.5 0.3-3.6 0.3 5.4 0.2-0.4 0.3-7.2 0.2 6.4 0.3-7 0.2 7.7 0.3 1.1 0.2-5.1 0.3 4.5 0.2 0.2 0.3-4 0.2-4.8 0.3 3.6 0.3 4 0.2-2.5 0.3 3.8 0.2-3 0.3 3.4 0.2-3.6 0.3-1.6 0.2 0.3 0.3 5.1 0.2-3.3 0.3 0.9 0.2 1.9 0.3 2.4 0.2-5 0.3-3.1 0.3 0.2 0.2-0.9 0.3 3.9 0.2 3.4 0.3-0.5 0.2-1.7 0.3-0.6 0.2-4.2 0.3 3 0.2-2.7 0.3 0.5 0.2-1.4 0.3-1.8 0.3 6.8 0.2-1.5 0.3 3.6 0.2-9 0.3 7.8 0.2-2.2 0.3-4.7 0.2 6 0.3-0.1 0.2 2.4 0.3-8.7 0.2 0.1 0.3 2.3 0.3 6.3 0.2-4.2 0.3 0.5 0.2-2.1 0.3-0.1 0.2 2.2 0.3-9.2 0.2 14.6 0.3-3.7 0.2-3 0.3 3 0.2 1.4 0.3-2.1 0.2-2.9 0.3 5.5 0.3 0.2 0.2-0.1 0.3-0.7 0.2 0.5 0.3-5.8 0.2 4.7 0.3-2.5 0.2-1.2 0.3-3.5 0.2 5.4 0.3 2.7 0.2-4.9 0.3 5.1 0.3-2.1 0.2 1.9 0.3-0.8 0.2-3.7 0.3-3 0.2 5.5 0.3 2.3 0.2-0.2 0.3-2.9 0.2 1.1 0.3-0.1 0.2-0.5 0.3-5.3 0.2 6.7 0.3-3.1 0.3 2.9 0.2-2.7 0.3-5.4 0.2 7.7 0.3-1.9 0.2-3.6 0.3 5.6 0.2-4.4 0.3 3.6 0.2-0.9 0.3 3.3 0.2-1.8 0.3 0.4 0.3 0.7 0.2-7.2 0.3 2 0.2 4 0.3 0.5 0.2-0.8 0.3-2.4 0.2 4.4 0.3-2.8 0.2 2.9 0.3-2.2 0.2-3.8 0.3-1.1 0.2 2.6 0.3 2.9 0.3 1.7 0.2-7.3 0.3 5.4 0.2-0.9 0.3-7.5 0.2 10.4 0.3-0.5 0.2-0.1 0.3-7 0.2 4.7 0.3 2.7 0.2-4.5 0.3 1.7 0.3 2.9 0.2-3.3 0.3-2.4 0.2 2.1 0.3 4.8 0.2-1.7 0.3 1.2 0.2-2.4 0.3 0.3 0.2-3.5 0.3 4.4 0.2-0.2 0.3-0.7 0.3-0.2 0.2-5.2 0.3 4.3 0.2 1.6 0.3-1.1 0.2-5 0.3 2 0.2-0.6 0.3 1.2 0.2 2.9 0.3-3.3 0.2 1.2 0.3 1.7 0.2-5.5 0.3 2.4 0.3 4.9 0.2 2.2 0.3-2.3 0.2-0.7 0.3 1.3 0.2-2.5 0.3 1 0.2-1.8 0.3-0.1 0.2 2.6 0.3-0.2 0.2-6.7 0.3 3.3 0.3 3.9 0.2-4.8 0.3 0.9 0.2-3.4 0.3 6.1 0.2-1.3 0.3 1.9 0.2 0 0.3-10.7 0.2 10.3 0.3-1.6 0.2-0.1 0.3 2.3 0.2-1.6 0.3 1.7 0.3-0.1 0.2-1.4 0.3 0.4 0.2 0.1 0.3-4.5 0.2 2.4 0.3-1.4 0.2 2.3 0.3 1.6 0.2-0.3 0.3-2 0.2-6.6 0.3 6.8 0 0.2 0-0.9" stroke="#0a7cff" stroke-width="1.1"/>
<path d="M1776.2 731.6l0.5 1.9 0.6-0.2 0.5-0.8 0.6 0.6 0.5-1.5 0.6 3.7 0.5-2.9 0.6 1.2 0.5-1.7 0.5 0 0.6 0.6 0.5 2 0.6-0.1 0.5-0.9 0.6 0.9 0.5 2 0.6-0.7 0.5-2.4 0.5 1.9 0.6-1 0.5-0.4 0.6 1.9 0.5-1.3 0.6-2.4 0.5-0.1 0.5 1.2 0.6 0 0.5 1.1 0.6-0.4 0.5-1.1 0.6 3.3 0.5-1.6 0.6-0.1 0.5-1.6 0.5 2.6 0.6-4.1 0.5 3.7 0.6-3.9 0.5 2.9 0.6-0.2 0.5-2.1 0.6 4.7 0.5-3.4 0.5-1.4 0.6 3.6 0.5-2.3 0.6 1.9 0.5-2 0.6 1.6 0.5-1.9 0.6 2.1 0.5 0.1 0.5-0.3 0.6 0.9 0.5-3.3 0.6 1.1 0.5-0.8 0.6 0.4 0.5-0.3 0.5 3.5 0.6-2 0.5 0.8 0.6-0.1 0.5 0.1 0.6 2.2 0.5 0 0.6 1.1 0.5-4.5 0.5 1.7 0.6 1.2 0.5-1.2 0.6 1.4 0.5 0.2 0.6-0.7 0.5 0.3 0.6 1.3 0.5 0.8 0.5-1.3 0.6-3.1 0.5 4.3 0.6-1.6 0.5 0.6 0.6 2.1 0.5 1.8 0.6-1.9 0.5-1.5 0.5-1.4 0.6 1.1 0.5 0.6 0.6-3.6 0.5 2 0.6 0 0.5-1 0.6 3 0.5-4.2 0.5 3.8 0.6-2.2 0.5 1.7 0.6-1.6 0.5-2.9 0.6-1.3 0.5 0.7 0.5 0.1 0.6 3.2 0.5-6 0.6 3.2 0.5-1.5 0.6 0 0.5 0 0.6 2.8 0.5-1.8 0.5-1.1 0.6 2.3 0.5-1.7 0.6 0.7 0.5 2.1 0.6-2.8 0.5 0.3 0.6-2.5 0.5 2.3 0.5-1.9 0.6 1.1 0.5-1.3 0.6 4.4 0.5-3.1 0.6 1.2 0.5-1.9 0.6 1.3 0.5-0.5 0.5-0.1 0.6-0.9 0.5 1.5 0.6-1.6 0.5 0.4 0.6 0.2 0.5 0.8 0.5-2.5 0.6 0.8 0.5 0.1 0.6-1.4 0.5 2.3 0.6-1.2 0.5 1 0.6-1.8 0.5 0.6 0.5 1.3 0.6-0.5 0.5-0.1 0.6 1.7 0.5-2.4 0.6 1 0.5 0.6 0.6-1.9 0.5 4 0.5-2.3 0.6 0.8 0.5 0.4 0.6-0.1 0.5 1.3 0.6-2.4 0.5 3.3 0.6-0.3 0.5-0.7 0.5-3 0.6 1.4 0.5-0.1 0.6 2.5 0.5-1.4 0.6-0.6 0.5 1.8 0.6 0.6 0.5-3.3 0.5 3.5 0.6-0.3 0.5 0.5 0.6-1.2 0.5 0.5 0.6-2 0.5 4.9 0.5-1.4 0.6-0.5 0.5 0 0.6-0.3 0.5-0.8 0.6 0.5 0.5 0.1 0.6 2.9 0.5-1.7 0.5-0.7 0.6 2.2 0.5-2.4 0.6 1.6 0.5-1.2 0.6-0.7 0.5 0.7 0.6 1.1 0.5-1.1 0.5-0.4 0.6-0.7 0.5 0.4 0.6-2.6 0.5 1.8 0.6 1.2 0.5 0.2 0.6-4.8 0.5 1.4 0.5 1.9 0.6 0.4 0.5-3.4 0.6 0.7 0.5 0.5 0.6 1.9 0.5-3.5 0.5 1.7 0.6 3.3 0.5-4.4 0.6-0.3 0.5-0.6 0.6 1.2 0.5 0.8 0.6-1.5 0.5 0.5 0.5-0.7 0.6-2.5 0.5 2.5 0.6 1.1 0.5 0.8 0.6-3.9 0.5 1.5 0.6-1.4 0.5 1.2 0.5 1.7 0.6-0.2 0.5-0.9 0.6-1.7 0.5 1.9 0.6-0.8 0.5-0.8 0.6 0.7 0.5-1.1 0.5-0.1 0.6 0.5 0.5 1.7 0.6-2.6 0.5 1.2 0.6 0 0.5-1.3 0.5 0.8 0.6-1.5 0.5 3.8 0.6-4.4 0.5 2.5 0.6-1.4 0.5-0.8 0.6 1.2 0.5 1.3 0.5-1.2 0.6-1.2 0.5 1.7 0.6 0.4 0.5 0.4 0.6-1.9 0.5 0.6 0.6-0.2 0.5-1.9 0.5 1.4 0.6 1.5 0.5-1.3 0.6 0.5 0.5-0.6 0.6 0.3 0.5-2.9 0.6 0.8 0.5-0.9 0.5 4.3 0.6-4.2 0.5 0.6 0.6-1.3 0.5 1.6 0.6-3.2 0.5 0.2 0.6 0.3 0.5 1.1 0.5 0.1 0.6-2.6 0.5 3.5 0.6-3.1 0.5-1.6 0.6 2.6 0.5-3.3 0.5 0.6 0.6 1.8 0.5-1.6 0.6 0.4 0.5 1.7 0.6-6.5 0.5 3.4 0.6-1.8 0.5 0.4 0.5-0.1 0.6 3.6 0.5-2.9 0.6 0.9 0.5 1.4 0.6-1.1 0.5-2.2 0.6 3.9 0.5 1.6 0.5-1.5 0.6-1 0.5-1.1 0.6 1.7 0.5-1.6 0.6-2.1 0.5 3.7 0.6-2 0.5 3.2 0.5-0.9 0.6 1.3 0.5-1.7 0.6 3.5 0.5-3.8 0.6 3 0.5-2.3 0.5 1.6 0.6-0.3 0.5-0.7 0.6 0.4 0.5 0.5 0.6 1.3 0.5-4.1 0.6 1.7 0.5 0.4 0.5-0.3 0.6 1.2 0.5-0.5 0.6-0.1 0.5 0.5 0.6-1.5 0.5 0.1 0.6-0.1 0.5 2 0.5-1 0.6 0.1 0.5 0.6 0.6-3.4 0.5 2.1 0.6-2.5 0.5 0.8 0.6 2.7 0.5-0.5 0.5 0.2 0.6-2 0.5 2.1 0.6-0.8 0.5 1.6 0.6-1.8 0.5-0.4 0.6-0.5 0.5 1.6 0.5 0.6 0.6-0.9 0.5-0.4 0.6 0 0.5-0.2 0.6 0.8 0.5-1.9 0.5 2 0.6 0.7 0.5-1.3 0.6 0.2 0.5 1.4 0.6 0.3 0.5-3.9 0.6 3.2 0.5-3 0.5 1.2 0.6 0.3 0.5-2 0.6-0.7 0.5 6.1 0.6-5.1 0.5 0.4 0.6 0.5 0.5 1.6 0.5-1.7 0.6 1.9 0.5-1.5 0.6-0.3 0.5 0.6 0.6-2.1 0.5-0.5 0.6 2.7 0.5-0.1 0.5-1.8 0.6 0.3 0.5 1.4 0.6-0.6 0.5-2.3 0.6-0.2 0.5 2.9 0.5-1.3 0.6-0.3 0.5 1.7 0.6-0.7 0.5 2 0.6-2.1 0.5 1.4 0.6-3.6 0.5 2.9 0.5 0 0.6 0.2 0.5-0.6 0.6-1.6 0.5 0.8 0.6 1.4 0.5-2.2 0.6 1 0.5-1.6" stroke="#7a1ff0" stroke-width="1.6"/>
</g>
<path d="M1776.2 773.4v-9.5M1852.2 773.4v-9.5M1928.2 773.4v-9.5M2004.2 773.4v-9.5M1814.2 773.4v-5M1890.2 773.4v-5M1966.2 773.4v-5M1776.2 570.9h9.5M1776.2 621.5h9.5M1776.2 672.2h9.5M1776.2 722.8h9.5M1776.2 773.4h9.5M1776.2 545.6h5M1776.2 596.2h5M1776.2 646.8h5M1776.2 697.5h5M1776.2 748.1h5" stroke="#000" stroke-width="2.2" fill="none"/>
<rect x="1776.2" y="545.6" width="228" height="227.8" fill="none" stroke="#000" stroke-width="2.2"/>
<text x="1776.2" y="802.4" font-size="22.6" font-weight="bold" text-anchor="middle">0</text>
<text x="1852.2" y="802.4" font-size="22.6" font-weight="bold" text-anchor="middle">10</text>
<text x="1928.2" y="802.4" font-size="22.6" font-weight="bold" text-anchor="middle">20</text>
<text x="2004.2" y="802.4" font-size="22.6" font-weight="bold" text-anchor="middle">30</text>
<text x="1763.7" y="578.5" font-size="22.6" font-weight="bold" text-anchor="end">−20</text>
<text x="1763.7" y="629.1" font-size="22.6" font-weight="bold" text-anchor="end">−40</text>
<text x="1763.7" y="679.8" font-size="22.6" font-weight="bold" text-anchor="end">−60</text>
<text x="1763.7" y="730.4" font-size="22.6" font-weight="bold" text-anchor="end">−80</text>
<text x="1763.7" y="781" font-size="22.6" font-weight="bold" text-anchor="end">−100</text>
<path d="M1888.2 559.7H1936.2" stroke="#ff0000" stroke-width="1.4" stroke-linecap="round"/>
<text x="1941.2" y="566.9" font-size="20.3">Input</text>
<path d="M1888.2 584.7H1936.2" stroke="#0a7cff" stroke-width="1.4" stroke-linecap="round"/>
<text x="1941.2" y="591.9" font-size="20.3">Output</text>
<rect x="1888.2" y="598.7" width="48" height="21.5" fill="#c0c0c0" stroke="#8a2be2" stroke-width="1.3"/>
<text x="1941.2" y="616.9" font-size="20.3">Noise</text>
<text x="1789.7" y="572.8" font-size="26.5" font-weight="bold">e2</text>
<text x="1890.2" y="848.7" font-size="33.5" text-anchor="middle">Frequency spectrum (GHz)</text>
<g clip-path="url(#clc3)" fill="none" stroke-width="2.15" stroke-linejoin="round">
<path d="M88.2 1034.8l0.3-16.5 0.4-18.7 0.3-11.9 0.3-3.5 0.3-0.2 0.4-1.6 0.3-2.9 0.3-0.3 0.3 3.9 0.4 4.6 0.3-0.2 0.3-7 0.3-10.8 0.4-9.2 0.3-5.2 0.3-1.7 0.3 0.8 0.4 4 0.3 8.5 0.3 11.6 0.3 10.9 0.4 6.4 0.3 1.7 0.3-0.7 0.3-1.9 0.4-5.4 0.3-11.5 0.3-16.9 0.3-17.1 0.4-9.1 0.3-0.5 0.3 3.3 0.3 3.1 0.4 3 0.3 5.1 0.3 7 0.3 7 0.4 5.4 0.3 3.8 0.3 3.1 0.3 2.7 0.4 2 0.3 2.3 0.3 6 0.3 13 0.4 19.2 0.3 18.6 0.3 9.8 0.3-1.7 0.4-7.7 0.3-5.2 0.3 0.7 0.3 1.6 0.4-6.3 0.3-18.4 0.3-26.3 0.3-24.6 0.4-14.5 0.3-0.7 0.3 12 0.4 20 0.3 21.4 0.3 15.6 0.3 6.4 0.4-0.5 0.3-0.1 0.3 6.4 0.3 11.5 0.4 8.8 0.3-1.6 0.3-12 0.3-15.4 0.4-11.5 0.3-6.6 0.3-6.3 0.3-10.1 0.4-13.1 0.3-11.7 0.3-7.1 0.3-3.4 0.4-1.4 0.3 1.4 0.3 7 0.3 12.7 0.4 13.8 0.3 9 0.3 2.7 0.3 1.4 0.4 6.3 0.3 12.1 0.3 12.1 0.3 4.9 0.4-4 0.3-9 0.3-8.8 0.3-7.7 0.4-9.4 0.3-13.2 0.3-15.7 0.3-14 0.4-6.8 0.3-3.8 0.3-0.3 0.3 11.4 0.4 22.2 0.3 26.8 0.3 21.6 0.3 7.7 0.4-8 0.3-18 0.3-20.6 0.3-19.3 0.4-16.5 0.3-3.3 0.3-4.4 0.3-6.5 0.4-3.3 0.3 3.6 0.3 16.5 0.4 25.1 0.3 17.7 0.3 8.8 0.3 1.3 0.4-5.1 0.3-11.3 0.3-16.3 0.3-17.5 0.4-11.9 0.3-0.8 0.3 3.9 0.3 1.6 0.4-4.1 0.3-6.6 0.3 0 0.3 14 0.4 24.1 0.3 25.1 0.3 16.5 0.3 4.7 0.4-1.6 0.3 1 0.3 7.2 0.3 8.4 0.4 0.4 0.3-12.1 0.3-20.7 0.3-19.8 0.4-11 0.3-0.9 0.3 6.2 0.3 9.5 0.4 10.8 0.3 11.1 0.3 10 0.3 7.2 0.4 3.2 0.3-2 0.3-8.9 0.3-17.4 0.4-24.6 0.3-24.5 0.3-13.8 0.3 3.3 0.4 17.1 0.3 20.6 0.3 12.3 0.3 0.4 0.4-6.4 0.3-6.4 0.3-5.6 0.3-10.4 0.4-14.3 0.3-7.1 0.3-6.4 0.4-2.4 0.3 2.9 0.3 4.2 0.3 1.1 0.4 2.5 0.3 13.7 0.3 14.2 0.3 11.8 0.4 5.1 0.3-5.1 0.3-14.5 0.3-18.4 0.4-12.2 0.3-2.5 0.3 1.8 0.3 1 0.4-0.9 0.3 0 0.3 4 0.3 7.9 0.4 9 0.3 6.3 0.3 4.1 0.3 9.9 0.4 21.2 0.3 28.5 0.3 22.9 0.3 6.1 0.4-10.5 0.3-15.3 0.3-7.1 0.3 3.4 0.4 4.7 0.3-4.6 0.3-15.6 0.3-18.2 0.4-11 0.3-1.5 0.3 2.7 0.3 1.8 0.4 1.9 0.3 7.1 0.3 15.1 0.3 19.6 0.4 17.8 0.3 12.8 0.3 9.4 0.3 8.4 0.4 6.6 0.3 0.4 0.3-10.4 0.3-19.8 0.4-22.7 0.3-18.8 0.3-11.7 0.3-4.2 0.4 2.6 0.3 7.6 0.3 9.2 0.4 6.7 0.3 1.7 0.3-2.2 0.3-4.1 0.4-6 0.3-10.1 0.3-14.2 0.3-13.2 0.4-4 0.3 9.3 0.3 17.7 0.3 15 0.4 3.9 0.3-7 0.3-10.4 0.3-6.6 0.4-1.1 0.3 2 0.3 1.8 0.3-0.5 0.4-4.7 0.3-11.4 0.3-18.9 0.3-22.9 0.4-9 0.3 7.1 0.3 10 0.3 3.3 0.4-6.4 0.3-10.4 0.3-5.5 0.3 3.9 0.4 18.4 0.3 26.5 0.3 12 0.3 0 0.4-6 0.3-8.9 0.3-10.8 0.3-10.1 0.4-3.7 0.3 7.8 0.3 17.2 0.3 18.1 0.4 9.5 0.3-2.9 0.3-13.2 0.3-20.1 0.4-22.1 0.3-6.2 0.3-1 0.3 1 0.4 3.3 0.3 3.9 0.3 15.6 0.3 28.1 0.4 25.6 0.3 24.9 0.3 22.4 0.4 14.6 0.3 2 0.3-8.7 0.3-12.3 0.4-9.1 0.3-4.7 0.3-3.5 0.3-5.9 0.4-9.7 0.3-13.8 0.3-17.8 0.3-19.5 0.4-14.3 0.3-0.6 0.3 16.7 0.3 27.8 0.4 26.7 0.3 16.6 0.3 6.2 0.3 1 0.4-1 0.3-4.7 0.3-9.7 0.3-9.7 0.4-1.4 0.3 9.4 0.3 12.2 0.3 3.7 0.4-7.7 0.3-10.3 0.3-2.4 0.3 4.7 0.4-1.4 0.3-19.3 0.3-33.5 0.3-29.9 0.4-9.1 0.3 13.1 0.3 22.3 0.3 18 0.4 11.2 0.3 10.7 0.3 13.9 0.3 11.4 0.4-0.8 0.3-15.8 0.3-21.9 0.3-15.7 0.4-4 0.3 3 0.3 2 0.3-2.8 0.4-6.2 0.3-6.6 0.3-6.1 0.3-5.3 0.4-2.4 0.3 4.4 0.3 12.7 0.4 17.7 0.3 16.6 0.3 10.8 0.3 3.9 0.4-2 0.3-7.2 0.3-11.2 0.3-12.7 0.4-10.9 0.3-8.1 0.3-8 0.3-10.2 0.4-12 0.3-6.3 0.3 10.2 0.3 26.4 0.4 33.1 0.3 27.3 0.3 15.4 0.3 6.5 0.4 4.5 0.3 5.5 0.3 3 0.3-6.2 0.4-18.2 0.3-27.5 0.3-30.5 0.3-28 0.4-15.7 0.3-3.8 0.3-2.3 0.3 2.7 0.4 18.8 0.3 24.9 0.3 21.8 0.3 14.1 0.4 4.4 0.3-5 0.3-12.1 0.3-14.8 0.4-12.3 0.3-6.8 0.3-1.8 0.3 0.3 0.4-0.4 0.3-2.1 0.3-3.9 0.3-6.8 0.4-9.7 0.3-6.7 0.3-4.4 0.3-3.3 0.4-1.2 0.3 1.5 0.3 3.5 0.3 4.5 0.4 4.7 0.3 3.3 0.3-0.3 0.4-2.9 0.3-0.7 0.3 5.5 0.3 11.8 0.4 14 0.3 11.4 0.3 6.3 0.3 1.7 0.4-2.4 0.3-7.6 0.3-13.6 0.3-16.8 0.4-12 0.3-0.6 0.3 8 0.3 18.2 0.4 22.5 0.3 22.9 0.3 21.7 0.3 17.1 0.4 7.3 0.3-7.2 0.3-20.9 0.3-26 0.4-20.7 0.3-10.1 0.3-0.3 0.3 6.7 0.4 12.7 0.3 18.6 0.3 21 0.3 16 0.4 3.8 0.3-10.2 0.3-19.7 0.3-21.6 0.4-17.6 0.3-10.8 0.3-1.4 0.3 10.4 0.4 21.2 0.3 24.9 0.3 17.3 0.3 2.2 0.4-12.1 0.3-18.9 0.3-18.4 0.3-15.5 0.4-14.3 0.3-13.3 0.3-9 0.3-2 0.4 8.3 0.3 15.5 0.3 17.5 0.3 14.9 0.4 9.5 0.3 3.3 0.3-1.6 0.4-1.6 0.3 3.6 0.3 10.3 0.3 10.8 0.4 1.2 0.3-14.9 0.3-27.4 0.3-29.4 0.4-22.1 0.3-4.7 0.3 4.8 0.3-0.3 0.4-3 0.3 13 0.3 30.2 0.3 31 0.4 22.2 0.3 9.1 0.3-3.1 0.3-13.8 0.4-24 0.3-31 0.3-29.7 0.3-6.6 0.4 3.8 0.3 2.2 0.3-3.2 0.3 1.3 0.4 15.1 0.3 21.3 0.3 21.1 0.3 8.8 0.4-11.1 0.3-26.5 0.3-27.5 0.3-13 0.4 4.1 0.3 8.9 0.3 6.6 0.3 7.2 0.4 10 0.3 8.5 0.3 4 0.3-1.3 0.4-3.3 0.3-1.4 0.3-0.3 0.3-3.7 0.4-9.4 0.3-10.2 0.3-2.5 0.3 9.1 0.4 15 0.3 11.1 0.3 2.5 0.3-2.7 0.4-2.1 0.3-0.2 0.3-1.4 0.4-3.2 0.3 0.5 0.3 11.3 0.3 21.3 0.4 20.9 0.3 9 0.3-5.2 0.3-11.4 0.4-8.8 0.3-6.3 0.3-10.4 0.3-18.5 0.4-20.5 0.3-11.3 0.3 2.5 0.3 11.6 0.4 12.5 0.3 9.6 0.3 10.4 0.3 14.6 0.4 15.3 0.3 7.1 0.3-5.6 0.3-12.6 0.4-8 0.3 3.8 0.3-76.1 0.3-11.8 0.4 8.4 0.3 115.3 0.3-4.7 0.3-12.5 0.4-23.2 0.3-33.1 0.3-31.2 0.3-4.4 0.4 2.2 0.3 1.4 0.3-0.6 0.3 12.8 0.4 40.9 0.3 40.2 0.3 28.2 0.3 9.8 0.4-6 0.3-14.3 0.3-16.6 0.3-17 0.4-18.1 0.3-18.3 0.3-13.6 0.3-4.1 0.4 5.7 0.3 10.2 0.3 8 0.4 2 0.3-4.4 0.3-9.9 0.3-14.5 0.4-12.3 0.3-8.3 0.3-4.7 0.3 6.4 0.4 25.2 0.3 30.2 0.3 25.3 0.3 14.7 0.4 2.6 0.3-9.1 0.3-19.2 0.3-25.1 0.4-24.5 0.3-16.2 0.3-0.9 0.3 2.6 0.4 1.5 0.3 6.5 0.3 13.8 0.3 15.4 0.4 13.1 0.3 6.1 0.3-2.7 0.3-10 0.4-14.2 0.3-16.3 0.3-14.5 0.3-6.5 0.4-1.5 0.3 2 0.3 3.5 0.3 2.4 0.4 6 0.3 15.2 0.3 22 0.3 27.8 0.4 26.6 0.3 15.4 0.3-0.3 0.3-12.5 0.4-17.1 0.3-18 0.3-20.9 0.3-27.3 0.4-17.4 0.3-6.1 0.3-2.8 0.3 1.7 0.4 3.2 0.3 9.7 0.3 29.2 0.3 29.1 0.4 28.1 0.3 23.6 0.3 12.4 0.4-3.6 0.3-17.6 0.3-22.6 0.3-17.1 0.4-7.9 0.3-2.3 0.3-3.5 0.3-7 0.4-6.7 0.3-0.6 0.3 6.2 0.3 7.7 0.4 1.9 0.3-6.8 0.3-11.5 0.3-9.6 0.4-3.2 0.3 2.7 0.3 5.6 0.3 6.8 0.4 7.9 0.3 7.9 0.3 4.6 0.3-2.3 0.4-9.7 0.3-13.1 0.3-11.7 0.3-9.1 0.4-5.2 0.3-4.7 0.3-9 0.3-8.4 0.4-0.4 0.3 10.6 0.3 16.4 0.3 10.7 0.4-1 0.3-9.4 0.3-10.8 0.3-5.8 0.4 0.1 0.3 3 0.3 4.3 0.3 8.6 0.4 11.6 0.3 10.4 0.3 6.3 0.3 0.1 0.4-6.1 0.3-11.6 0.3-14.6 0.3-9.9 0.4-4.2 0.3-0.5 0.3 9.6 0.3 26.9 0.4 31.6" stroke="#ff0000"/>
<path d="M88.2 1013.9l0.3 2.8 0.4 2.1 0.3-4 0.3-3.9 0.3-1.6 0.4 1.3 0.3 2.9 0.3 1.9 0.3-1 0.4-4.4 0.3-6.5 0.3-5.9 0.3-2.9 0.4 0.4 0.3 2.3 0.3 3.2 0.3 4.6 0.4 6.5 0.3 7.4 0.3 6.6 0.3 5.1 0.4 4.4 0.3 4 0.3 1.9 0.3-3.2 0.4-9.5 0.3-13.1 0.3-12.3 0.3-9.1 0.4-7.9 0.3-8.2 0.3-5.7 0.3 0.8 0.4 7.4 0.3 9.2 0.3 6.5 0.3 3.8 0.4 4.2 0.3 6.5 0.3 7 0.3 4.3 0.4 1 0.3-0.9 0.3-1.8 0.3-2.8 0.4-3.5 0.3-2.6 0.3 0.2 0.3 2 0.4 1 0.3-2 0.3-3.7 0.3-2.7 0.4-0.6 0.3 0 0.3-1.3 0.3-2.7 0.4-2.6 0.3-0.6 0.3 2.8 0.4 6.7 0.3 8.9 0.3 7.7 0.3 2.9 0.4-1.8 0.3-3 0.3 0.4 0.3 3.7 0.4 2.2 0.3-3.2 0.3-7.9 0.3-6.9 0.4-1.8 0.3 2.1 0.3 2.1 0.3 0.6 0.4 1.3 0.3 4.2 0.3 5.9 0.3 5.2 0.4 3.8 0.3 3.5 0.3 4 0.3 3.5 0.4 1.7 0.3 0.4 0.3 0.8 0.3 1.3 0.4 0.2 0.3-2.8 0.3-5.3 0.3-5.1 0.4-2.6 0.3-1.5 0.3-4.5 0.3-10.3 0.4-15.2 0.3-15.6 0.3-11.1 0.3-5.3 0.4-1.1 0.3 2.3 0.3 6.6 0.3 12.6 0.4 17.8 0.3 18.2 0.3 12.6 0.3 4.7 0.4-1.4 0.3-4.4 0.3-6.1 0.3-8.7 0.4-13.9 0.3-18 0.3-15.9 0.3-8.3 0.4-1.5 0.3 2 0.3 3.9 0.4 7.8 0.3 13.7 0.3 16 0.3 12.4 0.4 6.3 0.3 1 0.3-2.5 0.3-5.3 0.4-7.6 0.3-8.1 0.3-5.7 0.3-2.7 0.4-2.7 0.3-4.3 0.3-3.2 0.3 3.4 0.4 12.1 0.3 15.6 0.3 12.8 0.3 8.8 0.4 8.2 0.3 9.2 0.3 7.6 0.3 2.9 0.4-2.1 0.3-7.4 0.3-11 0.3-11.5 0.4-9.9 0.3-8 0.3-5.9 0.3-4.1 0.4-3.1 0.3-2 0.3 0 0.3 2.6 0.4 4 0.3 3.4 0.3 2.4 0.3 2.2 0.4 2.2 0.3 0.5 0.3-1.8 0.3-1.5 0.4 2.9 0.3 7.1 0.3 5.8 0.3-1 0.4-8.6 0.3-12.4 0.3-11.7 0.3-10.4 0.4-12 0.3-12.1 0.3-5.3 0.4 5.4 0.3 11.3 0.3 10.6 0.3 8.9 0.4 10.8 0.3 14.5 0.3 14.1 0.3 7.4 0.4-1.2 0.3-7.1 0.3-9.3 0.3-11.6 0.4-16.2 0.3-18.9 0.3-14 0.3-3.8 0.4 2.7 0.3 1.6 0.3-1.5 0.3 1.8 0.4 11.8 0.3 19.6 0.3 18.5 0.3 11.6 0.4 5.9 0.3 4.6 0.3 4.5 0.3 2.4 0.4-1.1 0.3-3.2 0.3-2.7 0.3-1 0.4-1.4 0.3-3.8 0.3-5.8 0.3-5.7 0.4-4.9 0.3-5 0.3-6 0.3-5.7 0.4-2.9 0.3 1.2 0.3 4.6 0.3 6.4 0.4 7.8 0.3 9.6 0.3 11.4 0.3 11.6 0.4 9.4 0.3 5.2 0.3 0.8 0.3-2.8 0.4-5.4 0.3-6.5 0.3-6.9 0.3-7.5 0.4-6.8 0.3-3.5 0.3 1.2 0.4 3.6 0.3 1.4 0.3-2.7 0.3-3.9 0.4-0.6 0.3 3.2 0.3 2 0.3-4.1 0.4-10.3 0.3-10 0.3-3.5 0.3 2.1 0.4 1.1 0.3-4.9 0.3-8.7 0.3-5.4 0.4 2.8 0.3 8.8 0.3 8.7 0.3 4.7 0.4 1.6 0.3 1.2 0.3 2.2 0.3 1.3 0.4-2.7 0.3-6.5 0.3-6.3 0.3-2.8 0.4 0.9 0.3 1.7 0.3 1 0.3 2.1 0.4 5 0.3 7.9 0.3 7.5 0.3 2.5 0.4-4 0.3-6.8 0.3-5.1 0.3-1.9 0.4-0.9 0.3-2.6 0.3-4.1 0.3-3.2 0.4-0.1 0.3 2.4 0.3 3.1 0.3 2.7 0.4 0.5 0.3-3 0.3-5.3 0.3-4.6 0.4-0.7 0.3 4.6 0.3 6.7 0.3 5.2 0.4 3.6 0.3 3.6 0.3 4.9 0.4 6.2 0.3 5.1 0.3 2.7 0.3 1.4 0.4 1.6 0.3 2.9 0.3 3 0.3 1.5 0.4-1.8 0.3-6 0.3-9.4 0.3-9.8 0.4-4.9 0.3 3.2 0.3 9.6 0.3 10.9 0.4 8.8 0.3 6.2 0.3 4.6 0.3 2.8 0.4-0.7 0.3-5.1 0.3-8.3 0.3-8.2 0.4-5.8 0.3-4.9 0.3-6.7 0.3-8.7 0.4-7.1 0.3-1.4 0.3 4.3 0.3 6.4 0.4 4.6 0.3 1.7 0.3 0.2 0.3 0.4 0.4 1.1 0.3 1.6 0.3 2.2 0.3 2.8 0.4 3.3 0.3 2.7 0.3 0.8 0.3-2.2 0.4-4.8 0.3-5.6 0.3-4 0.3-0.9 0.4 2.1 0.3 3.6 0.3 3.7 0.3 2.5 0.4 0.3 0.3-2 0.3-4 0.3-4.5 0.4-4 0.3-2.7 0.3-0.9 0.4 1.2 0.3 3.2 0.3 2.9 0.3 0.1 0.4-4 0.3-5.6 0.3-2.8 0.3 2.1 0.4 4.2 0.3 1.4 0.3-2.8 0.3-4.1 0.4-0.6 0.3 4.2 0.3 6.5 0.3 6.3 0.4 5.8 0.3 5.6 0.3 4.5 0.3 1.7 0.4-1.2 0.3-2.5 0.3-2.4 0.3-3.3 0.4-6.3 0.3-9.7 0.3-9.7 0.3-6.5 0.4-3.8 0.3-2.9 0.3-0.2 0.3 5.2 0.4 10.8 0.3 12.6 0.3 8.9 0.3 3 0.4-0.4 0.3-0.8 0.3-1.6 0.3-5.6 0.4-10.1 0.3-10.8 0.3-6.6 0.3-2.4 0.4-2.6 0.3-5.5 0.3-5.9 0.3-1.2 0.4 5.1 0.3 7.7 0.3 6.7 0.3 5.2 0.4 4.9 0.3 4.9 0.3 4.3 0.3 2.6 0.4 0.2 0.3-2.7 0.3-6.5 0.4-9.5 0.3-9.3 0.3-5.1 0.3-0.3 0.4 2 0.3 1.7 0.3 2 0.3 4.4 0.4 5.9 0.3 3.8 0.3 0.1 0.3-0.6 0.4 2.7 0.3 7 0.3 7.6 0.3 5.2 0.4 4.3 0.3 6.6 0.3 8.1 0.3 4.7 0.4-2.2 0.3-9.4 0.3-13.1 0.3-12.8 0.4-11.6 0.3-10.1 0.3-5.7 0.3 2.8 0.4 9.9 0.3 10.2 0.3 5 0.3 0.4 0.4 1 0.3 3.6 0.3 2.5 0.3-3.6 0.4-9.2 0.3-8.3 0.3-0.6 0.3 7.4 0.4 10 0.3 8.3 0.3 6.6 0.3 6.4 0.4 5.5 0.3 2.9 0.3-0.3 0.3-2.4 0.4-2.9 0.3-3.6 0.3-5.4 0.3-7 0.4-6.6 0.3-3.6 0.3-0.4 0.3 0.6 0.4-0.6 0.3-1.7 0.3-0.8 0.4 2.4 0.3 6 0.3 7.4 0.3 5.5 0.4 0.9 0.3-4.3 0.3-8.5 0.3-10.4 0.4-10.9 0.3-11.9 0.3-12.1 0.3-7.3 0.4 2.2 0.3 11.2 0.3 15.3 0.3 13.7 0.4 8.5 0.3 3.3 0.3-0.4 0.3-4.2 0.4-8.5 0.3-10.4 0.3-9.2 0.3-5.9 0.4-3.2 0.3-1.1 0.3 0.7 0.3 4.9 0.4 11.1 0.3 14.9 0.3 12.9 0.3 6.5 0.4-0.1 0.3-4.7 0.3-7 0.3-8.5 0.4-9.1 0.3-7.7 0.3-4.1 0.3-0.4 0.4 1.4 0.3 0.9 0.3-0.3 0.3-0.4 0.4 1.5 0.3 3.4 0.3 3.1 0.3 1.1 0.4-0.3 0.3 0.5 0.3 3 0.3 4.8 0.4 4.8 0.3 3.5 0.3 3 0.3 3.4 0.4 2.8 0.3 0 0.3-3.2 0.4-3.5 0.3 0.5 0.3 5.4 0.3 5.7 0.4 1 0.3-4.6 0.3-5.5 0.3-0.2 0.4 6.2 0.3 7.4 0.3 3.3 0.3-1.5 0.4-2.5 0.3 0.7 0.3 4 0.3 3.7 0.4 0 0.3-4.2 0.3-6.1 0.3-5.2 0.4-3.5 0.3-3.6 0.3-5.3 0.3-6 0.4-10.5 0.3-4.6 0.3 3.7 0.3 16.6 0.4 11.1 0.3 9.8 0.3 5.1 0.3 2.3 0.4-7.4 0.3-8.8 0.3-12 0.3-14.4 0.4-11.9 0.3-4.3 0.3 3.9 0.3 9.4 0.4 12.1 0.3 13.4 0.3 11.8 0.3 6 0.4-0.3 0.3-4.4 0.3-5.1 0.3-4.5 0.4-6.1 0.3-10.4 0.3-13 0.3-8.7 0.4 1.1 0.3 8.4 0.3 7.9 0.4 1.9 0.3-3 0.3-3.4 0.3-1.3 0.4-0.8 0.3-1.5 0.3 0.9 0.3 5.5 0.4 8.7 0.3 6.7 0.3 1 0.3-4.5 0.4-5.5 0.3-3.5 0.3-3.7 0.3-7.5 0.4-10.8 0.3-9.6 0.3-3.1 0.3 4.8 0.4 9.9 0.3 11.5 0.3 11.7 0.3 10.4 0.4 5.4 0.3-2.2 0.3-7.9 0.3-8.2 0.4-4.3 0.3-2.5 0.3-6.9 0.3-13.7 0.4-14.8 0.3-6.7 0.3 4.6 0.3 10.7 0.4 9.4 0.3 7.1 0.3 8.7 0.3 12.3 0.4 12.1 0.3 7 0.3 0.7 0.3-2.8 0.4-2.8 0.3-3.1 0.3-5.3 0.3-9.1 0.4-11.5 0.3-10.1 0.3-5.5 0.3-1.1 0.4 3.9 0.3 8.6 0.3 11.8 0.3 12 0.4 9.2 0.3 5 0.3 3.9 0.4 4.6 0.3 4.1 0.3 1.2 0.3-2.8 0.4-5.5 0.3-5.2 0.3-3.5 0.3-2.1 0.4-1.4 0.3-0.4 0.3 0.7 0.3 0.7 0.4-0.4 0.3-1.1 0.3-0.6 0.3 0.1 0.4-0.8 0.3-2.9 0.3-3.1 0.3 0.1 0.4 4.3 0.3 5.2 0.3 1.7 0.3-2.4 0.4-3.9 0.3-2.6 0.3-1.4 0.3-2.4 0.4-4.2 0.3-4.4 0.3-3.4 0.3-4.5 0.4-8.5 0.3-11.2 0.3-8.6 0.3-1.4 0.4 4 0.3 4.8 0.3 4 0.3 6.5 0.4 12 0.3 15.4 0.3 13.4 0.3 8.4 0.4 5 0.3 3.5 0.3 1.4 0.3-3.2 0.4-8.9 0.3-11.5 0.3-9.1 0.3-5 0.4-2 0.3 1 0.3 5.4 0.3 11.2 0.4 14.3" stroke="#1e88ff"/>
</g>
<path d="M88.2 1101.9v-9.5M164.1 1101.9v-9.5M240.1 1101.9v-9.5M316 1101.9v-9.5M126.2 1101.9v-5M202.1 1101.9v-5M278 1101.9v-5M88.2 1085h9.5M88.2 1000.7h9.5M88.2 916.4h9.5M88.2 1042.9h5M88.2 958.5h5" stroke="#000" stroke-width="2.2" fill="none"/>
<rect x="88.2" y="874.2" width="227.8" height="227.7" fill="none" stroke="#000" stroke-width="2.2"/>
<text x="88.2" y="1130.9" font-size="22.6" font-weight="bold" text-anchor="middle">0</text>
<text x="164.1" y="1130.9" font-size="22.6" font-weight="bold" text-anchor="middle">2</text>
<text x="240.1" y="1130.9" font-size="22.6" font-weight="bold" text-anchor="middle">4</text>
<text x="316" y="1130.9" font-size="22.6" font-weight="bold" text-anchor="middle">6</text>
<text x="75.7" y="1092.6" font-size="22.6" font-weight="bold" text-anchor="end">0.0</text>
<text x="75.7" y="1008.3" font-size="22.6" font-weight="bold" text-anchor="end">0.5</text>
<text x="75.7" y="924" font-size="22.6" font-weight="bold" text-anchor="end">1.0</text>
<path d="M198.2 886.9H244.2" stroke="#ff0000" stroke-width="3" stroke-linecap="round"/>
<text x="249.2" y="894.1" font-size="20.3">Input</text>
<path d="M198.2 912.4H244.2" stroke="#1e88ff" stroke-width="3" stroke-linecap="round"/>
<text x="249.2" y="919.6" font-size="20.3">Output</text>
<text x="104.7" y="899.8" font-size="26.5" font-weight="bold">c3</text>
<text x="188.8" y="1168.8" font-size="33.5" text-anchor="middle">Time (ns)</text>
<g clip-path="url(#cld3)" fill="none" stroke-width="2.15" stroke-linejoin="round">
<path d="M772.5 1034.8l0.3-16.5 0.4-18.7 0.3-11.9 0.3-3.5 0.3-0.2 0.4-1.6 0.3-2.9 0.3-0.3 0.3 3.9 0.4 4.6 0.3-0.2 0.3-7 0.3-10.8 0.4-9.2 0.3-5.2 0.3-1.7 0.3 0.8 0.4 4 0.3 8.5 0.3 11.6 0.3 10.9 0.4 6.4 0.3 1.7 0.3-0.7 0.3-1.9 0.4-5.4 0.3-11.5 0.3-16.9 0.3-17.1 0.4-9.1 0.3-0.5 0.3 3.3 0.3 3.1 0.4 3 0.3 5.1 0.3 7 0.3 7 0.4 5.4 0.3 3.8 0.3 3.1 0.3 2.7 0.4 2 0.3 2.3 0.3 6 0.3 13 0.4 19.2 0.3 18.6 0.3 9.8 0.3-1.7 0.4-7.7 0.3-5.2 0.3 0.7 0.3 1.6 0.4-6.3 0.3-18.4 0.3-26.3 0.3-24.6 0.4-14.5 0.3-0.7 0.3 12 0.4 20 0.3 21.4 0.3 15.6 0.3 6.4 0.4-0.5 0.3-0.1 0.3 6.4 0.3 11.5 0.4 8.8 0.3-1.6 0.3-12 0.3-15.4 0.4-11.5 0.3-6.6 0.3-6.3 0.3-10.1 0.4-13.1 0.3-11.7 0.3-7.1 0.3-3.4 0.4-1.4 0.3 1.4 0.3 7 0.3 12.7 0.4 13.8 0.3 9 0.3 2.7 0.3 1.4 0.4 6.3 0.3 12.1 0.3 12.1 0.3 4.9 0.4-4 0.3-9 0.3-8.8 0.3-7.7 0.4-9.4 0.3-13.2 0.3-15.7 0.3-14 0.4-6.8 0.3-3.8 0.3-0.3 0.3 11.4 0.4 22.2 0.3 26.8 0.3 21.6 0.3 7.7 0.4-8 0.3-18 0.3-20.6 0.3-19.3 0.4-16.5 0.3-3.3 0.3-4.4 0.3-6.5 0.4-3.3 0.3 3.6 0.3 16.5 0.4 25.1 0.3 17.7 0.3 8.8 0.3 1.3 0.4-5.1 0.3-11.3 0.3-16.3 0.3-17.5 0.4-11.9 0.3-0.8 0.3 3.9 0.3 1.6 0.4-4.1 0.3-6.6 0.3 0 0.3 14 0.4 24.1 0.3 25.1 0.3 16.5 0.3 4.7 0.4-1.6 0.3 1 0.3 7.2 0.3 8.4 0.4 0.4 0.3-12.1 0.3-20.7 0.3-19.8 0.4-11 0.3-0.9 0.3 6.2 0.3 9.5 0.4 10.8 0.3 11.1 0.3 10 0.3 7.2 0.4 3.2 0.3-2 0.3-8.9 0.3-17.4 0.4-24.6 0.3-24.5 0.3-13.8 0.3 3.3 0.4 17.1 0.3 20.6 0.3 12.3 0.3 0.4 0.4-6.4 0.3-6.4 0.3-5.6 0.3-10.4 0.4-14.3 0.3-7.1 0.3-6.4 0.3-2.4 0.4 2.9 0.3 4.2 0.3 1.1 0.4 2.5 0.3 13.7 0.3 14.2 0.3 11.8 0.4 5.1 0.3-5.1 0.3-14.5 0.3-18.4 0.4-12.2 0.3-2.5 0.3 1.8 0.3 1 0.4-0.9 0.3 0 0.3 4 0.3 7.9 0.4 9 0.3 6.3 0.3 4.1 0.3 9.9 0.4 21.2 0.3 28.5 0.3 22.9 0.3 6.1 0.4-10.5 0.3-15.3 0.3-7.1 0.3 3.4 0.4 4.7 0.3-4.6 0.3-15.6 0.3-18.2 0.4-11 0.3-1.5 0.3 2.7 0.3 1.8 0.4 1.9 0.3 7.1 0.3 15.1 0.3 19.6 0.4 17.8 0.3 12.8 0.3 9.4 0.3 8.4 0.4 6.6 0.3 0.4 0.3-10.4 0.3-19.8 0.4-22.7 0.3-18.8 0.3-11.7 0.3-4.2 0.4 2.6 0.3 7.6 0.3 9.2 0.4 6.7 0.3 1.7 0.3-2.2 0.3-4.1 0.4-6 0.3-10.1 0.3-14.2 0.3-13.2 0.4-4 0.3 9.3 0.3 17.7 0.3 15 0.4 3.9 0.3-7 0.3-10.4 0.3-6.6 0.4-1.1 0.3 2 0.3 1.8 0.3-0.5 0.4-4.7 0.3-11.4 0.3-18.9 0.3-22.9 0.4-9 0.3 7.1 0.3 10 0.3 3.3 0.4-6.4 0.3-10.4 0.3-5.5 0.3 3.9 0.4 18.4 0.3 26.5 0.3 12 0.3 0 0.4-6 0.3-8.9 0.3-10.8 0.3-10.1 0.4-3.7 0.3 7.8 0.3 17.2 0.3 18.1 0.4 9.5 0.3-2.9 0.3-13.2 0.3-20.1 0.4-22.1 0.3-6.2 0.3-1 0.3 1 0.4 3.3 0.3 3.9 0.3 15.6 0.3 28.1 0.4 25.6 0.3 24.9 0.3 22.4 0.4 14.6 0.3 2 0.3-8.7 0.3-12.3 0.4-9.1 0.3-4.7 0.3-3.5 0.3-5.9 0.4-9.7 0.3-13.8 0.3-17.8 0.3-19.5 0.4-14.3 0.3-0.6 0.3 16.7 0.3 27.8 0.4 26.7 0.3 16.6 0.3 6.2 0.3 1 0.4-1 0.3-4.7 0.3-9.7 0.3-9.7 0.4-1.4 0.3 9.4 0.3 12.2 0.3 3.7 0.4-7.7 0.3-10.3 0.3-2.4 0.3 4.7 0.4-1.4 0.3-19.3 0.3-33.5 0.3-29.9 0.4-9.1 0.3 13.1 0.3 22.3 0.3 18 0.4 11.2 0.3 10.7 0.3 13.9 0.3 11.4 0.4-0.8 0.3-15.8 0.3-21.9 0.3-15.7 0.4-4 0.3 3 0.3 2 0.3-2.8 0.4-6.2 0.3-6.6 0.3-6.1 0.3-5.3 0.4-2.4 0.3 4.4 0.3 12.7 0.4 17.7 0.3 16.6 0.3 10.8 0.3 3.9 0.4-2 0.3-7.2 0.3-11.2 0.3-12.7 0.4-10.9 0.3-8.1 0.3-8 0.3-10.2 0.4-12 0.3-6.3 0.3 10.2 0.3 26.4 0.4 33.1 0.3 27.3 0.3 15.4 0.3 6.5 0.4 4.5 0.3 5.5 0.3 3 0.3-6.2 0.4-18.2 0.3-27.5 0.3-30.5 0.3-28 0.4-15.7 0.3-3.8 0.3-2.3 0.3 2.7 0.4 18.8 0.3 24.9 0.3 21.8 0.3 14.1 0.4 4.4 0.3-5 0.3-12.1 0.3-14.8 0.4-12.3 0.3-6.8 0.3-1.8 0.3 0.3 0.4-0.4 0.3-2.1 0.3-3.9 0.3-6.8 0.4-9.7 0.3-6.7 0.3-4.4 0.3-3.3 0.4-1.2 0.3 1.5 0.3 3.5 0.3 4.5 0.4 4.7 0.3 3.3 0.3-0.3 0.4-2.9 0.3-0.7 0.3 5.5 0.3 11.8 0.4 14 0.3 11.4 0.3 6.3 0.3 1.7 0.4-2.4 0.3-7.6 0.3-13.6 0.3-16.8 0.4-12 0.3-0.6 0.3 8 0.3 18.2 0.4 22.5 0.3 22.9 0.3 21.7 0.3 17.1 0.4 7.3 0.3-7.2 0.3-20.9 0.3-26 0.4-20.7 0.3-10.1 0.3-0.3 0.3 6.7 0.4 12.7 0.3 18.6 0.3 21 0.3 16 0.4 3.8 0.3-10.2 0.3-19.7 0.3-21.6 0.4-17.6 0.3-10.8 0.3-1.4 0.3 10.4 0.4 21.2 0.3 24.9 0.3 17.3 0.3 2.2 0.4-12.1 0.3-18.9 0.3-18.4 0.3-15.5 0.4-14.3 0.3-13.3 0.3-9 0.3-2 0.4 8.3 0.3 15.5 0.3 17.5 0.3 14.9 0.4 9.5 0.3 3.3 0.3-1.6 0.4-1.6 0.3 3.6 0.3 10.3 0.3 10.8 0.4 1.2 0.3-14.9 0.3-27.4 0.3-29.4 0.4-22.1 0.3-4.7 0.3 4.8 0.3-0.3 0.4-3 0.3 13 0.3 30.2 0.3 31 0.4 22.2 0.3 9.1 0.3-3.1 0.3-13.8 0.4-24 0.3-31 0.3-29.7 0.3-6.6 0.4 3.8 0.3 2.2 0.3-3.2 0.3 1.3 0.4 15.1 0.3 21.3 0.3 21.1 0.3 8.8 0.4-11.1 0.3-26.5 0.3-27.5 0.3-13 0.4 4.1 0.3 8.9 0.3 6.6 0.3 7.2 0.4 10 0.3 8.5 0.3 4 0.3-1.3 0.4-3.3 0.3-1.4 0.3-0.3 0.3-3.7 0.4-9.4 0.3-10.2 0.3-2.5 0.3 9.1 0.4 15 0.3 11.1 0.3 2.5 0.4-2.7 0.3-2.1 0.3-0.2 0.3-1.4 0.4-3.2 0.3 0.5 0.3 11.3 0.3 21.3 0.4 20.9 0.3 9 0.3-5.2 0.3-11.4 0.4-8.8 0.3-6.3 0.3-10.4 0.3-18.5 0.4-20.5 0.3-11.3 0.3 2.5 0.3 11.6 0.4 12.5 0.3 9.6 0.3 10.4 0.3 14.6 0.4 15.3 0.3 7.1 0.3-5.6 0.3-12.6 0.4-8 0.3 3.8 0.3-76.1 0.3-11.8 0.4 8.4 0.3 115.3 0.3-4.7 0.3-12.5 0.4-23.2 0.3-33.1 0.3-31.2 0.3-4.4 0.4 2.2 0.3 1.4 0.3-0.6 0.3 12.8 0.4 40.9 0.3 40.2 0.3 28.2 0.3 9.8 0.4-6 0.3-14.3 0.3-16.6 0.3-17 0.4-18.1 0.3-18.3 0.3-13.6 0.3-4.1 0.4 5.7 0.3 10.2 0.3 8 0.4 2 0.3-4.4 0.3-9.9 0.3-14.5 0.4-12.3 0.3-8.3 0.3-4.7 0.3 6.4 0.4 25.2 0.3 30.2 0.3 25.3 0.3 14.7 0.4 2.6 0.3-9.1 0.3-19.2 0.3-25.1 0.4-24.5 0.3-16.2 0.3-0.9 0.3 2.6 0.4 1.5 0.3 6.5 0.3 13.8 0.3 15.4 0.4 13.1 0.3 6.1 0.3-2.7 0.3-10 0.4-14.2 0.3-16.3 0.3-14.5 0.3-6.5 0.4-1.5 0.3 2 0.3 3.5 0.3 2.4 0.4 6 0.3 15.2 0.3 22 0.3 27.8 0.4 26.6 0.3 15.4 0.3-0.3 0.3-12.5 0.4-17.1 0.3-18 0.3-20.9 0.3-27.3 0.4-17.4 0.3-6.1 0.3-2.8 0.3 1.7 0.4 3.2 0.3 9.7 0.3 29.2 0.3 29.1 0.4 28.1 0.3 23.6 0.3 12.4 0.4-3.6 0.3-17.6 0.3-22.6 0.3-17.1 0.4-7.9 0.3-2.3 0.3-3.5 0.3-7 0.4-6.7 0.3-0.6 0.3 6.2 0.3 7.7 0.4 1.9 0.3-6.8 0.3-11.5 0.3-9.6 0.4-3.2 0.3 2.7 0.3 5.6 0.3 6.8 0.4 7.9 0.3 7.9 0.3 4.6 0.3-2.3 0.4-9.7 0.3-13.1 0.3-11.7 0.3-9.1 0.4-5.2 0.3-4.7 0.3-9 0.3-8.4 0.4-0.4 0.3 10.6 0.3 16.4 0.3 10.7 0.4-1 0.3-9.4 0.3-10.8 0.3-5.8 0.4 0.1 0.3 3 0.3 4.3 0.3 8.6 0.4 11.6 0.3 10.4 0.3 6.3 0.3 0.1 0.4-6.1 0.3-11.6 0.3-14.6 0.3-9.9 0.4-4.2 0.3-0.5 0.3 9.6 0.3 26.9 0.4 31.6" stroke="#ff0000"/>
<path d="M772.5 1022.7l0.2 5.8 0.1-2.6 0.2-9.3 0.2-4.1 0.1 5.7 0.2 14.7 0.1 10.2 0.2 0.2 0.2-12.6 0.1-15.7 0.2-10 0.2-3.5 0.1 2.1 0.2-1 0.1 0.2 0.2 2.6 0.2 9.2 0.1 11.8 0.2 4.7 0.2-4.3 0.1-13.8 0.2-10.1 0.1-4.7 0.2 2.1 0.2-2.1 0.1-10.8 0.2-15.6 0.2-12.8 0.1 1.5 0.2 7.6 0.1 10.4 0.2-1.4 0.2-5.8 0.1-3.4 0.2 10.2 0.2 23.5 0.1 22.9 0.2 13 0.1-5.4 0.2-12.5 0.2-10.3 0.1 1.1 0.2 8.5 0.2 7.4 0.1 0.4 0.2-6.8 0.1-7 0.2-2.8 0.2 2.5 0.1 4.2 0.2 2 0.2 0.1 0.1-1.7 0.2-0.8 0.1-2.8 0.2-4.9 0.2-8.5 0.1-8.8 0.2-5.6 0.2-1.4 0.1 2.9 0.2 1.3 0.1-1.2 0.2-6.2 0.2-6.2 0.1-2.8 0.2 5.5 0.2 12.8 0.1 16.6 0.2 12.5 0.1 3.5 0.2-5.9 0.2-10 0.1-4.9 0.2 3.8 0.2 12.5 0.1 12 0.2 5.9 0.1-3.8 0.2-7.7 0.2-6.4 0.1-1.1 0.2-0.5 0.2-3.7 0.1-10.9 0.2-13.6 0.1-9.9 0.2-3.6 0.2 4.9 0.1 3.4 0.2 4.4 0.2-0.2 0.1 4 0.2 8 0.1 11.8 0.2 13.7 0.2 8.5 0.1 6.7 0.2 1.6 0.2 0.5 0.1-3.2 0.2-6.1 0.1-6.6 0.2-3.9 0.2 2.6 0.1 7.4 0.2 6.6 0.2 1.7 0.1-6.1 0.2-7.9 0.1-6.7 0.2-1.8 0.2-1.9 0.1-5.9 0.2-12.1 0.2-14.7 0.1-9.6 0.2-2.9 0.1 6.1 0.2 5.9 0.2 6.9 0.1 2.6 0.2 5.6 0.2 8.3 0.1 11.1 0.2 11.8 0.1 6.2 0.2 4.2 0.2-1.2 0.1 0.3 0.2-2 0.2-1.9 0.1-4.2 0.2-6.2 0.2-5.2 0.1-6 0.2-2.4 0.1-1 0.2 3.2 0.2 6.7 0.1 7.4 0.2 6.5 0.2-0.7 0.1-5.7 0.2-10.4 0.1-8.9 0.2-4.5 0.2-1.2 0.1 1.3 0.2-0.8 0.2-0.2 0.1 0.5 0.2 3.6 0.1 5.4 0.2 3.4 0.2 0.6 0.1-3.2 0.2-2.9 0.2-1.9 0.1-0.3 0.2-1.4 0.1-4 0.2-5.3 0.2-4.2 0.1 0 0.2 2.7 0.2 4.9 0.1 3.1 0.2 3.3 0.1 3.5 0.2 5 0.2 5.1 0.1 0.9 0.2-2.3 0.2-6.7 0.1-3.8 0.2-1.1 0.1 2.4 0.2 1.4 0.2-3.6 0.1-5.6 0.2-6.3 0.2 0 0.1 3.6 0.2 5.6 0.1 2.7 0.2-1.1 0.2 0.1 0.1 3.2 0.2 8.7 0.2 6.9 0.1 0.9 0.2-8.7 0.1-12.9 0.2-9.2 0.2-0.5 0.1 8.3 0.2 7.7 0.2 2.5 0.1-6.8 0.2-9 0.1-4.3 0.2 4.1 0.2 11.7 0.1 10.9 0.2 6.5 0.2-0.9 0.1-4.5 0.2-4.3 0.1-3.4 0.2-1.8 0.2-3.2 0.1-2.5 0.2-1.1 0.2 2.2 0.1 5.7 0.2 5.8 0.1 5.5 0.2 2.5 0.2 1 0.1-2.4 0.2-6.5 0.2-12.5 0.1-16.1 0.2-14.4 0.1-6.3 0.2 4.4 0.2 10.7 0.1 9.3 0.2-1.2 0.2-10.2 0.1-14.6 0.2-5.9 0.1 5.5 0.2 15.9 0.2 15.6 0.1 6.8 0.2-2.4 0.2-6.6 0.1 0.1 0.2 9 0.1 15.1 0.2 11.2 0.2 0.4 0.1-10.2 0.2-13.7 0.2-8.5 0.1 1.1 0.2 7.1 0.1 7.1 0.2 1.1 0.2-4.4 0.1-5.6 0.2-3.4 0.2 0.4 0.1-0.3 0.2-3.2 0.2-6.7 0.1-6.3 0.2-1.4 0.1 4.2 0.2 7.3 0.2 5.4 0.1 0.5 0.2-3.3 0.2-4.5 0.1-3 0.2-2 0.1-2.4 0.2-2.9 0.2-0.8 0.1 4.1 0.2 9.8 0.2 11.1 0.1 7.3 0.2-1.1 0.1-6.7 0.2-6.9 0.2 0 0.1 8.5 0.2 13.5 0.2 12.9 0.1 7 0.2 1.8 0.1-3.3 0.2-4 0.2-6.8 0.1-6.7 0.2-8.5 0.2-6.7 0.1-4.3 0.2-3.3 0.1-3.1 0.2-7.8 0.2-8.7 0.1-8.6 0.2-1.4 0.2 5.9 0.1 11.7 0.2 12.1 0.1 8.6 0.2 4.4 0.2 2.8 0.1 3.9 0.2 5.4 0.2 5.9 0.1 2.6 0.2 0.3 0.1-2.9 0.2-2.1 0.2-1.1 0.1 0.6 0.2 0.8 0.2-0.5 0.1-2.1 0.2-3.8 0.1-5 0.2-5.7 0.2-6 0.1-5.9 0.2-4.5 0.2-3 0.1 0 0.2 1.8 0.1 4.1 0.2 5.3 0.2 4.9 0.1 3.7 0.2-1 0.2-5.6 0.1-11 0.2-13 0.1-9.8 0.2-3.4 0.2 6.7 0.1 12.3 0.2 13.6 0.2 7.3 0.1-1.3 0.2-7.6 0.1-8.5 0.2-2.4 0.2 4.8 0.1 10.5 0.2 9.4 0.2 4.5 0.1-3.4 0.2-8.6 0.1-12.1 0.2-11.8 0.2-9 0.1-4.4 0.2 2.5 0.2 7.3 0.1 9.1 0.2 4.3 0.1-3.4 0.2-10.3 0.2-10.2 0.1-3 0.2 7.9 0.2 14.5 0.1 14 0.2 7.3 0.1 0.2 0.2-1.8 0.2-0.2 0.1 4.1 0.2 3 0.2-0.2 0.1-5.4 0.2-7.4 0.1-5.3 0.2-3 0.2-0.7 0.1-2.1 0.2-1.5 0.2 0.7 0.1 5.6 0.2 8.6 0.1 6.9 0.2 0.8 0.2-4.3 0.1-3.3 0.2 4.2 0.2 13.6 0.1 15.4 0.2 8.9 0.2-6.7 0.1-18.4 0.2-22.2 0.1-13.9 0.2-0.6 0.2 8.7 0.1 10.6 0.2 2.2 0.2-6.3 0.1-12.2 0.2-9.3 0.1-1.8 0.2 6 0.2 9.7 0.1 7.6 0.2 3 0.2-1 0.1-1.8 0.2 1.1 0.1 4.8 0.2 7.4 0.2 7.1 0.1 4.6 0.2 1.4 0.2-1.8 0.1-2.9 0.2-3.7 0.1-2 0.2 0 0.2 2.5 0.1 3.7 0.2 2.6 0.2-0.3 0.1-3.9 0.2-5.7 0.1-5.3 0.2-3.4 0.2-1.9 0.1-1.6 0.2-1.8 0.2-0.5 0.1 2.2 0.2 5.7 0.1 5.9 0.2 3.9 0.2-0.8 0.1-2.9 0.2-1 0.2 4.4 0.1 10.5 0.2 12.9 0.1 12.4 0.2 7.8 0.2 3.6 0.1-1.9 0.2-6.5 0.2-11.1 0.1-12.3 0.2-8.1 0.1 0.9 0.2 10.8 0.2 14.5 0.1 9.4 0.2-2.3 0.2-14.4 0.1-19.3 0.2-17 0.1-8.9 0.2-2.3 0.2 0.8 0.1 0.7 0.2-1.3 0.2-2 0.1-4 0.2-5.2 0.1-7.1 0.2-5.5 0.2-0.8 0.1 7 0.2 12.7 0.2 14.3 0.1 10.9 0.2 5.4 0.1 2.2 0.2 0.9 0.2 3.1 0.1 3.7 0.2 4.5 0.2 2.3 0.1 0.3 0.2-3.3 0.1-7.1 0.2-9.8 0.2-10.9 0.1-7.8 0.2-4 0.2 0.2 0.1 1.5 0.2 1.6 0.1 3.3 0.2 6.9 0.2 11.5 0.1 10.5 0.2 2.8 0.2-9.9 0.1-19 0.2-17.6 0.1-6.5 0.2 9 0.2 17 0.1 15.3 0.2 6.4 0.2-1.8 0.1-2.6 0.2 0.4 0.1 4.1 0.2 1 0.2-4.8 0.1-10.1 0.2-9.6 0.2-4.9 0.1-1.9 0.2-3.1 0.2-8.6 0.1-10.7 0.2-7 0.1 2.5 0.2 10.1 0.2 10.4 0.1 3 0.2-6.7 0.2-10.8 0.1-7.8 0.2-0.1 0.1 5.6 0.2 5.6 0.2 2.2 0.1-2.2 0.2-2.3 0.2-0.6 0.1 3.2 0.2 5.3 0.1 7.2 0.2 9.2 0.2 9.9 0.1 10.1 0.2 5.9 0.2 1.3 0.1-3.6 0.2-4.8 0.1-4.3 0.2-4.1 0.2-6.5 0.1-10 0.2-10.4 0.2-6.7 0.1 1.6 0.2 6.4 0.1 6.9 0.2 0.8 0.2-3.9 0.1-2.4 0.2 5.1 0.2 15.4 0.1 16.9 0.2 10.6 0.1-2.7 0.2-11.5 0.2-11.9 0.1-5 0.2 2.3 0.2 1.2 0.1-6.3 0.2-15.5 0.1-17 0.2-9.6 0.2 1.9 0.1 9.2 0.2 8.6 0.2 2 0.1-2.5 0.2-1.1 0.1 5.3 0.2 10.2 0.2 8.4 0.1 0.9 0.2-6.8 0.2-8.1 0.1-2.4 0.2 5.6 0.1 10.2 0.2 8.2 0.2 3.7 0.1 0.9 0.2 3.2 0.2 8.2 0.1 10.1 0.2 7.8 0.1 0.9 0.2-4.1 0.2-4.7 0.1-0.7 0.2 3.4 0.2 4.2 0.1 1.2 0.2-2.6 0.1-4 0.2-1.7 0.2 0.8 0.1 0.7 0.2-3.9 0.2-9.9 0.1-13 0.2-10.2 0.1-3 0.2 3.7 0.2 5.5 0.1 1.2 0.2-5.8 0.2-10.7 0.1-9.9 0.2-5.4 0.1 0.4 0.2 2.7 0.2 3.2 0.1 2.9 0.2 5.7 0.2 10.5 0.1 13.3 0.2 11.8 0.1 4.9 0.2-1.1 0.2-3 0.1 2.1 0.2 8.4 0.2 10 0.1 3.4 0.2-8.1 0.1-15.9 0.2-15.5 0.2-6.8 0.1 1.7 0.2 4.9 0.2 0.8 0.1-3.7 0.2-2.9 0.1 4.3 0.2 12.3 0.2 13.2 0.1 6.6 0.2-3.1 0.2-6.7 0.1-1.6 0.2 7.7 0.2 12.1 0.1 6.5 0.2-5.7 0.1-15.6 0.2-16.2 0.2-7.9 0.1 1.3 0.2 3.9 0.2-1.7 0.1-11 0.2-15.4 0.1-13 0.2-4.3 0.2 3.4 0.1 7.3 0.2 6.7 0.2 3.5 0.1 1.9 0.2 1.2 0.1 3.2 0.2 5.4 0.2 7.7 0.1 7.5 0.2 3.7 0.2-2.9 0.1-9.3 0.2-10.9 0.1-6.5 0.2 1.7 0.2 7.4 0.1 6.8 0.2 0.8 0.2-4.9 0.1-5.1 0.2 0.9 0.1 8.1 0.2 10.6 0.2 7.1 0.1 1 0.2-1.5 0.2 0.3 0.1 3.7 0.2 2.8 0.1-3.5 0.2-10.8 0.2-13.5 0.1-8.5 0.2-0.8 0.2 4.2 0.1 2.4 0.2-2.8 0.1-5 0.2-0.9 0.2 7.4 0.1 11.8 0.2 8.2 0.2-2.6 0.1-12.5 0.2-14.4 0.1-6.7 0.2 5.6 0.2 14.3 0.1 14.8 0.2 8.8 0.2 1.1 0.1-3.4 0.2-3.9 0.1-3.3 0.2-4.4 0.2-7.9 0.1-10.3 0.2-9.2 0.2-2.7 0.1 6.1 0.2 12.8 0.1 14.1 0.2 8.6 0.2 0.8 0.1-6 0.2-7.9 0.2-6.2 0.1-3.5 0.2-2.6 0.1-4.6 0.2-6.6 0.2-8.2 0.1-6.6 0.2-4.7 0.2-1.6 0.1 2.1 0.2 7 0.1 13.8 0.2 17.1 0.2 15.6 0.1 6.6 0.2-3.5 0.2-8.4 0.1-4.2 0.2 6.5 0.1 13.4 0.2 10.9 0.2-1.3 0.1-13 0.2-15.4 0.2-6.2 0.1 5.5 0.2 9 0.1-0.3 0.2-14.4 0.2-20.3 0.1-11.2 0.2 8 0.2 22 0.1 20.2 0.2 4 0.1-13.8 0.2-19 0.2-9 0.1 7.2 0.2 15.8 0.2 11.4 0.1 0.1 0.2-7.3 0.2-3.6 0.1 5.8 0.2 11 0.1 5.7 0.2-7.5 0.2-16.9 0.1-16 0.2-4.2 0.2 7.6 0.1 11.1 0.2 4.6 0.1-5.7 0.2-10.3 0.2-6.7 0.1 1.1 0.2 5.5 0.2 3.4 0.1-2.2 0.2-4.7 0.1-1.1 0.2 5.7 0.2 9.4 0.1 6.1 0.2-1.7 0.2-8.6 0.1-8.4 0.2-2.2 0.1 5.1 0.2 8.2 0.2 4.8 0.1-0.4 0.2-4.2 0.2-3.4 0.1-0.2 0.2 1.2 0.1-0.2 0.2-4.7 0.2-8.2 0.1-10.4 0.2-10.7 0.2-11.2 0.1-10.5 0.2-7.7 0.1-1.4 0.2 7.1 0.2 12.4 0.1 12.8 0.2 5.6 0.2-0.3 0.1-2.3 0.2 4.2 0.1 12.8 0.2 16.5 0.2 12.4 0.1 0.4 0.2-8.7 0.2-12.5 0.1-7.6 0.2-1.7 0.1 0.6 0.2-1.7 0.2-5.6 0.1-4 0.2 2.3 0.2 11.1 0.1 15 0.2 12.2 0.1 4.9 0.2-1.2 0.2-2.1 0.1 0.8 0.2 4.3 0.2 3.6 0.1-0.7 0.2-7.3 0.1-11.1 0.2-12.3 0.2-9.1 0.1-4.1 0.2 1 0.2 5.6 0.1 6.6 0.2 6.4 0.1 2.8 0.2 0.7 0.2-0.5 0.1 0.5 0.2 2.3 0.2 1.7 0.1 0 0.2-4.1 0.1-5.9 0.2-6.1 0.2-3.8 0.1 0.3 0.2 3.9 0.2 9.3 0.1 11.6 0.2 11.7 0.1 6 0.2-2.9 0.2-9.5 0.1-10.4 0.2-2.2 0.2 6.9 0.1 11.1 0.2 4.1 0.1-9.9 0.2-21.7 0.2-22.5 0.1-11.2 0.2 4.2 0.2 13.8 0.1 12.3 0.2 4.1 0.1-4.1 0.2-4.1 0.2 0.4 0.1 6.8 0.2 7.7 0.2 4 0.1 0.2 0.2-1.8 0.1 1.2 0.2 3.2 0.2 3.5 0.1-0.4 0.2-5 0.2-7.2 0.1-6.4 0.2-2.2 0.2 2 0.1 5.3 0.2 6.1 0.1 4.7 0.2 1.3 0.2-1.5 0.1-2.6 0.2-0.1 0.2 4.2 0.1 7.3 0.2 7 0.1 2.3 0.2-2.3 0.2-4.1 0.1-1.2 0.2 3.8 0.2 6.2 0.1 4.5 0.2-0.7 0.1-5.3 0.2-5.9 0.2-4.9 0.1-2.4 0.2-3.1 0.2-3.5 0.1-4.4 0.2-3.3 0.1-1.8 0.2-3.3 0.2-5.8 0.1-9.1 0.2-6.9 0.2-0.6 0.1 8 0.2 12.6 0.1 10.2 0.2 2 0.2-7.1 0.1-11.3 0.2-9.5 0.2-3 0.1 2.9 0.2 5.6 0.1 3.8 0.2-1 0.2-5.5 0.1-8.1 0.2-5.9 0.2-1.1 0.1 6.5 0.2 11.8 0.1 14.2 0.2 11.4 0.2 5.7 0.1 0 0.2-5 0.2-6.8 0.1-8.4 0.2-7 0.1-5.1 0.2-1.4 0.2 2.3 0.1 3.1 0.2 2.3 0.2-1.5 0.1-2.3 0.2-0.7 0.1 4.3 0.2 8.2 0.2 9.1 0.1 5.9 0.2 2.6 0.2 1.2 0.1 3.4 0.2 6.6 0.1 6.9 0.2 4.5 0.2-1.2 0.1-4.7 0.2-7.1 0.2-6.2 0.1-5.7 0.2-5.1 0.1-3.7 0.2-0.9 0.2 3.3 0.1 6 0.2 4.2 0.2-2.7 0.1-12.3 0.2-18.7 0.1-17.6 0.2-9 0.2 5 0.1 16.1 0.2 19.8 0.2 12.6 0.1-0.6 0.2-13.3 0.1-17.9 0.2-11.7 0.2 0.2 0.1 10.4 0.2 12 0.2 5.3 0.1-4.1 0.2-9.2 0.1-8.3 0.2-3 0.2-0.5 0.1-1.7 0.2-5 0.2-6.2 0.1-0.4 0.2 5.8 0.1 11.6 0.2 9.8 0.2 4.8 0.1-0.2 0.2-2.6 0.2-0.8 0.1-0.1 0.2 0 0.1-0.2 0.2 1.6 0.2 7.2 0.1 11.6 0.2 12.5 0.2 7.4 0.1-0.5 0.2-5.3 0.2-6.9 0.1-4 0.2-3.3 0.1-3.6 0.2-5.6 0.2-4.9 0.1-1.6 0.2 2.1 0.2 3.2 0.1 0.6 0.2-2.3 0.1-4.3 0.2-2.1 0.2-0.3 0.1 1.8 0.2 1.5 0.2 2.2 0.1 4.2 0.2 5 0.1 4.4 0.2-0.9 0.2-4.3 0.1-5.4 0.2-0.7 0.2 3 0.1 1.7 0.2-4.7 0.1-12.2 0.2-10.5 0.2-2.1 0.1 11.5 0.2 16.7 0.2 13.4 0.1 4.8 0.2 0.1 0.1 4.6 0.2 10.1 0.2 10.8 0.1-1.4 0.2-15.6 0.2-23.9 0.1-16.4 0.2-0.8 0.1 10.8 0.2 9.8 0.2-3.2 0.1-12.5 0.2-12 0.2 1.2 0.1 13.5 0.2 15.7 0.1 6.2 0.2-7.1 0.2-12.1 0.1-8.3 0.2 0.4 0.2 4.1 0.1 1 0.2-4.3 0.1-6.1 0.2-1.3 0.2 4.4 0.1 7.5 0.2 4.8 0.2 1.1 0.1-1.3 0.2 0.8 0.1 2.6 0.2 4 0.2 3.9 0.1 4.5 0.2 7.5 0.2 8 0.1 6.3 0.2-1.8 0.1-7.7 0.2-10.7 0.2-6.5 0.1-1 0.2-0.9 0.2-7.1 0.1-12.4 0.2-11.7 0.1-5.1 0.2 4.7 0.2 11 0.1 16.6 0.2 8.6 0.2 2.7 0.1 1.4 0.2 2.5 0.1 3 0.2-4.8 0.2-7.2 0.1-8.3 0.2-2.8 0.2 3.3 0.1 7 0.2 5.9 0.1-1.9 0.2-7.3 0.2-11.4 0.1-9.5 0.2-5.6 0.2-2.5 0.1 2 0.2 2.5 0.1 2.8 0.2 1.6 0.2-1 0.1 0.8 0.2 1.3 0.2 5.4 0.1 4.4 0.2 1.4 0.1-2 0.2-2.6 0.2 3.3 0.1 9.8 0.2 13.2 0.2 9 0.1 0.5 0.2-6.5 0.2-6.4 0.1-1.9 0.2 3.3 0.1 1.6 0.2-3.2 0.2-8.1 0.1-6.8 0.2-0.6 0.2 3.6 0.1 3.9 0.2-2.1 0.1-4.7 0.2-2.7 0.2 4.3 0.1 9.8 0.2 7.5 0.2 0.7 0.1-6.6 0.2-6.7 0.1-2 0.2 3.5 0.2 3.3 0.1-1.1 0.2-6.5 0.2-7 0.1-5 0.2-2.8 0.1-4.2 0.2-7.1 0.2-6.3 0.1-2.1 0.2 5.7 0.2 7.2 0.1 5.3 0.2-0.8 0.1-0.3 0.2 5 0.2 11.8 0.1 12.9 0.2 3.1 0.2-8.1 0.1-15.5 0.2-9.5 0.1 1.5 0.2 11.4 0.2 10.8 0.1 2 0.2-5.8 0.2-8.9 0.1-3.5 0.2 0.8 0.1 2.1 0.2-1.3 0.2-3.7 0.1-0.5 0.2 4.2 0.2 8.2 0.1 4.2 0.2-3 0.1-8.7 0.2-8.2 0.2-0.8 0.1 5.3 0.2 7 0.2 1.2 0.1-6.1 0.2-9.7 0.1-7.4 0.2-0.1 0.2 6.1 0.1 8.7 0.2 5.5 0.2-0.2 0.1-5.2 0.2-6.6 0.1-2.9 0.2 2.2 0.2 7.6 0.1 6.4 0.2 3.6 0.2-1.4 0.1-1.3 0.2 3.6 0.1 8.2 0.2 10.8 0.2 2.6 0.1-5 0.2-13.2 0.2-10.6 0.1-3.4 0.2 2.3 0.1 4.6 0.2-2.7 0.2-4.4 0.1-5 0.2 3.3 0.2 10.1 0.1 11.5 0.2 9.2 0.1 2 0.2 1.7 0.2-1.4 0.1-1.8 0.2-9.2 0.2-15.5 0.1-16 0.2-10.2 0.1 3.7 0.2 9.5 0.2 10.7 0.1 1.6 0.2-3.4 0.2-2.5 0.1 3.4 0.2 10.4 0.1 6.2 0.2 0.9 0.2-9.1 0.1-8.5 0.2-6.9 0.2-5.3 0.1-7 0.2-15 0.1-10.2 0.2-3.8 0.2 15.7 0.1 25.1 0.2 26.8 0.2 18.7 0.1 6.2 0.2 4.6 0.2 1.4 0.1 3.1 0.2-8 0.1-16.4 0.2-22.9 0.2-15.7 0.1 1 0.2 11.3 0.2 15.9 0.1 2.6 0.2-4.9 0.1-7.6 0.2 2.5 0.2 16.3 0.1 18 0.2 12.1 0.2-6.4 0.1-16.1 0.2-20.2 0.1-12.6 0.2-3.6 0.2-0.3 0.1 2.5 0.2-0.5 0.2 4.2 0.1 5.7 0.2 9 0.1 6.8 0.2 0.7 0.2-2.2 0.1-5.7 0.2-0.6 0.2-1.7 0.1-0.9 0.2-9.5 0.1-16.1 0.2-17.9 0.2-15 0.1 1 0.2 9 0.2 19.8 0.1 13.8 0.2 7.6 0.1 0.8 0.2-1 0.2 7.6 0.1 9.9 0.2 12.5 0.2 1.2 0.1-7.1 0.2-14.6 0.1-11.8 0.2-6 0.2-3.2 0.1-4.5 0.2-11 0.2-10.1 0.1-5.1 0.2 6.9 0.1 11.8 0.2 10 0.2 0.5 0.1-7.3 0.2-6.3 0.2 0.2 0.1 8.9 0.2 9.2 0.1 3.2 0.2-4.6 0.2-9.3 0.1-5.3 0.2-0.4 0.2 5.7 0.1 8.3 0.2 8.6 0.1 9.9 0.2 5.9 0.2 1.3 0.1-9.8 0.2-16.9 0.2-17.6 0.1-10.4 0.2 3.2 0.1 9.9 0.2 12.9 0.2 6.1 0.1 2.4 0.2 0.6 0.2 3 0.1 5.8 0.2 3.8 0.1 2.7 0.2-1.1 0.2 0.4 0.1-1.5 0.2-3.3 0.2-7.9 0.1-10.1 0.2-5.4 0.1 1.2 0.2 8.9 0.2 8.3 0.1 1.9 0.2-4.9 0.2-9.4 0.1-6.1 0.2-4.8 0.1-4.2 0.2-7.8 0.2-10.3 0.1-5 0.2 0.4 0.2 10.3 0.1 8.5 0.2 9.2 0.1 5.3 0.2 10.8 0.2 16.2" stroke="#1e88ff"/>
</g>
<path d="M772.5 1101.9v-9.5M848.4 1101.9v-9.5M924.4 1101.9v-9.5M1000.3 1101.9v-9.5M810.5 1101.9v-5M886.4 1101.9v-5M962.3 1101.9v-5M772.5 1085h9.5M772.5 1000.7h9.5M772.5 916.4h9.5M772.5 1042.9h5M772.5 958.5h5" stroke="#000" stroke-width="2.2" fill="none"/>
<rect x="772.5" y="874.2" width="227.8" height="227.7" fill="none" stroke="#000" stroke-width="2.2"/>
<text x="772.5" y="1130.9" font-size="22.6" font-weight="bold" text-anchor="middle">0</text>
<text x="848.4" y="1130.9" font-size="22.6" font-weight="bold" text-anchor="middle">2</text>
<text x="924.4" y="1130.9" font-size="22.6" font-weight="bold" text-anchor="middle">4</text>
<text x="1000.3" y="1130.9" font-size="22.6" font-weight="bold" text-anchor="middle">6</text>
<text x="760" y="1092.6" font-size="22.6" font-weight="bold" text-anchor="end">0.0</text>
<text x="760" y="1008.3" font-size="22.6" font-weight="bold" text-anchor="end">0.5</text>
<text x="760" y="924" font-size="22.6" font-weight="bold" text-anchor="end">1.0</text>
<path d="M886.9 885.9H932.5" stroke="#ff0000" stroke-width="3" stroke-linecap="round"/>
<text x="937.5" y="893.1" font-size="20.3">Input</text>
<path d="M886.9 911.4H932.5" stroke="#1e88ff" stroke-width="3" stroke-linecap="round"/>
<text x="937.5" y="918.6" font-size="20.3">Output</text>
<text x="789" y="899.8" font-size="26.5" font-weight="bold">d3</text>
<text x="886.4" y="1168.2" font-size="33.5" text-anchor="middle">Time (ns)</text>
<g clip-path="url(#cle3)" fill="none" stroke-width="2.15" stroke-linejoin="round">
<path d="M1457 1034.8l0.3-16.5 0.4-18.7 0.3-11.9 0.3-3.5 0.3-0.2 0.4-1.6 0.3-2.9 0.3-0.3 0.3 3.9 0.4 4.6 0.3-0.2 0.3-7 0.3-10.8 0.4-9.2 0.3-5.2 0.3-1.7 0.3 0.8 0.4 4 0.3 8.5 0.3 11.6 0.3 10.9 0.4 6.4 0.3 1.7 0.3-0.7 0.3-1.9 0.4-5.4 0.3-11.5 0.3-16.9 0.3-17.1 0.4-9.1 0.3-0.5 0.3 3.3 0.3 3.1 0.4 3 0.3 5.1 0.3 7 0.3 7 0.4 5.4 0.3 3.8 0.3 3.1 0.3 2.7 0.4 2 0.3 2.3 0.3 6 0.4 13 0.3 19.2 0.3 18.6 0.3 9.8 0.4-1.7 0.3-7.7 0.3-5.2 0.3 0.7 0.4 1.6 0.3-6.3 0.3-18.4 0.3-26.3 0.4-24.6 0.3-14.5 0.3-0.7 0.3 12 0.4 20 0.3 21.4 0.3 15.6 0.3 6.4 0.4-0.5 0.3-0.1 0.3 6.4 0.3 11.5 0.4 8.8 0.3-1.6 0.3-12 0.3-15.4 0.4-11.5 0.3-6.6 0.3-6.3 0.3-10.1 0.4-13.1 0.3-11.7 0.3-7.1 0.3-3.4 0.4-1.4 0.3 1.4 0.3 7 0.3 12.7 0.4 13.8 0.3 9 0.3 2.7 0.4 1.4 0.3 6.3 0.3 12.1 0.3 12.1 0.4 4.9 0.3-4 0.3-9 0.3-8.8 0.4-7.7 0.3-9.4 0.3-13.2 0.3-15.7 0.4-14 0.3-6.8 0.3-3.8 0.3-0.3 0.4 11.4 0.3 22.2 0.3 26.8 0.3 21.6 0.4 7.7 0.3-8 0.3-18 0.3-20.6 0.4-19.3 0.3-16.5 0.3-3.3 0.3-4.4 0.4-6.5 0.3-3.3 0.3 3.6 0.3 16.5 0.4 25.1 0.3 17.7 0.3 8.8 0.3 1.3 0.4-5.1 0.3-11.3 0.3-16.3 0.3-17.5 0.4-11.9 0.3-0.8 0.3 3.9 0.3 1.6 0.4-4.1 0.3-6.6 0.3 0 0.4 14 0.3 24.1 0.3 25.1 0.3 16.5 0.4 4.7 0.3-1.6 0.3 1 0.3 7.2 0.4 8.4 0.3 0.4 0.3-12.1 0.3-20.7 0.4-19.8 0.3-11 0.3-0.9 0.3 6.2 0.4 9.5 0.3 10.8 0.3 11.1 0.3 10 0.4 7.2 0.3 3.2 0.3-2 0.3-8.9 0.4-17.4 0.3-24.6 0.3-24.5 0.3-13.8 0.4 3.3 0.3 17.1 0.3 20.6 0.3 12.3 0.4 0.4 0.3-6.4 0.3-6.4 0.3-5.6 0.4-10.4 0.3-14.3 0.3-7.1 0.3-6.4 0.4-2.4 0.3 2.9 0.3 4.2 0.4 1.1 0.3 2.5 0.3 13.7 0.3 14.2 0.4 11.8 0.3 5.1 0.3-5.1 0.3-14.5 0.4-18.4 0.3-12.2 0.3-2.5 0.3 1.8 0.4 1 0.3-0.9 0.3 0 0.3 4 0.4 7.9 0.3 9 0.3 6.3 0.3 4.1 0.4 9.9 0.3 21.2 0.3 28.5 0.3 22.9 0.4 6.1 0.3-10.5 0.3-15.3 0.3-7.1 0.4 3.4 0.3 4.7 0.3-4.6 0.3-15.6 0.4-18.2 0.3-11 0.3-1.5 0.3 2.7 0.4 1.8 0.3 1.9 0.3 7.1 0.3 15.1 0.4 19.6 0.3 17.8 0.3 12.8 0.4 9.4 0.3 8.4 0.3 6.6 0.3 0.4 0.4-10.4 0.3-19.8 0.3-22.7 0.3-18.8 0.4-11.7 0.3-4.2 0.3 2.6 0.3 7.6 0.4 9.2 0.3 6.7 0.3 1.7 0.3-2.2 0.4-4.1 0.3-6 0.3-10.1 0.3-14.2 0.4-13.2 0.3-4 0.3 9.3 0.3 17.7 0.4 15 0.3 3.9 0.3-7 0.3-10.4 0.4-6.6 0.3-1.1 0.3 2 0.3 1.8 0.4-0.5 0.3-4.7 0.3-11.4 0.3-18.9 0.4-22.9 0.3-9 0.3 7.1 0.3 10 0.4 3.3 0.3-6.4 0.3-10.4 0.4-5.5 0.3 3.9 0.3 18.4 0.3 26.5 0.4 12 0.3 0 0.3-6 0.3-8.9 0.4-10.8 0.3-10.1 0.3-3.7 0.3 7.8 0.4 17.2 0.3 18.1 0.3 9.5 0.3-2.9 0.4-13.2 0.3-20.1 0.3-22.1 0.3-6.2 0.4-1 0.3 1 0.3 3.3 0.3 3.9 0.4 15.6 0.3 28.1 0.3 25.6 0.3 24.9 0.4 22.4 0.3 14.6 0.3 2 0.3-8.7 0.4-12.3 0.3-9.1 0.3-4.7 0.3-3.5 0.4-5.9 0.3-9.7 0.3-13.8 0.3-17.8 0.4-19.5 0.3-14.3 0.3-0.6 0.4 16.7 0.3 27.8 0.3 26.7 0.3 16.6 0.4 6.2 0.3 1 0.3-1 0.3-4.7 0.4-9.7 0.3-9.7 0.3-1.4 0.3 9.4 0.4 12.2 0.3 3.7 0.3-7.7 0.3-10.3 0.4-2.4 0.3 4.7 0.3-1.4 0.3-19.3 0.4-33.5 0.3-29.9 0.3-9.1 0.3 13.1 0.4 22.3 0.3 18 0.3 11.2 0.3 10.7 0.4 13.9 0.3 11.4 0.3-0.8 0.3-15.8 0.4-21.9 0.3-15.7 0.3-4 0.3 3 0.4 2 0.3-2.8 0.3-6.2 0.3-6.6 0.4-6.1 0.3-5.3 0.3-2.4 0.4 4.4 0.3 12.7 0.3 17.7 0.3 16.6 0.4 10.8 0.3 3.9 0.3-2 0.3-7.2 0.4-11.2 0.3-12.7 0.3-10.9 0.3-8.1 0.4-8 0.3-10.2 0.3-12 0.3-6.3 0.4 10.2 0.3 26.4 0.3 33.1 0.3 27.3 0.4 15.4 0.3 6.5 0.3 4.5 0.3 5.5 0.4 3 0.3-6.2 0.3-18.2 0.3-27.5 0.4-30.5 0.3-28 0.3-15.7 0.3-3.8 0.4-2.3 0.3 2.7 0.3 18.8 0.3 24.9 0.4 21.8 0.3 14.1 0.3 4.4 0.3-5 0.4-12.1 0.3-14.8 0.3-12.3 0.3-6.8 0.4-1.8 0.3 0.3 0.3-0.4 0.4-2.1 0.3-3.9 0.3-6.8 0.3-9.7 0.4-6.7 0.3-4.4 0.3-3.3 0.3-1.2 0.4 1.5 0.3 3.5 0.3 4.5 0.3 4.7 0.4 3.3 0.3-0.3 0.3-2.9 0.3-0.7 0.4 5.5 0.3 11.8 0.3 14 0.3 11.4 0.4 6.3 0.3 1.7 0.3-2.4 0.3-7.6 0.4-13.6 0.3-16.8 0.3-12 0.3-0.6 0.4 8 0.3 18.2 0.3 22.5 0.3 22.9 0.4 21.7 0.3 17.1 0.3 7.3 0.3-7.2 0.4-20.9 0.3-26 0.3-20.7 0.3-10.1 0.4-0.3 0.3 6.7 0.3 12.7 0.4 18.6 0.3 21 0.3 16 0.3 3.8 0.4-10.2 0.3-19.7 0.3-21.6 0.3-17.6 0.4-10.8 0.3-1.4 0.3 10.4 0.3 21.2 0.4 24.9 0.3 17.3 0.3 2.2 0.3-12.1 0.4-18.9 0.3-18.4 0.3-15.5 0.3-14.3 0.4-13.3 0.3-9 0.3-2 0.3 8.3 0.4 15.5 0.3 17.5 0.3 14.9 0.3 9.5 0.4 3.3 0.3-1.6 0.3-1.6 0.3 3.6 0.4 10.3 0.3 10.8 0.3 1.2 0.3-14.9 0.4-27.4 0.3-29.4 0.3-22.1 0.3-4.7 0.4 4.8 0.3-0.3 0.3-3 0.4 13 0.3 30.2 0.3 31 0.3 22.2 0.4 9.1 0.3-3.1 0.3-13.8 0.3-24 0.4-31 0.3-29.7 0.3-6.6 0.3 3.8 0.4 2.2 0.3-3.2 0.3 1.3 0.3 15.1 0.4 21.3 0.3 21.1 0.3 8.8 0.3-11.1 0.4-26.5 0.3-27.5 0.3-13 0.3 4.1 0.4 8.9 0.3 6.6 0.3 7.2 0.3 10 0.4 8.5 0.3 4 0.3-1.3 0.3-3.3 0.4-1.4 0.3-0.3 0.3-3.7 0.3-9.4 0.4-10.2 0.3-2.5 0.3 9.1 0.3 15 0.4 11.1 0.3 2.5 0.3-2.7 0.4-2.1 0.3-0.2 0.3-1.4 0.3-3.2 0.4 0.5 0.3 11.3 0.3 21.3 0.3 20.9 0.4 9 0.3-5.2 0.3-11.4 0.3-8.8 0.4-6.3 0.3-10.4 0.3-18.5 0.3-20.5 0.4-11.3 0.3 2.5 0.3 11.6 0.3 12.5 0.4 9.6 0.3 10.4 0.3 14.6 0.3 15.3 0.4 7.1 0.3-5.6 0.3-12.6 0.3-8 0.4 3.8 0.3-76.1 0.3-11.8 0.3 8.4 0.4 115.3 0.3-4.7 0.3-12.5 0.3-23.2 0.4-33.1 0.3-31.2 0.3-4.4 0.3 2.2 0.4 1.4 0.3-0.6 0.3 12.8 0.4 40.9 0.3 40.2 0.3 28.2 0.3 9.8 0.4-6 0.3-14.3 0.3-16.6 0.3-17 0.4-18.1 0.3-18.3 0.3-13.6 0.3-4.1 0.4 5.7 0.3 10.2 0.3 8 0.3 2 0.4-4.4 0.3-9.9 0.3-14.5 0.3-12.3 0.4-8.3 0.3-4.7 0.3 6.4 0.3 25.2 0.4 30.2 0.3 25.3 0.3 14.7 0.3 2.6 0.4-9.1 0.3-19.2 0.3-25.1 0.3-24.5 0.4-16.2 0.3-0.9 0.3 2.6 0.3 1.5 0.4 6.5 0.3 13.8 0.3 15.4 0.3 13.1 0.4 6.1 0.3-2.7 0.3-10 0.3-14.2 0.4-16.3 0.3-14.5 0.3-6.5 0.4-1.5 0.3 2 0.3 3.5 0.3 2.4 0.4 6 0.3 15.2 0.3 22 0.3 27.8 0.4 26.6 0.3 15.4 0.3-0.3 0.3-12.5 0.4-17.1 0.3-18 0.3-20.9 0.3-27.3 0.4-17.4 0.3-6.1 0.3-2.8 0.3 1.7 0.4 3.2 0.3 9.7 0.3 29.2 0.3 29.1 0.4 28.1 0.3 23.6 0.3 12.4 0.3-3.6 0.4-17.6 0.3-22.6 0.3-17.1 0.3-7.9 0.4-2.3 0.3-3.5 0.3-7 0.3-6.7 0.4-0.6 0.3 6.2 0.3 7.7 0.3 1.9 0.4-6.8 0.3-11.5 0.3-9.6 0.4-3.2 0.3 2.7 0.3 5.6 0.3 6.8 0.4 7.9 0.3 7.9 0.3 4.6 0.3-2.3 0.4-9.7 0.3-13.1 0.3-11.7 0.3-9.1 0.4-5.2 0.3-4.7 0.3-9 0.3-8.4 0.4-0.4 0.3 10.6 0.3 16.4 0.3 10.7 0.4-1 0.3-9.4 0.3-10.8 0.3-5.8 0.4 0.1 0.3 3 0.3 4.3 0.3 8.6 0.4 11.6 0.3 10.4 0.3 6.3 0.3 0.1 0.4-6.1 0.3-11.6 0.3-14.6 0.3-9.9 0.4-4.2 0.3-0.5 0.3 9.6 0.3 26.9 0.4 31.6" stroke="#ff0000"/>
<path d="M1457 1028.2l0.2-2.9 0.1-5 0.2-5.5 0.2 4.2 0.1 1.7 0.2-3.6 0.1-15.5 0.2-21.5 0.2-14.3 0.1-6.8 0.2 7.2 0.2 6.8 0.1 9.5 0.2 8.2 0.1 11 0.2 14.5 0.2 7.8 0.1 1.3 0.2-12.4 0.2-13.1 0.1-10.1 0.2-1.3 0.1 3.9 0.2-0.1 0.2-2.9 0.1-7.8 0.2 0.2 0.2 6.1 0.1 14.7 0.2 15.3 0.1 11.1 0.2 8.1 0.2 0.8 0.1 1.1 0.2-6.6 0.2-7.7 0.1-11.9 0.2-10.7 0.1-6.7 0.2-5.4 0.2-0.5 0.1-1.3 0.2 2.9 0.2 4.2 0.1 4 0.2 0.8 0.1-6.8 0.2-9.1 0.2-7.8 0.1-0.2 0.2 6.6 0.2 5.9 0.1 1.5 0.2-6.8 0.1-6.3 0.2-1.4 0.2 8.8 0.1 14.7 0.2 13.5 0.2 8.2 0.1 0.4 0.2-2.6 0.1-5.5 0.2-5 0.2-5.5 0.1-3.1 0.2 1.5 0.2 5.9 0.1 8.6 0.2 5.1 0.1-0.5 0.2-5.5 0.2-7.4 0.1-4.3 0.2-3.3 0.2-2.2 0.1-4.8 0.2-5.4 0.2-3.4 0.1-0.6 0.2 3 0.1 1.9 0.2 1.5 0.2-0.5 0.1 0.1 0.2 0 0.2-0.9 0.1-2.5 0.2-2 0.1 1.8 0.2 8.7 0.2 13.3 0.1 14.2 0.2 9.8 0.2 4.1 0.1 0.4 0.2-1.5 0.1-1.3 0.2-4.2 0.2-3.8 0.1-5.8 0.2-0.5 0.2 0.2 0.1 1.5 0.2-4.6 0.1-12.2 0.2-15.2 0.2-16.4 0.1-6.1 0.2-1.1 0.2 8.8 0.1 9.9 0.2 11.7 0.1 10.3 0.2 5.7 0.2 4.5 0.1-0.2 0.2 4.1 0.2 4.7 0.1 6.2 0.2-1.9 0.1-14.1 0.2-22.6 0.2-21.7 0.1-5.3 0.2 10.6 0.2 21.8 0.1 14.5 0.2 2.3 0.1-6.2 0.2-1.8 0.2 13.2 0.1 19.4 0.2 14.8 0.2-8 0.1-25.5 0.2-30.9 0.1-18.2 0.2 3.6 0.2 15.7 0.1 18.9 0.2 9 0.2 0.5 0.1-4.5 0.2-8.1 0.1-8.8 0.2-12.2 0.2-8 0.1 0.7 0.2 10.4 0.2 15.7 0.1 6.1 0.2-4.9 0.2-14.7 0.1-8.2 0.2 7.7 0.1 21.4 0.2 25.4 0.2 11.4 0.1-3.3 0.2-16.6 0.2-14.9 0.1-9.7 0.2-3.2 0.1-3.2 0.2-7.5 0.2-8.7 0.1-8.4 0.2-0.7 0.2 3.3 0.1 9.1 0.2 8.5 0.1 7.3 0.2 3.3 0.2-2 0.1-3.1 0.2-2.4 0.2 4.5 0.1 8.6 0.2 8.2 0.1 1.3 0.2-7.2 0.2-8.1 0.1-1.5 0.2 9.6 0.2 14.2 0.1 7.4 0.2-5.2 0.1-15.9 0.2-13.3 0.2-3.7 0.1 7.8 0.2 8.7 0.2 1.9 0.1-6.7 0.2-10.1 0.1-6 0.2-3.5 0.2-2.9 0.1-8 0.2-7 0.2 0 0.1 11.7 0.2 18.8 0.1 13.6 0.2 1.6 0.2-9.6 0.1-9.9 0.2-0.7 0.2 8.5 0.1 11.7 0.2 5.2 0.1-2.2 0.2-4.5 0.2-2.4 0.1 3 0.2 1.4 0.2-0.5 0.1-3.6 0.2-1.6 0.1 1.8 0.2-0.5 0.2-6.9 0.1-16.8 0.2-16.5 0.2-6.2 0.1 10.5 0.2 21.6 0.2 17.6 0.1 3.1 0.2-12.8 0.1-17.2 0.2-9.1 0.2 3.3 0.1 11.3 0.2 8.1 0.2-0.4 0.1-6.8 0.2-6.6 0.1 0.4 0.2 5.9 0.2 7.3 0.1 2.4 0.2-4.6 0.2-8.1 0.1-7.9 0.2-1.2 0.1 5.2 0.2 11.6 0.2 12.2 0.1 9.6 0.2 4.2 0.2-0.3 0.1 0 0.2 1.1 0.1 5.1 0.2 2.6 0.2 0.5 0.1-7.3 0.2-10.2 0.2-13.6 0.1-14.7 0.2-14.9 0.1-16.4 0.2-9.7 0.2-3 0.1 11.3 0.2 16.6 0.2 17.4 0.1 8.7 0.2-0.8 0.1-2.7 0.2 0 0.2 9.7 0.1 11.7 0.2 9.4 0.2-0.3 0.1-8.2 0.2-10 0.1-7.2 0.2-0.1 0.2 3.1 0.1 5.1 0.2 3.7 0.2 2.1 0.1 1.4 0.2-0.4 0.1-0.2 0.2-1.1 0.2-0.2 0.1 0.5 0.2 0.2 0.2 0.1 0.1-1 0.2-0.4 0.2-0.2 0.1-1.2 0.2-3.4 0.1-7.2 0.2-7.2 0.2-4.5 0.1 1.3 0.2 5.9 0.2 5 0.1 1.4 0.2-5.2 0.1-6.4 0.2-4.9 0.2 0.2 0.1 4.6 0.2 6.5 0.2 7.4 0.1 6.3 0.2 5.7 0.1 3.4 0.2 1.6 0.2-0.5 0.1-0.9 0.2-1.8 0.2-4.4 0.1-8.7 0.2-11.6 0.1-7.8 0.2 2.4 0.2 14.4 0.1 18.6 0.2 9.6 0.2-6.8 0.1-20.9 0.2-20.2 0.1-7.7 0.2 7.5 0.2 12.5 0.1 2.9 0.2-9.5 0.2-16.1 0.1-6 0.2 8.9 0.1 19.6 0.2 16.4 0.2 3.3 0.1-5.4 0.2-6.2 0.2 3.7 0.1 8.7 0.2 5.6 0.1-6.1 0.2-16.2 0.2-14.7 0.1-5.7 0.2 6.7 0.2 9.6 0.1 6.3 0.2 1.3 0.1 0.8 0.2 6.6 0.2 8.5 0.1 5.2 0.2-6.6 0.2-15.9 0.1-17.3 0.2-10.3 0.1 1 0.2 5.7 0.2 6.7 0.1 3.2 0.2 3.8 0.2 6.7 0.1 8.4 0.2 5.9 0.2-2.1 0.1-6.6 0.2-6.8 0.1 0.8 0.2 5.6 0.2 4.1 0.1-6.2 0.2-17.1 0.2-18.8 0.1-10.7 0.2 5.6 0.1 14.2 0.2 14.6 0.2 3.2 0.1-5.5 0.2-5.4 0.2 4.7 0.1 19.3 0.2 22.8 0.1 16.4 0.2-2.2 0.2-16.3 0.1-21.4 0.2-14 0.2-1.4 0.1 5.8 0.2 7.1 0.1 1.1 0.2-1.7 0.2-1.6 0.1 2.6 0.2 4.4 0.2 1.2 0.1-3.2 0.2-5.7 0.1-0.5 0.2 6.9 0.2 12.7 0.1 9.8 0.2 0.2 0.2-9.8 0.1-14.9 0.2-11.9 0.1-6.3 0.2-2 0.2-1.9 0.1-2.6 0.2-0.6 0.2 5.7 0.1 12.3 0.2 14.5 0.1 9.4 0.2-0.3 0.2-9.4 0.1-12.7 0.2-8.8 0.2-0.9 0.1 7 0.2 10.8 0.1 9.4 0.2 4.6 0.2-0.6 0.1-2.7 0.2-0.4 0.2 3.4 0.1 5.8 0.2 1.7 0.1-6.1 0.2-14.2 0.2-16.1 0.1-9.2 0.2 0.7 0.2 9.7 0.1 9.8 0.2 7 0.2 3.3 0.1 4.7 0.2 9 0.1 9.5 0.2 5.3 0.2-5 0.1-9.7 0.2-9.1 0.2-1.5 0.1 1.9 0.2-2.3 0.1-13.1 0.2-21.8 0.2-17.9 0.1-5.4 0.2 11.5 0.2 16 0.1 10.9 0.2-2.6 0.1-9.5 0.2-5.2 0.2 7 0.1 20.3 0.2 22.3 0.2 16.9 0.1 4 0.2-4.8 0.1-9.3 0.2-8.3 0.2-5.6 0.1-5.4 0.2-6.7 0.2-10.5 0.1-11.9 0.2-9.9 0.1-2.5 0.2 7.1 0.2 14.1 0.1 14.3 0.2 7.1 0.2-2.1 0.1-7.6 0.2-5.9 0.1-1.2 0.2 1.1 0.2-1.7 0.1-6.3 0.2-4.5 0.2 4.3 0.1 16.4 0.2 20.2 0.1 11 0.2-4.4 0.2-16.3 0.1-11.9 0.2-0.1 0.2 10.8 0.1 5.4 0.2-12.8 0.1-30.1 0.2-34.5 0.2-17.7 0.1 3.5 0.2 20 0.2 18.7 0.1 8.9 0.2 0.5 0.1 1.2 0.2 9.7 0.2 15.4 0.1 15.6 0.2 8.5 0.2 3.7 0.1 0.9 0.2 1.8 0.2-1.7 0.1-8 0.2-15 0.1-18 0.2-13.2 0.2-7.8 0.1-0.7 0.2 1.7 0.2 6.9 0.1 12.4 0.2 16.9 0.1 16.7 0.2 6 0.2-4.7 0.1-13.6 0.2-10.7 0.2-3.5 0.1 0.6 0.2-2.6 0.1-13.7 0.2-19.3 0.2-17 0.1-4.2 0.2 7.9 0.2 13.4 0.1 10.4 0.2 5.2 0.1 3.1 0.2 4.4 0.2 6 0.1 3.8 0.2 1.2 0.2 0.2 0.1 5.4 0.2 10.6 0.1 11.2 0.2 4.4 0.2-6.4 0.1-11.8 0.2-9.9 0.2-1.9 0.1 4.5 0.2 5.2 0.1 2.9 0.2 0.3 0.2 2.2 0.1 3.8 0.2 2.4 0.2-3.5 0.1-9.4 0.2-10 0.1-6.5 0.2-3.4 0.2-6.8 0.1-13.7 0.2-17.2 0.2-8.9 0.1 7.6 0.2 22.9 0.1 24.2 0.2 11.9 0.2-4.7 0.1-11.6 0.2-3.3 0.2 10.8 0.1 19.7 0.2 13.5 0.1-0.7 0.2-12.4 0.2-12.1 0.1-2.5 0.2 6.4 0.2 7 0.1-1.3 0.2-9.2 0.2-11.1 0.1-4.2 0.2 4.7 0.1 9.8 0.2 9 0.2 4.8 0.1 2.3 0.2 0.7 0.2 1.1 0.1-0.8 0.2-2.7 0.1-4.7 0.2-5.7 0.2-5.7 0.1-7 0.2-7.3 0.2-7 0.1-3.8 0.2-0.4 0.1 1 0.2-0.2 0.2-2.4 0.1-1.3 0.2 3.3 0.2 8.8 0.1 10.3 0.2 6.4 0.1 1 0.2-0.9 0.2 3.2 0.1 9.3 0.2 10.3 0.2 4.5 0.1-5.5 0.2-9.8 0.1-6.5 0.2 2.9 0.2 8.4 0.1 4.3 0.2-6.2 0.2-16.2 0.1-16.4 0.2-9.3 0.1 0 0.2 2.6 0.2-0.3 0.1-2.5 0.2 1.9 0.2 13.3 0.1 22.2 0.2 21.7 0.1 8.8 0.2-7.1 0.2-16.7 0.1-13.6 0.2-3.4 0.2 4.1 0.1 3.7 0.2-4.8 0.1-11 0.2-10.7 0.2-2.3 0.1 6.7 0.2 9.4 0.2 6.2 0.1-1.2 0.2-4.5 0.1-4.2 0.2-2.5 0.2-2.5 0.1-7 0.2-8.9 0.2-7.8 0.1 0.1 0.2 9.1 0.2 13.9 0.1 13.1 0.2 6.9 0.1 3.1 0.2 1.9 0.2 4.6 0.1 5.9 0.2 3.5 0.2-1.4 0.1-6.6 0.2-7.7 0.1-6.9 0.2-5.1 0.2-6.2 0.1-8.3 0.2-9.9 0.2-7.7 0.1-2.8 0.2 2.7 0.1 6.5 0.2 7.5 0.2 8.7 0.1 10.2 0.2 12 0.2 10.3 0.1 4.2 0.2-4.8 0.1-11.9 0.2-12.4 0.2-6.7 0.1 1.7 0.2 6.9 0.2 6.2 0.1 1.6 0.2-3.4 0.1-5.7 0.2-5.6 0.2-5.7 0.1-6.2 0.2-6.6 0.2-3.9 0.1 1.9 0.2 8.1 0.1 10.8 0.2 7.2 0.2 0.5 0.1-5.1 0.2-4.5 0.2 1.4 0.1 8.2 0.2 10.7 0.1 5.4 0.2-3.5 0.2-11.4 0.1-12 0.2-5.2 0.2 4.8 0.1 12.1 0.2 11.6 0.1 5 0.2-4.4 0.2-9.3 0.1-7.9 0.2-1.9 0.2 4.2 0.1 5 0.2 1.2 0.1-4.3 0.2-5.7 0.2-2.4 0.1 2.9 0.2 5.4 0.2 1.7 0.1-4 0.2-7.1 0.2-1.8 0.1 8.7 0.2 17.3 0.1 16.6 0.2 4.5 0.2-11.2 0.1-22.5 0.2-20.9 0.2-10.2 0.1 2.7 0.2 9.1 0.1 6.2 0.2-0.8 0.2-6.7 0.1-5 0.2 1.5 0.2 10.2 0.1 15.3 0.2 15.4 0.1 10.7 0.2 2.9 0.2-5.4 0.1-13 0.2-16 0.2-13.6 0.1-6 0.2 3.2 0.1 9.3 0.2 9.7 0.2 5.5 0.1 0.7 0.2-1.9 0.2-2 0.1-2.2 0.2-5.6 0.1-10.5 0.2-13.2 0.2-9.2 0.1 1.1 0.2 11.9 0.2 17.2 0.1 13.2 0.2 5.4 0.1-0.9 0.2 0.3 0.2 5.7 0.1 9.1 0.2 4.7 0.2-7.1 0.1-17.6 0.2-20.9 0.1-12.4 0.2-0.9 0.2 7 0.1 4.2 0.2-5.4 0.2-13 0.1-12.8 0.2-1.8 0.1 10.6 0.2 19.1 0.2 17.6 0.1 10.4 0.2 2.4 0.2-1.5 0.1-0.4 0.2 1.7 0.2 2.8 0.1 1 0.2-2.2 0.1-5.6 0.2-7.1 0.2-7.1 0.1-4.4 0.2-0.4 0.2 3.3 0.1 4.3 0.2 1.1 0.1-4.7 0.2-10.1 0.2-11.2 0.1-7.5 0.2-1.4 0.2 3.8 0.1 6.9 0.2 8.7 0.1 12.8 0.2 16.1 0.2 18.6 0.1 13.3 0.2 3.6 0.2-7 0.1-12.9 0.2-9.1 0.1-4.8 0.2-1 0.2-7.7 0.1-16.8 0.2-23.9 0.2-21.5 0.1-8.9 0.2 4.6 0.1 15.6 0.2 16.2 0.2 13.8 0.1 8.8 0.2 8.4 0.2 8.8 0.1 9.3 0.2 8 0.1 4.4 0.2 3 0.2-0.4 0.1-1.5 0.2-6.2 0.2-9.4 0.1-11.1 0.2-8.5 0.1-0.8 0.2 5.6 0.2 10.2 0.1 7.7 0.2 1.8 0.2-4.7 0.1-8.4 0.2-5.7 0.1-0.8 0.2 5.3 0.2 5.7 0.1 0.2 0.2-9.5 0.2-17.2 0.1-17.4 0.2-8.4 0.1 4.6 0.2 12.9 0.2 12.4 0.1 2.9 0.2-5 0.2-6 0.1 3.5 0.2 14.8 0.2 18.6 0.1 11.7 0.2-2.8 0.1-13 0.2-14 0.2-5.3 0.1 5.3 0.2 10.5 0.2 9.5 0.1 4.9 0.2 1 0.1-0.8 0.2-4.1 0.2-8.5 0.1-13 0.2-12.4 0.2-4.7 0.1 5.5 0.2 13.9 0.1 13.5 0.2 7.2 0.2-0.7 0.1-5.8 0.2-6.3 0.2-7.5 0.1-9.5 0.2-13.5 0.1-13.8 0.2-8.1 0.2 1.7 0.1 12.2 0.2 15.7 0.2 14.2 0.1 6.6 0.2 1.3 0.1-2.1 0.2-0.5 0.2 3.7 0.1 6.8 0.2 8.6 0.2 2.8 0.1-4.8 0.2-15.9 0.1-20.4 0.2-16.6 0.2-5.5 0.1 8.3 0.2 13.6 0.2 12.1 0.1 2.5 0.2-3.5 0.1-4.2 0.2-0.5 0.2 2.9 0.1 0.5 0.2-3.1 0.2-4.4 0.1 1.3 0.2 9.9 0.1 14.5 0.2 10.8 0.2 0.1 0.1-7.8 0.2-8.5 0.2-1 0.1 6.8 0.2 7.8 0.1 2.1 0.2-8.1 0.2-11.9 0.1-11.5 0.2-5.7 0.2-2.4 0.1-2 0.2-2.5 0.2-3.1 0.1 1.1 0.2 2.5 0.1 4.7 0.2 2.5 0.2 1.5 0.1 2.7 0.2 4 0.2 6.3 0.1 2.8 0.2-0.7 0.1-6.1 0.2-7.5 0.2-5.6 0.1-3.2 0.2 0.9 0.2 1.3 0.1 3.4 0.2 2.6 0.1 3.1 0.2 3.8 0.2 5.6 0.1 9.9 0.2 10.9 0.2 9.2 0.1-1 0.2-12.5 0.1-21.3 0.2-19.6 0.2-7.9 0.1 4.7 0.2 12.4 0.2 8.1 0.1 0.9 0.2-4.2 0.1-0.2 0.2 8.3 0.2 12.2 0.1 8.5 0.2-3 0.2-11.1 0.1-12.4 0.2-6 0.1-0.7 0.2-1 0.2-5.4 0.1-8.6 0.2-3.7 0.2 5.1 0.1 12.8 0.2 11.5 0.1 3.1 0.2-5.7 0.2-9.5 0.1-6.3 0.2-3 0.2-2.7 0.1-4.4 0.2-3.7 0.1 4.9 0.2 15.4 0.2 22.4 0.1 16.9 0.2 2.3 0.2-12 0.1-17.4 0.2-9.1 0.1 2.2 0.2 10.9 0.2 8.2 0.1 0.1 0.2-7.1 0.2-8.2 0.1-3.3 0.2 0.4 0.2 1.7 0.1-1.4 0.2-2.4 0.1-0.3 0.2 4.4 0.2 7.9 0.1 6.2 0.2 1.9 0.2-3.8 0.1-5 0.2-3.9 0.1-1.6 0.2-2.1 0.2-5.3 0.1-7.9 0.2-7.8 0.2-2.5 0.1 3.7 0.2 8.4 0.1 7.7 0.2 2.7 0.2-3 0.1-5.5 0.2-3 0.2 3.5 0.1 8.4 0.2 10.1 0.1 5.1 0.2-0.8 0.2-5.2 0.1-3.5 0.2 4.6 0.2 12 0.1 16.7 0.2 9.6 0.1-2.1 0.2-17 0.2-23.9 0.1-20.5 0.2-9.4 0.2 4 0.1 9.2 0.2 7.9 0.1 0 0.2-3.8 0.2-2.1 0.1 5.4 0.2 11.1 0.2 9.9 0.1 2.5 0.2-6.5 0.1-8.3 0.2-3.8 0.2 4.6 0.1 7.6 0.2 3.9 0.2-3.8 0.1-8.5 0.2-5.7 0.1 0.5 0.2 4.6 0.2 2 0.1-4.5 0.2-6.8 0.2-3 0.1 5.9 0.2 9.7 0.1 3.9 0.2-7.9 0.2-18.1 0.1-16.1 0.2-3.8 0.2 12 0.1 18.2 0.2 13.5 0.2 3.6 0.1-1.4 0.2-1.3 0.1 1.5 0.2 4.9 0.2 2.6 0.1-0.3 0.2-3.5 0.2-2.3 0.1-1.3 0.2-5 0.1-9.1 0.2-10.2 0.2-2.3 0.1 10 0.2 18.4 0.2 16.1 0.1 3.1 0.2-10.8 0.1-17.2 0.2-12.5 0.2-3 0.1 2.5 0.2 1.4 0.2-3.4 0.1-4.5 0.2 0.5 0.1 7.6 0.2 10.6 0.2 6.7 0.1-1.7 0.2-6.3 0.2-6.3 0.1 0 0.2 5.6 0.1 8 0.2 7.3 0.2 3.5 0.1 1.4 0.2-3 0.2-5.4 0.1-8.3 0.2-7.5 0.1-4.4 0.2 0 0.2 2.8 0.1 2.5 0.2 1.9 0.2 0.7 0.1 2 0.2 0.2 0.1-1.8 0.2-5.9 0.2-5 0.1 1.9 0.2 11.3 0.2 19.2 0.1 14.7 0.2 4.8 0.1-10.2 0.2-16.3 0.2-15 0.1-8.2 0.2-3 0.2-4.3 0.1-6 0.2-7.4 0.1-0.9 0.2 5.8 0.2 12.4 0.1 12 0.2 8.9 0.2 4.8 0.1 1.9 0.2 1.6 0.2-1.4 0.1-2.4 0.2-5.8 0.1-5.6 0.2-5.9 0.2-5.8 0.1-5.5 0.2-4.5 0.2-0.2 0.1 4 0.2 6.3 0.1 2.2 0.2-3 0.2-6.9 0.1-0.2 0.2 9.3 0.2 19.3 0.1 17.9 0.2 7.1 0.1-4.9 0.2-13.1 0.2-7.1 0.1-1.3 0.2 6.2 0.2 2.5 0.1-2.3 0.2-6.4 0.1-6.9 0.2-5 0.2-9.6 0.1-13.2 0.2-17.2 0.2-7.6 0.1 6.4 0.2 23 0.1 26.2 0.2 17.9 0.2 4.3 0.1-6.4 0.2-4.3 0.2-1.4 0.1 3.3 0.2-3.1 0.1-9 0.2-13.2 0.2-10.6 0.1-3.9 0.2-2.4 0.2-2.4 0.1-5.8 0.2-2.2 0.1 3.9 0.2 11 0.2 10 0.1 4.9 0.2-1.2 0.2 1.2 0.1 8.8 0.2 15.1 0.1 13.1 0.2-0.5 0.2-11.6 0.1-16.4 0.2-5.8 0.2 7.1 0.1 14.9 0.2 10.4 0.2-2.3 0.1-11.1 0.2-12.3 0.1-4.2 0.2 2.7 0.2 4.2 0.1 0.6 0.2-4.5 0.2-3.2 0.1-1.4 0.2 1.7 0.1-3.9 0.2-11.7 0.2-17.9 0.1-16.9 0.2-3.4 0.2 8.2 0.1 21.9 0.2 18.4 0.1 13.4 0.2 2.1 0.2-2.1 0.1 2.2 0.2 6.7 0.2 15.1 0.1 9.6 0.2 5.8 0.1-6.4 0.2-10.4 0.2-14.1 0.1-13.9 0.2-13.9 0.2-16.1 0.1-11.4 0.2-7 0.1 7.7 0.2 13.2 0.2 18.2 0.1 10.3 0.2 3.5 0.2 2 0.1 4.3 0.2 13.3 0.1 9.5 0.2 3 0.2-12.1 0.1-18.5 0.2-14 0.2-3.1 0.1 8.7 0.2 9.3 0.1 3.8 0.2-3.3 0.2-5.6 0.1-1.8 0.2 0.2 0.2-2.1 0.1-6.9 0.2-10 0.1-3.9 0.2 5.1 0.2 12.3 0.1 11.7 0.2 2.4 0.2-4.3 0.1-8.5 0.2-5.8 0.1-4.4 0.2-7.3 0.2-10.2 0.1-11.1 0.2-1.5 0.2 9 0.1 19.3 0.2 17.7 0.2 11.6 0.1 3.1 0.2 0.5 0.1 2.7 0.2 2.8 0.2 2.7 0.1-4.7 0.2-4.2 0.2-5.7 0.1 0.5 0.2-0.4 0.1-4.5 0.2-10.2 0.2-15.7 0.1-10.5 0.2-6.1 0.2 3.1 0.1 5.4 0.2 7.7 0.1 7.7 0.2 7 0.2 4.4 0.1-1.8 0.2-6.3 0.2-7.4 0.1-0.2 0.2 6.7 0.1 10.5 0.2 3.6 0.2-6.4 0.1-12.6 0.2-9.9 0.2 0.8 0.1 6.9 0.2 7 0.1-2 0.2-7.6 0.2-6.1 0.1 3 0.2 12.1 0.2 13.6 0.1 9.3 0.2 2.4 0.1 0 0.2-1.1 0.2-2.2 0.1-8.3 0.2-12.4 0.2-10.8 0.1-0.9 0.2 11.8 0.1 15.6 0.2 10 0.2-3.7 0.1-11.8 0.2-9.7 0.2-2 0.1 6.4 0.2 2.7 0.1-3.2 0.2-11.2 0.2-10.6 0.1-5 0.2-2.8 0.2 0.2 0.1-4.9 0.2 1.9 0.1 7 0.2 18.8 0.2 20.1" stroke="#1e88ff"/>
</g>
<path d="M1457 1101.9v-9.5M1533 1101.9v-9.5M1608.9 1101.9v-9.5M1684.9 1101.9v-9.5M1495 1101.9v-5M1571 1101.9v-5M1646.9 1101.9v-5M1457 1085h9.5M1457 1000.7h9.5M1457 916.4h9.5M1457 1042.9h5M1457 958.5h5" stroke="#000" stroke-width="2.2" fill="none"/>
<rect x="1457" y="874.2" width="227.9" height="227.7" fill="none" stroke="#000" stroke-width="2.2"/>
<text x="1457" y="1130.9" font-size="22.6" font-weight="bold" text-anchor="middle">0</text>
<text x="1533" y="1130.9" font-size="22.6" font-weight="bold" text-anchor="middle">2</text>
<text x="1608.9" y="1130.9" font-size="22.6" font-weight="bold" text-anchor="middle">4</text>
<text x="1684.9" y="1130.9" font-size="22.6" font-weight="bold" text-anchor="middle">6</text>
<text x="1444.5" y="1092.6" font-size="22.6" font-weight="bold" text-anchor="end">0.0</text>
<text x="1444.5" y="1008.3" font-size="22.6" font-weight="bold" text-anchor="end">0.5</text>
<text x="1444.5" y="924" font-size="22.6" font-weight="bold" text-anchor="end">1.0</text>
<path d="M1571 889.2H1616.6" stroke="#ff0000" stroke-width="3" stroke-linecap="round"/>
<text x="1622" y="896.4" font-size="20.3">Input</text>
<path d="M1571 914.7H1616.6" stroke="#1e88ff" stroke-width="3" stroke-linecap="round"/>
<text x="1622" y="921.9" font-size="20.3">Output</text>
<text x="1473.5" y="899.8" font-size="26.5" font-weight="bold">e3</text>
<text x="1571" y="1166.8" font-size="33.5" text-anchor="middle">Time (ns)</text>
<use href="#spc4" stroke="#3592f0" stroke-width="5.2" stroke-linecap="round"/>
<use href="#spc4" stroke="#9ccdfb" stroke-width="1.6" stroke-linecap="round"/>
<path d="M424.1 1101.9v-9.5M508.4 1101.9v-9.5M592.8 1101.9v-9.5M466.3 1101.9v-5M550.6 1101.9v-5M407.2 1085h9.5M407.2 1000.7h9.5M407.2 916.4h9.5M407.2 1042.9h5M407.2 958.5h5" stroke="#000" stroke-width="2.2" fill="none"/>
<rect x="407.2" y="874.2" width="227.8" height="227.7" fill="none" stroke="#000" stroke-width="2.2"/>
<text x="424.1" y="1130.9" font-size="22.6" font-weight="bold" text-anchor="middle">0.0</text>
<text x="508.4" y="1130.9" font-size="22.6" font-weight="bold" text-anchor="middle">0.5</text>
<text x="592.8" y="1130.9" font-size="22.6" font-weight="bold" text-anchor="middle">1.0</text>
<text x="394.7" y="1092.6" font-size="22.6" font-weight="bold" text-anchor="end">0.0</text>
<text x="394.7" y="1008.3" font-size="22.6" font-weight="bold" text-anchor="end">0.5</text>
<text x="394.7" y="924" font-size="22.6" font-weight="bold" text-anchor="end">1.0</text>
<text x="425.7" y="899.8" font-size="26.5" font-weight="bold">c4</text>
<text x="630" y="895.7" font-size="21" text-anchor="end">CC<tspan font-size="14" dy="5">in,out</tspan><tspan dy="-5">=0.587</tspan></text>
<text x="518.3" y="1168.8" font-size="33.5" text-anchor="middle">Input</text>
<use href="#spd4" stroke="#3592f0" stroke-width="5.2" stroke-linecap="round"/>
<use href="#spd4" stroke="#9ccdfb" stroke-width="1.6" stroke-linecap="round"/>
<path d="M1108.9 1101.9v-9.5M1193.2 1101.9v-9.5M1277.5 1101.9v-9.5M1151 1101.9v-5M1235.3 1101.9v-5M1092 1085h9.5M1092 1000.7h9.5M1092 916.4h9.5M1092 1042.9h5M1092 958.5h5" stroke="#000" stroke-width="2.2" fill="none"/>
<rect x="1092" y="874.2" width="227.6" height="227.7" fill="none" stroke="#000" stroke-width="2.2"/>
<text x="1108.9" y="1130.9" font-size="22.6" font-weight="bold" text-anchor="middle">0.0</text>
<text x="1193.2" y="1130.9" font-size="22.6" font-weight="bold" text-anchor="middle">0.5</text>
<text x="1277.5" y="1130.9" font-size="22.6" font-weight="bold" text-anchor="middle">1.0</text>
<text x="1079.5" y="1092.6" font-size="22.6" font-weight="bold" text-anchor="end">0.0</text>
<text x="1079.5" y="1008.3" font-size="22.6" font-weight="bold" text-anchor="end">0.5</text>
<text x="1079.5" y="924" font-size="22.6" font-weight="bold" text-anchor="end">1.0</text>
<text x="1110.5" y="899.8" font-size="26.5" font-weight="bold">d4</text>
<text x="1314.6" y="895.7" font-size="21" text-anchor="end">CC<tspan font-size="14" dy="5">in,out</tspan><tspan dy="-5">=0.615</tspan></text>
<text x="1209.3" y="1166.8" font-size="33.5" text-anchor="middle">Input</text>
<use href="#spe4" stroke="#3592f0" stroke-width="5.2" stroke-linecap="round"/>
<use href="#spe4" stroke="#9ccdfb" stroke-width="1.6" stroke-linecap="round"/>
<path d="M1793 1101.9v-9.5M1877.6 1101.9v-9.5M1962.1 1101.9v-9.5M1835.3 1101.9v-5M1919.8 1101.9v-5M1776.1 1085h9.5M1776.1 1000.7h9.5M1776.1 916.4h9.5M1776.1 1042.9h5M1776.1 958.5h5" stroke="#000" stroke-width="2.2" fill="none"/>
<rect x="1776.1" y="874.2" width="228.3" height="227.7" fill="none" stroke="#000" stroke-width="2.2"/>
<text x="1793" y="1130.9" font-size="22.6" font-weight="bold" text-anchor="middle">0.0</text>
<text x="1877.6" y="1130.9" font-size="22.6" font-weight="bold" text-anchor="middle">0.5</text>
<text x="1962.1" y="1130.9" font-size="22.6" font-weight="bold" text-anchor="middle">1.0</text>
<text x="1763.6" y="1092.6" font-size="22.6" font-weight="bold" text-anchor="end">0.0</text>
<text x="1763.6" y="1008.3" font-size="22.6" font-weight="bold" text-anchor="end">0.5</text>
<text x="1763.6" y="924" font-size="22.6" font-weight="bold" text-anchor="end">1.0</text>
<text x="1794.6" y="899.8" font-size="26.5" font-weight="bold">e4</text>
<text x="1999.4" y="895.7" font-size="21" text-anchor="end">CC<tspan font-size="14" dy="5">in,out</tspan><tspan dy="-5">=0.279</tspan></text>
<text x="1890.2" y="1168.2" font-size="33.5" text-anchor="middle">Input</text>
<text transform="translate(30 669.2) rotate(-90)" font-size="33.5" text-anchor="middle">Intensity (dBm)</text>
<text transform="translate(352 668.2) rotate(-90)" font-size="33.5" text-anchor="middle">Intensity (dB)</text>
<text transform="translate(712 660.2) rotate(-90)" font-size="33.5" text-anchor="middle">Intensity (dBm)</text>
<text transform="translate(1039.5 659.2) rotate(-90)" font-size="33.5" text-anchor="middle">Intensity (dB)</text>
<text transform="translate(1396.2 658.6) rotate(-90)" font-size="33.5" text-anchor="middle">Intensity (dBm)</text>
<text transform="translate(1720.1 659.2) rotate(-90)" font-size="33.5" text-anchor="middle">Intensity (dB)</text>
<text transform="translate(33 997.7) rotate(-90)" font-size="33.5" text-anchor="middle">Intensity</text>
<text transform="translate(354.8 988.1) rotate(-90)" font-size="33.5" text-anchor="middle">Output</text>
<text transform="translate(719.4 987.6) rotate(-90)" font-size="33.5" text-anchor="middle">Intensity</text>
<text transform="translate(1039.2 988) rotate(-90)" font-size="33.5" text-anchor="middle">Output</text>
<text transform="translate(1404.7 987.6) rotate(-90)" font-size="33.5" text-anchor="middle">Intensity (Nor.)</text>
<text transform="translate(1718 988) rotate(-90)" font-size="33.5" text-anchor="middle">Output</text>
<text x="-0.7" y="516.6" font-size="47.1">(c)</text>
<text x="243.8" y="518.0" font-size="32.9">WGM cavity only</text>
<text x="675.3" y="516.6" font-size="47.9">(d)</text>
<text x="945.6" y="518.0" font-size="33.3">DFB laser only</text>
<text x="1349.5" y="516.6" font-size="47.4">(e)</text>
<text x="1519.8" y="517.7" font-size="33.0">WGM cavity and DFB laser</text>
</svg></body></html>
